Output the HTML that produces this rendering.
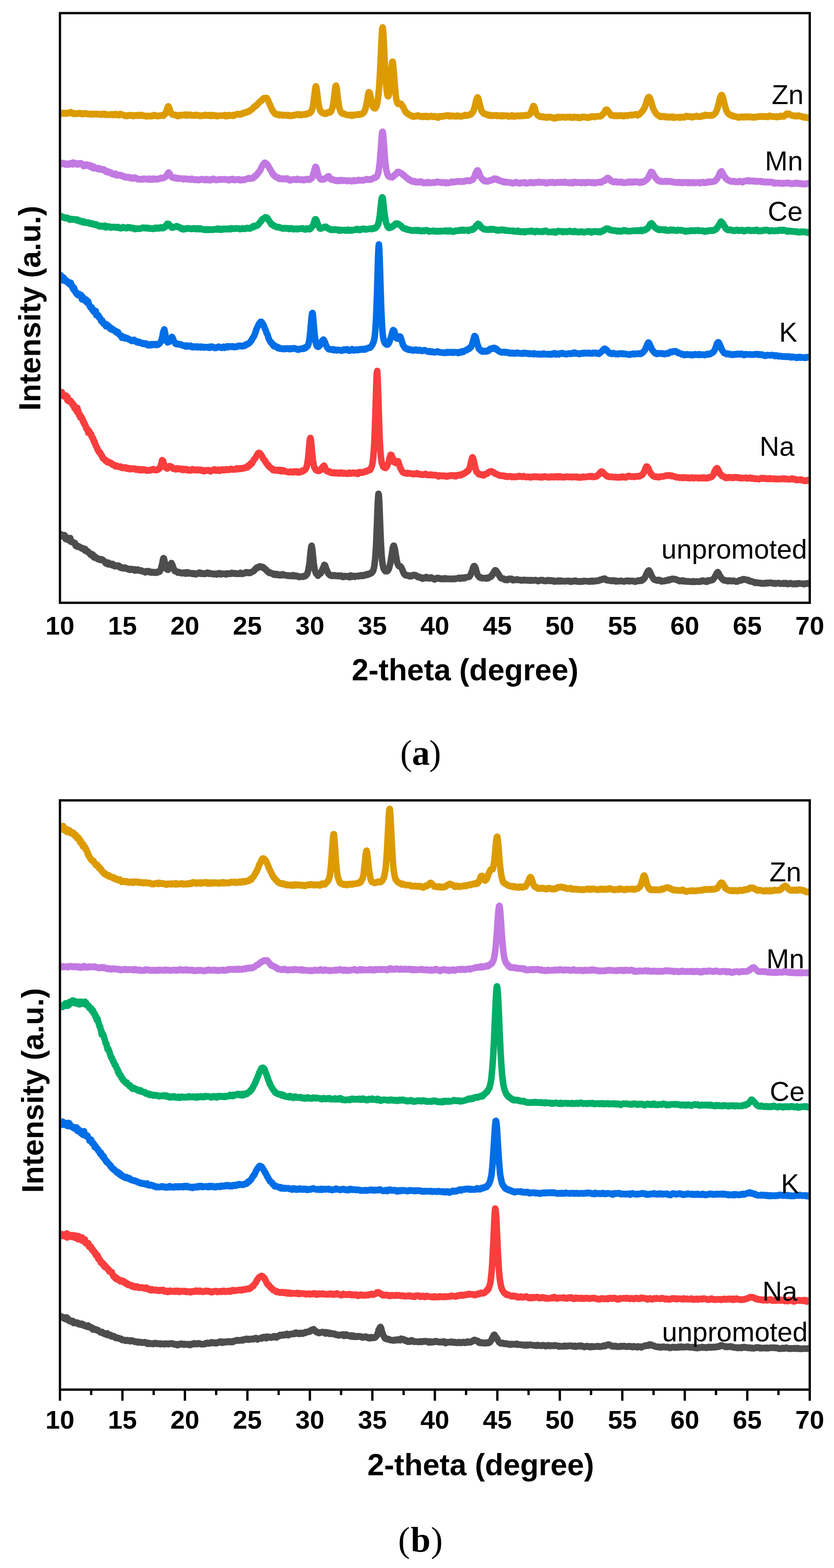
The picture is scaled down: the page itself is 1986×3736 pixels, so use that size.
<!DOCTYPE html>
<html><head><meta charset="utf-8"><title>XRD patterns</title>
<style>
html,body{margin:0;padding:0;background:#fff;}
body{width:1986px;height:3736px;overflow:hidden;}
svg{display:block;}
.tl{font-family:"Liberation Sans",Arial,sans-serif;font-weight:bold;font-size:62px;text-anchor:middle;fill:#000;}
.at{font-family:"Liberation Sans",Arial,sans-serif;font-weight:bold;font-size:72px;fill:#000;}
.lb{font-family:"Liberation Sans",Arial,sans-serif;font-size:65px;fill:#000;text-anchor:end;}
.cap{font-family:"Liberation Serif","Times New Roman",serif;font-size:85px;fill:#000;}
.cv polyline{fill:none;stroke-width:15.5;stroke-linejoin:round;stroke-linecap:round;}
</style></head>
<body>
<svg width="1986" height="3736" viewBox="0 0 1986 3736">
<rect x="0" y="0" width="1986" height="3736" fill="#fff"/>
<defs>
<clipPath id="ca"><rect x="145.5" y="34" width="1780" height="1399.5"/></clipPath>
<clipPath id="cb"><rect x="145.5" y="1910" width="1780" height="1398"/></clipPath>
</defs>
<g class="cv" clip-path="url(#ca)">
<polyline points="143.2,270.2 144.2,269.5 145.2,271.1 146.2,270.6 147.2,270.3 148.2,269.3 149.2,269.4 150.2,270.7 151.2,270.2 152.2,269.3 153.2,269.9 154.2,270.1 155.2,269.9 156.2,269.5 157.2,270.8 158.2,270.4 159.2,269.9 160.2,269.0 161.2,269.4 162.2,269.5 163.2,269.8 164.2,268.8 165.2,269.5 166.2,268.7 167.2,268.1 168.2,266.9 169.2,268.0 170.2,268.0 171.2,269.0 172.2,269.7 173.2,270.6 174.2,270.0 175.2,269.6 176.2,271.8 177.2,270.8 178.2,270.5 179.2,270.6 180.2,269.9 181.2,271.0 182.2,270.8 183.2,271.4 184.2,271.0 185.2,270.6 186.2,270.7 187.2,269.6 188.2,269.5 189.2,269.8 190.2,269.4 191.2,270.5 192.2,270.8 193.2,271.7 194.2,271.5 195.2,270.4 196.2,271.4 197.2,272.1 198.2,270.0 199.2,270.5 200.2,270.8 201.2,270.0 202.2,270.5 203.2,270.9 204.2,270.2 205.2,271.2 206.2,271.3 207.2,270.4 208.2,271.2 209.2,271.9 210.2,271.3 211.2,271.8 212.2,272.1 213.2,271.8 214.2,272.6 215.2,272.4 216.2,271.7 217.2,272.6 218.2,272.7 219.2,272.5 220.2,271.5 221.2,272.0 222.2,272.4 223.2,271.7 224.2,272.2 225.2,272.3 226.2,271.5 227.2,271.8 228.2,271.2 229.2,272.1 230.2,271.6 231.2,271.6 232.2,272.1 233.2,272.2 234.2,272.5 235.2,272.6 236.2,271.7 237.2,272.0 238.2,272.5 239.2,272.5 240.2,272.1 241.2,273.5 242.2,272.6 243.2,271.9 244.2,272.3 245.2,272.7 246.2,272.1 247.2,270.9 248.2,271.9 249.2,272.0 250.2,273.4 251.2,271.4 252.2,273.6 253.2,272.9 254.2,273.7 255.2,273.1 256.2,273.3 257.2,273.8 258.2,273.2 259.2,273.7 260.2,273.1 261.2,272.8 262.2,272.8 263.2,272.5 264.2,272.6 265.2,273.5 266.2,272.3 267.2,272.2 268.2,273.2 269.2,274.2 270.2,273.7 271.2,273.6 272.2,273.3 273.2,272.1 274.2,272.7 275.2,271.4 276.2,273.0 277.2,274.1 278.2,273.2 279.2,273.1 280.2,273.5 281.2,274.1 282.2,274.3 283.2,274.7 284.2,273.8 285.2,272.0 286.2,271.5 287.2,273.0 288.2,273.6 289.2,272.2 290.2,272.9 291.2,273.2 292.2,273.7 293.2,273.9 294.2,274.5 295.2,275.1 296.2,274.9 297.2,275.5 298.2,276.6 299.2,275.2 300.2,275.3 301.2,276.1 302.2,276.7 303.2,275.5 304.2,275.9 305.2,274.9 306.2,275.4 307.2,274.3 308.2,274.8 309.2,274.5 310.2,274.5 311.2,275.1 312.2,275.2 313.2,274.5 314.2,275.6 315.2,274.3 316.2,275.8 317.2,276.8 318.2,275.5 319.2,275.3 320.2,275.1 321.2,275.5 322.2,274.8 323.2,275.5 324.2,274.9 325.2,274.8 326.2,275.0 327.2,274.8 328.2,273.9 329.2,275.9 330.2,274.9 331.2,273.9 332.2,275.5 333.2,275.0 334.2,275.2 335.2,275.6 336.2,274.7 337.2,273.7 338.2,275.2 339.2,275.5 340.2,276.0 341.2,275.2 342.2,275.6 343.2,276.1 344.2,275.8 345.2,276.1 346.2,276.6 347.2,276.1 348.2,277.6 349.2,276.2 350.2,276.7 351.2,276.3 352.2,276.0 353.2,276.5 354.2,276.7 355.2,276.9 356.2,276.5 357.2,276.1 358.2,277.0 359.2,275.9 360.2,276.8 361.2,276.9 362.2,276.7 363.2,275.4 364.2,274.9 365.2,276.3 366.2,274.9 367.2,274.0 368.2,274.1 369.2,274.8 370.2,275.6 371.2,275.2 372.2,276.3 373.2,276.2 374.2,276.6 375.2,276.9 376.2,276.1 377.2,276.2 378.2,275.7 379.2,275.4 380.2,276.0 381.2,275.2 382.2,275.5 383.2,274.9 384.2,275.0 385.2,274.6 386.2,275.5 387.2,275.0 388.2,275.0 389.2,275.9 390.2,273.2 391.2,273.6 392.2,271.8 393.2,272.0 394.2,270.4 395.2,268.2 396.2,265.2 397.2,261.4 398.2,259.6 399.2,255.9 400.2,253.8 401.2,253.3 402.2,255.7 403.2,257.9 404.2,261.0 405.2,264.3 406.2,266.8 407.2,268.4 408.2,271.1 409.2,271.1 410.2,271.9 411.2,273.2 412.2,273.4 413.2,273.6 414.2,273.4 415.2,273.8 416.2,273.7 417.2,273.5 418.2,275.0 419.2,274.4 420.2,275.0 421.2,275.6 422.2,275.3 423.2,276.8 424.2,274.5 425.2,274.7 426.2,275.1 427.2,275.6 428.2,274.8 429.2,274.1 430.2,275.5 431.2,274.3 432.2,274.6 433.2,275.0 434.2,274.0 435.2,274.0 436.2,274.4 437.2,273.9 438.2,274.0 439.2,273.3 440.2,273.7 441.2,273.2 442.2,273.1 443.2,275.2 444.2,274.8 445.2,275.2 446.2,274.3 447.2,274.7 448.2,274.3 449.2,273.3 450.2,274.1 451.2,273.4 452.2,273.7 453.2,273.3 454.2,275.0 455.2,275.1 456.2,275.1 457.2,274.5 458.2,274.6 459.2,275.4 460.2,274.5 461.2,274.7 462.2,274.6 463.2,274.0 464.2,275.6 465.2,273.8 466.2,275.0 467.2,274.8 468.2,273.8 469.2,274.6 470.2,274.6 471.2,274.5 472.2,274.3 473.2,275.4 474.2,276.0 475.2,275.7 476.2,276.5 477.2,276.0 478.2,275.9 479.2,276.2 480.2,275.1 481.2,275.1 482.2,275.6 483.2,275.4 484.2,275.6 485.2,275.1 486.2,274.2 487.2,274.1 488.2,273.8 489.2,273.9 490.2,274.1 491.2,275.2 492.2,274.7 493.2,274.8 494.2,275.1 495.2,274.7 496.2,274.9 497.2,274.1 498.2,275.7 499.2,275.6 500.2,275.9 501.2,275.8 502.2,274.3 503.2,276.4 504.2,275.1 505.2,275.1 506.2,274.1 507.2,275.4 508.2,275.3 509.2,274.9 510.2,275.2 511.2,275.9 512.2,275.2 513.2,275.0 514.2,276.3 515.2,275.8 516.2,275.6 517.2,277.0 518.2,275.8 519.2,275.7 520.2,276.0 521.2,275.7 522.2,276.0 523.2,275.9 524.2,275.3 525.2,275.4 526.2,275.5 527.2,275.5 528.2,275.5 529.2,275.5 530.2,275.2 531.2,275.3 532.2,274.8 533.2,274.8 534.2,275.5 535.2,274.0 536.2,275.4 537.2,277.0 538.2,274.6 539.2,276.6 540.2,274.9 541.2,276.0 542.2,276.6 543.2,276.3 544.2,274.7 545.2,274.3 546.2,274.1 547.2,275.2 548.2,274.6 549.2,274.9 550.2,275.2 551.2,275.4 552.2,275.7 553.2,275.6 554.2,274.7 555.2,276.2 556.2,273.7 557.2,275.5 558.2,274.2 559.2,274.0 560.2,273.5 561.2,273.2 562.2,273.1 563.2,272.6 564.2,271.9 565.2,272.7 566.2,271.8 567.2,272.8 568.2,272.1 569.2,271.9 570.2,272.6 571.2,272.9 572.2,271.9 573.2,272.1 574.2,272.7 575.2,271.0 576.2,270.7 577.2,270.9 578.2,269.8 579.2,268.8 580.2,268.9 581.2,269.5 582.2,269.2 583.2,268.7 584.2,268.2 585.2,267.1 586.2,267.8 587.2,267.9 588.2,266.7 589.2,267.3 590.2,266.1 591.2,265.9 592.2,265.3 593.2,263.8 594.2,264.9 595.2,263.2 596.2,263.0 597.2,262.2 598.2,261.8 599.2,260.9 600.2,259.7 601.2,259.5 602.2,258.2 603.2,257.1 604.2,255.1 605.2,255.6 606.2,254.6 607.2,253.3 608.2,252.3 609.2,252.2 610.2,251.6 611.2,251.2 612.2,249.9 613.2,248.0 614.2,247.5 615.2,245.7 616.2,245.8 617.2,244.6 618.2,243.0 619.2,242.1 620.2,241.0 621.2,239.8 622.2,239.8 623.2,239.8 624.2,237.6 625.2,236.8 626.2,235.5 627.2,234.6 628.2,235.5 629.2,233.8 630.2,234.0 631.2,233.6 632.2,233.9 633.2,233.5 634.2,233.9 635.2,233.4 636.2,235.1 637.2,237.5 638.2,238.2 639.2,240.7 640.2,244.2 641.2,246.1 642.2,248.9 643.2,249.5 644.2,253.0 645.2,254.5 646.2,256.7 647.2,259.8 648.2,262.3 649.2,262.8 650.2,264.6 651.2,266.4 652.2,267.8 653.2,268.2 654.2,270.9 655.2,270.7 656.2,270.8 657.2,271.2 658.2,273.1 659.2,273.3 660.2,272.2 661.2,272.9 662.2,273.7 663.2,272.8 664.2,273.4 665.2,274.7 666.2,273.7 667.2,273.8 668.2,273.2 669.2,273.4 670.2,274.2 671.2,273.6 672.2,273.6 673.2,274.1 674.2,275.3 675.2,274.5 676.2,274.0 677.2,274.4 678.2,274.7 679.2,274.7 680.2,273.9 681.2,275.1 682.2,274.7 683.2,275.1 684.2,273.9 685.2,275.1 686.2,274.5 687.2,274.1 688.2,276.1 689.2,275.3 690.2,275.9 691.2,275.7 692.2,276.3 693.2,276.2 694.2,276.1 695.2,275.8 696.2,274.4 697.2,274.3 698.2,275.2 699.2,274.5 700.2,275.1 701.2,274.8 702.2,273.7 703.2,273.6 704.2,273.2 705.2,272.9 706.2,273.0 707.2,273.2 708.2,273.5 709.2,272.2 710.2,272.6 711.2,274.0 712.2,274.0 713.2,273.9 714.2,272.7 715.2,273.5 716.2,274.0 717.2,273.3 718.2,274.4 719.2,273.2 720.2,273.2 721.2,272.4 722.2,272.4 723.2,272.7 724.2,272.7 725.2,272.9 726.2,273.1 727.2,272.8 728.2,272.9 729.2,271.2 730.2,271.6 731.2,271.1 732.2,271.4 733.2,270.1 734.2,270.2 735.2,269.5 736.2,270.1 737.2,270.0 738.2,269.0 739.2,268.4 740.2,267.5 741.2,266.3 742.2,263.1 743.2,261.3 744.2,256.7 745.2,252.9 746.2,246.6 747.2,238.4 748.2,230.2 749.2,223.4 750.2,214.4 751.2,208.4 752.2,205.5 753.2,207.6 754.2,213.8 755.2,221.6 756.2,229.4 757.2,238.8 758.2,245.4 759.2,250.6 760.2,256.3 761.2,259.3 762.2,262.6 763.2,263.9 764.2,266.0 765.2,266.1 766.2,268.1 767.2,267.8 768.2,269.3 769.2,268.2 770.2,269.9 771.2,270.6 772.2,270.6 773.2,271.0 774.2,269.8 775.2,271.2 776.2,271.1 777.2,269.4 778.2,269.3 779.2,269.1 780.2,269.0 781.2,268.7 782.2,267.0 783.2,268.5 784.2,267.8 785.2,267.2 786.2,267.9 787.2,266.4 788.2,265.9 789.2,263.7 790.2,260.8 791.2,258.6 792.2,254.6 793.2,249.0 794.2,242.2 795.2,235.2 796.2,227.3 797.2,217.9 798.2,211.1 799.2,205.1 800.2,204.1 801.2,207.6 802.2,213.7 803.2,222.7 804.2,231.3 805.2,238.6 806.2,246.1 807.2,253.3 808.2,257.4 809.2,261.1 810.2,263.1 811.2,265.7 812.2,267.9 813.2,268.7 814.2,269.1 815.2,270.7 816.2,270.2 817.2,270.4 818.2,271.6 819.2,270.4 820.2,272.1 821.2,271.6 822.2,272.2 823.2,272.7 824.2,273.4 825.2,273.6 826.2,273.9 827.2,273.9 828.2,274.5 829.2,274.6 830.2,274.1 831.2,274.2 832.2,273.8 833.2,273.6 834.2,274.7 835.2,274.5 836.2,275.0 837.2,273.6 838.2,276.1 839.2,274.0 840.2,274.8 841.2,275.4 842.2,274.2 843.2,274.6 844.2,273.6 845.2,273.6 846.2,273.0 847.2,273.7 848.2,273.5 849.2,272.9 850.2,273.6 851.2,273.5 852.2,272.5 853.2,272.3 854.2,272.2 855.2,272.1 856.2,273.0 857.2,272.5 858.2,272.2 859.2,272.2 860.2,272.4 861.2,271.5 862.2,271.3 863.2,270.4 864.2,270.4 865.2,269.5 866.2,267.0 867.2,266.4 868.2,265.1 869.2,262.0 870.2,259.6 871.2,255.5 872.2,251.1 873.2,245.5 874.2,240.0 875.2,234.2 876.2,227.3 877.2,222.8 878.2,219.5 879.2,220.1 880.2,221.0 881.2,224.6 882.2,229.3 883.2,234.2 884.2,239.3 885.2,244.8 886.2,248.2 887.2,252.6 888.2,254.4 889.2,256.2 890.2,257.2 891.2,257.8 892.2,258.0 893.2,258.4 894.2,258.0 895.2,254.8 896.2,253.5 897.2,250.9 898.2,246.1 899.2,241.2 900.2,234.6 901.2,225.0 902.2,215.8 903.2,201.8 904.2,185.4 905.2,166.4 906.2,145.0 907.2,123.4 908.2,100.2 909.2,81.6 910.2,68.3 911.2,65.1 912.2,70.8 913.2,85.2 914.2,104.4 915.2,126.2 916.2,148.4 917.2,168.3 918.2,185.3 919.2,198.8 920.2,210.6 921.2,217.6 922.2,225.3 923.2,228.3 924.2,229.6 925.2,228.9 926.2,224.6 927.2,219.5 928.2,210.7 929.2,201.0 930.2,188.6 931.2,176.1 932.2,164.2 933.2,152.8 934.2,147.0 935.2,147.2 936.2,153.6 937.2,165.5 938.2,176.8 939.2,189.6 940.2,203.3 941.2,214.4 942.2,224.8 943.2,233.0 944.2,238.5 945.2,242.7 946.2,244.6 947.2,247.0 948.2,247.0 949.2,247.9 950.2,247.6 951.2,246.4 952.2,246.6 953.2,247.0 954.2,247.8 955.2,247.3 956.2,249.2 957.2,251.5 958.2,252.0 959.2,253.8 960.2,255.5 961.2,256.7 962.2,259.8 963.2,261.5 964.2,263.4 965.2,265.6 966.2,267.2 967.2,267.2 968.2,269.4 969.2,269.7 970.2,270.8 971.2,270.9 972.2,271.4 973.2,272.9 974.2,273.0 975.2,273.5 976.2,274.2 977.2,275.1 978.2,275.7 979.2,275.0 980.2,276.1 981.2,276.7 982.2,277.4 983.2,277.8 984.2,276.7 985.2,278.1 986.2,277.2 987.2,277.3 988.2,276.7 989.2,276.4 990.2,277.2 991.2,276.1 992.2,275.9 993.2,276.3 994.2,276.4 995.2,274.7 996.2,275.4 997.2,275.6 998.2,276.8 999.2,277.5 1000.2,276.6 1001.2,277.2 1002.2,277.8 1003.2,278.3 1004.2,277.8 1005.2,278.5 1006.2,277.7 1007.2,276.6 1008.2,277.2 1009.2,277.9 1010.2,278.1 1011.2,276.6 1012.2,276.9 1013.2,277.9 1014.2,276.3 1015.2,278.3 1016.2,278.6 1017.2,276.6 1018.2,278.5 1019.2,277.9 1020.2,278.7 1021.2,277.9 1022.2,277.4 1023.2,277.2 1024.2,277.4 1025.2,276.9 1026.2,276.8 1027.2,276.1 1028.2,277.4 1029.2,277.4 1030.2,278.6 1031.2,277.8 1032.2,277.7 1033.2,277.2 1034.2,277.6 1035.2,277.0 1036.2,276.9 1037.2,278.4 1038.2,279.0 1039.2,278.3 1040.2,278.3 1041.2,279.6 1042.2,278.7 1043.2,280.5 1044.2,278.7 1045.2,278.9 1046.2,277.4 1047.2,277.6 1048.2,277.8 1049.2,277.3 1050.2,276.7 1051.2,278.3 1052.2,277.4 1053.2,276.9 1054.2,276.7 1055.2,276.7 1056.2,277.4 1057.2,276.2 1058.2,276.4 1059.2,275.8 1060.2,276.6 1061.2,275.7 1062.2,276.0 1063.2,275.7 1064.2,275.1 1065.2,275.7 1066.2,275.8 1067.2,274.7 1068.2,275.6 1069.2,277.2 1070.2,275.4 1071.2,276.2 1072.2,275.5 1073.2,276.7 1074.2,276.3 1075.2,276.9 1076.2,276.4 1077.2,275.7 1078.2,276.7 1079.2,276.1 1080.2,275.8 1081.2,276.6 1082.2,276.3 1083.2,277.3 1084.2,277.1 1085.2,276.9 1086.2,277.3 1087.2,276.0 1088.2,276.9 1089.2,275.2 1090.2,277.0 1091.2,276.4 1092.2,276.4 1093.2,276.3 1094.2,277.2 1095.2,276.9 1096.2,276.9 1097.2,277.4 1098.2,276.5 1099.2,276.5 1100.2,276.7 1101.2,276.9 1102.2,276.1 1103.2,276.0 1104.2,275.7 1105.2,275.7 1106.2,275.7 1107.2,274.1 1108.2,274.2 1109.2,274.1 1110.2,274.5 1111.2,275.1 1112.2,274.5 1113.2,274.8 1114.2,275.3 1115.2,273.9 1116.2,273.8 1117.2,273.6 1118.2,273.4 1119.2,273.0 1120.2,272.1 1121.2,272.7 1122.2,270.6 1123.2,270.0 1124.2,269.6 1125.2,268.3 1126.2,266.3 1127.2,264.5 1128.2,262.2 1129.2,258.7 1130.2,255.6 1131.2,251.0 1132.2,247.5 1133.2,242.4 1134.2,238.7 1135.2,235.0 1136.2,233.7 1137.2,231.8 1138.2,233.1 1139.2,235.0 1140.2,239.0 1141.2,243.3 1142.2,247.3 1143.2,252.3 1144.2,254.8 1145.2,259.5 1146.2,263.5 1147.2,264.1 1148.2,266.4 1149.2,267.0 1150.2,268.9 1151.2,268.9 1152.2,271.0 1153.2,271.1 1154.2,270.9 1155.2,271.5 1156.2,271.6 1157.2,272.5 1158.2,273.3 1159.2,273.0 1160.2,273.0 1161.2,273.7 1162.2,274.7 1163.2,273.6 1164.2,275.4 1165.2,275.4 1166.2,273.8 1167.2,275.8 1168.2,274.4 1169.2,275.3 1170.2,276.1 1171.2,274.7 1172.2,274.7 1173.2,275.2 1174.2,275.4 1175.2,275.9 1176.2,275.5 1177.2,275.3 1178.2,275.0 1179.2,275.0 1180.2,274.6 1181.2,275.3 1182.2,275.2 1183.2,274.7 1184.2,276.4 1185.2,274.8 1186.2,276.0 1187.2,275.3 1188.2,275.9 1189.2,276.1 1190.2,276.2 1191.2,276.4 1192.2,275.1 1193.2,276.9 1194.2,275.5 1195.2,274.9 1196.2,274.7 1197.2,276.9 1198.2,276.6 1199.2,275.8 1200.2,276.2 1201.2,276.4 1202.2,275.6 1203.2,275.3 1204.2,275.5 1205.2,276.0 1206.2,275.7 1207.2,275.3 1208.2,276.7 1209.2,275.7 1210.2,276.5 1211.2,277.8 1212.2,277.4 1213.2,277.4 1214.2,277.1 1215.2,277.3 1216.2,276.5 1217.2,275.2 1218.2,276.3 1219.2,274.6 1220.2,275.2 1221.2,277.3 1222.2,277.1 1223.2,276.6 1224.2,276.9 1225.2,277.1 1226.2,277.5 1227.2,276.3 1228.2,275.9 1229.2,275.7 1230.2,275.9 1231.2,275.8 1232.2,275.5 1233.2,276.3 1234.2,275.5 1235.2,276.3 1236.2,276.1 1237.2,275.9 1238.2,276.9 1239.2,275.9 1240.2,275.3 1241.2,275.7 1242.2,275.2 1243.2,276.0 1244.2,276.2 1245.2,276.2 1246.2,275.0 1247.2,275.3 1248.2,276.1 1249.2,274.9 1250.2,275.6 1251.2,275.7 1252.2,274.2 1253.2,275.5 1254.2,275.2 1255.2,275.2 1256.2,275.5 1257.2,274.7 1258.2,274.2 1259.2,274.1 1260.2,273.0 1261.2,272.5 1262.2,270.0 1263.2,270.4 1264.2,267.3 1265.2,265.5 1266.2,262.8 1267.2,259.9 1268.2,257.2 1269.2,254.8 1270.2,252.5 1271.2,252.9 1272.2,255.2 1273.2,256.6 1274.2,259.8 1275.2,264.8 1276.2,267.5 1277.2,270.2 1278.2,271.5 1279.2,273.2 1280.2,274.6 1281.2,275.5 1282.2,275.9 1283.2,275.8 1284.2,276.7 1285.2,276.7 1286.2,278.5 1287.2,277.7 1288.2,278.0 1289.2,278.3 1290.2,278.1 1291.2,278.4 1292.2,277.8 1293.2,277.4 1294.2,279.3 1295.2,278.3 1296.2,278.8 1297.2,279.0 1298.2,279.4 1299.2,279.8 1300.2,280.2 1301.2,279.2 1302.2,279.7 1303.2,279.1 1304.2,280.0 1305.2,278.8 1306.2,279.5 1307.2,279.8 1308.2,278.7 1309.2,279.3 1310.2,279.2 1311.2,278.7 1312.2,279.0 1313.2,279.9 1314.2,279.8 1315.2,279.8 1316.2,280.3 1317.2,281.0 1318.2,281.7 1319.2,281.6 1320.2,281.7 1321.2,282.2 1322.2,280.6 1323.2,280.6 1324.2,279.9 1325.2,281.0 1326.2,278.9 1327.2,279.6 1328.2,279.7 1329.2,278.6 1330.2,279.1 1331.2,279.5 1332.2,280.0 1333.2,278.9 1334.2,279.7 1335.2,279.8 1336.2,279.4 1337.2,279.3 1338.2,279.7 1339.2,279.1 1340.2,278.9 1341.2,278.7 1342.2,279.2 1343.2,278.8 1344.2,279.4 1345.2,279.3 1346.2,280.0 1347.2,279.1 1348.2,279.4 1349.2,279.3 1350.2,279.0 1351.2,279.1 1352.2,278.6 1353.2,278.9 1354.2,279.5 1355.2,279.1 1356.2,278.4 1357.2,278.4 1358.2,279.7 1359.2,279.4 1360.2,279.9 1361.2,279.8 1362.2,280.6 1363.2,280.5 1364.2,279.3 1365.2,279.8 1366.2,279.4 1367.2,278.7 1368.2,279.4 1369.2,278.8 1370.2,279.0 1371.2,280.0 1372.2,279.4 1373.2,279.5 1374.2,279.0 1375.2,279.0 1376.2,280.5 1377.2,280.0 1378.2,280.4 1379.2,280.1 1380.2,280.2 1381.2,281.2 1382.2,279.6 1383.2,279.5 1384.2,279.5 1385.2,279.4 1386.2,278.6 1387.2,278.2 1388.2,278.9 1389.2,279.2 1390.2,279.0 1391.2,279.0 1392.2,279.1 1393.2,279.4 1394.2,279.5 1395.2,278.9 1396.2,279.6 1397.2,280.3 1398.2,280.2 1399.2,279.6 1400.2,280.1 1401.2,280.2 1402.2,280.4 1403.2,279.0 1404.2,279.8 1405.2,278.8 1406.2,278.8 1407.2,278.7 1408.2,277.6 1409.2,277.4 1410.2,277.6 1411.2,278.0 1412.2,277.4 1413.2,277.2 1414.2,277.8 1415.2,278.5 1416.2,279.0 1417.2,278.2 1418.2,278.1 1419.2,277.9 1420.2,277.6 1421.2,276.9 1422.2,276.9 1423.2,277.2 1424.2,277.2 1425.2,277.3 1426.2,276.9 1427.2,277.1 1428.2,276.8 1429.2,277.4 1430.2,277.1 1431.2,276.0 1432.2,276.0 1433.2,274.4 1434.2,273.6 1435.2,272.2 1436.2,272.0 1437.2,270.4 1438.2,269.3 1439.2,267.9 1440.2,265.8 1441.2,263.6 1442.2,262.6 1443.2,261.5 1444.2,261.1 1445.2,261.6 1446.2,261.9 1447.2,263.2 1448.2,265.7 1449.2,267.1 1450.2,268.1 1451.2,269.1 1452.2,270.6 1453.2,272.1 1454.2,273.4 1455.2,275.0 1456.2,274.5 1457.2,275.2 1458.2,275.2 1459.2,275.4 1460.2,275.1 1461.2,274.6 1462.2,275.7 1463.2,275.4 1464.2,276.2 1465.2,275.5 1466.2,276.1 1467.2,276.4 1468.2,275.1 1469.2,275.4 1470.2,276.4 1471.2,276.1 1472.2,275.2 1473.2,275.7 1474.2,275.4 1475.2,275.5 1476.2,276.3 1477.2,275.1 1478.2,276.3 1479.2,275.1 1480.2,274.9 1481.2,276.1 1482.2,276.0 1483.2,276.4 1484.2,276.9 1485.2,276.6 1486.2,276.7 1487.2,275.1 1488.2,275.3 1489.2,275.6 1490.2,275.3 1491.2,275.6 1492.2,275.0 1493.2,275.7 1494.2,276.0 1495.2,275.0 1496.2,274.8 1497.2,274.5 1498.2,274.7 1499.2,274.4 1500.2,274.1 1501.2,274.6 1502.2,274.6 1503.2,273.6 1504.2,274.5 1505.2,274.3 1506.2,274.3 1507.2,273.8 1508.2,274.2 1509.2,274.0 1510.2,273.0 1511.2,273.2 1512.2,273.2 1513.2,273.1 1514.2,272.2 1515.2,272.2 1516.2,273.0 1517.2,272.7 1518.2,274.9 1519.2,273.2 1520.2,273.1 1521.2,273.5 1522.2,272.3 1523.2,270.6 1524.2,271.0 1525.2,269.6 1526.2,268.8 1527.2,267.1 1528.2,266.4 1529.2,265.6 1530.2,264.4 1531.2,262.6 1532.2,261.3 1533.2,259.6 1534.2,258.2 1535.2,255.8 1536.2,252.7 1537.2,250.8 1538.2,246.9 1539.2,244.2 1540.2,240.2 1541.2,237.7 1542.2,234.7 1543.2,232.7 1544.2,231.5 1545.2,231.1 1546.2,231.7 1547.2,233.3 1548.2,235.0 1549.2,238.5 1550.2,240.6 1551.2,243.9 1552.2,248.1 1553.2,251.3 1554.2,255.2 1555.2,257.5 1556.2,260.2 1557.2,261.6 1558.2,263.9 1559.2,266.0 1560.2,267.3 1561.2,268.8 1562.2,270.3 1563.2,271.2 1564.2,272.4 1565.2,273.0 1566.2,274.6 1567.2,274.7 1568.2,274.9 1569.2,275.9 1570.2,276.0 1571.2,277.4 1572.2,278.4 1573.2,278.0 1574.2,277.6 1575.2,277.1 1576.2,278.7 1577.2,277.9 1578.2,277.0 1579.2,278.0 1580.2,276.7 1581.2,277.3 1582.2,277.5 1583.2,277.6 1584.2,277.4 1585.2,279.4 1586.2,278.2 1587.2,278.8 1588.2,278.8 1589.2,278.1 1590.2,278.8 1591.2,279.3 1592.2,279.8 1593.2,279.3 1594.2,279.7 1595.2,279.4 1596.2,279.7 1597.2,278.1 1598.2,279.4 1599.2,278.7 1600.2,278.7 1601.2,277.7 1602.2,278.8 1603.2,279.8 1604.2,280.7 1605.2,279.3 1606.2,279.4 1607.2,279.9 1608.2,279.8 1609.2,279.2 1610.2,279.2 1611.2,279.0 1612.2,279.3 1613.2,279.4 1614.2,279.9 1615.2,279.7 1616.2,279.7 1617.2,279.6 1618.2,280.0 1619.2,278.8 1620.2,280.2 1621.2,279.0 1622.2,279.5 1623.2,278.5 1624.2,279.6 1625.2,279.5 1626.2,279.3 1627.2,279.2 1628.2,279.0 1629.2,280.0 1630.2,279.3 1631.2,278.2 1632.2,277.8 1633.2,277.1 1634.2,276.5 1635.2,276.7 1636.2,277.4 1637.2,277.8 1638.2,277.3 1639.2,278.3 1640.2,278.2 1641.2,278.1 1642.2,277.2 1643.2,278.1 1644.2,278.4 1645.2,277.9 1646.2,277.5 1647.2,279.6 1648.2,278.9 1649.2,278.3 1650.2,279.1 1651.2,278.6 1652.2,278.0 1653.2,277.5 1654.2,277.6 1655.2,277.8 1656.2,277.1 1657.2,277.1 1658.2,277.7 1659.2,276.2 1660.2,277.8 1661.2,277.7 1662.2,277.9 1663.2,277.9 1664.2,278.3 1665.2,278.3 1666.2,278.3 1667.2,278.1 1668.2,278.2 1669.2,277.3 1670.2,277.7 1671.2,276.0 1672.2,276.7 1673.2,276.7 1674.2,275.7 1675.2,276.0 1676.2,276.6 1677.2,275.6 1678.2,274.8 1679.2,273.5 1680.2,274.9 1681.2,274.6 1682.2,274.8 1683.2,275.5 1684.2,274.5 1685.2,274.7 1686.2,274.4 1687.2,274.7 1688.2,274.8 1689.2,275.2 1690.2,275.1 1691.2,274.4 1692.2,274.6 1693.2,275.5 1694.2,274.3 1695.2,275.1 1696.2,275.3 1697.2,274.5 1698.2,273.8 1699.2,273.7 1700.2,272.4 1701.2,271.4 1702.2,270.3 1703.2,269.8 1704.2,268.2 1705.2,266.9 1706.2,263.8 1707.2,261.3 1708.2,258.3 1709.2,255.4 1710.2,251.3 1711.2,248.3 1712.2,244.0 1713.2,239.3 1714.2,234.4 1715.2,231.3 1716.2,229.9 1717.2,227.1 1718.2,226.4 1719.2,226.8 1720.2,229.2 1721.2,231.0 1722.2,234.6 1723.2,238.8 1724.2,243.8 1725.2,248.1 1726.2,251.9 1727.2,255.3 1728.2,258.0 1729.2,262.1 1730.2,264.1 1731.2,266.4 1732.2,268.2 1733.2,269.4 1734.2,270.5 1735.2,271.5 1736.2,271.8 1737.2,273.1 1738.2,273.3 1739.2,274.3 1740.2,273.4 1741.2,275.5 1742.2,275.5 1743.2,275.9 1744.2,275.9 1745.2,276.2 1746.2,276.0 1747.2,277.4 1748.2,277.0 1749.2,277.6 1750.2,277.8 1751.2,277.4 1752.2,277.8 1753.2,278.1 1754.2,279.1 1755.2,278.9 1756.2,279.1 1757.2,279.6 1758.2,279.3 1759.2,280.3 1760.2,278.8 1761.2,279.8 1762.2,279.7 1763.2,278.3 1764.2,279.1 1765.2,278.7 1766.2,279.0 1767.2,278.0 1768.2,278.9 1769.2,278.4 1770.2,278.8 1771.2,279.8 1772.2,279.0 1773.2,277.9 1774.2,278.3 1775.2,278.4 1776.2,279.3 1777.2,278.4 1778.2,277.8 1779.2,279.0 1780.2,278.4 1781.2,278.4 1782.2,277.9 1783.2,279.2 1784.2,278.6 1785.2,277.8 1786.2,278.4 1787.2,278.6 1788.2,278.9 1789.2,279.3 1790.2,278.4 1791.2,278.5 1792.2,280.0 1793.2,279.1 1794.2,279.0 1795.2,279.4 1796.2,278.7 1797.2,279.5 1798.2,279.6 1799.2,278.7 1800.2,279.4 1801.2,278.7 1802.2,278.9 1803.2,278.3 1804.2,278.1 1805.2,277.6 1806.2,278.3 1807.2,277.9 1808.2,277.9 1809.2,277.3 1810.2,277.2 1811.2,277.3 1812.2,277.7 1813.2,277.5 1814.2,277.0 1815.2,277.5 1816.2,278.2 1817.2,277.3 1818.2,278.3 1819.2,277.5 1820.2,278.0 1821.2,277.2 1822.2,278.2 1823.2,277.2 1824.2,278.1 1825.2,278.0 1826.2,277.3 1827.2,277.7 1828.2,278.9 1829.2,278.3 1830.2,278.4 1831.2,277.6 1832.2,275.7 1833.2,277.2 1834.2,276.8 1835.2,276.9 1836.2,277.0 1837.2,277.0 1838.2,277.0 1839.2,278.1 1840.2,277.7 1841.2,277.2 1842.2,277.4 1843.2,278.3 1844.2,278.1 1845.2,278.2 1846.2,277.6 1847.2,278.2 1848.2,277.9 1849.2,277.6 1850.2,279.1 1851.2,278.5 1852.2,278.3 1853.2,277.7 1854.2,278.2 1855.2,278.4 1856.2,277.4 1857.2,277.4 1858.2,276.2 1859.2,276.9 1860.2,276.9 1861.2,277.5 1862.2,276.8 1863.2,276.4 1864.2,276.9 1865.2,276.8 1866.2,277.6 1867.2,276.9 1868.2,276.1 1869.2,275.2 1870.2,274.7 1871.2,273.2 1872.2,272.1 1873.2,270.9 1874.2,271.8 1875.2,271.0 1876.2,270.9 1877.2,270.7 1878.2,271.9 1879.2,271.3 1880.2,273.1 1881.2,272.8 1882.2,273.7 1883.2,273.8 1884.2,274.9 1885.2,274.9 1886.2,275.5 1887.2,275.2 1888.2,275.0 1889.2,276.1 1890.2,276.6 1891.2,276.5 1892.2,276.3 1893.2,276.6 1894.2,275.7 1895.2,276.4 1896.2,277.1 1897.2,276.7 1898.2,275.9 1899.2,276.7 1900.2,276.1 1901.2,276.4 1902.2,275.4 1903.2,276.0 1904.2,276.7 1905.2,276.9 1906.2,277.3 1907.2,277.2 1908.2,277.3 1909.2,277.9 1910.2,278.5 1911.2,277.7 1912.2,278.7 1913.2,279.1 1914.2,279.5 1915.2,280.1 1916.2,279.0 1917.2,279.9 1918.2,278.9 1919.2,279.5 1920.2,279.9 1921.2,280.4 1922.2,280.5 1923.2,280.9 1924.2,281.3 1925.2,281.6 1926.2,281.1 1927.2,281.6 1927.8,282.3" stroke="#DC9B00"/>
<polyline points="143.2,389.8 144.2,391.6 145.2,389.9 146.2,390.6 147.2,390.1 148.2,388.3 149.2,389.4 150.2,390.4 151.2,389.9 152.2,389.9 153.2,389.1 154.2,391.6 155.2,389.6 156.2,392.3 157.2,391.0 158.2,391.9 159.2,389.9 160.2,391.6 161.2,390.5 162.2,391.3 163.2,392.2 164.2,391.0 165.2,390.6 166.2,391.1 167.2,388.7 168.2,390.0 169.2,389.2 170.2,391.0 171.2,389.1 172.2,391.4 173.2,391.8 174.2,387.3 175.2,389.3 176.2,387.8 177.2,390.8 178.2,388.8 179.2,390.6 180.2,390.5 181.2,389.5 182.2,389.0 183.2,391.8 184.2,390.0 185.2,390.8 186.2,391.9 187.2,390.3 188.2,389.8 189.2,388.9 190.2,390.5 191.2,389.3 192.2,388.8 193.2,390.3 194.2,390.8 195.2,390.3 196.2,392.2 197.2,393.8 198.2,394.0 199.2,395.9 200.2,395.2 201.2,394.4 202.2,392.0 203.2,394.0 204.2,394.7 205.2,392.9 206.2,394.4 207.2,391.9 208.2,393.2 209.2,393.9 210.2,395.0 211.2,393.6 212.2,396.0 213.2,394.2 214.2,393.5 215.2,395.9 216.2,398.0 217.2,396.8 218.2,399.0 219.2,397.5 220.2,399.7 221.2,396.2 222.2,400.9 223.2,397.4 224.2,399.7 225.2,399.0 226.2,400.6 227.2,400.2 228.2,400.2 229.2,401.3 230.2,401.8 231.2,400.9 232.2,402.7 233.2,400.3 234.2,401.2 235.2,401.2 236.2,403.2 237.2,403.8 238.2,402.7 239.2,402.6 240.2,402.2 241.2,403.8 242.2,404.3 243.2,403.0 244.2,403.6 245.2,403.8 246.2,404.7 247.2,405.6 248.2,403.9 249.2,405.9 250.2,407.6 251.2,406.7 252.2,409.0 253.2,409.6 254.2,407.9 255.2,408.4 256.2,410.5 257.2,408.5 258.2,409.4 259.2,409.4 260.2,411.1 261.2,411.7 262.2,412.0 263.2,412.1 264.2,411.0 265.2,413.4 266.2,412.8 267.2,413.1 268.2,415.2 269.2,414.3 270.2,414.7 271.2,415.1 272.2,416.1 273.2,414.8 274.2,415.6 275.2,413.8 276.2,415.1 277.2,417.8 278.2,418.1 279.2,416.9 280.2,416.7 281.2,416.7 282.2,417.0 283.2,417.6 284.2,416.8 285.2,417.9 286.2,417.9 287.2,417.2 288.2,417.3 289.2,417.7 290.2,418.7 291.2,419.4 292.2,420.5 293.2,419.4 294.2,420.8 295.2,421.3 296.2,421.6 297.2,422.0 298.2,421.1 299.2,422.2 300.2,423.0 301.2,421.8 302.2,422.5 303.2,422.2 304.2,422.0 305.2,421.7 306.2,422.3 307.2,423.7 308.2,422.7 309.2,422.5 310.2,423.1 311.2,424.4 312.2,423.9 313.2,425.2 314.2,425.3 315.2,424.9 316.2,425.6 317.2,423.4 318.2,423.6 319.2,423.6 320.2,423.9 321.2,422.9 322.2,423.6 323.2,425.1 324.2,424.5 325.2,425.8 326.2,425.5 327.2,425.6 328.2,426.7 329.2,427.5 330.2,427.0 331.2,426.5 332.2,427.0 333.2,427.3 334.2,427.4 335.2,426.9 336.2,427.8 337.2,426.6 338.2,427.6 339.2,426.2 340.2,426.0 341.2,427.1 342.2,426.6 343.2,425.9 344.2,425.8 345.2,426.1 346.2,426.5 347.2,426.8 348.2,427.4 349.2,426.3 350.2,426.8 351.2,426.8 352.2,425.9 353.2,427.5 354.2,427.9 355.2,427.0 356.2,426.1 357.2,426.8 358.2,427.9 359.2,426.2 360.2,426.2 361.2,427.0 362.2,427.6 363.2,427.8 364.2,427.8 365.2,425.5 366.2,426.4 367.2,426.0 368.2,426.0 369.2,427.1 370.2,427.0 371.2,426.4 372.2,427.0 373.2,427.0 374.2,427.6 375.2,426.4 376.2,427.0 377.2,425.9 378.2,426.3 379.2,425.7 380.2,425.5 381.2,425.0 382.2,425.6 383.2,424.0 384.2,423.7 385.2,423.8 386.2,424.5 387.2,424.7 388.2,424.2 389.2,423.7 390.2,423.6 391.2,422.9 392.2,422.9 393.2,421.8 394.2,421.2 395.2,420.1 396.2,418.9 397.2,418.0 398.2,415.2 399.2,413.9 400.2,412.3 401.2,410.8 402.2,412.5 403.2,412.8 404.2,413.7 405.2,416.9 406.2,418.5 407.2,420.1 408.2,420.9 409.2,421.8 410.2,422.8 411.2,422.4 412.2,423.5 413.2,423.4 414.2,423.9 415.2,423.4 416.2,424.0 417.2,423.0 418.2,423.7 419.2,424.8 420.2,425.5 421.2,425.4 422.2,424.2 423.2,424.7 424.2,425.1 425.2,426.1 426.2,424.9 427.2,425.3 428.2,425.4 429.2,425.4 430.2,425.2 431.2,425.6 432.2,426.0 433.2,425.6 434.2,425.4 435.2,426.0 436.2,426.6 437.2,427.4 438.2,425.6 439.2,426.7 440.2,426.8 441.2,426.0 442.2,426.4 443.2,426.1 444.2,425.9 445.2,426.2 446.2,427.2 447.2,426.5 448.2,427.0 449.2,427.5 450.2,427.2 451.2,427.2 452.2,427.0 453.2,427.3 454.2,428.2 455.2,426.0 456.2,427.0 457.2,425.9 458.2,425.9 459.2,427.2 460.2,427.6 461.2,428.0 462.2,428.0 463.2,428.7 464.2,427.9 465.2,428.4 466.2,428.6 467.2,428.0 468.2,427.5 469.2,428.9 470.2,428.0 471.2,427.7 472.2,428.8 473.2,429.3 474.2,428.9 475.2,427.8 476.2,428.3 477.2,428.1 478.2,428.0 479.2,426.6 480.2,426.5 481.2,427.3 482.2,427.3 483.2,427.7 484.2,428.4 485.2,427.3 486.2,427.6 487.2,428.1 488.2,429.2 489.2,428.1 490.2,428.6 491.2,426.6 492.2,428.0 493.2,428.4 494.2,428.8 495.2,427.6 496.2,429.3 497.2,427.8 498.2,429.3 499.2,429.5 500.2,428.5 501.2,427.6 502.2,429.4 503.2,428.0 504.2,426.8 505.2,427.4 506.2,426.3 507.2,426.9 508.2,426.4 509.2,426.1 510.2,428.1 511.2,427.7 512.2,428.3 513.2,428.7 514.2,428.6 515.2,428.4 516.2,428.9 517.2,428.9 518.2,428.4 519.2,427.8 520.2,427.6 521.2,428.2 522.2,427.8 523.2,426.9 524.2,427.4 525.2,427.6 526.2,427.8 527.2,427.6 528.2,427.9 529.2,427.3 530.2,427.7 531.2,427.4 532.2,427.4 533.2,427.4 534.2,427.5 535.2,426.9 536.2,427.0 537.2,427.9 538.2,427.8 539.2,428.5 540.2,427.8 541.2,428.1 542.2,427.7 543.2,428.6 544.2,428.6 545.2,429.5 546.2,428.8 547.2,429.2 548.2,427.6 549.2,426.7 550.2,427.9 551.2,427.3 552.2,427.9 553.2,426.7 554.2,426.3 555.2,428.3 556.2,427.8 557.2,427.5 558.2,429.3 559.2,428.2 560.2,427.9 561.2,428.6 562.2,428.0 563.2,427.8 564.2,428.3 565.2,427.9 566.2,427.7 567.2,427.6 568.2,426.9 569.2,428.2 570.2,429.1 571.2,428.4 572.2,429.1 573.2,429.6 574.2,428.4 575.2,428.1 576.2,428.0 577.2,428.2 578.2,428.8 579.2,428.1 580.2,428.7 581.2,427.6 582.2,428.8 583.2,427.6 584.2,427.5 585.2,427.3 586.2,426.7 587.2,426.3 588.2,426.2 589.2,425.4 590.2,425.4 591.2,424.6 592.2,424.6 593.2,424.4 594.2,425.8 595.2,425.1 596.2,425.8 597.2,425.5 598.2,425.3 599.2,424.8 600.2,424.9 601.2,424.6 602.2,424.8 603.2,423.1 604.2,422.3 605.2,421.0 606.2,422.1 607.2,419.6 608.2,419.7 609.2,418.8 610.2,416.8 611.2,416.2 612.2,415.8 613.2,414.1 614.2,412.1 615.2,411.5 616.2,410.9 617.2,408.9 618.2,407.5 619.2,406.4 620.2,405.1 621.2,402.0 622.2,399.7 623.2,398.1 624.2,396.1 625.2,393.9 626.2,393.1 627.2,391.2 628.2,391.3 629.2,389.5 630.2,387.5 631.2,388.2 632.2,389.2 633.2,389.0 634.2,389.5 635.2,390.4 636.2,391.4 637.2,393.6 638.2,394.5 639.2,396.0 640.2,398.7 641.2,399.3 642.2,401.9 643.2,403.1 644.2,405.2 645.2,406.9 646.2,408.2 647.2,410.1 648.2,412.8 649.2,412.7 650.2,415.8 651.2,416.3 652.2,417.8 653.2,417.5 654.2,419.2 655.2,419.6 656.2,421.4 657.2,420.8 658.2,422.4 659.2,421.8 660.2,423.4 661.2,422.9 662.2,423.0 663.2,423.5 664.2,424.5 665.2,426.2 666.2,424.8 667.2,425.2 668.2,425.6 669.2,425.7 670.2,425.9 671.2,426.8 672.2,425.8 673.2,425.2 674.2,426.5 675.2,425.8 676.2,425.8 677.2,426.0 678.2,426.8 679.2,426.6 680.2,425.9 681.2,425.7 682.2,426.2 683.2,425.6 684.2,425.2 685.2,426.3 686.2,427.9 687.2,427.6 688.2,428.3 689.2,429.8 690.2,429.9 691.2,429.8 692.2,428.2 693.2,428.6 694.2,428.8 695.2,428.5 696.2,427.6 697.2,427.7 698.2,427.4 699.2,427.5 700.2,428.0 701.2,428.0 702.2,427.3 703.2,428.3 704.2,428.0 705.2,428.5 706.2,427.3 707.2,427.6 708.2,426.1 709.2,427.9 710.2,427.9 711.2,428.1 712.2,427.8 713.2,427.9 714.2,427.9 715.2,428.8 716.2,427.6 717.2,428.3 718.2,428.7 719.2,428.3 720.2,428.0 721.2,428.4 722.2,428.8 723.2,429.5 724.2,428.3 725.2,427.3 726.2,429.0 727.2,428.2 728.2,428.4 729.2,427.9 730.2,427.8 731.2,426.6 732.2,428.0 733.2,427.1 734.2,428.2 735.2,426.8 736.2,428.5 737.2,427.7 738.2,426.2 739.2,427.1 740.2,426.3 741.2,425.3 742.2,423.5 743.2,423.9 744.2,420.5 745.2,418.9 746.2,414.0 747.2,412.0 748.2,407.9 749.2,403.5 750.2,400.6 751.2,397.4 752.2,397.8 753.2,399.4 754.2,403.0 755.2,406.4 756.2,411.5 757.2,415.3 758.2,418.5 759.2,421.3 760.2,423.0 761.2,424.4 762.2,425.7 763.2,426.8 764.2,426.3 765.2,427.1 766.2,428.0 767.2,427.6 768.2,426.7 769.2,427.8 770.2,426.1 771.2,426.7 772.2,427.1 773.2,426.5 774.2,425.9 775.2,424.7 776.2,423.8 777.2,424.3 778.2,423.3 779.2,423.1 780.2,421.0 781.2,420.0 782.2,420.2 783.2,420.1 784.2,422.0 785.2,423.5 786.2,424.8 787.2,426.9 788.2,427.7 789.2,427.1 790.2,427.3 791.2,428.6 792.2,428.7 793.2,427.8 794.2,428.5 795.2,428.9 796.2,429.1 797.2,429.8 798.2,429.6 799.2,430.8 800.2,430.7 801.2,429.5 802.2,430.2 803.2,430.3 804.2,431.4 805.2,430.2 806.2,430.8 807.2,431.0 808.2,429.3 809.2,429.8 810.2,429.5 811.2,430.0 812.2,429.0 813.2,429.9 814.2,429.5 815.2,431.0 816.2,429.6 817.2,430.5 818.2,429.5 819.2,429.8 820.2,429.7 821.2,430.2 822.2,430.4 823.2,430.8 824.2,431.1 825.2,430.5 826.2,430.1 827.2,431.4 828.2,430.0 829.2,430.6 830.2,430.2 831.2,430.3 832.2,430.8 833.2,430.3 834.2,431.1 835.2,431.2 836.2,431.9 837.2,431.9 838.2,431.5 839.2,430.9 840.2,431.5 841.2,430.7 842.2,429.3 843.2,430.2 844.2,430.4 845.2,430.0 846.2,430.9 847.2,430.7 848.2,430.5 849.2,431.0 850.2,430.3 851.2,429.7 852.2,430.0 853.2,428.6 854.2,430.0 855.2,429.0 856.2,429.3 857.2,429.8 858.2,429.9 859.2,429.2 860.2,429.5 861.2,429.9 862.2,430.2 863.2,429.0 864.2,429.7 865.2,429.0 866.2,429.1 867.2,429.4 868.2,429.0 869.2,428.1 870.2,427.8 871.2,427.9 872.2,426.8 873.2,427.6 874.2,426.7 875.2,428.3 876.2,427.6 877.2,428.1 878.2,427.5 879.2,428.3 880.2,427.9 881.2,428.1 882.2,427.6 883.2,427.8 884.2,427.1 885.2,427.0 886.2,425.9 887.2,425.3 888.2,425.1 889.2,424.6 890.2,424.1 891.2,423.2 892.2,423.2 893.2,423.7 894.2,422.9 895.2,422.5 896.2,421.2 897.2,421.0 898.2,418.4 899.2,416.5 900.2,413.2 901.2,409.9 902.2,403.0 903.2,395.8 904.2,387.9 905.2,375.8 906.2,364.1 907.2,350.0 908.2,335.9 909.2,323.8 910.2,314.3 911.2,313.7 912.2,319.5 913.2,330.6 914.2,342.8 915.2,357.6 916.2,372.3 917.2,382.3 918.2,393.2 919.2,400.6 920.2,406.8 921.2,410.1 922.2,413.6 923.2,416.3 924.2,418.8 925.2,420.1 926.2,420.1 927.2,421.4 928.2,421.9 929.2,421.8 930.2,422.0 931.2,421.7 932.2,422.1 933.2,422.0 934.2,422.6 935.2,421.8 936.2,420.5 937.2,420.0 938.2,418.6 939.2,416.9 940.2,417.5 941.2,416.6 942.2,414.7 943.2,414.6 944.2,413.4 945.2,412.3 946.2,410.0 947.2,410.5 948.2,410.5 949.2,409.6 950.2,409.9 951.2,411.0 952.2,412.0 953.2,411.9 954.2,412.2 955.2,412.5 956.2,413.0 957.2,413.9 958.2,415.2 959.2,415.5 960.2,417.3 961.2,416.6 962.2,417.7 963.2,419.2 964.2,420.3 965.2,421.2 966.2,421.3 967.2,422.2 968.2,423.9 969.2,423.9 970.2,424.6 971.2,426.1 972.2,426.7 973.2,427.2 974.2,428.7 975.2,427.5 976.2,429.1 977.2,429.2 978.2,430.7 979.2,430.2 980.2,431.5 981.2,431.1 982.2,432.8 983.2,431.5 984.2,432.7 985.2,431.4 986.2,431.8 987.2,432.7 988.2,432.0 989.2,432.7 990.2,434.3 991.2,434.3 992.2,433.7 993.2,434.5 994.2,434.2 995.2,434.1 996.2,433.2 997.2,434.0 998.2,432.9 999.2,433.9 1000.2,432.4 1001.2,434.3 1002.2,432.8 1003.2,432.8 1004.2,433.4 1005.2,434.7 1006.2,435.0 1007.2,434.7 1008.2,435.6 1009.2,436.3 1010.2,435.5 1011.2,436.0 1012.2,436.1 1013.2,436.1 1014.2,434.6 1015.2,436.1 1016.2,435.1 1017.2,435.2 1018.2,435.8 1019.2,433.8 1020.2,435.6 1021.2,435.2 1022.2,435.9 1023.2,435.2 1024.2,435.8 1025.2,435.8 1026.2,434.9 1027.2,435.7 1028.2,435.4 1029.2,435.7 1030.2,435.1 1031.2,434.5 1032.2,435.0 1033.2,434.8 1034.2,435.1 1035.2,435.7 1036.2,434.5 1037.2,434.3 1038.2,434.8 1039.2,434.4 1040.2,433.0 1041.2,433.8 1042.2,433.1 1043.2,433.6 1044.2,433.9 1045.2,434.2 1046.2,434.1 1047.2,434.3 1048.2,434.4 1049.2,435.1 1050.2,434.8 1051.2,434.2 1052.2,435.6 1053.2,435.3 1054.2,434.6 1055.2,434.7 1056.2,435.1 1057.2,435.1 1058.2,435.2 1059.2,434.4 1060.2,435.2 1061.2,436.5 1062.2,434.7 1063.2,434.9 1064.2,435.7 1065.2,436.0 1066.2,435.7 1067.2,436.2 1068.2,436.0 1069.2,435.5 1070.2,435.7 1071.2,435.2 1072.2,435.0 1073.2,434.6 1074.2,433.3 1075.2,433.4 1076.2,432.9 1077.2,433.4 1078.2,433.8 1079.2,434.2 1080.2,433.4 1081.2,434.0 1082.2,433.4 1083.2,433.1 1084.2,433.0 1085.2,432.7 1086.2,433.1 1087.2,432.1 1088.2,432.8 1089.2,432.0 1090.2,432.8 1091.2,431.6 1092.2,432.0 1093.2,432.2 1094.2,432.2 1095.2,432.7 1096.2,432.9 1097.2,432.1 1098.2,432.1 1099.2,433.1 1100.2,432.6 1101.2,432.4 1102.2,432.5 1103.2,433.0 1104.2,433.0 1105.2,431.4 1106.2,431.8 1107.2,431.5 1108.2,430.7 1109.2,431.3 1110.2,430.9 1111.2,429.9 1112.2,430.7 1113.2,429.9 1114.2,431.0 1115.2,431.0 1116.2,431.0 1117.2,431.3 1118.2,430.6 1119.2,431.1 1120.2,429.9 1121.2,430.0 1122.2,428.9 1123.2,428.7 1124.2,428.8 1125.2,428.2 1126.2,427.7 1127.2,425.5 1128.2,423.9 1129.2,421.8 1130.2,420.5 1131.2,417.2 1132.2,414.1 1133.2,411.5 1134.2,409.7 1135.2,408.0 1136.2,406.1 1137.2,405.8 1138.2,406.5 1139.2,408.6 1140.2,411.1 1141.2,413.0 1142.2,415.6 1143.2,419.1 1144.2,421.5 1145.2,422.8 1146.2,423.8 1147.2,425.1 1148.2,426.9 1149.2,426.7 1150.2,427.7 1151.2,429.9 1152.2,429.3 1153.2,430.2 1154.2,432.0 1155.2,430.9 1156.2,432.0 1157.2,431.3 1158.2,431.1 1159.2,432.1 1160.2,432.0 1161.2,432.4 1162.2,431.0 1163.2,431.6 1164.2,431.0 1165.2,430.8 1166.2,430.2 1167.2,429.3 1168.2,430.2 1169.2,429.9 1170.2,429.9 1171.2,429.6 1172.2,429.1 1173.2,428.2 1174.2,426.9 1175.2,426.4 1176.2,426.6 1177.2,425.3 1178.2,426.1 1179.2,426.9 1180.2,426.1 1181.2,427.7 1182.2,426.1 1183.2,427.6 1184.2,426.7 1185.2,428.4 1186.2,429.5 1187.2,429.0 1188.2,429.0 1189.2,429.5 1190.2,430.9 1191.2,431.4 1192.2,431.6 1193.2,431.5 1194.2,431.5 1195.2,431.9 1196.2,432.1 1197.2,432.1 1198.2,433.6 1199.2,433.8 1200.2,433.9 1201.2,434.3 1202.2,433.3 1203.2,433.0 1204.2,434.3 1205.2,434.1 1206.2,433.7 1207.2,434.5 1208.2,434.1 1209.2,434.7 1210.2,434.7 1211.2,434.2 1212.2,434.8 1213.2,434.7 1214.2,435.3 1215.2,435.2 1216.2,434.9 1217.2,435.8 1218.2,435.7 1219.2,435.9 1220.2,436.1 1221.2,437.3 1222.2,436.4 1223.2,436.0 1224.2,435.7 1225.2,434.9 1226.2,435.3 1227.2,434.8 1228.2,434.1 1229.2,434.5 1230.2,434.3 1231.2,434.7 1232.2,434.7 1233.2,436.2 1234.2,436.3 1235.2,436.1 1236.2,436.6 1237.2,437.0 1238.2,436.0 1239.2,436.8 1240.2,435.8 1241.2,435.0 1242.2,436.2 1243.2,435.6 1244.2,435.7 1245.2,435.3 1246.2,435.6 1247.2,434.9 1248.2,435.2 1249.2,434.4 1250.2,435.1 1251.2,435.1 1252.2,435.7 1253.2,437.1 1254.2,435.9 1255.2,436.6 1256.2,436.2 1257.2,436.5 1258.2,435.8 1259.2,435.8 1260.2,434.9 1261.2,436.1 1262.2,435.1 1263.2,434.9 1264.2,433.9 1265.2,435.3 1266.2,435.4 1267.2,435.0 1268.2,435.7 1269.2,435.7 1270.2,436.4 1271.2,434.7 1272.2,435.6 1273.2,435.3 1274.2,435.3 1275.2,434.2 1276.2,434.2 1277.2,434.0 1278.2,435.0 1279.2,434.6 1280.2,434.8 1281.2,434.5 1282.2,434.3 1283.2,433.5 1284.2,434.1 1285.2,435.1 1286.2,434.8 1287.2,434.3 1288.2,434.5 1289.2,434.6 1290.2,434.6 1291.2,434.7 1292.2,434.4 1293.2,434.5 1294.2,434.8 1295.2,434.7 1296.2,434.2 1297.2,436.0 1298.2,435.3 1299.2,435.4 1300.2,436.5 1301.2,436.8 1302.2,436.3 1303.2,436.5 1304.2,435.5 1305.2,435.2 1306.2,434.5 1307.2,435.2 1308.2,434.6 1309.2,435.1 1310.2,434.1 1311.2,434.8 1312.2,434.4 1313.2,435.2 1314.2,434.3 1315.2,435.0 1316.2,434.0 1317.2,434.6 1318.2,435.0 1319.2,436.1 1320.2,434.8 1321.2,435.3 1322.2,435.8 1323.2,435.3 1324.2,435.0 1325.2,435.0 1326.2,434.4 1327.2,434.8 1328.2,435.0 1329.2,434.1 1330.2,435.3 1331.2,434.5 1332.2,434.4 1333.2,435.0 1334.2,434.9 1335.2,434.8 1336.2,433.9 1337.2,434.3 1338.2,434.1 1339.2,435.0 1340.2,434.5 1341.2,434.2 1342.2,433.9 1343.2,434.2 1344.2,435.0 1345.2,433.2 1346.2,433.9 1347.2,435.0 1348.2,435.3 1349.2,435.1 1350.2,435.5 1351.2,435.6 1352.2,435.4 1353.2,435.7 1354.2,436.0 1355.2,435.9 1356.2,434.9 1357.2,435.4 1358.2,435.1 1359.2,435.9 1360.2,434.5 1361.2,434.5 1362.2,434.3 1363.2,436.7 1364.2,435.7 1365.2,434.6 1366.2,435.0 1367.2,433.4 1368.2,434.0 1369.2,435.2 1370.2,434.2 1371.2,433.9 1372.2,434.7 1373.2,435.0 1374.2,435.4 1375.2,435.4 1376.2,435.1 1377.2,434.5 1378.2,435.1 1379.2,435.1 1380.2,434.4 1381.2,435.5 1382.2,435.2 1383.2,436.0 1384.2,435.3 1385.2,434.5 1386.2,434.3 1387.2,435.5 1388.2,435.1 1389.2,434.9 1390.2,435.2 1391.2,434.3 1392.2,435.9 1393.2,435.5 1394.2,435.7 1395.2,436.1 1396.2,435.6 1397.2,434.2 1398.2,434.9 1399.2,434.2 1400.2,434.7 1401.2,434.2 1402.2,434.5 1403.2,434.0 1404.2,434.3 1405.2,434.3 1406.2,435.1 1407.2,434.5 1408.2,434.7 1409.2,435.8 1410.2,435.1 1411.2,435.9 1412.2,434.4 1413.2,434.5 1414.2,435.0 1415.2,435.8 1416.2,435.1 1417.2,436.5 1418.2,435.0 1419.2,436.0 1420.2,434.6 1421.2,434.5 1422.2,434.9 1423.2,434.6 1424.2,434.3 1425.2,434.1 1426.2,434.3 1427.2,433.8 1428.2,434.9 1429.2,434.2 1430.2,433.9 1431.2,433.0 1432.2,434.7 1433.2,433.2 1434.2,432.5 1435.2,432.1 1436.2,431.0 1437.2,431.5 1438.2,430.2 1439.2,429.8 1440.2,430.4 1441.2,428.7 1442.2,427.4 1443.2,427.6 1444.2,425.4 1445.2,425.8 1446.2,424.1 1447.2,424.2 1448.2,424.1 1449.2,424.6 1450.2,425.9 1451.2,427.5 1452.2,427.9 1453.2,428.4 1454.2,429.1 1455.2,431.5 1456.2,431.2 1457.2,431.7 1458.2,432.9 1459.2,433.4 1460.2,433.8 1461.2,433.5 1462.2,432.9 1463.2,434.0 1464.2,433.4 1465.2,433.1 1466.2,432.4 1467.2,433.0 1468.2,433.0 1469.2,433.5 1470.2,434.4 1471.2,434.0 1472.2,434.1 1473.2,434.1 1474.2,433.3 1475.2,433.8 1476.2,434.3 1477.2,434.1 1478.2,433.4 1479.2,433.2 1480.2,434.1 1481.2,434.1 1482.2,434.3 1483.2,435.2 1484.2,434.6 1485.2,435.5 1486.2,435.3 1487.2,435.7 1488.2,434.9 1489.2,435.1 1490.2,435.2 1491.2,434.8 1492.2,434.7 1493.2,434.4 1494.2,435.2 1495.2,433.0 1496.2,434.5 1497.2,434.0 1498.2,433.4 1499.2,433.6 1500.2,433.1 1501.2,434.1 1502.2,434.3 1503.2,434.2 1504.2,434.9 1505.2,433.1 1506.2,433.3 1507.2,433.6 1508.2,434.2 1509.2,434.0 1510.2,433.3 1511.2,433.8 1512.2,434.1 1513.2,432.7 1514.2,433.5 1515.2,433.6 1516.2,433.8 1517.2,434.0 1518.2,433.7 1519.2,433.2 1520.2,433.9 1521.2,434.4 1522.2,434.9 1523.2,435.4 1524.2,434.9 1525.2,434.8 1526.2,435.0 1527.2,433.1 1528.2,433.6 1529.2,433.6 1530.2,433.7 1531.2,434.1 1532.2,433.4 1533.2,432.1 1534.2,432.6 1535.2,431.3 1536.2,431.3 1537.2,430.1 1538.2,429.3 1539.2,428.7 1540.2,427.3 1541.2,426.7 1542.2,425.5 1543.2,424.6 1544.2,422.5 1545.2,420.3 1546.2,417.7 1547.2,416.4 1548.2,414.2 1549.2,411.3 1550.2,409.5 1551.2,410.1 1552.2,409.8 1553.2,410.9 1554.2,411.7 1555.2,414.0 1556.2,415.5 1557.2,417.3 1558.2,419.8 1559.2,420.5 1560.2,422.7 1561.2,424.2 1562.2,425.1 1563.2,426.5 1564.2,427.1 1565.2,427.3 1566.2,430.1 1567.2,429.9 1568.2,430.5 1569.2,430.5 1570.2,431.7 1571.2,431.8 1572.2,431.3 1573.2,432.7 1574.2,432.6 1575.2,431.3 1576.2,432.8 1577.2,432.1 1578.2,432.9 1579.2,432.7 1580.2,432.8 1581.2,432.4 1582.2,432.7 1583.2,431.6 1584.2,431.5 1585.2,431.5 1586.2,431.5 1587.2,432.9 1588.2,431.9 1589.2,432.5 1590.2,432.1 1591.2,432.0 1592.2,432.6 1593.2,431.8 1594.2,432.5 1595.2,432.8 1596.2,432.3 1597.2,432.4 1598.2,432.3 1599.2,433.1 1600.2,433.5 1601.2,433.9 1602.2,433.4 1603.2,433.8 1604.2,433.5 1605.2,434.2 1606.2,434.5 1607.2,434.4 1608.2,434.6 1609.2,435.1 1610.2,435.2 1611.2,435.3 1612.2,434.5 1613.2,434.2 1614.2,434.2 1615.2,434.0 1616.2,434.7 1617.2,435.6 1618.2,434.8 1619.2,434.1 1620.2,434.5 1621.2,434.5 1622.2,435.4 1623.2,435.3 1624.2,436.2 1625.2,435.3 1626.2,435.0 1627.2,435.5 1628.2,434.2 1629.2,434.5 1630.2,435.1 1631.2,434.8 1632.2,435.1 1633.2,434.6 1634.2,434.4 1635.2,435.1 1636.2,435.7 1637.2,434.8 1638.2,434.5 1639.2,434.2 1640.2,436.1 1641.2,434.5 1642.2,435.1 1643.2,434.9 1644.2,435.8 1645.2,434.5 1646.2,434.5 1647.2,435.3 1648.2,434.4 1649.2,435.6 1650.2,436.1 1651.2,435.6 1652.2,434.2 1653.2,435.1 1654.2,435.2 1655.2,435.9 1656.2,436.1 1657.2,435.9 1658.2,435.5 1659.2,435.4 1660.2,435.3 1661.2,434.8 1662.2,434.7 1663.2,434.4 1664.2,434.8 1665.2,435.7 1666.2,434.7 1667.2,436.5 1668.2,436.0 1669.2,435.9 1670.2,435.0 1671.2,434.5 1672.2,434.8 1673.2,433.9 1674.2,433.7 1675.2,434.3 1676.2,434.3 1677.2,435.6 1678.2,435.2 1679.2,435.5 1680.2,435.3 1681.2,435.1 1682.2,435.4 1683.2,434.7 1684.2,435.0 1685.2,433.0 1686.2,434.0 1687.2,434.1 1688.2,433.6 1689.2,432.8 1690.2,433.6 1691.2,433.3 1692.2,433.9 1693.2,433.6 1694.2,433.4 1695.2,432.9 1696.2,432.8 1697.2,432.6 1698.2,432.9 1699.2,432.3 1700.2,432.5 1701.2,432.4 1702.2,431.5 1703.2,431.0 1704.2,429.8 1705.2,428.7 1706.2,427.8 1707.2,426.5 1708.2,424.5 1709.2,423.6 1710.2,421.9 1711.2,419.7 1712.2,417.7 1713.2,414.5 1714.2,413.6 1715.2,410.5 1716.2,409.5 1717.2,409.5 1718.2,408.1 1719.2,410.1 1720.2,411.5 1721.2,414.4 1722.2,415.0 1723.2,417.5 1724.2,418.1 1725.2,421.0 1726.2,421.7 1727.2,423.1 1728.2,425.3 1729.2,425.6 1730.2,426.2 1731.2,428.0 1732.2,428.4 1733.2,428.8 1734.2,428.9 1735.2,429.9 1736.2,430.2 1737.2,431.2 1738.2,431.5 1739.2,431.8 1740.2,431.7 1741.2,432.0 1742.2,432.6 1743.2,431.7 1744.2,432.4 1745.2,432.3 1746.2,432.4 1747.2,431.3 1748.2,433.0 1749.2,433.0 1750.2,433.5 1751.2,433.3 1752.2,433.5 1753.2,433.1 1754.2,433.0 1755.2,433.6 1756.2,432.8 1757.2,432.7 1758.2,433.2 1759.2,433.1 1760.2,432.2 1761.2,431.2 1762.2,432.5 1763.2,432.9 1764.2,432.6 1765.2,432.4 1766.2,432.2 1767.2,433.0 1768.2,434.4 1769.2,433.2 1770.2,432.5 1771.2,431.9 1772.2,432.3 1773.2,431.1 1774.2,431.4 1775.2,431.4 1776.2,431.3 1777.2,431.5 1778.2,431.2 1779.2,430.4 1780.2,429.9 1781.2,431.1 1782.2,429.6 1783.2,430.3 1784.2,432.1 1785.2,430.5 1786.2,431.7 1787.2,430.6 1788.2,431.2 1789.2,431.5 1790.2,431.8 1791.2,431.2 1792.2,430.9 1793.2,431.7 1794.2,431.0 1795.2,431.0 1796.2,432.3 1797.2,431.2 1798.2,432.2 1799.2,432.2 1800.2,431.3 1801.2,431.7 1802.2,432.0 1803.2,432.7 1804.2,432.1 1805.2,432.5 1806.2,431.8 1807.2,432.3 1808.2,431.7 1809.2,432.5 1810.2,432.3 1811.2,432.7 1812.2,432.7 1813.2,431.6 1814.2,433.8 1815.2,433.3 1816.2,432.8 1817.2,433.4 1818.2,433.2 1819.2,434.0 1820.2,433.4 1821.2,433.6 1822.2,434.2 1823.2,433.1 1824.2,433.2 1825.2,434.1 1826.2,433.3 1827.2,434.5 1828.2,433.4 1829.2,433.5 1830.2,434.3 1831.2,434.6 1832.2,433.7 1833.2,433.5 1834.2,433.1 1835.2,433.7 1836.2,433.9 1837.2,433.7 1838.2,434.3 1839.2,435.3 1840.2,435.3 1841.2,434.3 1842.2,436.7 1843.2,436.8 1844.2,435.9 1845.2,437.3 1846.2,436.2 1847.2,437.0 1848.2,436.8 1849.2,436.1 1850.2,436.6 1851.2,436.4 1852.2,436.4 1853.2,435.5 1854.2,436.4 1855.2,435.8 1856.2,436.6 1857.2,436.5 1858.2,436.6 1859.2,435.9 1860.2,437.6 1861.2,437.0 1862.2,436.8 1863.2,436.6 1864.2,437.0 1865.2,437.6 1866.2,436.0 1867.2,437.2 1868.2,436.2 1869.2,436.1 1870.2,436.5 1871.2,436.3 1872.2,435.8 1873.2,436.0 1874.2,436.5 1875.2,435.8 1876.2,435.2 1877.2,435.7 1878.2,435.8 1879.2,437.0 1880.2,436.4 1881.2,436.1 1882.2,436.6 1883.2,438.1 1884.2,438.0 1885.2,437.2 1886.2,437.1 1887.2,438.1 1888.2,437.0 1889.2,437.4 1890.2,437.7 1891.2,437.5 1892.2,436.4 1893.2,436.9 1894.2,435.7 1895.2,436.6 1896.2,436.3 1897.2,435.9 1898.2,437.6 1899.2,436.9 1900.2,437.1 1901.2,436.5 1902.2,438.0 1903.2,437.4 1904.2,436.6 1905.2,437.9 1906.2,437.7 1907.2,438.4 1908.2,437.0 1909.2,438.5 1910.2,438.0 1911.2,438.6 1912.2,438.5 1913.2,438.9 1914.2,437.7 1915.2,438.6 1916.2,438.0 1917.2,439.1 1918.2,438.5 1919.2,438.4 1920.2,438.2 1921.2,437.8 1922.2,436.9 1923.2,437.2 1924.2,436.3 1925.2,437.1 1926.2,437.2 1927.2,437.4 1927.8,437.7" stroke="#C279E2"/>
<polyline points="143.2,515.4 144.2,515.9 145.2,514.8 146.2,515.3 147.2,515.8 148.2,517.4 149.2,518.1 150.2,518.1 151.2,517.5 152.2,517.8 153.2,518.6 154.2,519.3 155.2,518.4 156.2,519.7 157.2,518.6 158.2,519.2 159.2,520.3 160.2,519.0 161.2,518.9 162.2,520.0 163.2,521.4 164.2,521.2 165.2,522.3 166.2,523.7 167.2,522.3 168.2,523.6 169.2,523.1 170.2,521.4 171.2,523.1 172.2,523.1 173.2,523.3 174.2,522.8 175.2,523.0 176.2,522.5 177.2,522.4 178.2,523.3 179.2,524.0 180.2,523.0 181.2,524.8 182.2,523.2 183.2,524.0 184.2,522.9 185.2,525.7 186.2,525.5 187.2,526.4 188.2,524.9 189.2,527.3 190.2,526.9 191.2,526.5 192.2,527.0 193.2,526.5 194.2,527.9 195.2,529.1 196.2,528.1 197.2,529.4 198.2,528.4 199.2,527.5 200.2,529.4 201.2,530.6 202.2,530.5 203.2,529.2 204.2,530.8 205.2,530.9 206.2,530.6 207.2,530.3 208.2,531.3 209.2,530.5 210.2,530.2 211.2,531.3 212.2,530.4 213.2,531.8 214.2,533.0 215.2,532.0 216.2,533.1 217.2,533.7 218.2,532.3 219.2,533.4 220.2,533.5 221.2,533.6 222.2,533.4 223.2,535.0 224.2,533.7 225.2,534.5 226.2,535.3 227.2,536.2 228.2,534.3 229.2,534.7 230.2,535.2 231.2,536.0 232.2,537.3 233.2,537.2 234.2,537.8 235.2,539.0 236.2,537.9 237.2,538.3 238.2,539.5 239.2,538.8 240.2,538.1 241.2,538.2 242.2,539.5 243.2,538.2 244.2,538.4 245.2,539.4 246.2,539.8 247.2,540.1 248.2,538.6 249.2,539.8 250.2,537.6 251.2,539.4 252.2,541.9 253.2,541.2 254.2,540.8 255.2,539.9 256.2,539.6 257.2,541.0 258.2,540.1 259.2,539.7 260.2,540.7 261.2,540.8 262.2,540.2 263.2,540.6 264.2,542.6 265.2,540.9 266.2,542.2 267.2,541.1 268.2,540.9 269.2,540.6 270.2,541.0 271.2,541.0 272.2,541.5 273.2,540.9 274.2,541.9 275.2,541.5 276.2,541.4 277.2,542.2 278.2,542.1 279.2,540.9 280.2,541.9 281.2,540.9 282.2,541.5 283.2,543.3 284.2,543.4 285.2,542.7 286.2,543.3 287.2,543.7 288.2,544.0 289.2,543.9 290.2,542.3 291.2,542.5 292.2,542.5 293.2,541.0 294.2,542.0 295.2,542.8 296.2,542.7 297.2,542.8 298.2,542.8 299.2,543.4 300.2,543.8 301.2,543.4 302.2,543.7 303.2,542.9 304.2,541.2 305.2,542.2 306.2,541.7 307.2,542.3 308.2,541.8 309.2,543.0 310.2,542.3 311.2,543.6 312.2,543.2 313.2,543.2 314.2,542.7 315.2,542.7 316.2,544.2 317.2,543.4 318.2,543.8 319.2,545.1 320.2,545.3 321.2,545.9 322.2,544.9 323.2,544.2 324.2,544.5 325.2,545.1 326.2,544.3 327.2,544.5 328.2,544.6 329.2,544.7 330.2,545.0 331.2,544.9 332.2,545.2 333.2,545.2 334.2,544.4 335.2,544.8 336.2,544.0 337.2,543.5 338.2,543.0 339.2,543.3 340.2,542.6 341.2,543.5 342.2,542.5 343.2,543.6 344.2,542.6 345.2,543.6 346.2,543.3 347.2,543.4 348.2,543.1 349.2,543.7 350.2,544.1 351.2,542.7 352.2,543.7 353.2,543.9 354.2,544.2 355.2,544.3 356.2,543.6 357.2,544.9 358.2,544.0 359.2,544.8 360.2,544.6 361.2,544.2 362.2,544.0 363.2,544.6 364.2,545.6 365.2,545.1 366.2,544.3 367.2,544.7 368.2,544.8 369.2,544.8 370.2,542.5 371.2,543.9 372.2,544.1 373.2,543.3 374.2,542.7 375.2,544.5 376.2,543.3 377.2,542.5 378.2,542.6 379.2,543.3 380.2,544.0 381.2,543.1 382.2,542.0 383.2,543.2 384.2,541.5 385.2,543.2 386.2,543.3 387.2,543.8 388.2,543.2 389.2,543.2 390.2,542.3 391.2,541.5 392.2,541.1 393.2,541.3 394.2,538.7 395.2,537.6 396.2,535.7 397.2,534.7 398.2,533.2 399.2,533.2 400.2,533.2 401.2,533.2 402.2,534.3 403.2,535.2 404.2,536.0 405.2,538.5 406.2,539.8 407.2,540.2 408.2,541.7 409.2,542.4 410.2,541.5 411.2,542.4 412.2,542.0 413.2,541.2 414.2,541.3 415.2,541.2 416.2,540.3 417.2,539.8 418.2,540.1 419.2,539.4 420.2,539.3 421.2,538.8 422.2,539.9 423.2,540.9 424.2,540.2 425.2,540.4 426.2,541.4 427.2,542.3 428.2,542.2 429.2,542.2 430.2,544.5 431.2,543.8 432.2,544.1 433.2,543.4 434.2,545.9 435.2,544.9 436.2,546.7 437.2,546.4 438.2,546.1 439.2,545.6 440.2,545.9 441.2,544.7 442.2,545.0 443.2,544.3 444.2,544.4 445.2,545.4 446.2,545.1 447.2,543.8 448.2,543.8 449.2,544.3 450.2,544.2 451.2,544.8 452.2,544.5 453.2,544.4 454.2,545.6 455.2,545.1 456.2,545.5 457.2,544.4 458.2,545.6 459.2,544.7 460.2,544.6 461.2,544.8 462.2,543.8 463.2,545.3 464.2,544.8 465.2,544.5 466.2,545.4 467.2,546.1 468.2,544.7 469.2,546.0 470.2,543.9 471.2,545.2 472.2,544.6 473.2,544.9 474.2,545.8 475.2,545.1 476.2,544.1 477.2,546.1 478.2,545.0 479.2,545.5 480.2,545.4 481.2,546.0 482.2,545.8 483.2,546.9 484.2,546.3 485.2,546.8 486.2,546.7 487.2,547.7 488.2,546.7 489.2,546.5 490.2,547.7 491.2,547.4 492.2,546.8 493.2,547.9 494.2,546.3 495.2,547.7 496.2,547.9 497.2,546.6 498.2,547.6 499.2,547.8 500.2,547.2 501.2,547.2 502.2,547.2 503.2,546.8 504.2,546.6 505.2,547.7 506.2,547.4 507.2,547.2 508.2,547.3 509.2,546.4 510.2,546.3 511.2,546.8 512.2,546.3 513.2,546.5 514.2,546.7 515.2,546.9 516.2,545.2 517.2,545.2 518.2,544.6 519.2,545.0 520.2,545.8 521.2,545.4 522.2,547.2 523.2,545.9 524.2,545.4 525.2,546.0 526.2,547.6 527.2,545.9 528.2,546.3 529.2,545.9 530.2,545.7 531.2,546.9 532.2,545.4 533.2,544.8 534.2,545.1 535.2,544.9 536.2,545.5 537.2,545.3 538.2,546.1 539.2,545.5 540.2,545.9 541.2,546.0 542.2,546.4 543.2,545.2 544.2,545.8 545.2,544.5 546.2,545.6 547.2,545.1 548.2,545.0 549.2,546.0 550.2,545.4 551.2,543.7 552.2,545.5 553.2,545.2 554.2,544.7 555.2,544.6 556.2,544.7 557.2,544.7 558.2,545.0 559.2,544.3 560.2,544.9 561.2,544.0 562.2,543.8 563.2,544.1 564.2,544.5 565.2,544.8 566.2,544.8 567.2,544.2 568.2,544.5 569.2,544.5 570.2,545.5 571.2,546.2 572.2,545.9 573.2,545.7 574.2,545.3 575.2,545.0 576.2,544.6 577.2,545.3 578.2,543.9 579.2,544.2 580.2,545.1 581.2,544.7 582.2,545.3 583.2,544.6 584.2,545.0 585.2,544.6 586.2,543.5 587.2,544.2 588.2,544.3 589.2,543.1 590.2,543.3 591.2,543.6 592.2,544.2 593.2,543.6 594.2,544.8 595.2,543.3 596.2,544.5 597.2,542.7 598.2,542.6 599.2,541.6 600.2,542.2 601.2,541.5 602.2,539.7 603.2,538.8 604.2,541.1 605.2,539.3 606.2,538.1 607.2,538.1 608.2,538.0 609.2,538.9 610.2,538.1 611.2,537.7 612.2,536.9 613.2,537.3 614.2,535.1 615.2,535.6 616.2,534.2 617.2,532.1 618.2,530.2 619.2,529.4 620.2,528.3 621.2,528.1 622.2,526.6 623.2,524.1 624.2,523.1 625.2,521.9 626.2,522.3 627.2,521.1 628.2,521.1 629.2,520.1 630.2,519.0 631.2,518.1 632.2,517.4 633.2,518.6 634.2,517.9 635.2,519.7 636.2,519.3 637.2,519.9 638.2,522.6 639.2,523.6 640.2,525.9 641.2,526.8 642.2,528.2 643.2,530.1 644.2,530.5 645.2,532.5 646.2,534.6 647.2,534.4 648.2,534.6 649.2,535.8 650.2,535.9 651.2,536.8 652.2,538.6 653.2,537.8 654.2,538.2 655.2,539.7 656.2,539.5 657.2,539.9 658.2,539.9 659.2,540.7 660.2,541.7 661.2,541.4 662.2,541.0 663.2,541.2 664.2,541.0 665.2,541.3 666.2,542.7 667.2,542.8 668.2,543.0 669.2,543.4 670.2,543.0 671.2,543.6 672.2,544.0 673.2,544.7 674.2,543.9 675.2,543.8 676.2,543.3 677.2,544.4 678.2,543.7 679.2,544.1 680.2,544.2 681.2,543.5 682.2,544.2 683.2,544.7 684.2,543.7 685.2,544.0 686.2,544.0 687.2,544.7 688.2,545.9 689.2,544.9 690.2,545.3 691.2,544.4 692.2,543.7 693.2,543.8 694.2,543.9 695.2,543.9 696.2,544.4 697.2,545.0 698.2,545.0 699.2,546.4 700.2,545.9 701.2,545.5 702.2,545.2 703.2,545.7 704.2,545.0 705.2,544.8 706.2,545.3 707.2,546.2 708.2,545.4 709.2,545.6 710.2,545.0 711.2,545.8 712.2,545.2 713.2,545.1 714.2,544.8 715.2,544.9 716.2,544.2 717.2,544.5 718.2,544.7 719.2,544.4 720.2,544.0 721.2,545.4 722.2,544.7 723.2,544.7 724.2,546.1 725.2,546.4 726.2,547.1 727.2,547.1 728.2,544.8 729.2,545.3 730.2,545.4 731.2,544.3 732.2,545.6 733.2,545.2 734.2,544.8 735.2,545.0 736.2,545.5 737.2,546.4 738.2,546.0 739.2,543.6 740.2,544.0 741.2,542.0 742.2,541.7 743.2,540.0 744.2,538.8 745.2,536.8 746.2,534.8 747.2,531.3 748.2,529.0 749.2,525.5 750.2,522.7 751.2,522.8 752.2,522.4 753.2,523.7 754.2,526.3 755.2,529.6 756.2,532.2 757.2,534.8 758.2,537.6 759.2,539.7 760.2,541.5 761.2,544.0 762.2,544.3 763.2,545.0 764.2,543.9 765.2,542.9 766.2,543.4 767.2,543.6 768.2,542.6 769.2,542.6 770.2,541.6 771.2,541.9 772.2,540.9 773.2,540.7 774.2,540.8 775.2,540.1 776.2,540.2 777.2,540.9 778.2,542.4 779.2,542.6 780.2,544.0 781.2,544.2 782.2,545.0 783.2,545.1 784.2,546.2 785.2,546.5 786.2,545.4 787.2,547.6 788.2,547.6 789.2,547.1 790.2,546.9 791.2,546.8 792.2,547.9 793.2,547.3 794.2,547.0 795.2,546.9 796.2,546.4 797.2,547.7 798.2,546.6 799.2,547.0 800.2,547.0 801.2,547.1 802.2,547.0 803.2,547.7 804.2,547.3 805.2,549.0 806.2,547.4 807.2,548.7 808.2,549.5 809.2,547.8 810.2,548.8 811.2,549.1 812.2,547.9 813.2,549.1 814.2,548.3 815.2,549.0 816.2,548.9 817.2,548.4 818.2,548.3 819.2,548.4 820.2,547.9 821.2,548.8 822.2,549.0 823.2,549.6 824.2,549.2 825.2,548.8 826.2,548.4 827.2,549.5 828.2,547.2 829.2,547.3 830.2,549.2 831.2,548.8 832.2,548.6 833.2,549.0 834.2,549.3 835.2,548.1 836.2,548.7 837.2,549.2 838.2,549.1 839.2,549.1 840.2,548.5 841.2,547.9 842.2,547.6 843.2,547.9 844.2,547.3 845.2,547.3 846.2,547.5 847.2,547.2 848.2,545.8 849.2,546.9 850.2,545.8 851.2,545.5 852.2,547.7 853.2,546.9 854.2,546.6 855.2,546.8 856.2,547.6 857.2,548.1 858.2,547.6 859.2,546.5 860.2,545.7 861.2,546.1 862.2,546.5 863.2,546.1 864.2,545.0 865.2,545.8 866.2,546.0 867.2,545.3 868.2,546.4 869.2,546.9 870.2,546.8 871.2,546.0 872.2,546.3 873.2,546.4 874.2,546.0 875.2,546.4 876.2,545.7 877.2,545.4 878.2,545.4 879.2,545.0 880.2,544.6 881.2,545.5 882.2,545.3 883.2,545.8 884.2,545.4 885.2,544.9 886.2,545.5 887.2,544.6 888.2,543.7 889.2,545.1 890.2,544.8 891.2,544.1 892.2,543.1 893.2,543.1 894.2,543.6 895.2,542.2 896.2,541.0 897.2,540.2 898.2,538.2 899.2,536.4 900.2,534.9 901.2,531.3 902.2,527.0 903.2,521.2 904.2,514.4 905.2,505.9 906.2,495.7 907.2,486.5 908.2,478.8 909.2,471.6 910.2,470.0 911.2,471.1 912.2,476.9 913.2,486.5 914.2,495.8 915.2,504.9 916.2,513.1 917.2,519.1 918.2,525.9 919.2,529.8 920.2,532.8 921.2,535.1 922.2,538.5 923.2,539.9 924.2,541.6 925.2,542.4 926.2,543.2 927.2,543.0 928.2,542.2 929.2,542.7 930.2,542.5 931.2,540.7 932.2,540.6 933.2,541.1 934.2,539.2 935.2,540.1 936.2,538.4 937.2,537.3 938.2,537.0 939.2,535.9 940.2,535.8 941.2,533.4 942.2,533.3 943.2,532.8 944.2,532.4 945.2,532.8 946.2,532.5 947.2,533.0 948.2,533.3 949.2,534.6 950.2,534.3 951.2,535.4 952.2,536.4 953.2,536.9 954.2,537.2 955.2,538.4 956.2,539.2 957.2,540.4 958.2,541.4 959.2,543.0 960.2,543.9 961.2,543.6 962.2,544.6 963.2,544.9 964.2,545.3 965.2,544.8 966.2,544.8 967.2,545.7 968.2,546.7 969.2,546.0 970.2,547.4 971.2,547.3 972.2,547.6 973.2,547.7 974.2,547.4 975.2,547.5 976.2,548.1 977.2,548.8 978.2,548.5 979.2,549.0 980.2,548.7 981.2,549.2 982.2,549.8 983.2,549.8 984.2,549.0 985.2,549.0 986.2,548.8 987.2,548.5 988.2,549.2 989.2,548.7 990.2,549.8 991.2,548.1 992.2,548.4 993.2,548.9 994.2,549.7 995.2,549.6 996.2,549.4 997.2,548.2 998.2,549.9 999.2,549.0 1000.2,550.5 1001.2,550.0 1002.2,549.7 1003.2,550.0 1004.2,551.0 1005.2,550.2 1006.2,549.8 1007.2,549.1 1008.2,550.2 1009.2,549.8 1010.2,550.5 1011.2,549.7 1012.2,549.8 1013.2,548.8 1014.2,548.3 1015.2,549.2 1016.2,548.7 1017.2,548.7 1018.2,549.4 1019.2,550.3 1020.2,550.0 1021.2,551.7 1022.2,551.3 1023.2,550.7 1024.2,550.7 1025.2,551.1 1026.2,550.8 1027.2,550.6 1028.2,550.7 1029.2,550.9 1030.2,550.6 1031.2,550.3 1032.2,549.4 1033.2,551.1 1034.2,550.4 1035.2,550.8 1036.2,550.7 1037.2,551.3 1038.2,550.7 1039.2,551.3 1040.2,550.4 1041.2,550.6 1042.2,551.0 1043.2,551.2 1044.2,551.6 1045.2,550.7 1046.2,551.2 1047.2,550.7 1048.2,550.2 1049.2,551.3 1050.2,550.7 1051.2,550.3 1052.2,550.4 1053.2,551.1 1054.2,550.7 1055.2,550.6 1056.2,550.8 1057.2,550.4 1058.2,549.5 1059.2,550.8 1060.2,550.2 1061.2,550.3 1062.2,549.5 1063.2,549.3 1064.2,551.2 1065.2,551.2 1066.2,551.4 1067.2,551.4 1068.2,551.2 1069.2,550.9 1070.2,550.4 1071.2,549.0 1072.2,549.1 1073.2,549.7 1074.2,550.8 1075.2,551.2 1076.2,551.0 1077.2,551.2 1078.2,552.2 1079.2,551.9 1080.2,552.0 1081.2,551.6 1082.2,550.9 1083.2,549.9 1084.2,549.5 1085.2,549.8 1086.2,550.0 1087.2,549.7 1088.2,550.1 1089.2,549.5 1090.2,550.1 1091.2,549.6 1092.2,549.0 1093.2,548.6 1094.2,548.8 1095.2,548.8 1096.2,549.5 1097.2,548.7 1098.2,548.9 1099.2,547.5 1100.2,549.1 1101.2,548.6 1102.2,548.3 1103.2,547.6 1104.2,548.4 1105.2,549.5 1106.2,549.0 1107.2,548.9 1108.2,548.1 1109.2,548.6 1110.2,548.6 1111.2,548.6 1112.2,548.1 1113.2,548.4 1114.2,548.6 1115.2,550.2 1116.2,547.5 1117.2,549.0 1118.2,548.6 1119.2,547.7 1120.2,547.7 1121.2,547.3 1122.2,547.2 1123.2,546.4 1124.2,545.5 1125.2,547.6 1126.2,546.7 1127.2,544.7 1128.2,545.5 1129.2,543.9 1130.2,543.5 1131.2,541.6 1132.2,540.3 1133.2,540.3 1134.2,537.6 1135.2,536.3 1136.2,535.4 1137.2,534.8 1138.2,533.3 1139.2,533.9 1140.2,534.4 1141.2,534.6 1142.2,535.8 1143.2,537.8 1144.2,538.9 1145.2,541.2 1146.2,540.7 1147.2,543.0 1148.2,543.5 1149.2,543.6 1150.2,544.8 1151.2,544.5 1152.2,545.5 1153.2,546.6 1154.2,546.0 1155.2,547.0 1156.2,547.0 1157.2,546.7 1158.2,546.9 1159.2,547.2 1160.2,547.2 1161.2,546.8 1162.2,546.9 1163.2,547.4 1164.2,546.5 1165.2,546.3 1166.2,547.1 1167.2,547.1 1168.2,545.6 1169.2,546.7 1170.2,547.2 1171.2,546.8 1172.2,546.2 1173.2,546.6 1174.2,545.7 1175.2,547.0 1176.2,546.9 1177.2,547.3 1178.2,546.9 1179.2,547.6 1180.2,547.3 1181.2,548.5 1182.2,548.5 1183.2,547.6 1184.2,547.9 1185.2,549.2 1186.2,549.4 1187.2,549.4 1188.2,548.2 1189.2,548.2 1190.2,547.7 1191.2,547.4 1192.2,547.6 1193.2,548.4 1194.2,547.5 1195.2,548.6 1196.2,547.0 1197.2,547.6 1198.2,548.3 1199.2,548.5 1200.2,548.5 1201.2,547.8 1202.2,548.7 1203.2,549.7 1204.2,549.4 1205.2,549.4 1206.2,549.3 1207.2,549.0 1208.2,549.1 1209.2,548.8 1210.2,549.9 1211.2,549.7 1212.2,549.9 1213.2,550.1 1214.2,550.1 1215.2,549.7 1216.2,550.5 1217.2,550.1 1218.2,549.9 1219.2,550.1 1220.2,550.5 1221.2,549.4 1222.2,550.1 1223.2,551.3 1224.2,550.3 1225.2,551.4 1226.2,551.0 1227.2,551.5 1228.2,551.8 1229.2,550.9 1230.2,551.4 1231.2,551.2 1232.2,552.0 1233.2,549.5 1234.2,550.8 1235.2,551.3 1236.2,551.5 1237.2,552.4 1238.2,552.3 1239.2,551.7 1240.2,551.3 1241.2,552.7 1242.2,552.2 1243.2,551.8 1244.2,552.2 1245.2,552.6 1246.2,551.9 1247.2,552.5 1248.2,551.0 1249.2,552.4 1250.2,553.2 1251.2,552.5 1252.2,551.6 1253.2,551.2 1254.2,551.9 1255.2,551.3 1256.2,551.4 1257.2,550.7 1258.2,551.0 1259.2,551.6 1260.2,550.8 1261.2,550.7 1262.2,550.3 1263.2,550.9 1264.2,551.2 1265.2,551.1 1266.2,549.8 1267.2,551.2 1268.2,550.8 1269.2,551.3 1270.2,550.9 1271.2,552.2 1272.2,552.7 1273.2,552.4 1274.2,553.0 1275.2,552.2 1276.2,551.7 1277.2,550.5 1278.2,550.9 1279.2,550.8 1280.2,551.8 1281.2,550.7 1282.2,551.5 1283.2,552.0 1284.2,552.0 1285.2,552.0 1286.2,552.4 1287.2,551.3 1288.2,551.7 1289.2,551.8 1290.2,552.5 1291.2,552.5 1292.2,552.2 1293.2,552.3 1294.2,550.6 1295.2,551.5 1296.2,550.8 1297.2,550.1 1298.2,551.0 1299.2,550.6 1300.2,550.6 1301.2,550.2 1302.2,551.5 1303.2,552.3 1304.2,552.1 1305.2,552.7 1306.2,553.2 1307.2,552.9 1308.2,552.9 1309.2,552.8 1310.2,552.9 1311.2,552.7 1312.2,552.8 1313.2,552.4 1314.2,553.0 1315.2,551.9 1316.2,553.0 1317.2,551.8 1318.2,551.8 1319.2,552.5 1320.2,552.2 1321.2,552.1 1322.2,553.8 1323.2,554.2 1324.2,552.3 1325.2,553.1 1326.2,552.0 1327.2,551.6 1328.2,552.1 1329.2,550.4 1330.2,550.6 1331.2,551.4 1332.2,551.0 1333.2,551.2 1334.2,550.9 1335.2,551.0 1336.2,551.2 1337.2,551.8 1338.2,551.6 1339.2,552.1 1340.2,553.3 1341.2,551.1 1342.2,552.1 1343.2,551.9 1344.2,551.5 1345.2,552.1 1346.2,551.6 1347.2,551.4 1348.2,552.2 1349.2,553.0 1350.2,552.1 1351.2,552.4 1352.2,551.7 1353.2,551.4 1354.2,550.7 1355.2,551.2 1356.2,551.3 1357.2,550.3 1358.2,550.4 1359.2,551.9 1360.2,551.5 1361.2,551.2 1362.2,552.4 1363.2,551.8 1364.2,551.6 1365.2,551.6 1366.2,551.2 1367.2,552.9 1368.2,550.5 1369.2,551.5 1370.2,552.2 1371.2,552.3 1372.2,551.6 1373.2,552.0 1374.2,552.1 1375.2,552.9 1376.2,553.1 1377.2,553.2 1378.2,552.6 1379.2,553.1 1380.2,552.6 1381.2,551.9 1382.2,551.7 1383.2,552.2 1384.2,552.0 1385.2,551.8 1386.2,551.8 1387.2,552.1 1388.2,553.5 1389.2,552.8 1390.2,553.0 1391.2,553.6 1392.2,553.5 1393.2,553.1 1394.2,552.7 1395.2,552.1 1396.2,552.2 1397.2,552.1 1398.2,552.1 1399.2,551.2 1400.2,551.8 1401.2,552.0 1402.2,551.8 1403.2,551.2 1404.2,551.3 1405.2,552.8 1406.2,551.7 1407.2,552.8 1408.2,554.1 1409.2,552.6 1410.2,551.9 1411.2,553.0 1412.2,552.2 1413.2,552.2 1414.2,551.1 1415.2,551.3 1416.2,552.0 1417.2,551.1 1418.2,550.9 1419.2,551.5 1420.2,551.9 1421.2,552.5 1422.2,552.5 1423.2,552.7 1424.2,551.6 1425.2,552.1 1426.2,551.3 1427.2,553.2 1428.2,552.2 1429.2,552.3 1430.2,553.2 1431.2,552.4 1432.2,551.2 1433.2,550.7 1434.2,550.1 1435.2,550.2 1436.2,550.8 1437.2,548.1 1438.2,549.1 1439.2,548.4 1440.2,547.0 1441.2,546.8 1442.2,546.1 1443.2,545.0 1444.2,544.6 1445.2,545.4 1446.2,545.0 1447.2,544.8 1448.2,544.9 1449.2,545.8 1450.2,546.3 1451.2,547.2 1452.2,548.0 1453.2,547.7 1454.2,547.6 1455.2,548.6 1456.2,548.7 1457.2,548.5 1458.2,549.4 1459.2,549.1 1460.2,549.4 1461.2,549.2 1462.2,549.4 1463.2,549.5 1464.2,548.9 1465.2,550.1 1466.2,550.0 1467.2,549.4 1468.2,550.3 1469.2,551.1 1470.2,551.2 1471.2,550.1 1472.2,550.6 1473.2,549.9 1474.2,550.9 1475.2,549.8 1476.2,550.3 1477.2,551.5 1478.2,551.6 1479.2,550.9 1480.2,551.1 1481.2,551.2 1482.2,549.9 1483.2,549.8 1484.2,548.8 1485.2,548.5 1486.2,550.1 1487.2,549.5 1488.2,549.4 1489.2,549.1 1490.2,550.5 1491.2,550.7 1492.2,551.0 1493.2,550.3 1494.2,550.9 1495.2,550.6 1496.2,550.3 1497.2,551.1 1498.2,551.1 1499.2,551.0 1500.2,551.0 1501.2,551.4 1502.2,550.7 1503.2,549.9 1504.2,550.0 1505.2,550.0 1506.2,550.0 1507.2,550.1 1508.2,549.6 1509.2,550.6 1510.2,549.3 1511.2,549.6 1512.2,549.2 1513.2,549.8 1514.2,549.8 1515.2,550.2 1516.2,549.3 1517.2,550.1 1518.2,549.1 1519.2,550.6 1520.2,549.6 1521.2,550.3 1522.2,550.3 1523.2,548.7 1524.2,550.2 1525.2,549.2 1526.2,548.1 1527.2,549.5 1528.2,549.6 1529.2,550.5 1530.2,548.6 1531.2,547.8 1532.2,549.0 1533.2,548.4 1534.2,547.7 1535.2,547.7 1536.2,548.2 1537.2,546.8 1538.2,546.8 1539.2,545.4 1540.2,544.4 1541.2,544.0 1542.2,544.2 1543.2,542.8 1544.2,541.1 1545.2,539.1 1546.2,537.9 1547.2,536.5 1548.2,534.0 1549.2,533.5 1550.2,533.8 1551.2,531.8 1552.2,533.0 1553.2,533.4 1554.2,534.7 1555.2,536.8 1556.2,537.2 1557.2,539.4 1558.2,540.2 1559.2,542.0 1560.2,542.1 1561.2,544.1 1562.2,544.3 1563.2,544.7 1564.2,545.2 1565.2,544.9 1566.2,546.8 1567.2,546.1 1568.2,547.3 1569.2,548.0 1570.2,546.0 1571.2,547.2 1572.2,546.8 1573.2,547.3 1574.2,547.5 1575.2,546.5 1576.2,547.7 1577.2,547.0 1578.2,547.9 1579.2,547.1 1580.2,547.3 1581.2,547.2 1582.2,548.8 1583.2,547.2 1584.2,546.4 1585.2,548.4 1586.2,548.2 1587.2,548.9 1588.2,549.3 1589.2,549.7 1590.2,549.1 1591.2,549.3 1592.2,549.5 1593.2,549.4 1594.2,547.7 1595.2,549.1 1596.2,547.2 1597.2,547.8 1598.2,548.3 1599.2,547.5 1600.2,547.6 1601.2,548.8 1602.2,548.9 1603.2,547.5 1604.2,548.2 1605.2,548.4 1606.2,548.9 1607.2,548.4 1608.2,548.9 1609.2,548.8 1610.2,549.1 1611.2,550.0 1612.2,548.9 1613.2,548.7 1614.2,547.6 1615.2,548.0 1616.2,547.9 1617.2,548.7 1618.2,548.6 1619.2,548.5 1620.2,549.2 1621.2,548.1 1622.2,549.1 1623.2,549.0 1624.2,548.8 1625.2,548.8 1626.2,549.1 1627.2,550.0 1628.2,550.4 1629.2,549.5 1630.2,550.8 1631.2,550.7 1632.2,551.7 1633.2,551.7 1634.2,551.4 1635.2,551.1 1636.2,551.0 1637.2,549.8 1638.2,551.0 1639.2,551.0 1640.2,550.8 1641.2,550.5 1642.2,550.1 1643.2,550.1 1644.2,550.0 1645.2,548.8 1646.2,549.9 1647.2,549.9 1648.2,550.4 1649.2,550.2 1650.2,549.5 1651.2,549.2 1652.2,549.3 1653.2,549.9 1654.2,550.2 1655.2,549.0 1656.2,550.1 1657.2,549.3 1658.2,549.3 1659.2,548.9 1660.2,549.2 1661.2,548.5 1662.2,549.1 1663.2,548.5 1664.2,549.9 1665.2,549.9 1666.2,549.4 1667.2,549.7 1668.2,549.5 1669.2,550.2 1670.2,550.1 1671.2,549.6 1672.2,549.8 1673.2,550.2 1674.2,549.9 1675.2,550.6 1676.2,550.9 1677.2,552.0 1678.2,550.9 1679.2,550.4 1680.2,551.3 1681.2,550.8 1682.2,550.4 1683.2,550.9 1684.2,550.1 1685.2,550.9 1686.2,550.3 1687.2,549.4 1688.2,549.2 1689.2,550.0 1690.2,548.7 1691.2,548.8 1692.2,549.5 1693.2,549.5 1694.2,549.6 1695.2,550.1 1696.2,548.7 1697.2,549.5 1698.2,549.8 1699.2,549.4 1700.2,547.9 1701.2,547.9 1702.2,547.9 1703.2,546.9 1704.2,546.7 1705.2,545.8 1706.2,543.8 1707.2,543.9 1708.2,542.4 1709.2,541.0 1710.2,539.5 1711.2,536.9 1712.2,536.0 1713.2,534.4 1714.2,532.4 1715.2,530.0 1716.2,528.5 1717.2,528.0 1718.2,529.2 1719.2,530.7 1720.2,531.1 1721.2,531.5 1722.2,534.6 1723.2,537.0 1724.2,537.1 1725.2,538.9 1726.2,540.0 1727.2,542.3 1728.2,544.8 1729.2,545.4 1730.2,545.2 1731.2,546.2 1732.2,547.7 1733.2,547.5 1734.2,546.9 1735.2,548.0 1736.2,547.5 1737.2,548.2 1738.2,548.2 1739.2,548.0 1740.2,547.3 1741.2,547.5 1742.2,548.0 1743.2,548.2 1744.2,549.4 1745.2,549.8 1746.2,549.5 1747.2,549.9 1748.2,550.2 1749.2,548.7 1750.2,548.7 1751.2,549.5 1752.2,548.1 1753.2,547.8 1754.2,548.1 1755.2,548.5 1756.2,547.8 1757.2,548.9 1758.2,549.6 1759.2,549.0 1760.2,549.0 1761.2,549.6 1762.2,548.6 1763.2,548.3 1764.2,548.9 1765.2,549.4 1766.2,549.0 1767.2,548.0 1768.2,549.1 1769.2,549.8 1770.2,550.5 1771.2,549.7 1772.2,551.0 1773.2,549.2 1774.2,549.3 1775.2,549.4 1776.2,549.5 1777.2,548.6 1778.2,548.8 1779.2,548.1 1780.2,548.3 1781.2,548.3 1782.2,548.1 1783.2,548.2 1784.2,548.0 1785.2,548.0 1786.2,550.1 1787.2,548.5 1788.2,549.9 1789.2,549.9 1790.2,549.5 1791.2,549.4 1792.2,548.8 1793.2,549.2 1794.2,548.4 1795.2,549.0 1796.2,550.0 1797.2,549.5 1798.2,548.1 1799.2,548.6 1800.2,548.2 1801.2,547.6 1802.2,549.0 1803.2,547.8 1804.2,549.4 1805.2,550.5 1806.2,550.8 1807.2,549.7 1808.2,550.4 1809.2,550.5 1810.2,550.4 1811.2,550.6 1812.2,550.1 1813.2,550.4 1814.2,549.0 1815.2,549.5 1816.2,549.9 1817.2,549.4 1818.2,548.2 1819.2,549.1 1820.2,549.0 1821.2,548.8 1822.2,548.1 1823.2,548.8 1824.2,548.3 1825.2,547.7 1826.2,548.3 1827.2,548.2 1828.2,548.3 1829.2,548.7 1830.2,549.1 1831.2,550.2 1832.2,550.3 1833.2,551.1 1834.2,550.2 1835.2,550.1 1836.2,548.9 1837.2,548.8 1838.2,549.2 1839.2,549.7 1840.2,550.2 1841.2,550.0 1842.2,550.2 1843.2,550.4 1844.2,550.5 1845.2,550.5 1846.2,549.1 1847.2,550.3 1848.2,549.8 1849.2,549.9 1850.2,549.4 1851.2,550.1 1852.2,550.1 1853.2,549.9 1854.2,548.7 1855.2,547.9 1856.2,549.2 1857.2,548.4 1858.2,548.0 1859.2,549.5 1860.2,548.1 1861.2,549.7 1862.2,548.8 1863.2,549.7 1864.2,548.5 1865.2,547.9 1866.2,548.2 1867.2,547.9 1868.2,548.3 1869.2,549.2 1870.2,549.4 1871.2,549.2 1872.2,549.9 1873.2,551.3 1874.2,549.9 1875.2,551.0 1876.2,552.1 1877.2,550.5 1878.2,551.2 1879.2,550.7 1880.2,550.0 1881.2,550.9 1882.2,550.9 1883.2,550.8 1884.2,550.6 1885.2,551.7 1886.2,551.6 1887.2,551.2 1888.2,550.9 1889.2,551.2 1890.2,551.2 1891.2,551.2 1892.2,552.2 1893.2,551.5 1894.2,552.2 1895.2,552.0 1896.2,551.8 1897.2,551.7 1898.2,551.6 1899.2,552.0 1900.2,553.4 1901.2,553.3 1902.2,552.8 1903.2,553.5 1904.2,552.9 1905.2,553.0 1906.2,552.4 1907.2,552.2 1908.2,552.0 1909.2,552.6 1910.2,553.0 1911.2,552.5 1912.2,552.7 1913.2,552.3 1914.2,552.2 1915.2,552.6 1916.2,551.9 1917.2,553.1 1918.2,553.1 1919.2,553.0 1920.2,553.1 1921.2,553.1 1922.2,554.4 1923.2,553.7 1924.2,553.6 1925.2,553.3 1926.2,553.3 1927.2,553.5 1927.8,553.3" stroke="#00AE68"/>
<polyline points="143.2,660.4 144.2,655.6 145.2,660.3 146.2,658.1 147.2,662.7 148.2,662.1 149.2,665.8 150.2,668.3 151.2,661.2 152.2,666.1 153.2,666.2 154.2,665.9 155.2,665.9 156.2,668.1 157.2,670.0 158.2,670.5 159.2,671.9 160.2,669.9 161.2,673.0 162.2,673.1 163.2,675.0 164.2,675.9 165.2,676.3 166.2,678.0 167.2,675.4 168.2,673.4 169.2,676.3 170.2,681.3 171.2,681.5 172.2,681.6 173.2,687.1 174.2,687.1 175.2,690.5 176.2,685.7 177.2,688.6 178.2,692.1 179.2,694.7 180.2,697.4 181.2,696.3 182.2,700.2 183.2,700.7 184.2,699.3 185.2,702.9 186.2,701.6 187.2,702.7 188.2,700.2 189.2,701.8 190.2,702.9 191.2,706.0 192.2,703.6 193.2,702.9 194.2,707.1 195.2,713.6 196.2,709.1 197.2,707.4 198.2,709.4 199.2,711.9 200.2,713.6 201.2,713.0 202.2,716.7 203.2,715.7 204.2,713.2 205.2,718.7 206.2,716.4 207.2,721.1 208.2,720.4 209.2,717.2 210.2,718.7 211.2,723.5 212.2,725.6 213.2,728.8 214.2,729.1 215.2,732.1 216.2,732.1 217.2,732.3 218.2,731.8 219.2,737.8 220.2,738.7 221.2,740.1 222.2,738.4 223.2,742.9 224.2,738.9 225.2,744.1 226.2,744.1 227.2,745.1 228.2,741.5 229.2,751.0 230.2,747.3 231.2,749.1 232.2,751.0 233.2,751.8 234.2,750.9 235.2,756.1 236.2,756.0 237.2,758.1 238.2,756.9 239.2,761.2 240.2,762.2 241.2,765.6 242.2,763.8 243.2,763.1 244.2,767.3 245.2,768.9 246.2,771.1 247.2,771.6 248.2,770.2 249.2,772.1 250.2,771.1 251.2,773.9 252.2,777.4 253.2,773.0 254.2,773.2 255.2,774.0 256.2,776.3 257.2,778.1 258.2,778.1 259.2,776.9 260.2,780.4 261.2,781.7 262.2,783.5 263.2,783.1 264.2,781.2 265.2,785.0 266.2,783.9 267.2,783.1 268.2,785.2 269.2,786.1 270.2,786.9 271.2,786.1 272.2,787.2 273.2,788.5 274.2,789.5 275.2,790.3 276.2,788.9 277.2,792.3 278.2,790.3 279.2,793.0 280.2,793.4 281.2,791.2 282.2,794.3 283.2,796.1 284.2,797.4 285.2,797.7 286.2,799.1 287.2,799.1 288.2,799.4 289.2,801.2 290.2,804.9 291.2,801.2 292.2,801.9 293.2,803.2 294.2,802.4 295.2,804.5 296.2,804.1 297.2,806.4 298.2,804.0 299.2,805.5 300.2,804.8 301.2,806.4 302.2,805.8 303.2,805.8 304.2,806.7 305.2,807.4 306.2,808.5 307.2,807.8 308.2,809.6 309.2,809.1 310.2,809.4 311.2,809.7 312.2,810.5 313.2,812.5 314.2,810.4 315.2,811.4 316.2,811.6 317.2,811.8 318.2,811.0 319.2,809.5 320.2,812.3 321.2,812.6 322.2,813.2 323.2,813.4 324.2,812.6 325.2,815.2 326.2,814.1 327.2,814.9 328.2,816.3 329.2,815.6 330.2,814.1 331.2,815.2 332.2,816.9 333.2,817.0 334.2,816.7 335.2,816.1 336.2,816.8 337.2,817.5 338.2,818.1 339.2,819.2 340.2,819.5 341.2,817.5 342.2,818.8 343.2,818.7 344.2,818.8 345.2,819.7 346.2,819.1 347.2,818.3 348.2,820.6 349.2,819.2 350.2,819.5 351.2,820.5 352.2,822.8 353.2,822.3 354.2,821.4 355.2,822.3 356.2,821.4 357.2,822.8 358.2,822.3 359.2,820.0 360.2,821.8 361.2,822.3 362.2,820.1 363.2,821.1 364.2,820.7 365.2,821.4 366.2,819.9 367.2,821.7 368.2,820.6 369.2,821.8 370.2,821.2 371.2,820.3 372.2,819.7 373.2,820.2 374.2,821.9 375.2,821.6 376.2,821.0 377.2,820.7 378.2,819.8 379.2,818.7 380.2,818.1 381.2,816.9 382.2,815.2 383.2,814.2 384.2,813.2 385.2,806.9 386.2,804.7 387.2,799.3 388.2,792.9 389.2,789.2 390.2,787.6 391.2,784.8 392.2,789.1 393.2,793.0 394.2,800.1 395.2,804.7 396.2,808.5 397.2,811.4 398.2,814.5 399.2,815.9 400.2,814.9 401.2,814.3 402.2,814.6 403.2,814.3 404.2,811.8 405.2,811.3 406.2,807.9 407.2,805.5 408.2,804.5 409.2,802.6 410.2,803.5 411.2,805.5 412.2,807.4 413.2,811.5 414.2,813.1 415.2,814.5 416.2,815.6 417.2,818.1 418.2,819.3 419.2,818.8 420.2,818.5 421.2,820.2 422.2,819.8 423.2,819.6 424.2,819.9 425.2,820.6 426.2,819.7 427.2,820.0 428.2,820.0 429.2,820.1 430.2,820.2 431.2,821.9 432.2,821.8 433.2,821.9 434.2,822.4 435.2,823.3 436.2,823.7 437.2,823.5 438.2,823.8 439.2,824.3 440.2,823.5 441.2,823.1 442.2,825.8 443.2,824.6 444.2,825.1 445.2,823.3 446.2,824.1 447.2,825.2 448.2,825.6 449.2,824.9 450.2,825.5 451.2,824.9 452.2,824.0 453.2,823.8 454.2,823.6 455.2,824.4 456.2,826.0 457.2,825.5 458.2,827.5 459.2,827.2 460.2,827.1 461.2,825.8 462.2,826.3 463.2,826.8 464.2,825.6 465.2,826.8 466.2,827.1 467.2,826.7 468.2,825.4 469.2,826.6 470.2,825.6 471.2,827.6 472.2,826.2 473.2,826.3 474.2,826.8 475.2,826.4 476.2,827.4 477.2,827.0 478.2,828.1 479.2,825.7 480.2,826.8 481.2,827.1 482.2,827.0 483.2,826.5 484.2,826.8 485.2,828.2 486.2,827.6 487.2,826.8 488.2,827.0 489.2,827.7 490.2,827.6 491.2,827.0 492.2,827.5 493.2,827.3 494.2,827.7 495.2,826.9 496.2,827.5 497.2,828.6 498.2,828.3 499.2,828.4 500.2,828.5 501.2,825.8 502.2,827.7 503.2,827.5 504.2,826.9 505.2,827.0 506.2,826.0 507.2,827.4 508.2,827.6 509.2,827.7 510.2,828.3 511.2,829.1 512.2,828.3 513.2,827.9 514.2,828.2 515.2,828.9 516.2,828.3 517.2,827.4 518.2,827.1 519.2,827.1 520.2,825.9 521.2,826.1 522.2,827.2 523.2,827.4 524.2,827.1 525.2,827.5 526.2,827.6 527.2,828.9 528.2,827.9 529.2,828.2 530.2,827.8 531.2,827.0 532.2,826.0 533.2,826.8 534.2,828.9 535.2,826.4 536.2,827.0 537.2,826.6 538.2,827.4 539.2,825.9 540.2,825.4 541.2,824.9 542.2,827.5 543.2,827.1 544.2,825.0 545.2,826.8 546.2,825.9 547.2,826.3 548.2,825.5 549.2,825.9 550.2,826.5 551.2,825.3 552.2,825.2 553.2,825.2 554.2,825.0 555.2,825.2 556.2,826.4 557.2,827.1 558.2,826.7 559.2,826.4 560.2,826.9 561.2,826.9 562.2,826.2 563.2,825.3 564.2,826.2 565.2,824.6 566.2,825.8 567.2,824.5 568.2,824.1 569.2,824.3 570.2,823.5 571.2,823.9 572.2,824.0 573.2,823.8 574.2,824.4 575.2,825.1 576.2,824.4 577.2,824.3 578.2,824.8 579.2,824.8 580.2,823.3 581.2,823.8 582.2,822.6 583.2,823.9 584.2,821.7 585.2,821.7 586.2,821.9 587.2,819.9 588.2,819.9 589.2,820.4 590.2,820.0 591.2,818.4 592.2,818.4 593.2,817.7 594.2,816.6 595.2,816.2 596.2,814.4 597.2,812.5 598.2,812.2 599.2,810.6 600.2,808.0 601.2,806.1 602.2,805.3 603.2,803.5 604.2,802.4 605.2,799.5 606.2,797.7 607.2,795.3 608.2,792.0 609.2,789.6 610.2,785.4 611.2,783.1 612.2,781.4 613.2,778.9 614.2,776.8 615.2,775.1 616.2,772.2 617.2,772.2 618.2,770.3 619.2,769.5 620.2,766.9 621.2,767.2 622.2,766.7 623.2,767.6 624.2,769.3 625.2,770.7 626.2,772.8 627.2,773.4 628.2,776.7 629.2,777.9 630.2,781.3 631.2,784.2 632.2,785.4 633.2,788.4 634.2,791.7 635.2,794.4 636.2,795.8 637.2,798.2 638.2,801.1 639.2,805.0 640.2,807.5 641.2,809.3 642.2,811.6 643.2,813.3 644.2,814.5 645.2,816.7 646.2,815.7 647.2,817.5 648.2,818.8 649.2,821.0 650.2,820.4 651.2,824.0 652.2,824.6 653.2,825.3 654.2,823.4 655.2,825.3 656.2,825.3 657.2,826.5 658.2,825.8 659.2,826.7 660.2,826.2 661.2,828.6 662.2,829.7 663.2,829.3 664.2,828.3 665.2,829.8 666.2,829.6 667.2,830.9 668.2,830.5 669.2,831.1 670.2,831.0 671.2,831.0 672.2,831.6 673.2,830.2 674.2,831.8 675.2,830.8 676.2,830.4 677.2,831.6 678.2,831.3 679.2,831.5 680.2,831.6 681.2,830.5 682.2,831.2 683.2,829.9 684.2,830.9 685.2,830.8 686.2,830.7 687.2,830.4 688.2,831.8 689.2,830.3 690.2,830.8 691.2,831.9 692.2,831.6 693.2,830.6 694.2,830.0 695.2,831.2 696.2,830.0 697.2,830.3 698.2,830.7 699.2,829.8 700.2,829.6 701.2,829.7 702.2,830.2 703.2,830.5 704.2,831.1 705.2,831.9 706.2,831.4 707.2,831.4 708.2,832.7 709.2,831.8 710.2,833.3 711.2,832.6 712.2,832.9 713.2,831.8 714.2,831.3 715.2,831.3 716.2,831.2 717.2,831.3 718.2,831.0 719.2,831.4 720.2,830.1 721.2,831.2 722.2,829.8 723.2,831.2 724.2,828.8 725.2,828.9 726.2,829.9 727.2,828.8 728.2,827.1 729.2,827.9 730.2,826.4 731.2,824.8 732.2,825.3 733.2,822.5 734.2,821.3 735.2,816.4 736.2,811.8 737.2,806.1 738.2,796.6 739.2,787.0 740.2,774.1 741.2,763.9 742.2,753.5 743.2,746.6 744.2,745.6 745.2,750.7 746.2,762.9 747.2,773.4 748.2,785.4 749.2,797.0 750.2,805.2 751.2,812.2 752.2,818.5 753.2,820.8 754.2,824.2 755.2,824.5 756.2,826.0 757.2,826.4 758.2,826.3 759.2,825.7 760.2,823.6 761.2,822.9 762.2,822.5 763.2,819.6 764.2,819.4 765.2,817.7 766.2,813.7 767.2,811.7 768.2,812.0 769.2,810.3 770.2,809.0 771.2,809.9 772.2,811.8 773.2,814.6 774.2,816.3 775.2,820.7 776.2,821.7 777.2,824.1 778.2,826.4 779.2,828.4 780.2,829.0 781.2,830.1 782.2,831.7 783.2,831.4 784.2,831.7 785.2,832.7 786.2,832.6 787.2,832.4 788.2,832.3 789.2,833.2 790.2,833.3 791.2,833.4 792.2,832.6 793.2,832.0 794.2,832.3 795.2,834.7 796.2,833.2 797.2,833.3 798.2,833.7 799.2,833.2 800.2,833.6 801.2,834.7 802.2,834.9 803.2,833.7 804.2,834.0 805.2,833.8 806.2,834.2 807.2,833.8 808.2,834.1 809.2,834.3 810.2,834.5 811.2,834.5 812.2,835.5 813.2,835.7 814.2,834.2 815.2,835.3 816.2,834.1 817.2,834.9 818.2,834.5 819.2,832.5 820.2,832.8 821.2,833.9 822.2,833.9 823.2,833.6 824.2,832.9 825.2,833.5 826.2,831.9 827.2,834.2 828.2,834.2 829.2,834.1 830.2,835.4 831.2,834.4 832.2,835.6 833.2,835.6 834.2,834.7 835.2,834.7 836.2,833.5 837.2,834.6 838.2,831.7 839.2,833.1 840.2,833.6 841.2,834.2 842.2,834.9 843.2,834.1 844.2,833.9 845.2,834.4 846.2,833.8 847.2,834.0 848.2,833.4 849.2,832.5 850.2,834.4 851.2,832.9 852.2,834.0 853.2,834.1 854.2,833.1 855.2,833.9 856.2,832.2 857.2,832.4 858.2,832.8 859.2,833.2 860.2,831.9 861.2,831.7 862.2,832.6 863.2,832.6 864.2,831.4 865.2,832.7 866.2,833.2 867.2,832.5 868.2,832.5 869.2,832.7 870.2,831.0 871.2,831.5 872.2,830.4 873.2,830.8 874.2,830.5 875.2,830.0 876.2,829.1 877.2,829.0 878.2,828.2 879.2,828.3 880.2,828.1 881.2,828.6 882.2,827.6 883.2,826.6 884.2,824.4 885.2,823.1 886.2,821.9 887.2,820.9 888.2,817.4 889.2,815.4 890.2,813.1 891.2,808.1 892.2,802.4 893.2,792.9 894.2,779.7 895.2,763.0 896.2,741.3 897.2,714.5 898.2,683.5 899.2,648.2 900.2,615.2 901.2,591.6 902.2,582.3 903.2,593.4 904.2,617.9 905.2,650.3 906.2,685.5 907.2,716.1 908.2,743.3 909.2,764.7 910.2,781.9 911.2,794.1 912.2,802.1 913.2,808.3 914.2,811.8 915.2,814.6 916.2,817.2 917.2,818.5 918.2,818.6 919.2,820.2 920.2,820.2 921.2,821.3 922.2,819.9 923.2,821.0 924.2,819.9 925.2,818.3 926.2,817.3 927.2,814.9 928.2,811.7 929.2,808.6 930.2,806.7 931.2,802.5 932.2,799.3 933.2,796.1 934.2,791.5 935.2,788.7 936.2,786.3 937.2,787.1 938.2,787.5 939.2,789.4 940.2,793.2 941.2,797.0 942.2,799.7 943.2,801.2 944.2,805.7 945.2,806.5 946.2,806.6 947.2,806.9 948.2,805.1 949.2,804.2 950.2,803.2 951.2,801.6 952.2,802.3 953.2,802.0 954.2,804.7 955.2,807.7 956.2,810.2 957.2,813.9 958.2,817.0 959.2,821.4 960.2,822.9 961.2,823.6 962.2,825.6 963.2,826.5 964.2,829.1 965.2,828.3 966.2,830.8 967.2,830.2 968.2,831.3 969.2,831.1 970.2,830.5 971.2,832.8 972.2,832.9 973.2,833.1 974.2,833.3 975.2,833.8 976.2,832.6 977.2,832.9 978.2,833.7 979.2,833.0 980.2,833.5 981.2,833.4 982.2,835.0 983.2,834.0 984.2,835.1 985.2,834.9 986.2,834.6 987.2,834.0 988.2,834.5 989.2,833.1 990.2,834.4 991.2,833.0 992.2,834.7 993.2,834.5 994.2,834.6 995.2,835.3 996.2,835.2 997.2,834.9 998.2,835.0 999.2,833.6 1000.2,835.2 1001.2,834.5 1002.2,835.7 1003.2,835.4 1004.2,836.3 1005.2,835.4 1006.2,835.3 1007.2,835.8 1008.2,835.2 1009.2,834.5 1010.2,835.1 1011.2,834.3 1012.2,834.5 1013.2,835.4 1014.2,835.6 1015.2,836.1 1016.2,836.9 1017.2,836.7 1018.2,837.7 1019.2,837.8 1020.2,837.9 1021.2,837.7 1022.2,836.8 1023.2,838.4 1024.2,836.8 1025.2,837.6 1026.2,838.1 1027.2,839.1 1028.2,837.5 1029.2,838.7 1030.2,838.7 1031.2,839.0 1032.2,838.6 1033.2,839.7 1034.2,838.9 1035.2,839.1 1036.2,839.1 1037.2,839.3 1038.2,838.3 1039.2,838.5 1040.2,838.2 1041.2,838.0 1042.2,837.5 1043.2,838.5 1044.2,839.0 1045.2,839.0 1046.2,839.6 1047.2,839.0 1048.2,839.7 1049.2,839.4 1050.2,839.5 1051.2,840.2 1052.2,839.7 1053.2,839.5 1054.2,840.6 1055.2,840.5 1056.2,840.0 1057.2,840.2 1058.2,840.8 1059.2,840.9 1060.2,840.0 1061.2,840.4 1062.2,839.6 1063.2,840.5 1064.2,838.8 1065.2,840.5 1066.2,840.6 1067.2,840.3 1068.2,839.5 1069.2,839.9 1070.2,839.1 1071.2,840.3 1072.2,838.9 1073.2,840.0 1074.2,839.6 1075.2,838.9 1076.2,840.0 1077.2,840.7 1078.2,840.2 1079.2,838.9 1080.2,839.1 1081.2,839.2 1082.2,839.7 1083.2,839.1 1084.2,840.0 1085.2,839.2 1086.2,839.5 1087.2,839.5 1088.2,839.6 1089.2,839.9 1090.2,839.9 1091.2,841.3 1092.2,839.0 1093.2,840.9 1094.2,840.2 1095.2,839.6 1096.2,839.8 1097.2,839.4 1098.2,838.0 1099.2,837.3 1100.2,839.2 1101.2,838.0 1102.2,837.6 1103.2,838.6 1104.2,836.7 1105.2,836.2 1106.2,836.8 1107.2,835.8 1108.2,835.1 1109.2,834.4 1110.2,834.4 1111.2,833.1 1112.2,834.0 1113.2,832.0 1114.2,831.7 1115.2,831.3 1116.2,830.2 1117.2,831.2 1118.2,829.0 1119.2,828.9 1120.2,826.7 1121.2,827.7 1122.2,824.9 1123.2,823.1 1124.2,820.1 1125.2,817.5 1126.2,813.2 1127.2,809.9 1128.2,806.6 1129.2,802.2 1130.2,800.4 1131.2,801.1 1132.2,802.2 1133.2,804.8 1134.2,809.4 1135.2,813.4 1136.2,818.4 1137.2,821.3 1138.2,824.2 1139.2,827.4 1140.2,830.8 1141.2,830.6 1142.2,832.5 1143.2,833.7 1144.2,834.0 1145.2,835.8 1146.2,836.2 1147.2,837.4 1148.2,837.2 1149.2,837.9 1150.2,836.8 1151.2,835.7 1152.2,837.8 1153.2,837.2 1154.2,836.3 1155.2,836.4 1156.2,836.2 1157.2,837.8 1158.2,836.3 1159.2,837.3 1160.2,836.9 1161.2,835.8 1162.2,836.6 1163.2,834.3 1164.2,834.5 1165.2,833.3 1166.2,832.9 1167.2,831.1 1168.2,831.7 1169.2,831.9 1170.2,830.4 1171.2,831.1 1172.2,831.1 1173.2,830.6 1174.2,829.0 1175.2,830.1 1176.2,828.9 1177.2,830.2 1178.2,829.0 1179.2,830.1 1180.2,830.0 1181.2,832.3 1182.2,832.3 1183.2,831.8 1184.2,832.7 1185.2,834.7 1186.2,835.4 1187.2,835.9 1188.2,836.9 1189.2,837.8 1190.2,837.9 1191.2,837.7 1192.2,838.5 1193.2,839.5 1194.2,839.7 1195.2,839.9 1196.2,839.7 1197.2,839.1 1198.2,838.9 1199.2,839.8 1200.2,838.4 1201.2,838.7 1202.2,840.0 1203.2,839.8 1204.2,839.1 1205.2,838.7 1206.2,839.1 1207.2,840.4 1208.2,839.9 1209.2,840.7 1210.2,839.5 1211.2,841.0 1212.2,840.3 1213.2,841.0 1214.2,842.1 1215.2,841.5 1216.2,841.9 1217.2,840.9 1218.2,841.1 1219.2,840.7 1220.2,842.1 1221.2,841.0 1222.2,841.7 1223.2,842.5 1224.2,841.0 1225.2,841.7 1226.2,840.9 1227.2,842.0 1228.2,841.5 1229.2,841.9 1230.2,841.4 1231.2,841.7 1232.2,840.3 1233.2,840.7 1234.2,842.1 1235.2,842.1 1236.2,842.0 1237.2,841.8 1238.2,842.1 1239.2,841.8 1240.2,842.6 1241.2,841.7 1242.2,842.2 1243.2,841.4 1244.2,842.8 1245.2,842.1 1246.2,841.7 1247.2,841.4 1248.2,840.7 1249.2,841.6 1250.2,841.8 1251.2,842.3 1252.2,841.7 1253.2,841.3 1254.2,841.8 1255.2,842.5 1256.2,842.1 1257.2,841.7 1258.2,843.3 1259.2,842.2 1260.2,842.2 1261.2,843.5 1262.2,842.0 1263.2,843.0 1264.2,843.3 1265.2,843.1 1266.2,843.0 1267.2,843.1 1268.2,843.4 1269.2,842.8 1270.2,843.8 1271.2,844.0 1272.2,841.8 1273.2,843.3 1274.2,843.0 1275.2,843.2 1276.2,843.6 1277.2,843.5 1278.2,843.9 1279.2,843.2 1280.2,844.0 1281.2,843.9 1282.2,843.5 1283.2,843.9 1284.2,843.1 1285.2,844.1 1286.2,844.5 1287.2,843.7 1288.2,844.2 1289.2,843.7 1290.2,843.5 1291.2,844.3 1292.2,843.0 1293.2,842.4 1294.2,842.4 1295.2,842.5 1296.2,844.1 1297.2,843.7 1298.2,843.2 1299.2,844.0 1300.2,844.2 1301.2,844.0 1302.2,844.1 1303.2,844.0 1304.2,844.3 1305.2,844.6 1306.2,843.4 1307.2,843.6 1308.2,843.9 1309.2,844.7 1310.2,843.8 1311.2,844.0 1312.2,844.7 1313.2,843.7 1314.2,843.0 1315.2,844.3 1316.2,843.3 1317.2,843.4 1318.2,842.3 1319.2,841.7 1320.2,841.6 1321.2,843.7 1322.2,844.0 1323.2,844.0 1324.2,844.5 1325.2,843.6 1326.2,843.9 1327.2,842.7 1328.2,843.6 1329.2,844.0 1330.2,843.4 1331.2,844.5 1332.2,842.5 1333.2,842.9 1334.2,842.2 1335.2,842.1 1336.2,841.8 1337.2,842.0 1338.2,841.1 1339.2,842.6 1340.2,842.3 1341.2,842.2 1342.2,842.2 1343.2,843.2 1344.2,843.0 1345.2,843.3 1346.2,843.1 1347.2,843.9 1348.2,844.0 1349.2,842.9 1350.2,843.9 1351.2,843.2 1352.2,842.6 1353.2,842.8 1354.2,842.0 1355.2,842.5 1356.2,842.3 1357.2,843.0 1358.2,842.2 1359.2,842.6 1360.2,842.9 1361.2,842.9 1362.2,841.5 1363.2,842.8 1364.2,841.3 1365.2,840.9 1366.2,841.1 1367.2,840.0 1368.2,840.3 1369.2,841.0 1370.2,840.8 1371.2,842.5 1372.2,841.8 1373.2,842.0 1374.2,842.2 1375.2,842.7 1376.2,842.8 1377.2,842.2 1378.2,843.3 1379.2,843.2 1380.2,843.7 1381.2,842.6 1382.2,842.4 1383.2,842.0 1384.2,841.6 1385.2,842.1 1386.2,841.4 1387.2,841.9 1388.2,842.5 1389.2,842.1 1390.2,842.2 1391.2,840.5 1392.2,841.6 1393.2,841.3 1394.2,841.3 1395.2,841.7 1396.2,841.4 1397.2,841.3 1398.2,840.7 1399.2,842.0 1400.2,840.7 1401.2,841.3 1402.2,840.6 1403.2,840.7 1404.2,841.7 1405.2,841.5 1406.2,842.2 1407.2,841.9 1408.2,842.2 1409.2,842.5 1410.2,841.2 1411.2,842.1 1412.2,840.5 1413.2,841.2 1414.2,841.2 1415.2,840.8 1416.2,841.4 1417.2,841.1 1418.2,840.7 1419.2,842.2 1420.2,841.1 1421.2,841.3 1422.2,841.3 1423.2,842.2 1424.2,842.2 1425.2,841.8 1426.2,843.3 1427.2,842.4 1428.2,841.5 1429.2,839.7 1430.2,840.1 1431.2,838.9 1432.2,837.8 1433.2,836.5 1434.2,836.6 1435.2,835.7 1436.2,833.9 1437.2,832.4 1438.2,831.6 1439.2,831.6 1440.2,830.9 1441.2,831.3 1442.2,832.4 1443.2,833.1 1444.2,833.7 1445.2,834.1 1446.2,836.4 1447.2,837.4 1448.2,837.7 1449.2,839.3 1450.2,840.4 1451.2,841.7 1452.2,841.4 1453.2,842.2 1454.2,842.1 1455.2,842.9 1456.2,842.9 1457.2,843.4 1458.2,842.2 1459.2,842.6 1460.2,841.2 1461.2,841.5 1462.2,841.8 1463.2,841.9 1464.2,842.7 1465.2,843.2 1466.2,843.7 1467.2,843.3 1468.2,843.2 1469.2,843.0 1470.2,843.4 1471.2,842.7 1472.2,844.2 1473.2,843.6 1474.2,843.1 1475.2,842.0 1476.2,842.7 1477.2,842.6 1478.2,842.7 1479.2,842.7 1480.2,843.5 1481.2,842.1 1482.2,842.8 1483.2,843.2 1484.2,843.6 1485.2,842.4 1486.2,843.8 1487.2,842.8 1488.2,842.8 1489.2,843.4 1490.2,843.9 1491.2,843.8 1492.2,844.1 1493.2,844.0 1494.2,844.5 1495.2,844.0 1496.2,844.5 1497.2,844.9 1498.2,844.9 1499.2,845.3 1500.2,844.3 1501.2,844.0 1502.2,844.5 1503.2,843.7 1504.2,843.6 1505.2,843.5 1506.2,843.7 1507.2,842.7 1508.2,844.0 1509.2,842.8 1510.2,843.9 1511.2,842.8 1512.2,843.4 1513.2,843.5 1514.2,843.7 1515.2,843.6 1516.2,842.7 1517.2,842.9 1518.2,842.7 1519.2,842.9 1520.2,842.5 1521.2,842.3 1522.2,843.0 1523.2,843.4 1524.2,842.0 1525.2,843.3 1526.2,842.6 1527.2,842.6 1528.2,841.4 1529.2,840.6 1530.2,840.6 1531.2,839.2 1532.2,837.9 1533.2,837.0 1534.2,836.3 1535.2,834.8 1536.2,833.3 1537.2,830.7 1538.2,827.7 1539.2,826.9 1540.2,823.7 1541.2,820.5 1542.2,818.6 1543.2,817.0 1544.2,815.9 1545.2,816.9 1546.2,818.4 1547.2,820.6 1548.2,823.3 1549.2,825.7 1550.2,827.1 1551.2,829.7 1552.2,832.2 1553.2,833.5 1554.2,835.0 1555.2,836.0 1556.2,837.8 1557.2,838.4 1558.2,839.6 1559.2,840.6 1560.2,841.9 1561.2,842.0 1562.2,841.9 1563.2,841.6 1564.2,843.3 1565.2,843.0 1566.2,841.5 1567.2,842.4 1568.2,842.8 1569.2,842.1 1570.2,842.3 1571.2,841.8 1572.2,842.7 1573.2,842.6 1574.2,841.8 1575.2,842.4 1576.2,841.9 1577.2,842.9 1578.2,842.1 1579.2,843.2 1580.2,842.7 1581.2,842.7 1582.2,843.8 1583.2,843.3 1584.2,843.1 1585.2,842.9 1586.2,842.0 1587.2,842.7 1588.2,842.0 1589.2,842.6 1590.2,842.7 1591.2,842.2 1592.2,841.1 1593.2,840.2 1594.2,841.0 1595.2,839.6 1596.2,839.5 1597.2,838.1 1598.2,838.3 1599.2,838.6 1600.2,838.0 1601.2,838.6 1602.2,837.9 1603.2,838.1 1604.2,837.1 1605.2,838.0 1606.2,837.9 1607.2,837.5 1608.2,836.9 1609.2,836.8 1610.2,837.5 1611.2,838.4 1612.2,838.8 1613.2,839.7 1614.2,841.1 1615.2,840.6 1616.2,840.3 1617.2,841.8 1618.2,841.7 1619.2,842.5 1620.2,842.3 1621.2,842.7 1622.2,843.4 1623.2,843.7 1624.2,844.8 1625.2,843.4 1626.2,844.0 1627.2,844.3 1628.2,844.2 1629.2,846.3 1630.2,845.3 1631.2,845.5 1632.2,845.6 1633.2,844.5 1634.2,845.0 1635.2,845.0 1636.2,844.0 1637.2,845.1 1638.2,844.6 1639.2,845.0 1640.2,844.9 1641.2,844.6 1642.2,844.5 1643.2,845.7 1644.2,845.7 1645.2,845.8 1646.2,844.7 1647.2,846.5 1648.2,844.9 1649.2,844.8 1650.2,845.8 1651.2,844.9 1652.2,845.9 1653.2,845.5 1654.2,844.7 1655.2,844.0 1656.2,844.9 1657.2,845.1 1658.2,844.3 1659.2,845.2 1660.2,845.0 1661.2,845.1 1662.2,845.7 1663.2,845.6 1664.2,845.9 1665.2,843.7 1666.2,844.4 1667.2,845.2 1668.2,845.1 1669.2,845.5 1670.2,845.2 1671.2,845.4 1672.2,845.2 1673.2,844.6 1674.2,844.8 1675.2,845.4 1676.2,845.0 1677.2,844.9 1678.2,846.2 1679.2,845.1 1680.2,845.5 1681.2,844.5 1682.2,845.0 1683.2,844.2 1684.2,843.3 1685.2,844.7 1686.2,843.5 1687.2,843.6 1688.2,843.9 1689.2,844.3 1690.2,843.3 1691.2,843.7 1692.2,843.1 1693.2,841.4 1694.2,842.0 1695.2,840.4 1696.2,840.9 1697.2,839.7 1698.2,839.2 1699.2,838.2 1700.2,836.4 1701.2,835.2 1702.2,833.0 1703.2,831.4 1704.2,827.8 1705.2,825.4 1706.2,822.4 1707.2,819.1 1708.2,817.4 1709.2,816.1 1710.2,815.3 1711.2,815.8 1712.2,816.9 1713.2,818.7 1714.2,820.7 1715.2,823.6 1716.2,825.9 1717.2,828.7 1718.2,831.0 1719.2,832.9 1720.2,835.4 1721.2,836.7 1722.2,837.7 1723.2,839.1 1724.2,840.9 1725.2,840.7 1726.2,841.7 1727.2,841.8 1728.2,842.9 1729.2,841.9 1730.2,843.8 1731.2,842.8 1732.2,842.6 1733.2,843.5 1734.2,842.9 1735.2,843.3 1736.2,843.0 1737.2,844.4 1738.2,844.6 1739.2,844.2 1740.2,844.2 1741.2,844.3 1742.2,845.7 1743.2,845.1 1744.2,844.3 1745.2,844.3 1746.2,844.0 1747.2,845.4 1748.2,844.9 1749.2,844.3 1750.2,844.8 1751.2,843.7 1752.2,844.6 1753.2,844.7 1754.2,843.3 1755.2,843.3 1756.2,844.0 1757.2,844.0 1758.2,842.9 1759.2,842.9 1760.2,844.2 1761.2,843.7 1762.2,844.1 1763.2,844.1 1764.2,844.4 1765.2,842.7 1766.2,843.7 1767.2,844.2 1768.2,844.4 1769.2,844.0 1770.2,844.2 1771.2,846.1 1772.2,844.1 1773.2,845.8 1774.2,844.6 1775.2,844.4 1776.2,843.9 1777.2,844.7 1778.2,844.6 1779.2,844.6 1780.2,844.5 1781.2,844.3 1782.2,844.4 1783.2,844.4 1784.2,844.4 1785.2,844.7 1786.2,844.2 1787.2,845.3 1788.2,844.4 1789.2,844.7 1790.2,845.0 1791.2,845.0 1792.2,844.7 1793.2,845.0 1794.2,845.2 1795.2,844.1 1796.2,844.7 1797.2,844.5 1798.2,844.0 1799.2,844.0 1800.2,844.0 1801.2,843.9 1802.2,843.5 1803.2,844.2 1804.2,844.0 1805.2,845.3 1806.2,844.6 1807.2,845.3 1808.2,844.3 1809.2,844.9 1810.2,844.4 1811.2,844.7 1812.2,845.8 1813.2,845.5 1814.2,844.6 1815.2,845.8 1816.2,845.2 1817.2,846.0 1818.2,846.7 1819.2,846.7 1820.2,846.7 1821.2,847.8 1822.2,847.3 1823.2,847.8 1824.2,847.5 1825.2,847.0 1826.2,845.9 1827.2,846.2 1828.2,845.7 1829.2,846.3 1830.2,846.3 1831.2,846.5 1832.2,846.6 1833.2,846.9 1834.2,846.5 1835.2,846.6 1836.2,846.4 1837.2,845.8 1838.2,845.7 1839.2,846.1 1840.2,846.1 1841.2,847.0 1842.2,847.0 1843.2,846.7 1844.2,847.0 1845.2,848.5 1846.2,847.1 1847.2,847.6 1848.2,847.8 1849.2,848.1 1850.2,847.0 1851.2,847.6 1852.2,847.7 1853.2,848.9 1854.2,848.3 1855.2,849.2 1856.2,848.2 1857.2,848.1 1858.2,848.7 1859.2,848.6 1860.2,848.5 1861.2,848.8 1862.2,849.2 1863.2,850.0 1864.2,849.7 1865.2,849.7 1866.2,849.3 1867.2,849.9 1868.2,849.6 1869.2,849.2 1870.2,849.3 1871.2,849.8 1872.2,850.5 1873.2,849.3 1874.2,849.6 1875.2,849.9 1876.2,849.0 1877.2,849.8 1878.2,849.4 1879.2,850.2 1880.2,850.1 1881.2,849.9 1882.2,851.6 1883.2,850.5 1884.2,850.4 1885.2,851.4 1886.2,850.3 1887.2,851.1 1888.2,850.1 1889.2,850.5 1890.2,851.2 1891.2,851.2 1892.2,851.1 1893.2,851.0 1894.2,851.6 1895.2,851.1 1896.2,851.4 1897.2,852.9 1898.2,851.3 1899.2,852.3 1900.2,851.6 1901.2,850.6 1902.2,851.6 1903.2,850.8 1904.2,851.5 1905.2,852.3 1906.2,850.6 1907.2,852.3 1908.2,851.4 1909.2,851.9 1910.2,851.8 1911.2,852.1 1912.2,851.7 1913.2,852.1 1914.2,851.6 1915.2,851.3 1916.2,852.8 1917.2,852.3 1918.2,851.5 1919.2,852.5 1920.2,852.2 1921.2,851.9 1922.2,850.8 1923.2,851.0 1924.2,851.8 1925.2,851.4 1926.2,851.6 1927.2,850.7 1927.8,851.1" stroke="#006EE6"/>
<polyline points="143.2,933.9 144.2,934.5 145.2,936.5 146.2,935.3 147.2,934.2 148.2,937.9 149.2,939.1 150.2,943.4 151.2,941.2 152.2,944.2 153.2,943.1 154.2,944.0 155.2,944.1 156.2,942.2 157.2,943.5 158.2,943.4 159.2,948.2 160.2,953.2 161.2,946.9 162.2,952.9 163.2,955.8 164.2,952.6 165.2,955.5 166.2,954.4 167.2,954.3 168.2,955.3 169.2,956.7 170.2,960.5 171.2,960.8 172.2,959.9 173.2,965.4 174.2,964.9 175.2,963.7 176.2,968.1 177.2,972.5 178.2,973.6 179.2,969.5 180.2,974.3 181.2,974.5 182.2,978.2 183.2,981.2 184.2,971.9 185.2,981.6 186.2,978.5 187.2,983.9 188.2,988.9 189.2,990.6 190.2,987.7 191.2,994.7 192.2,991.6 193.2,994.4 194.2,993.4 195.2,997.0 196.2,997.6 197.2,1003.5 198.2,1002.4 199.2,1007.8 200.2,1005.9 201.2,1011.2 202.2,1012.5 203.2,1012.7 204.2,1016.2 205.2,1020.0 206.2,1022.3 207.2,1020.5 208.2,1022.6 209.2,1026.5 210.2,1031.3 211.2,1028.8 212.2,1026.9 213.2,1029.2 214.2,1032.0 215.2,1034.7 216.2,1034.1 217.2,1035.0 218.2,1040.8 219.2,1041.7 220.2,1044.2 221.2,1043.4 222.2,1046.8 223.2,1051.3 224.2,1051.3 225.2,1052.1 226.2,1057.2 227.2,1058.0 228.2,1062.2 229.2,1063.8 230.2,1065.2 231.2,1067.2 232.2,1071.0 233.2,1071.0 234.2,1073.9 235.2,1076.5 236.2,1075.7 237.2,1077.2 238.2,1079.5 239.2,1079.6 240.2,1083.4 241.2,1083.7 242.2,1085.7 243.2,1086.4 244.2,1090.7 245.2,1092.2 246.2,1091.9 247.2,1093.1 248.2,1093.5 249.2,1094.8 250.2,1096.4 251.2,1097.7 252.2,1096.9 253.2,1098.6 254.2,1098.2 255.2,1100.6 256.2,1101.7 257.2,1100.1 258.2,1101.2 259.2,1100.6 260.2,1102.2 261.2,1102.4 262.2,1102.1 263.2,1102.3 264.2,1104.1 265.2,1103.5 266.2,1106.2 267.2,1105.5 268.2,1106.0 269.2,1107.5 270.2,1108.1 271.2,1107.4 272.2,1109.2 273.2,1109.3 274.2,1109.8 275.2,1111.3 276.2,1109.9 277.2,1110.5 278.2,1109.6 279.2,1111.5 280.2,1110.9 281.2,1111.2 282.2,1112.0 283.2,1112.3 284.2,1112.1 285.2,1112.3 286.2,1112.2 287.2,1111.4 288.2,1114.3 289.2,1113.0 290.2,1113.9 291.2,1113.1 292.2,1114.2 293.2,1115.3 294.2,1114.9 295.2,1114.4 296.2,1114.6 297.2,1114.7 298.2,1114.0 299.2,1113.5 300.2,1115.5 301.2,1114.9 302.2,1116.9 303.2,1116.2 304.2,1115.1 305.2,1115.7 306.2,1115.9 307.2,1117.1 308.2,1115.7 309.2,1118.0 310.2,1116.6 311.2,1117.4 312.2,1117.6 313.2,1116.1 314.2,1116.2 315.2,1116.8 316.2,1117.4 317.2,1117.2 318.2,1116.6 319.2,1117.6 320.2,1117.1 321.2,1117.7 322.2,1116.7 323.2,1118.9 324.2,1117.9 325.2,1118.0 326.2,1118.6 327.2,1119.1 328.2,1119.5 329.2,1118.5 330.2,1117.5 331.2,1120.2 332.2,1118.2 333.2,1119.8 334.2,1118.8 335.2,1118.9 336.2,1120.6 337.2,1119.0 338.2,1117.9 339.2,1120.2 340.2,1119.8 341.2,1119.9 342.2,1119.2 343.2,1118.5 344.2,1118.6 345.2,1119.6 346.2,1120.2 347.2,1120.1 348.2,1120.7 349.2,1121.4 350.2,1120.8 351.2,1121.2 352.2,1120.2 353.2,1120.2 354.2,1120.1 355.2,1121.1 356.2,1120.3 357.2,1120.9 358.2,1119.8 359.2,1120.5 360.2,1120.6 361.2,1119.5 362.2,1118.8 363.2,1118.0 364.2,1117.9 365.2,1117.6 366.2,1118.8 367.2,1119.2 368.2,1119.5 369.2,1119.5 370.2,1120.4 371.2,1120.4 372.2,1119.3 373.2,1119.8 374.2,1119.2 375.2,1119.5 376.2,1118.6 377.2,1118.6 378.2,1116.6 379.2,1116.9 380.2,1115.9 381.2,1113.4 382.2,1110.6 383.2,1107.5 384.2,1104.6 385.2,1100.8 386.2,1096.2 387.2,1097.6 388.2,1097.9 389.2,1100.8 390.2,1103.4 391.2,1107.8 392.2,1111.1 393.2,1111.5 394.2,1113.7 395.2,1114.7 396.2,1115.3 397.2,1115.3 398.2,1116.6 399.2,1114.0 400.2,1114.7 401.2,1113.8 402.2,1112.0 403.2,1112.3 404.2,1110.4 405.2,1111.4 406.2,1111.3 407.2,1111.7 408.2,1113.2 409.2,1112.4 410.2,1113.7 411.2,1114.9 412.2,1116.7 413.2,1116.4 414.2,1116.6 415.2,1117.2 416.2,1117.6 417.2,1116.7 418.2,1118.3 419.2,1118.2 420.2,1117.2 421.2,1116.7 422.2,1115.8 423.2,1117.4 424.2,1116.8 425.2,1116.6 426.2,1116.5 427.2,1116.8 428.2,1118.2 429.2,1116.8 430.2,1118.3 431.2,1117.8 432.2,1117.8 433.2,1117.5 434.2,1116.9 435.2,1120.0 436.2,1119.5 437.2,1119.0 438.2,1119.4 439.2,1119.5 440.2,1117.6 441.2,1119.8 442.2,1118.9 443.2,1119.0 444.2,1117.7 445.2,1118.5 446.2,1118.4 447.2,1120.8 448.2,1119.4 449.2,1119.9 450.2,1121.0 451.2,1120.6 452.2,1121.1 453.2,1121.2 454.2,1120.4 455.2,1120.0 456.2,1118.7 457.2,1118.7 458.2,1117.7 459.2,1119.7 460.2,1119.0 461.2,1120.1 462.2,1119.6 463.2,1120.5 464.2,1119.1 465.2,1119.0 466.2,1120.1 467.2,1120.0 468.2,1120.5 469.2,1119.1 470.2,1118.9 471.2,1119.5 472.2,1120.1 473.2,1119.6 474.2,1119.4 475.2,1119.1 476.2,1119.8 477.2,1120.8 478.2,1120.5 479.2,1119.6 480.2,1120.6 481.2,1121.8 482.2,1120.8 483.2,1121.9 484.2,1120.6 485.2,1121.0 486.2,1122.9 487.2,1120.8 488.2,1121.2 489.2,1121.0 490.2,1121.1 491.2,1120.2 492.2,1121.1 493.2,1120.5 494.2,1120.5 495.2,1120.4 496.2,1121.1 497.2,1119.9 498.2,1121.8 499.2,1121.0 500.2,1121.9 501.2,1123.1 502.2,1122.6 503.2,1121.1 504.2,1121.6 505.2,1121.1 506.2,1121.2 507.2,1120.1 508.2,1119.1 509.2,1120.3 510.2,1118.3 511.2,1119.8 512.2,1119.6 513.2,1119.8 514.2,1121.4 515.2,1119.8 516.2,1120.2 517.2,1121.0 518.2,1119.1 519.2,1119.8 520.2,1121.3 521.2,1120.6 522.2,1120.5 523.2,1121.8 524.2,1119.3 525.2,1120.4 526.2,1119.9 527.2,1120.2 528.2,1119.2 529.2,1118.5 530.2,1120.0 531.2,1119.2 532.2,1120.0 533.2,1119.3 534.2,1120.5 535.2,1119.5 536.2,1120.2 537.2,1120.1 538.2,1118.3 539.2,1118.0 540.2,1118.7 541.2,1119.4 542.2,1119.7 543.2,1119.0 544.2,1119.3 545.2,1119.6 546.2,1119.0 547.2,1117.7 548.2,1118.4 549.2,1118.5 550.2,1117.0 551.2,1117.9 552.2,1118.4 553.2,1118.0 554.2,1118.4 555.2,1118.8 556.2,1118.8 557.2,1118.6 558.2,1117.9 559.2,1117.9 560.2,1118.8 561.2,1117.1 562.2,1117.7 563.2,1116.1 564.2,1117.7 565.2,1115.9 566.2,1117.4 567.2,1117.7 568.2,1116.8 569.2,1116.2 570.2,1116.8 571.2,1117.4 572.2,1117.2 573.2,1115.7 574.2,1116.8 575.2,1116.0 576.2,1116.8 577.2,1116.5 578.2,1116.4 579.2,1116.0 580.2,1115.5 581.2,1116.0 582.2,1114.0 583.2,1113.9 584.2,1114.2 585.2,1113.9 586.2,1114.1 587.2,1114.1 588.2,1112.7 589.2,1111.7 590.2,1113.3 591.2,1109.1 592.2,1109.9 593.2,1109.0 594.2,1107.7 595.2,1108.7 596.2,1106.8 597.2,1103.9 598.2,1105.3 599.2,1104.6 600.2,1104.1 601.2,1101.8 602.2,1099.2 603.2,1098.2 604.2,1096.4 605.2,1094.1 606.2,1093.8 607.2,1092.6 608.2,1091.1 609.2,1089.5 610.2,1087.5 611.2,1085.2 612.2,1085.4 613.2,1082.5 614.2,1080.4 615.2,1080.4 616.2,1079.0 617.2,1079.6 618.2,1080.4 619.2,1080.1 620.2,1081.5 621.2,1083.3 622.2,1084.6 623.2,1086.4 624.2,1087.5 625.2,1089.4 626.2,1091.8 627.2,1093.1 628.2,1094.8 629.2,1096.0 630.2,1096.3 631.2,1099.1 632.2,1099.4 633.2,1102.2 634.2,1103.5 635.2,1104.7 636.2,1105.9 637.2,1107.9 638.2,1108.9 639.2,1108.3 640.2,1110.6 641.2,1112.7 642.2,1112.3 643.2,1112.9 644.2,1115.1 645.2,1114.6 646.2,1116.7 647.2,1117.3 648.2,1117.0 649.2,1117.5 650.2,1120.2 651.2,1119.7 652.2,1119.7 653.2,1120.0 654.2,1121.1 655.2,1120.4 656.2,1119.8 657.2,1120.1 658.2,1121.0 659.2,1120.9 660.2,1120.7 661.2,1121.0 662.2,1119.4 663.2,1121.9 664.2,1120.8 665.2,1120.6 666.2,1119.6 667.2,1121.6 668.2,1120.0 669.2,1122.9 670.2,1120.0 671.2,1122.3 672.2,1121.6 673.2,1123.0 674.2,1120.4 675.2,1121.8 676.2,1121.1 677.2,1122.1 678.2,1122.4 679.2,1122.8 680.2,1123.7 681.2,1123.5 682.2,1123.5 683.2,1124.3 684.2,1124.2 685.2,1124.2 686.2,1124.5 687.2,1125.3 688.2,1124.5 689.2,1124.9 690.2,1124.6 691.2,1123.4 692.2,1124.9 693.2,1124.4 694.2,1124.0 695.2,1124.8 696.2,1125.4 697.2,1125.0 698.2,1125.3 699.2,1124.2 700.2,1123.4 701.2,1124.0 702.2,1124.4 703.2,1124.1 704.2,1124.6 705.2,1122.9 706.2,1124.4 707.2,1125.3 708.2,1124.8 709.2,1124.6 710.2,1125.5 711.2,1123.6 712.2,1124.9 713.2,1125.7 714.2,1124.1 715.2,1124.4 716.2,1123.9 717.2,1123.5 718.2,1123.7 719.2,1123.7 720.2,1121.6 721.2,1120.7 722.2,1122.4 723.2,1121.2 724.2,1120.7 725.2,1120.3 726.2,1119.4 727.2,1118.1 728.2,1117.2 729.2,1114.2 730.2,1112.1 731.2,1107.4 732.2,1102.2 733.2,1095.0 734.2,1087.2 735.2,1076.4 736.2,1064.7 737.2,1053.3 738.2,1045.3 739.2,1043.4 740.2,1047.3 741.2,1055.9 742.2,1066.3 743.2,1077.8 744.2,1087.5 745.2,1096.9 746.2,1103.5 747.2,1109.0 748.2,1112.4 749.2,1115.2 750.2,1116.4 751.2,1117.4 752.2,1119.9 753.2,1119.9 754.2,1121.0 755.2,1119.7 756.2,1121.4 757.2,1121.4 758.2,1122.3 759.2,1120.4 760.2,1121.9 761.2,1121.4 762.2,1120.6 763.2,1119.4 764.2,1119.8 765.2,1117.4 766.2,1115.5 767.2,1113.8 768.2,1112.6 769.2,1111.4 770.2,1111.2 771.2,1109.3 772.2,1110.1 773.2,1112.8 774.2,1114.0 775.2,1117.4 776.2,1118.4 777.2,1121.7 778.2,1121.3 779.2,1121.4 780.2,1122.4 781.2,1123.7 782.2,1123.6 783.2,1123.6 784.2,1123.4 785.2,1123.3 786.2,1124.3 787.2,1126.4 788.2,1125.7 789.2,1125.4 790.2,1125.5 791.2,1126.8 792.2,1127.4 793.2,1127.1 794.2,1126.1 795.2,1125.7 796.2,1127.2 797.2,1126.4 798.2,1127.7 799.2,1126.0 800.2,1126.8 801.2,1126.2 802.2,1126.4 803.2,1127.8 804.2,1126.2 805.2,1126.4 806.2,1127.8 807.2,1128.1 808.2,1127.4 809.2,1128.2 810.2,1127.3 811.2,1125.8 812.2,1126.9 813.2,1127.7 814.2,1126.6 815.2,1126.5 816.2,1127.6 817.2,1128.4 818.2,1127.3 819.2,1126.9 820.2,1128.0 821.2,1127.4 822.2,1127.6 823.2,1127.2 824.2,1128.0 825.2,1127.5 826.2,1128.9 827.2,1128.1 828.2,1127.7 829.2,1128.7 830.2,1127.5 831.2,1126.1 832.2,1127.1 833.2,1127.5 834.2,1128.2 835.2,1128.4 836.2,1127.0 837.2,1127.7 838.2,1127.1 839.2,1126.6 840.2,1127.2 841.2,1125.9 842.2,1126.7 843.2,1127.9 844.2,1126.7 845.2,1127.8 846.2,1127.3 847.2,1127.8 848.2,1126.8 849.2,1128.3 850.2,1127.5 851.2,1126.8 852.2,1129.3 853.2,1125.2 854.2,1126.2 855.2,1126.1 856.2,1126.7 857.2,1124.9 858.2,1126.2 859.2,1126.3 860.2,1126.1 861.2,1126.4 862.2,1125.8 863.2,1125.4 864.2,1126.1 865.2,1124.4 866.2,1125.1 867.2,1123.9 868.2,1123.5 869.2,1124.6 870.2,1123.3 871.2,1122.5 872.2,1123.0 873.2,1123.1 874.2,1122.0 875.2,1122.2 876.2,1121.0 877.2,1120.0 878.2,1121.1 879.2,1120.2 880.2,1120.0 881.2,1119.8 882.2,1118.4 883.2,1116.0 884.2,1113.8 885.2,1110.8 886.2,1108.5 887.2,1102.8 888.2,1095.6 889.2,1085.5 890.2,1072.7 891.2,1055.5 892.2,1033.1 893.2,1005.8 894.2,974.4 895.2,941.6 896.2,910.0 897.2,888.5 898.2,883.8 899.2,897.5 900.2,924.6 901.2,955.6 902.2,988.8 903.2,1019.1 904.2,1044.8 905.2,1063.8 906.2,1078.9 907.2,1088.9 908.2,1097.5 909.2,1103.3 910.2,1105.8 911.2,1109.0 912.2,1111.8 913.2,1112.4 914.2,1112.9 915.2,1114.3 916.2,1114.3 917.2,1114.8 918.2,1115.1 919.2,1113.7 920.2,1113.4 921.2,1111.7 922.2,1108.9 923.2,1106.8 924.2,1104.9 925.2,1102.1 926.2,1098.6 927.2,1092.7 928.2,1090.5 929.2,1086.3 930.2,1083.4 931.2,1083.9 932.2,1084.2 933.2,1087.0 934.2,1089.1 935.2,1091.1 936.2,1094.4 937.2,1098.1 938.2,1100.0 939.2,1101.9 940.2,1102.1 941.2,1102.3 942.2,1103.3 943.2,1102.3 944.2,1100.1 945.2,1098.7 946.2,1099.0 947.2,1099.3 948.2,1099.2 949.2,1102.9 950.2,1105.9 951.2,1108.1 952.2,1112.4 953.2,1114.3 954.2,1116.7 955.2,1117.9 956.2,1120.1 957.2,1122.2 958.2,1123.9 959.2,1125.2 960.2,1125.7 961.2,1126.9 962.2,1126.2 963.2,1127.2 964.2,1127.0 965.2,1127.1 966.2,1127.8 967.2,1127.8 968.2,1128.2 969.2,1128.5 970.2,1126.7 971.2,1128.2 972.2,1127.4 973.2,1127.8 974.2,1127.9 975.2,1128.4 976.2,1127.7 977.2,1127.9 978.2,1128.2 979.2,1128.5 980.2,1129.0 981.2,1129.1 982.2,1128.9 983.2,1129.7 984.2,1129.1 985.2,1128.8 986.2,1129.7 987.2,1128.4 988.2,1129.4 989.2,1129.3 990.2,1128.5 991.2,1129.4 992.2,1127.9 993.2,1127.3 994.2,1129.3 995.2,1128.8 996.2,1129.5 997.2,1129.6 998.2,1129.5 999.2,1130.5 1000.2,1129.5 1001.2,1130.9 1002.2,1130.2 1003.2,1130.8 1004.2,1131.0 1005.2,1130.9 1006.2,1130.7 1007.2,1131.3 1008.2,1130.4 1009.2,1130.1 1010.2,1130.4 1011.2,1129.5 1012.2,1129.3 1013.2,1129.0 1014.2,1130.6 1015.2,1130.4 1016.2,1131.7 1017.2,1131.0 1018.2,1131.9 1019.2,1131.5 1020.2,1131.5 1021.2,1131.9 1022.2,1131.5 1023.2,1131.6 1024.2,1130.9 1025.2,1130.5 1026.2,1132.3 1027.2,1131.4 1028.2,1131.1 1029.2,1131.8 1030.2,1131.8 1031.2,1132.3 1032.2,1131.8 1033.2,1132.4 1034.2,1132.3 1035.2,1132.3 1036.2,1131.7 1037.2,1131.6 1038.2,1132.3 1039.2,1133.2 1040.2,1132.9 1041.2,1133.7 1042.2,1134.1 1043.2,1133.8 1044.2,1135.3 1045.2,1133.3 1046.2,1132.6 1047.2,1133.7 1048.2,1133.4 1049.2,1133.4 1050.2,1133.2 1051.2,1134.2 1052.2,1133.8 1053.2,1133.9 1054.2,1133.4 1055.2,1134.5 1056.2,1133.2 1057.2,1133.4 1058.2,1133.4 1059.2,1133.5 1060.2,1134.0 1061.2,1133.9 1062.2,1135.4 1063.2,1134.9 1064.2,1134.4 1065.2,1135.2 1066.2,1135.3 1067.2,1133.8 1068.2,1133.3 1069.2,1133.7 1070.2,1133.6 1071.2,1133.8 1072.2,1132.9 1073.2,1133.9 1074.2,1133.5 1075.2,1132.3 1076.2,1133.3 1077.2,1132.9 1078.2,1133.0 1079.2,1132.8 1080.2,1134.3 1081.2,1133.8 1082.2,1133.4 1083.2,1133.4 1084.2,1132.6 1085.2,1135.1 1086.2,1132.7 1087.2,1133.8 1088.2,1132.8 1089.2,1132.1 1090.2,1132.6 1091.2,1131.8 1092.2,1131.9 1093.2,1132.4 1094.2,1131.3 1095.2,1132.8 1096.2,1130.7 1097.2,1132.5 1098.2,1131.6 1099.2,1131.0 1100.2,1130.2 1101.2,1130.1 1102.2,1130.0 1103.2,1128.6 1104.2,1128.6 1105.2,1128.6 1106.2,1127.2 1107.2,1127.2 1108.2,1125.9 1109.2,1125.7 1110.2,1125.4 1111.2,1123.1 1112.2,1122.6 1113.2,1122.8 1114.2,1122.5 1115.2,1121.1 1116.2,1119.8 1117.2,1117.3 1118.2,1114.4 1119.2,1111.9 1120.2,1107.1 1121.2,1103.4 1122.2,1098.4 1123.2,1095.1 1124.2,1091.7 1125.2,1089.5 1126.2,1091.4 1127.2,1093.9 1128.2,1097.4 1129.2,1102.1 1130.2,1106.8 1131.2,1110.5 1132.2,1116.0 1133.2,1119.2 1134.2,1122.8 1135.2,1124.9 1136.2,1125.7 1137.2,1125.5 1138.2,1127.4 1139.2,1128.9 1140.2,1128.6 1141.2,1130.3 1142.2,1130.4 1143.2,1130.5 1144.2,1130.4 1145.2,1131.5 1146.2,1131.4 1147.2,1130.4 1148.2,1131.7 1149.2,1130.6 1150.2,1131.5 1151.2,1132.9 1152.2,1131.1 1153.2,1132.2 1154.2,1130.2 1155.2,1130.0 1156.2,1129.6 1157.2,1129.3 1158.2,1128.5 1159.2,1128.8 1160.2,1128.5 1161.2,1126.8 1162.2,1125.9 1163.2,1125.7 1164.2,1125.1 1165.2,1123.9 1166.2,1123.9 1167.2,1123.4 1168.2,1123.4 1169.2,1123.9 1170.2,1122.9 1171.2,1123.2 1172.2,1124.0 1173.2,1125.1 1174.2,1124.6 1175.2,1125.0 1176.2,1126.3 1177.2,1127.4 1178.2,1127.7 1179.2,1128.7 1180.2,1128.6 1181.2,1129.2 1182.2,1129.5 1183.2,1130.4 1184.2,1130.5 1185.2,1131.0 1186.2,1130.8 1187.2,1132.0 1188.2,1132.3 1189.2,1132.7 1190.2,1133.2 1191.2,1133.2 1192.2,1133.7 1193.2,1133.7 1194.2,1133.0 1195.2,1133.7 1196.2,1133.1 1197.2,1133.5 1198.2,1133.9 1199.2,1133.2 1200.2,1133.4 1201.2,1134.8 1202.2,1134.7 1203.2,1135.7 1204.2,1134.7 1205.2,1134.4 1206.2,1134.8 1207.2,1134.7 1208.2,1134.8 1209.2,1136.2 1210.2,1135.7 1211.2,1135.3 1212.2,1134.9 1213.2,1135.3 1214.2,1134.9 1215.2,1134.6 1216.2,1134.8 1217.2,1135.3 1218.2,1136.1 1219.2,1136.9 1220.2,1135.2 1221.2,1135.7 1222.2,1135.8 1223.2,1136.2 1224.2,1136.2 1225.2,1136.8 1226.2,1135.6 1227.2,1135.9 1228.2,1136.3 1229.2,1136.5 1230.2,1135.9 1231.2,1136.3 1232.2,1135.9 1233.2,1134.9 1234.2,1134.6 1235.2,1135.5 1236.2,1133.9 1237.2,1135.1 1238.2,1135.6 1239.2,1135.6 1240.2,1135.6 1241.2,1135.7 1242.2,1135.3 1243.2,1135.7 1244.2,1136.0 1245.2,1136.3 1246.2,1135.1 1247.2,1134.5 1248.2,1135.4 1249.2,1135.4 1250.2,1136.1 1251.2,1136.1 1252.2,1136.4 1253.2,1137.1 1254.2,1135.9 1255.2,1136.5 1256.2,1136.3 1257.2,1136.0 1258.2,1136.1 1259.2,1136.1 1260.2,1136.8 1261.2,1136.7 1262.2,1137.0 1263.2,1137.7 1264.2,1136.7 1265.2,1136.2 1266.2,1136.4 1267.2,1136.0 1268.2,1136.0 1269.2,1136.4 1270.2,1136.8 1271.2,1136.1 1272.2,1136.3 1273.2,1135.1 1274.2,1135.3 1275.2,1136.4 1276.2,1135.9 1277.2,1136.8 1278.2,1135.8 1279.2,1136.4 1280.2,1136.6 1281.2,1136.0 1282.2,1136.4 1283.2,1136.9 1284.2,1135.9 1285.2,1136.5 1286.2,1137.6 1287.2,1136.6 1288.2,1136.7 1289.2,1137.1 1290.2,1136.9 1291.2,1137.7 1292.2,1135.6 1293.2,1135.6 1294.2,1136.3 1295.2,1135.4 1296.2,1135.4 1297.2,1136.5 1298.2,1135.0 1299.2,1136.2 1300.2,1136.5 1301.2,1136.3 1302.2,1136.4 1303.2,1136.8 1304.2,1137.3 1305.2,1136.5 1306.2,1136.0 1307.2,1136.8 1308.2,1136.5 1309.2,1137.4 1310.2,1137.1 1311.2,1137.0 1312.2,1135.7 1313.2,1135.4 1314.2,1136.6 1315.2,1136.1 1316.2,1136.4 1317.2,1137.0 1318.2,1136.5 1319.2,1137.3 1320.2,1135.9 1321.2,1135.2 1322.2,1135.5 1323.2,1136.5 1324.2,1136.3 1325.2,1134.8 1326.2,1136.8 1327.2,1136.0 1328.2,1136.1 1329.2,1137.3 1330.2,1136.6 1331.2,1136.9 1332.2,1135.0 1333.2,1135.9 1334.2,1135.1 1335.2,1136.2 1336.2,1136.0 1337.2,1136.4 1338.2,1137.3 1339.2,1136.7 1340.2,1136.5 1341.2,1137.0 1342.2,1136.9 1343.2,1137.0 1344.2,1137.1 1345.2,1137.2 1346.2,1135.7 1347.2,1136.3 1348.2,1135.7 1349.2,1135.6 1350.2,1135.5 1351.2,1135.8 1352.2,1135.8 1353.2,1136.9 1354.2,1136.2 1355.2,1136.3 1356.2,1136.1 1357.2,1135.9 1358.2,1136.2 1359.2,1136.0 1360.2,1136.9 1361.2,1136.0 1362.2,1136.9 1363.2,1137.0 1364.2,1136.2 1365.2,1137.1 1366.2,1136.0 1367.2,1135.9 1368.2,1136.7 1369.2,1136.2 1370.2,1136.5 1371.2,1135.9 1372.2,1136.0 1373.2,1137.3 1374.2,1136.4 1375.2,1136.0 1376.2,1136.7 1377.2,1137.7 1378.2,1137.2 1379.2,1137.2 1380.2,1137.5 1381.2,1138.0 1382.2,1137.9 1383.2,1136.6 1384.2,1137.7 1385.2,1137.5 1386.2,1136.2 1387.2,1136.9 1388.2,1135.7 1389.2,1137.1 1390.2,1135.8 1391.2,1136.8 1392.2,1136.2 1393.2,1136.5 1394.2,1136.8 1395.2,1136.7 1396.2,1136.2 1397.2,1136.4 1398.2,1136.0 1399.2,1135.2 1400.2,1135.5 1401.2,1135.8 1402.2,1135.1 1403.2,1135.6 1404.2,1135.7 1405.2,1134.4 1406.2,1134.9 1407.2,1136.3 1408.2,1134.4 1409.2,1135.3 1410.2,1134.7 1411.2,1135.6 1412.2,1135.3 1413.2,1136.8 1414.2,1135.6 1415.2,1135.9 1416.2,1136.2 1417.2,1136.1 1418.2,1135.0 1419.2,1135.5 1420.2,1135.0 1421.2,1134.8 1422.2,1134.0 1423.2,1132.2 1424.2,1131.6 1425.2,1131.6 1426.2,1130.8 1427.2,1129.5 1428.2,1126.7 1429.2,1126.1 1430.2,1124.8 1431.2,1124.0 1432.2,1124.7 1433.2,1123.6 1434.2,1124.5 1435.2,1124.6 1436.2,1126.5 1437.2,1126.7 1438.2,1128.1 1439.2,1129.5 1440.2,1130.3 1441.2,1130.5 1442.2,1132.1 1443.2,1132.5 1444.2,1133.4 1445.2,1134.7 1446.2,1134.8 1447.2,1134.3 1448.2,1135.4 1449.2,1136.3 1450.2,1136.1 1451.2,1135.8 1452.2,1136.2 1453.2,1136.3 1454.2,1135.8 1455.2,1135.8 1456.2,1136.9 1457.2,1136.3 1458.2,1136.4 1459.2,1136.2 1460.2,1136.8 1461.2,1136.8 1462.2,1136.8 1463.2,1137.0 1464.2,1137.2 1465.2,1136.8 1466.2,1136.3 1467.2,1137.2 1468.2,1137.2 1469.2,1137.4 1470.2,1137.4 1471.2,1137.8 1472.2,1137.8 1473.2,1136.8 1474.2,1137.0 1475.2,1137.4 1476.2,1137.5 1477.2,1137.6 1478.2,1136.3 1479.2,1136.4 1480.2,1135.9 1481.2,1136.7 1482.2,1136.4 1483.2,1135.8 1484.2,1136.8 1485.2,1137.3 1486.2,1137.1 1487.2,1136.3 1488.2,1136.8 1489.2,1136.2 1490.2,1137.6 1491.2,1136.3 1492.2,1136.1 1493.2,1135.3 1494.2,1136.0 1495.2,1135.0 1496.2,1134.8 1497.2,1133.8 1498.2,1134.5 1499.2,1135.0 1500.2,1135.4 1501.2,1135.8 1502.2,1135.3 1503.2,1136.0 1504.2,1135.2 1505.2,1135.1 1506.2,1135.0 1507.2,1135.5 1508.2,1135.2 1509.2,1135.7 1510.2,1136.4 1511.2,1135.5 1512.2,1135.6 1513.2,1135.2 1514.2,1134.8 1515.2,1135.2 1516.2,1135.2 1517.2,1134.6 1518.2,1134.6 1519.2,1135.5 1520.2,1134.7 1521.2,1134.7 1522.2,1135.0 1523.2,1134.5 1524.2,1133.6 1525.2,1133.1 1526.2,1133.5 1527.2,1132.7 1528.2,1132.1 1529.2,1131.1 1530.2,1130.5 1531.2,1128.6 1532.2,1127.8 1533.2,1124.8 1534.2,1123.5 1535.2,1121.1 1536.2,1118.2 1537.2,1116.5 1538.2,1113.4 1539.2,1111.5 1540.2,1112.2 1541.2,1111.7 1542.2,1114.0 1543.2,1114.3 1544.2,1115.9 1545.2,1119.9 1546.2,1120.9 1547.2,1123.6 1548.2,1125.0 1549.2,1127.7 1550.2,1127.9 1551.2,1129.8 1552.2,1130.5 1553.2,1132.6 1554.2,1133.5 1555.2,1133.9 1556.2,1134.8 1557.2,1134.8 1558.2,1134.8 1559.2,1136.0 1560.2,1135.6 1561.2,1136.5 1562.2,1135.6 1563.2,1135.4 1564.2,1136.1 1565.2,1136.1 1566.2,1136.9 1567.2,1136.7 1568.2,1136.6 1569.2,1137.2 1570.2,1136.8 1571.2,1136.5 1572.2,1135.6 1573.2,1135.4 1574.2,1135.3 1575.2,1135.3 1576.2,1135.6 1577.2,1135.1 1578.2,1135.5 1579.2,1134.9 1580.2,1134.9 1581.2,1134.9 1582.2,1134.6 1583.2,1134.2 1584.2,1133.7 1585.2,1133.5 1586.2,1132.9 1587.2,1132.9 1588.2,1133.6 1589.2,1133.1 1590.2,1133.7 1591.2,1133.4 1592.2,1132.3 1593.2,1133.2 1594.2,1133.3 1595.2,1133.5 1596.2,1133.5 1597.2,1132.7 1598.2,1134.4 1599.2,1133.5 1600.2,1134.2 1601.2,1133.5 1602.2,1134.1 1603.2,1134.9 1604.2,1135.2 1605.2,1135.3 1606.2,1135.2 1607.2,1136.1 1608.2,1135.9 1609.2,1136.1 1610.2,1137.2 1611.2,1136.7 1612.2,1137.2 1613.2,1137.3 1614.2,1137.4 1615.2,1137.6 1616.2,1137.8 1617.2,1137.5 1618.2,1138.4 1619.2,1137.8 1620.2,1137.7 1621.2,1138.2 1622.2,1137.4 1623.2,1137.5 1624.2,1138.2 1625.2,1138.8 1626.2,1138.0 1627.2,1138.0 1628.2,1138.6 1629.2,1137.3 1630.2,1138.7 1631.2,1137.8 1632.2,1137.7 1633.2,1138.2 1634.2,1138.3 1635.2,1138.3 1636.2,1139.1 1637.2,1138.0 1638.2,1139.1 1639.2,1139.1 1640.2,1138.4 1641.2,1138.8 1642.2,1139.6 1643.2,1138.6 1644.2,1138.6 1645.2,1138.2 1646.2,1138.4 1647.2,1137.7 1648.2,1139.2 1649.2,1138.0 1650.2,1138.2 1651.2,1139.2 1652.2,1138.5 1653.2,1139.4 1654.2,1138.9 1655.2,1138.3 1656.2,1138.0 1657.2,1138.2 1658.2,1138.1 1659.2,1138.3 1660.2,1138.9 1661.2,1138.9 1662.2,1138.3 1663.2,1139.5 1664.2,1139.3 1665.2,1139.0 1666.2,1139.4 1667.2,1139.2 1668.2,1139.1 1669.2,1138.2 1670.2,1138.6 1671.2,1139.5 1672.2,1138.0 1673.2,1138.1 1674.2,1139.4 1675.2,1138.2 1676.2,1138.7 1677.2,1137.8 1678.2,1138.1 1679.2,1139.2 1680.2,1139.5 1681.2,1139.1 1682.2,1139.2 1683.2,1139.8 1684.2,1139.4 1685.2,1139.0 1686.2,1137.7 1687.2,1137.7 1688.2,1137.2 1689.2,1138.1 1690.2,1137.4 1691.2,1137.4 1692.2,1137.4 1693.2,1136.9 1694.2,1136.4 1695.2,1135.4 1696.2,1134.7 1697.2,1133.1 1698.2,1131.3 1699.2,1130.7 1700.2,1127.3 1701.2,1123.8 1702.2,1122.0 1703.2,1120.6 1704.2,1118.1 1705.2,1116.9 1706.2,1116.3 1707.2,1115.4 1708.2,1115.8 1709.2,1117.4 1710.2,1119.6 1711.2,1120.9 1712.2,1123.2 1713.2,1126.3 1714.2,1128.8 1715.2,1129.6 1716.2,1129.8 1717.2,1131.3 1718.2,1131.5 1719.2,1134.3 1720.2,1134.5 1721.2,1134.8 1722.2,1135.1 1723.2,1135.9 1724.2,1135.6 1725.2,1136.7 1726.2,1136.4 1727.2,1136.4 1728.2,1139.0 1729.2,1138.3 1730.2,1138.7 1731.2,1138.6 1732.2,1138.2 1733.2,1138.5 1734.2,1137.3 1735.2,1137.4 1736.2,1137.1 1737.2,1137.1 1738.2,1137.0 1739.2,1138.4 1740.2,1137.6 1741.2,1138.5 1742.2,1137.4 1743.2,1137.9 1744.2,1138.5 1745.2,1137.7 1746.2,1138.9 1747.2,1137.2 1748.2,1138.0 1749.2,1137.5 1750.2,1136.9 1751.2,1137.5 1752.2,1137.2 1753.2,1137.9 1754.2,1137.8 1755.2,1137.6 1756.2,1138.2 1757.2,1138.5 1758.2,1137.4 1759.2,1138.2 1760.2,1139.0 1761.2,1138.5 1762.2,1138.7 1763.2,1138.4 1764.2,1139.6 1765.2,1139.6 1766.2,1139.1 1767.2,1139.5 1768.2,1138.9 1769.2,1138.8 1770.2,1139.0 1771.2,1139.1 1772.2,1138.9 1773.2,1138.8 1774.2,1138.8 1775.2,1138.1 1776.2,1138.7 1777.2,1138.9 1778.2,1139.3 1779.2,1140.2 1780.2,1138.9 1781.2,1138.9 1782.2,1139.6 1783.2,1139.0 1784.2,1139.0 1785.2,1138.9 1786.2,1138.1 1787.2,1139.4 1788.2,1139.3 1789.2,1139.8 1790.2,1138.6 1791.2,1140.4 1792.2,1139.1 1793.2,1139.8 1794.2,1139.9 1795.2,1140.1 1796.2,1140.1 1797.2,1140.2 1798.2,1141.2 1799.2,1140.1 1800.2,1141.4 1801.2,1140.8 1802.2,1140.6 1803.2,1140.4 1804.2,1141.0 1805.2,1141.3 1806.2,1141.3 1807.2,1141.9 1808.2,1141.1 1809.2,1140.3 1810.2,1140.7 1811.2,1140.4 1812.2,1139.5 1813.2,1139.0 1814.2,1140.3 1815.2,1140.3 1816.2,1139.6 1817.2,1139.3 1818.2,1138.9 1819.2,1140.6 1820.2,1139.6 1821.2,1140.2 1822.2,1139.7 1823.2,1141.1 1824.2,1139.8 1825.2,1140.2 1826.2,1140.8 1827.2,1140.7 1828.2,1141.4 1829.2,1141.3 1830.2,1141.0 1831.2,1141.3 1832.2,1141.4 1833.2,1139.4 1834.2,1140.9 1835.2,1140.1 1836.2,1140.4 1837.2,1140.6 1838.2,1140.4 1839.2,1141.1 1840.2,1141.5 1841.2,1140.4 1842.2,1140.4 1843.2,1140.9 1844.2,1140.2 1845.2,1141.6 1846.2,1141.1 1847.2,1141.0 1848.2,1140.8 1849.2,1141.7 1850.2,1141.6 1851.2,1141.7 1852.2,1141.7 1853.2,1141.1 1854.2,1140.9 1855.2,1141.5 1856.2,1141.8 1857.2,1141.7 1858.2,1141.6 1859.2,1141.1 1860.2,1140.8 1861.2,1141.1 1862.2,1140.4 1863.2,1140.3 1864.2,1140.4 1865.2,1140.1 1866.2,1140.3 1867.2,1141.6 1868.2,1140.6 1869.2,1140.5 1870.2,1141.7 1871.2,1140.5 1872.2,1141.0 1873.2,1141.3 1874.2,1141.2 1875.2,1142.0 1876.2,1142.1 1877.2,1141.9 1878.2,1141.6 1879.2,1142.2 1880.2,1142.0 1881.2,1142.2 1882.2,1141.5 1883.2,1140.9 1884.2,1140.5 1885.2,1140.8 1886.2,1140.0 1887.2,1141.9 1888.2,1141.0 1889.2,1141.3 1890.2,1141.9 1891.2,1141.9 1892.2,1142.2 1893.2,1141.4 1894.2,1143.5 1895.2,1143.3 1896.2,1143.9 1897.2,1143.7 1898.2,1143.9 1899.2,1142.9 1900.2,1143.1 1901.2,1143.2 1902.2,1143.1 1903.2,1143.0 1904.2,1143.2 1905.2,1142.6 1906.2,1143.4 1907.2,1143.4 1908.2,1142.7 1909.2,1143.5 1910.2,1144.4 1911.2,1144.1 1912.2,1144.3 1913.2,1144.7 1914.2,1145.6 1915.2,1145.1 1916.2,1146.1 1917.2,1144.9 1918.2,1145.3 1919.2,1145.1 1920.2,1145.8 1921.2,1145.5 1922.2,1144.9 1923.2,1144.5 1924.2,1143.4 1925.2,1143.4 1926.2,1143.9 1927.2,1143.5 1927.8,1144.1" stroke="#F93E3E"/>
<polyline points="143.2,1273.8 144.2,1274.5 145.2,1272.8 146.2,1277.0 147.2,1274.7 148.2,1276.5 149.2,1277.7 150.2,1277.0 151.2,1279.0 152.2,1279.0 153.2,1274.9 154.2,1275.8 155.2,1281.2 156.2,1284.5 157.2,1283.7 158.2,1282.8 159.2,1280.6 160.2,1282.6 161.2,1282.6 162.2,1286.7 163.2,1283.8 164.2,1284.2 165.2,1285.7 166.2,1285.4 167.2,1281.9 168.2,1290.6 169.2,1289.1 170.2,1289.1 171.2,1290.9 172.2,1292.0 173.2,1291.1 174.2,1292.3 175.2,1293.3 176.2,1294.0 177.2,1294.8 178.2,1293.5 179.2,1295.7 180.2,1300.4 181.2,1300.4 182.2,1300.3 183.2,1302.2 184.2,1302.0 185.2,1300.6 186.2,1303.3 187.2,1302.5 188.2,1302.1 189.2,1303.4 190.2,1304.2 191.2,1304.0 192.2,1304.4 193.2,1304.8 194.2,1306.8 195.2,1307.0 196.2,1307.5 197.2,1306.2 198.2,1308.1 199.2,1308.6 200.2,1307.0 201.2,1309.8 202.2,1311.7 203.2,1308.1 204.2,1310.6 205.2,1313.4 206.2,1313.9 207.2,1313.7 208.2,1314.8 209.2,1313.8 210.2,1314.5 211.2,1316.2 212.2,1317.8 213.2,1318.6 214.2,1318.6 215.2,1321.2 216.2,1321.1 217.2,1319.6 218.2,1321.8 219.2,1324.1 220.2,1321.0 221.2,1324.1 222.2,1324.6 223.2,1323.4 224.2,1328.4 225.2,1328.8 226.2,1326.2 227.2,1328.8 228.2,1328.3 229.2,1328.5 230.2,1330.4 231.2,1329.9 232.2,1331.9 233.2,1331.5 234.2,1332.1 235.2,1331.6 236.2,1332.0 237.2,1333.5 238.2,1333.1 239.2,1334.3 240.2,1333.7 241.2,1332.3 242.2,1332.6 243.2,1334.4 244.2,1334.6 245.2,1334.4 246.2,1336.4 247.2,1336.7 248.2,1337.1 249.2,1337.7 250.2,1339.5 251.2,1341.1 252.2,1342.6 253.2,1341.3 254.2,1341.5 255.2,1340.3 256.2,1340.4 257.2,1344.8 258.2,1340.5 259.2,1343.3 260.2,1343.5 261.2,1343.9 262.2,1345.2 263.2,1343.1 264.2,1343.4 265.2,1344.2 266.2,1344.8 267.2,1346.9 268.2,1343.5 269.2,1345.8 270.2,1346.6 271.2,1346.0 272.2,1347.7 273.2,1349.2 274.2,1348.5 275.2,1347.6 276.2,1349.1 277.2,1348.0 278.2,1347.4 279.2,1348.3 280.2,1348.6 281.2,1348.8 282.2,1347.5 283.2,1349.6 284.2,1348.9 285.2,1352.0 286.2,1350.2 287.2,1351.3 288.2,1350.9 289.2,1353.5 290.2,1352.5 291.2,1353.8 292.2,1353.6 293.2,1353.7 294.2,1354.5 295.2,1354.4 296.2,1354.0 297.2,1352.0 298.2,1354.0 299.2,1353.5 300.2,1353.6 301.2,1355.2 302.2,1354.2 303.2,1354.7 304.2,1356.0 305.2,1356.6 306.2,1355.8 307.2,1356.6 308.2,1357.1 309.2,1358.0 310.2,1356.7 311.2,1356.3 312.2,1355.4 313.2,1357.3 314.2,1356.0 315.2,1356.6 316.2,1357.4 317.2,1356.9 318.2,1356.4 319.2,1357.6 320.2,1357.6 321.2,1359.6 322.2,1356.7 323.2,1358.8 324.2,1357.9 325.2,1357.3 326.2,1358.9 327.2,1358.2 328.2,1357.1 329.2,1358.1 330.2,1357.6 331.2,1359.3 332.2,1359.4 333.2,1359.4 334.2,1360.2 335.2,1359.2 336.2,1359.0 337.2,1360.6 338.2,1361.0 339.2,1360.7 340.2,1361.4 341.2,1361.9 342.2,1361.7 343.2,1362.2 344.2,1362.5 345.2,1363.6 346.2,1363.9 347.2,1361.8 348.2,1360.9 349.2,1361.6 350.2,1361.1 351.2,1361.7 352.2,1362.3 353.2,1362.6 354.2,1360.8 355.2,1362.0 356.2,1363.4 357.2,1363.2 358.2,1362.7 359.2,1364.2 360.2,1362.4 361.2,1363.4 362.2,1364.1 363.2,1364.2 364.2,1362.9 365.2,1362.9 366.2,1363.1 367.2,1364.5 368.2,1363.2 369.2,1363.9 370.2,1364.7 371.2,1363.3 372.2,1363.9 373.2,1364.4 374.2,1364.3 375.2,1363.8 376.2,1361.9 377.2,1363.3 378.2,1361.8 379.2,1361.7 380.2,1362.0 381.2,1359.0 382.2,1358.4 383.2,1356.7 384.2,1351.0 385.2,1348.2 386.2,1343.6 387.2,1338.1 388.2,1333.0 389.2,1329.8 390.2,1330.4 391.2,1334.3 392.2,1338.9 393.2,1344.3 394.2,1347.9 395.2,1350.6 396.2,1355.1 397.2,1354.6 398.2,1357.0 399.2,1356.1 400.2,1357.8 401.2,1356.7 402.2,1355.0 403.2,1353.3 404.2,1348.4 405.2,1347.2 406.2,1344.2 407.2,1343.0 408.2,1341.4 409.2,1344.1 410.2,1345.0 411.2,1348.8 412.2,1351.0 413.2,1354.1 414.2,1356.5 415.2,1357.1 416.2,1360.6 417.2,1360.7 418.2,1361.6 419.2,1361.3 420.2,1361.6 421.2,1362.3 422.2,1362.2 423.2,1364.4 424.2,1362.4 425.2,1363.6 426.2,1363.2 427.2,1363.9 428.2,1363.6 429.2,1364.9 430.2,1364.3 431.2,1365.8 432.2,1365.0 433.2,1365.4 434.2,1365.5 435.2,1364.9 436.2,1365.9 437.2,1364.8 438.2,1364.3 439.2,1364.1 440.2,1364.8 441.2,1364.7 442.2,1366.9 443.2,1365.3 444.2,1364.8 445.2,1363.5 446.2,1365.4 447.2,1366.3 448.2,1363.8 449.2,1364.1 450.2,1366.4 451.2,1365.2 452.2,1365.4 453.2,1365.8 454.2,1366.2 455.2,1365.8 456.2,1366.2 457.2,1366.3 458.2,1367.6 459.2,1365.5 460.2,1366.2 461.2,1367.5 462.2,1367.4 463.2,1366.3 464.2,1367.0 465.2,1367.9 466.2,1368.6 467.2,1367.3 468.2,1367.5 469.2,1366.4 470.2,1366.7 471.2,1366.2 472.2,1364.9 473.2,1366.6 474.2,1365.6 475.2,1364.2 476.2,1365.6 477.2,1366.0 478.2,1367.3 479.2,1365.0 480.2,1366.4 481.2,1367.0 482.2,1366.7 483.2,1367.1 484.2,1367.4 485.2,1366.6 486.2,1367.5 487.2,1367.4 488.2,1366.0 489.2,1367.3 490.2,1367.0 491.2,1366.3 492.2,1365.0 493.2,1365.9 494.2,1364.2 495.2,1365.3 496.2,1366.3 497.2,1366.8 498.2,1367.3 499.2,1365.5 500.2,1366.6 501.2,1366.3 502.2,1366.1 503.2,1367.2 504.2,1366.5 505.2,1366.8 506.2,1367.4 507.2,1367.2 508.2,1368.3 509.2,1368.0 510.2,1367.0 511.2,1366.9 512.2,1367.8 513.2,1367.9 514.2,1367.1 515.2,1367.7 516.2,1369.0 517.2,1366.7 518.2,1368.2 519.2,1366.8 520.2,1366.6 521.2,1365.6 522.2,1365.5 523.2,1367.3 524.2,1366.1 525.2,1366.6 526.2,1368.6 527.2,1368.0 528.2,1366.8 529.2,1366.8 530.2,1367.5 531.2,1367.5 532.2,1367.6 533.2,1367.0 534.2,1367.1 535.2,1367.2 536.2,1367.7 537.2,1367.4 538.2,1368.9 539.2,1366.2 540.2,1366.9 541.2,1367.0 542.2,1367.5 543.2,1366.2 544.2,1366.2 545.2,1367.0 546.2,1367.4 547.2,1366.6 548.2,1366.8 549.2,1367.2 550.2,1366.1 551.2,1365.1 552.2,1365.1 553.2,1366.7 554.2,1366.4 555.2,1365.4 556.2,1366.6 557.2,1366.2 558.2,1366.6 559.2,1365.8 560.2,1367.2 561.2,1366.3 562.2,1366.1 563.2,1367.3 564.2,1366.9 565.2,1366.8 566.2,1367.3 567.2,1367.0 568.2,1366.8 569.2,1366.7 570.2,1367.2 571.2,1365.5 572.2,1364.8 573.2,1365.7 574.2,1366.5 575.2,1367.3 576.2,1367.5 577.2,1367.3 578.2,1365.9 579.2,1366.2 580.2,1365.7 581.2,1366.6 582.2,1365.7 583.2,1365.5 584.2,1364.9 585.2,1365.2 586.2,1363.2 587.2,1363.8 588.2,1363.8 589.2,1364.0 590.2,1363.8 591.2,1365.2 592.2,1364.7 593.2,1364.6 594.2,1365.3 595.2,1365.0 596.2,1365.1 597.2,1363.3 598.2,1363.8 599.2,1362.9 600.2,1362.7 601.2,1362.1 602.2,1361.8 603.2,1360.6 604.2,1360.7 605.2,1359.8 606.2,1357.5 607.2,1357.2 608.2,1355.7 609.2,1354.3 610.2,1353.8 611.2,1353.4 612.2,1351.8 613.2,1353.2 614.2,1351.7 615.2,1352.7 616.2,1351.3 617.2,1350.4 618.2,1349.3 619.2,1350.9 620.2,1350.3 621.2,1350.2 622.2,1350.9 623.2,1350.2 624.2,1350.5 625.2,1351.6 626.2,1351.1 627.2,1352.1 628.2,1354.4 629.2,1353.5 630.2,1354.4 631.2,1355.8 632.2,1357.0 633.2,1356.5 634.2,1358.6 635.2,1359.9 636.2,1360.2 637.2,1360.7 638.2,1363.0 639.2,1362.5 640.2,1363.2 641.2,1365.2 642.2,1363.7 643.2,1364.3 644.2,1364.7 645.2,1365.5 646.2,1366.0 647.2,1366.8 648.2,1366.4 649.2,1367.4 650.2,1366.2 651.2,1369.0 652.2,1368.7 653.2,1368.7 654.2,1369.1 655.2,1369.7 656.2,1367.8 657.2,1368.9 658.2,1369.0 659.2,1367.6 660.2,1370.0 661.2,1369.1 662.2,1368.6 663.2,1368.7 664.2,1369.0 665.2,1370.1 666.2,1371.0 667.2,1369.8 668.2,1369.9 669.2,1369.6 670.2,1370.5 671.2,1369.9 672.2,1368.1 673.2,1369.2 674.2,1369.2 675.2,1368.7 676.2,1369.1 677.2,1370.4 678.2,1370.2 679.2,1370.7 680.2,1371.1 681.2,1370.7 682.2,1371.4 683.2,1370.8 684.2,1371.2 685.2,1371.9 686.2,1371.4 687.2,1371.9 688.2,1371.1 689.2,1371.7 690.2,1372.5 691.2,1371.6 692.2,1371.9 693.2,1372.0 694.2,1372.3 695.2,1372.5 696.2,1372.8 697.2,1370.3 698.2,1372.8 699.2,1372.5 700.2,1371.0 701.2,1372.5 702.2,1371.8 703.2,1371.4 704.2,1373.1 705.2,1372.3 706.2,1371.8 707.2,1372.4 708.2,1372.6 709.2,1373.5 710.2,1372.8 711.2,1373.8 712.2,1375.1 713.2,1373.8 714.2,1374.0 715.2,1374.2 716.2,1374.0 717.2,1373.8 718.2,1373.9 719.2,1373.7 720.2,1374.5 721.2,1373.4 722.2,1374.3 723.2,1372.6 724.2,1373.3 725.2,1373.3 726.2,1372.9 727.2,1371.8 728.2,1371.7 729.2,1370.6 730.2,1369.6 731.2,1368.3 732.2,1365.4 733.2,1361.6 734.2,1358.2 735.2,1352.2 736.2,1346.5 737.2,1338.9 738.2,1328.1 739.2,1318.4 740.2,1309.5 741.2,1302.3 742.2,1300.2 743.2,1305.9 744.2,1312.9 745.2,1323.6 746.2,1333.7 747.2,1342.7 748.2,1349.2 749.2,1356.2 750.2,1360.1 751.2,1362.0 752.2,1365.9 753.2,1366.2 754.2,1368.4 755.2,1368.7 756.2,1369.5 757.2,1371.9 758.2,1369.7 759.2,1368.8 760.2,1368.2 761.2,1367.6 762.2,1367.1 763.2,1366.7 764.2,1365.1 765.2,1362.3 766.2,1362.4 767.2,1358.0 768.2,1355.1 769.2,1353.9 770.2,1351.9 771.2,1348.5 772.2,1345.7 773.2,1347.3 774.2,1346.9 775.2,1350.2 776.2,1353.2 777.2,1355.8 778.2,1358.7 779.2,1360.3 780.2,1363.1 781.2,1365.0 782.2,1367.4 783.2,1367.8 784.2,1368.4 785.2,1370.2 786.2,1370.0 787.2,1370.2 788.2,1371.8 789.2,1371.4 790.2,1372.2 791.2,1370.5 792.2,1372.2 793.2,1371.8 794.2,1371.1 795.2,1370.7 796.2,1371.7 797.2,1371.4 798.2,1371.0 799.2,1372.1 800.2,1372.6 801.2,1371.9 802.2,1371.6 803.2,1371.6 804.2,1372.3 805.2,1371.4 806.2,1371.9 807.2,1372.9 808.2,1372.0 809.2,1371.4 810.2,1371.9 811.2,1372.6 812.2,1373.1 813.2,1371.6 814.2,1374.3 815.2,1374.0 816.2,1375.0 817.2,1373.6 818.2,1374.3 819.2,1373.9 820.2,1374.4 821.2,1372.6 822.2,1372.6 823.2,1373.2 824.2,1373.4 825.2,1373.6 826.2,1373.0 827.2,1374.0 828.2,1374.1 829.2,1374.8 830.2,1372.4 831.2,1373.3 832.2,1373.2 833.2,1375.4 834.2,1372.1 835.2,1371.1 836.2,1373.2 837.2,1372.5 838.2,1372.4 839.2,1374.2 840.2,1373.3 841.2,1373.4 842.2,1372.1 843.2,1373.5 844.2,1373.8 845.2,1374.5 846.2,1372.4 847.2,1372.4 848.2,1372.4 849.2,1372.7 850.2,1372.3 851.2,1372.5 852.2,1372.9 853.2,1373.1 854.2,1371.6 855.2,1372.4 856.2,1372.4 857.2,1371.4 858.2,1372.6 859.2,1370.6 860.2,1371.9 861.2,1372.4 862.2,1371.8 863.2,1372.0 864.2,1370.4 865.2,1372.1 866.2,1372.0 867.2,1370.4 868.2,1370.9 869.2,1370.0 870.2,1368.9 871.2,1369.7 872.2,1369.7 873.2,1370.0 874.2,1369.8 875.2,1367.5 876.2,1368.4 877.2,1368.8 878.2,1368.2 879.2,1367.0 880.2,1366.3 881.2,1367.3 882.2,1366.7 883.2,1365.3 884.2,1364.9 885.2,1365.1 886.2,1363.1 887.2,1361.2 888.2,1361.5 889.2,1358.3 890.2,1353.9 891.2,1349.8 892.2,1341.4 893.2,1333.5 894.2,1320.8 895.2,1304.6 896.2,1284.1 897.2,1260.1 898.2,1233.8 899.2,1207.2 900.2,1187.4 901.2,1176.4 902.2,1179.5 903.2,1196.3 904.2,1221.0 905.2,1248.6 906.2,1274.3 907.2,1295.7 908.2,1313.6 909.2,1327.3 910.2,1337.6 911.2,1344.3 912.2,1349.6 913.2,1354.0 914.2,1356.3 915.2,1357.8 916.2,1359.6 917.2,1360.8 918.2,1360.3 919.2,1360.8 920.2,1361.3 921.2,1360.0 922.2,1360.6 923.2,1360.1 924.2,1358.6 925.2,1356.9 926.2,1355.0 927.2,1350.5 928.2,1347.6 929.2,1343.0 930.2,1339.3 931.2,1331.5 932.2,1325.3 933.2,1319.8 934.2,1312.8 935.2,1306.5 936.2,1302.1 937.2,1300.3 938.2,1300.4 939.2,1304.5 940.2,1307.5 941.2,1313.3 942.2,1320.2 943.2,1325.4 944.2,1332.6 945.2,1336.7 946.2,1342.0 947.2,1344.2 948.2,1346.9 949.2,1347.7 950.2,1349.4 951.2,1349.0 952.2,1349.4 953.2,1349.1 954.2,1350.5 955.2,1351.0 956.2,1354.0 957.2,1355.4 958.2,1357.4 959.2,1361.0 960.2,1362.2 961.2,1365.5 962.2,1367.5 963.2,1368.5 964.2,1369.4 965.2,1370.4 966.2,1369.5 967.2,1370.0 968.2,1371.5 969.2,1370.5 970.2,1370.7 971.2,1370.9 972.2,1372.1 973.2,1371.2 974.2,1371.9 975.2,1373.3 976.2,1372.3 977.2,1373.1 978.2,1372.6 979.2,1372.5 980.2,1372.9 981.2,1371.2 982.2,1370.4 983.2,1371.2 984.2,1370.4 985.2,1371.3 986.2,1369.9 987.2,1370.1 988.2,1370.4 989.2,1371.4 990.2,1370.5 991.2,1371.8 992.2,1372.0 993.2,1374.0 994.2,1372.9 995.2,1375.3 996.2,1374.9 997.2,1374.7 998.2,1375.3 999.2,1374.4 1000.2,1376.2 1001.2,1375.3 1002.2,1377.1 1003.2,1376.8 1004.2,1377.6 1005.2,1376.8 1006.2,1378.9 1007.2,1378.9 1008.2,1376.7 1009.2,1376.9 1010.2,1377.5 1011.2,1375.9 1012.2,1377.6 1013.2,1376.4 1014.2,1375.2 1015.2,1374.4 1016.2,1376.9 1017.2,1377.5 1018.2,1376.6 1019.2,1377.0 1020.2,1377.6 1021.2,1376.9 1022.2,1377.8 1023.2,1378.2 1024.2,1377.1 1025.2,1376.1 1026.2,1376.4 1027.2,1375.9 1028.2,1376.4 1029.2,1377.2 1030.2,1378.2 1031.2,1378.2 1032.2,1379.1 1033.2,1378.5 1034.2,1380.7 1035.2,1379.9 1036.2,1380.4 1037.2,1378.4 1038.2,1378.5 1039.2,1377.6 1040.2,1378.4 1041.2,1376.9 1042.2,1378.4 1043.2,1377.4 1044.2,1377.1 1045.2,1377.5 1046.2,1377.6 1047.2,1377.8 1048.2,1379.3 1049.2,1379.0 1050.2,1378.7 1051.2,1379.7 1052.2,1379.2 1053.2,1378.8 1054.2,1379.5 1055.2,1379.3 1056.2,1379.7 1057.2,1378.4 1058.2,1379.8 1059.2,1377.8 1060.2,1378.0 1061.2,1378.0 1062.2,1378.3 1063.2,1379.5 1064.2,1379.3 1065.2,1378.8 1066.2,1379.6 1067.2,1378.7 1068.2,1379.8 1069.2,1379.2 1070.2,1378.7 1071.2,1379.1 1072.2,1379.1 1073.2,1379.0 1074.2,1380.0 1075.2,1379.1 1076.2,1379.1 1077.2,1379.8 1078.2,1379.3 1079.2,1379.4 1080.2,1378.5 1081.2,1379.3 1082.2,1379.2 1083.2,1379.7 1084.2,1379.0 1085.2,1378.5 1086.2,1378.7 1087.2,1378.9 1088.2,1378.3 1089.2,1378.3 1090.2,1377.8 1091.2,1377.1 1092.2,1377.2 1093.2,1378.0 1094.2,1376.5 1095.2,1379.0 1096.2,1377.3 1097.2,1377.3 1098.2,1378.0 1099.2,1376.7 1100.2,1376.7 1101.2,1376.3 1102.2,1377.9 1103.2,1377.9 1104.2,1376.4 1105.2,1377.5 1106.2,1377.7 1107.2,1376.3 1108.2,1376.5 1109.2,1375.2 1110.2,1375.3 1111.2,1375.3 1112.2,1375.2 1113.2,1375.1 1114.2,1375.0 1115.2,1374.9 1116.2,1374.5 1117.2,1374.5 1118.2,1373.4 1119.2,1372.2 1120.2,1370.3 1121.2,1367.4 1122.2,1365.5 1123.2,1362.4 1124.2,1360.9 1125.2,1357.7 1126.2,1353.4 1127.2,1351.3 1128.2,1349.1 1129.2,1348.6 1130.2,1349.5 1131.2,1350.7 1132.2,1353.4 1133.2,1355.7 1134.2,1360.8 1135.2,1362.9 1136.2,1366.6 1137.2,1370.1 1138.2,1371.4 1139.2,1372.6 1140.2,1373.5 1141.2,1375.1 1142.2,1375.3 1143.2,1374.9 1144.2,1376.7 1145.2,1376.5 1146.2,1376.4 1147.2,1377.2 1148.2,1377.8 1149.2,1376.8 1150.2,1377.7 1151.2,1377.3 1152.2,1377.3 1153.2,1377.6 1154.2,1377.4 1155.2,1376.9 1156.2,1378.2 1157.2,1377.5 1158.2,1378.5 1159.2,1377.7 1160.2,1377.4 1161.2,1376.3 1162.2,1377.9 1163.2,1377.5 1164.2,1376.5 1165.2,1375.9 1166.2,1374.9 1167.2,1374.9 1168.2,1373.3 1169.2,1374.1 1170.2,1372.5 1171.2,1371.8 1172.2,1370.8 1173.2,1367.4 1174.2,1365.6 1175.2,1365.6 1176.2,1363.8 1177.2,1361.1 1178.2,1359.6 1179.2,1358.5 1180.2,1359.6 1181.2,1359.2 1182.2,1361.0 1183.2,1362.4 1184.2,1363.1 1185.2,1365.3 1186.2,1367.5 1187.2,1368.9 1188.2,1369.3 1189.2,1372.2 1190.2,1373.5 1191.2,1374.6 1192.2,1377.1 1193.2,1377.5 1194.2,1377.3 1195.2,1377.8 1196.2,1378.4 1197.2,1379.2 1198.2,1378.2 1199.2,1378.9 1200.2,1379.7 1201.2,1380.2 1202.2,1381.3 1203.2,1381.8 1204.2,1380.2 1205.2,1380.9 1206.2,1381.0 1207.2,1382.2 1208.2,1382.1 1209.2,1379.8 1210.2,1381.1 1211.2,1380.9 1212.2,1380.1 1213.2,1378.9 1214.2,1379.4 1215.2,1380.1 1216.2,1380.3 1217.2,1380.1 1218.2,1378.9 1219.2,1381.2 1220.2,1381.6 1221.2,1382.5 1222.2,1381.9 1223.2,1382.3 1224.2,1382.2 1225.2,1381.7 1226.2,1381.3 1227.2,1382.0 1228.2,1381.8 1229.2,1380.8 1230.2,1380.4 1231.2,1380.7 1232.2,1380.6 1233.2,1381.8 1234.2,1381.6 1235.2,1381.4 1236.2,1382.2 1237.2,1381.8 1238.2,1382.3 1239.2,1382.0 1240.2,1382.3 1241.2,1383.1 1242.2,1382.6 1243.2,1382.8 1244.2,1382.5 1245.2,1381.8 1246.2,1382.9 1247.2,1382.0 1248.2,1382.7 1249.2,1381.6 1250.2,1381.8 1251.2,1382.1 1252.2,1382.4 1253.2,1382.8 1254.2,1382.4 1255.2,1383.1 1256.2,1382.1 1257.2,1383.0 1258.2,1383.0 1259.2,1382.4 1260.2,1382.9 1261.2,1382.5 1262.2,1383.8 1263.2,1382.5 1264.2,1383.4 1265.2,1382.1 1266.2,1383.2 1267.2,1383.0 1268.2,1382.9 1269.2,1382.3 1270.2,1383.1 1271.2,1382.8 1272.2,1382.6 1273.2,1383.1 1274.2,1382.8 1275.2,1381.9 1276.2,1382.6 1277.2,1383.0 1278.2,1383.2 1279.2,1383.0 1280.2,1383.5 1281.2,1384.7 1282.2,1384.3 1283.2,1383.6 1284.2,1382.9 1285.2,1382.9 1286.2,1383.2 1287.2,1382.1 1288.2,1382.7 1289.2,1382.9 1290.2,1382.3 1291.2,1382.6 1292.2,1382.1 1293.2,1382.7 1294.2,1383.8 1295.2,1383.3 1296.2,1383.7 1297.2,1384.2 1298.2,1384.0 1299.2,1384.8 1300.2,1383.8 1301.2,1382.9 1302.2,1384.1 1303.2,1384.1 1304.2,1382.9 1305.2,1382.1 1306.2,1383.8 1307.2,1382.8 1308.2,1383.9 1309.2,1384.0 1310.2,1382.8 1311.2,1384.2 1312.2,1383.6 1313.2,1382.7 1314.2,1384.1 1315.2,1384.3 1316.2,1383.5 1317.2,1383.4 1318.2,1383.3 1319.2,1383.5 1320.2,1385.7 1321.2,1385.8 1322.2,1384.5 1323.2,1384.9 1324.2,1384.6 1325.2,1384.7 1326.2,1384.3 1327.2,1385.2 1328.2,1384.2 1329.2,1383.1 1330.2,1385.3 1331.2,1384.6 1332.2,1385.0 1333.2,1385.2 1334.2,1385.3 1335.2,1383.3 1336.2,1384.1 1337.2,1383.9 1338.2,1383.8 1339.2,1385.0 1340.2,1384.5 1341.2,1384.7 1342.2,1384.8 1343.2,1385.1 1344.2,1384.6 1345.2,1384.5 1346.2,1385.1 1347.2,1384.6 1348.2,1385.0 1349.2,1384.7 1350.2,1383.9 1351.2,1384.0 1352.2,1383.8 1353.2,1384.0 1354.2,1384.3 1355.2,1385.4 1356.2,1384.0 1357.2,1385.4 1358.2,1385.7 1359.2,1386.2 1360.2,1386.0 1361.2,1386.0 1362.2,1385.8 1363.2,1384.3 1364.2,1385.0 1365.2,1384.6 1366.2,1385.0 1367.2,1383.9 1368.2,1383.6 1369.2,1383.5 1370.2,1384.1 1371.2,1383.6 1372.2,1384.1 1373.2,1385.5 1374.2,1385.3 1375.2,1385.3 1376.2,1385.1 1377.2,1386.1 1378.2,1384.9 1379.2,1386.0 1380.2,1385.6 1381.2,1385.8 1382.2,1385.9 1383.2,1385.0 1384.2,1385.7 1385.2,1385.3 1386.2,1385.8 1387.2,1384.5 1388.2,1385.7 1389.2,1385.0 1390.2,1384.2 1391.2,1384.7 1392.2,1384.7 1393.2,1384.3 1394.2,1384.7 1395.2,1384.5 1396.2,1384.9 1397.2,1385.0 1398.2,1384.8 1399.2,1385.3 1400.2,1385.6 1401.2,1384.6 1402.2,1385.6 1403.2,1385.6 1404.2,1384.8 1405.2,1385.9 1406.2,1385.5 1407.2,1384.8 1408.2,1383.8 1409.2,1383.8 1410.2,1385.2 1411.2,1384.0 1412.2,1384.4 1413.2,1385.3 1414.2,1384.6 1415.2,1384.9 1416.2,1384.5 1417.2,1384.8 1418.2,1384.9 1419.2,1383.7 1420.2,1384.3 1421.2,1383.4 1422.2,1383.9 1423.2,1383.7 1424.2,1384.1 1425.2,1383.0 1426.2,1382.6 1427.2,1382.9 1428.2,1381.4 1429.2,1381.5 1430.2,1382.1 1431.2,1381.6 1432.2,1381.4 1433.2,1380.5 1434.2,1380.4 1435.2,1379.2 1436.2,1379.4 1437.2,1378.9 1438.2,1378.9 1439.2,1379.6 1440.2,1378.6 1441.2,1380.5 1442.2,1381.2 1443.2,1382.0 1444.2,1382.4 1445.2,1381.7 1446.2,1382.3 1447.2,1382.4 1448.2,1383.0 1449.2,1382.6 1450.2,1382.8 1451.2,1383.2 1452.2,1383.6 1453.2,1383.6 1454.2,1383.7 1455.2,1383.9 1456.2,1384.5 1457.2,1382.9 1458.2,1383.3 1459.2,1382.9 1460.2,1383.1 1461.2,1383.7 1462.2,1383.2 1463.2,1383.4 1464.2,1384.7 1465.2,1385.1 1466.2,1383.6 1467.2,1384.6 1468.2,1384.7 1469.2,1385.4 1470.2,1384.2 1471.2,1384.9 1472.2,1384.7 1473.2,1384.7 1474.2,1384.4 1475.2,1385.0 1476.2,1384.9 1477.2,1384.8 1478.2,1383.5 1479.2,1384.1 1480.2,1384.2 1481.2,1384.3 1482.2,1384.9 1483.2,1384.8 1484.2,1385.2 1485.2,1385.5 1486.2,1385.7 1487.2,1385.5 1488.2,1384.9 1489.2,1384.3 1490.2,1384.7 1491.2,1384.4 1492.2,1383.6 1493.2,1384.5 1494.2,1384.5 1495.2,1383.5 1496.2,1384.7 1497.2,1383.8 1498.2,1385.0 1499.2,1383.8 1500.2,1385.0 1501.2,1384.6 1502.2,1384.3 1503.2,1383.9 1504.2,1384.0 1505.2,1384.4 1506.2,1384.0 1507.2,1384.5 1508.2,1384.1 1509.2,1385.2 1510.2,1385.1 1511.2,1385.3 1512.2,1386.3 1513.2,1384.9 1514.2,1384.7 1515.2,1384.9 1516.2,1384.1 1517.2,1384.1 1518.2,1384.6 1519.2,1383.5 1520.2,1382.8 1521.2,1383.9 1522.2,1384.3 1523.2,1383.9 1524.2,1382.6 1525.2,1384.0 1526.2,1383.5 1527.2,1383.3 1528.2,1383.6 1529.2,1380.8 1530.2,1381.3 1531.2,1380.5 1532.2,1380.5 1533.2,1379.1 1534.2,1378.0 1535.2,1377.2 1536.2,1374.4 1537.2,1372.8 1538.2,1369.8 1539.2,1368.9 1540.2,1366.0 1541.2,1363.8 1542.2,1361.9 1543.2,1360.2 1544.2,1360.1 1545.2,1359.0 1546.2,1360.6 1547.2,1361.4 1548.2,1364.2 1549.2,1365.8 1550.2,1367.8 1551.2,1370.7 1552.2,1372.9 1553.2,1374.7 1554.2,1376.1 1555.2,1377.9 1556.2,1378.4 1557.2,1380.3 1558.2,1380.4 1559.2,1381.7 1560.2,1381.2 1561.2,1382.3 1562.2,1382.4 1563.2,1382.6 1564.2,1383.1 1565.2,1382.3 1566.2,1383.2 1567.2,1383.5 1568.2,1382.7 1569.2,1381.5 1570.2,1382.6 1571.2,1382.3 1572.2,1383.2 1573.2,1383.7 1574.2,1383.2 1575.2,1385.6 1576.2,1384.0 1577.2,1384.9 1578.2,1384.4 1579.2,1384.8 1580.2,1384.3 1581.2,1384.4 1582.2,1384.4 1583.2,1384.5 1584.2,1384.2 1585.2,1383.2 1586.2,1383.6 1587.2,1383.2 1588.2,1382.6 1589.2,1382.3 1590.2,1382.8 1591.2,1383.0 1592.2,1380.8 1593.2,1382.0 1594.2,1381.9 1595.2,1381.1 1596.2,1381.4 1597.2,1381.0 1598.2,1381.1 1599.2,1380.0 1600.2,1379.1 1601.2,1379.0 1602.2,1379.7 1603.2,1379.5 1604.2,1379.7 1605.2,1379.5 1606.2,1379.7 1607.2,1380.4 1608.2,1379.7 1609.2,1380.9 1610.2,1381.8 1611.2,1381.8 1612.2,1381.5 1613.2,1381.7 1614.2,1382.7 1615.2,1382.5 1616.2,1383.9 1617.2,1384.2 1618.2,1384.7 1619.2,1384.2 1620.2,1383.8 1621.2,1384.4 1622.2,1384.0 1623.2,1384.3 1624.2,1382.7 1625.2,1383.4 1626.2,1382.9 1627.2,1385.0 1628.2,1385.0 1629.2,1384.3 1630.2,1385.2 1631.2,1384.4 1632.2,1385.4 1633.2,1384.7 1634.2,1385.6 1635.2,1385.0 1636.2,1384.8 1637.2,1385.4 1638.2,1385.0 1639.2,1385.0 1640.2,1385.8 1641.2,1384.9 1642.2,1385.9 1643.2,1385.7 1644.2,1386.2 1645.2,1385.9 1646.2,1385.4 1647.2,1385.5 1648.2,1386.2 1649.2,1386.4 1650.2,1384.9 1651.2,1384.8 1652.2,1385.4 1653.2,1385.8 1654.2,1386.4 1655.2,1385.5 1656.2,1385.6 1657.2,1385.9 1658.2,1385.2 1659.2,1385.4 1660.2,1385.7 1661.2,1385.9 1662.2,1386.2 1663.2,1386.1 1664.2,1385.3 1665.2,1385.9 1666.2,1385.7 1667.2,1386.0 1668.2,1385.0 1669.2,1385.6 1670.2,1385.1 1671.2,1383.5 1672.2,1384.7 1673.2,1383.1 1674.2,1384.1 1675.2,1384.8 1676.2,1383.7 1677.2,1384.4 1678.2,1384.5 1679.2,1384.4 1680.2,1385.3 1681.2,1386.1 1682.2,1386.3 1683.2,1385.2 1684.2,1384.9 1685.2,1383.0 1686.2,1385.2 1687.2,1382.7 1688.2,1383.0 1689.2,1382.9 1690.2,1382.7 1691.2,1383.2 1692.2,1383.1 1693.2,1382.9 1694.2,1381.7 1695.2,1382.0 1696.2,1382.3 1697.2,1381.5 1698.2,1380.2 1699.2,1379.0 1700.2,1377.5 1701.2,1376.7 1702.2,1374.8 1703.2,1372.7 1704.2,1370.6 1705.2,1368.8 1706.2,1366.6 1707.2,1365.2 1708.2,1364.6 1709.2,1363.0 1710.2,1364.8 1711.2,1365.4 1712.2,1367.7 1713.2,1370.0 1714.2,1371.7 1715.2,1373.1 1716.2,1374.7 1717.2,1376.5 1718.2,1377.9 1719.2,1378.4 1720.2,1380.2 1721.2,1380.3 1722.2,1381.5 1723.2,1382.6 1724.2,1382.8 1725.2,1382.4 1726.2,1383.3 1727.2,1382.4 1728.2,1383.1 1729.2,1383.3 1730.2,1383.7 1731.2,1383.3 1732.2,1384.1 1733.2,1384.8 1734.2,1383.9 1735.2,1383.6 1736.2,1383.0 1737.2,1384.4 1738.2,1384.1 1739.2,1383.7 1740.2,1384.3 1741.2,1384.1 1742.2,1384.8 1743.2,1383.9 1744.2,1383.6 1745.2,1383.7 1746.2,1383.4 1747.2,1383.5 1748.2,1384.6 1749.2,1384.3 1750.2,1384.9 1751.2,1385.4 1752.2,1385.9 1753.2,1385.7 1754.2,1385.7 1755.2,1385.8 1756.2,1385.7 1757.2,1384.7 1758.2,1384.4 1759.2,1383.8 1760.2,1382.9 1761.2,1383.5 1762.2,1382.4 1763.2,1382.9 1764.2,1382.5 1765.2,1381.6 1766.2,1382.5 1767.2,1381.9 1768.2,1380.4 1769.2,1380.2 1770.2,1379.9 1771.2,1380.7 1772.2,1380.4 1773.2,1380.0 1774.2,1380.8 1775.2,1381.1 1776.2,1381.8 1777.2,1381.6 1778.2,1381.6 1779.2,1381.4 1780.2,1381.6 1781.2,1381.7 1782.2,1383.5 1783.2,1384.2 1784.2,1384.3 1785.2,1384.3 1786.2,1384.9 1787.2,1384.3 1788.2,1385.4 1789.2,1384.9 1790.2,1385.8 1791.2,1386.1 1792.2,1386.3 1793.2,1386.5 1794.2,1387.1 1795.2,1386.5 1796.2,1388.1 1797.2,1388.4 1798.2,1388.9 1799.2,1388.6 1800.2,1387.5 1801.2,1388.6 1802.2,1387.9 1803.2,1388.1 1804.2,1388.7 1805.2,1388.7 1806.2,1389.3 1807.2,1388.4 1808.2,1389.2 1809.2,1389.1 1810.2,1389.3 1811.2,1389.8 1812.2,1388.9 1813.2,1390.2 1814.2,1389.9 1815.2,1390.5 1816.2,1389.7 1817.2,1390.3 1818.2,1390.6 1819.2,1389.6 1820.2,1390.2 1821.2,1389.1 1822.2,1389.2 1823.2,1390.4 1824.2,1389.4 1825.2,1389.2 1826.2,1388.6 1827.2,1389.1 1828.2,1389.8 1829.2,1389.4 1830.2,1388.9 1831.2,1388.4 1832.2,1388.5 1833.2,1388.2 1834.2,1389.1 1835.2,1389.3 1836.2,1388.4 1837.2,1389.0 1838.2,1389.0 1839.2,1389.0 1840.2,1389.7 1841.2,1390.5 1842.2,1390.4 1843.2,1389.9 1844.2,1390.1 1845.2,1389.4 1846.2,1389.2 1847.2,1390.9 1848.2,1389.7 1849.2,1390.0 1850.2,1389.4 1851.2,1389.6 1852.2,1389.4 1853.2,1389.2 1854.2,1389.1 1855.2,1389.3 1856.2,1389.8 1857.2,1389.7 1858.2,1390.9 1859.2,1390.7 1860.2,1390.8 1861.2,1390.2 1862.2,1390.5 1863.2,1390.6 1864.2,1389.5 1865.2,1389.3 1866.2,1390.3 1867.2,1391.1 1868.2,1389.5 1869.2,1390.6 1870.2,1389.9 1871.2,1389.3 1872.2,1389.2 1873.2,1391.1 1874.2,1390.8 1875.2,1391.8 1876.2,1390.6 1877.2,1391.6 1878.2,1390.8 1879.2,1390.4 1880.2,1390.8 1881.2,1390.3 1882.2,1389.2 1883.2,1390.2 1884.2,1390.5 1885.2,1390.7 1886.2,1390.9 1887.2,1391.7 1888.2,1391.2 1889.2,1391.4 1890.2,1390.8 1891.2,1391.7 1892.2,1391.3 1893.2,1391.0 1894.2,1390.2 1895.2,1391.6 1896.2,1390.1 1897.2,1391.7 1898.2,1391.6 1899.2,1389.8 1900.2,1390.5 1901.2,1389.8 1902.2,1390.0 1903.2,1389.7 1904.2,1390.5 1905.2,1390.3 1906.2,1390.5 1907.2,1390.5 1908.2,1390.7 1909.2,1390.5 1910.2,1390.6 1911.2,1391.0 1912.2,1391.0 1913.2,1390.8 1914.2,1390.7 1915.2,1392.1 1916.2,1391.2 1917.2,1390.8 1918.2,1390.3 1919.2,1390.3 1920.2,1390.4 1921.2,1390.5 1922.2,1389.8 1923.2,1390.3 1924.2,1391.0 1925.2,1390.5 1926.2,1389.8 1927.2,1389.2 1927.8,1389.8" stroke="#4D4D4D"/>
</g>
<g class="cv" clip-path="url(#cb)">
<polyline points="143.2,1970.4 144.2,1969.7 145.2,1976.3 146.2,1973.5 147.2,1972.9 148.2,1974.6 149.2,1971.0 150.2,1968.0 151.2,1974.2 152.2,1977.0 153.2,1972.5 154.2,1978.8 155.2,1975.2 156.2,1977.0 157.2,1976.1 158.2,1981.1 159.2,1975.8 160.2,1982.4 161.2,1978.2 162.2,1981.9 163.2,1978.6 164.2,1982.6 165.2,1978.4 166.2,1983.5 167.2,1983.4 168.2,1985.3 169.2,1984.9 170.2,1982.1 171.2,1984.1 172.2,1985.8 173.2,1984.5 174.2,1984.8 175.2,1984.5 176.2,1989.5 177.2,1988.0 178.2,1988.5 179.2,1992.2 180.2,1989.1 181.2,1992.6 182.2,1995.7 183.2,1993.8 184.2,1997.9 185.2,1996.1 186.2,1995.1 187.2,1998.4 188.2,2000.5 189.2,1999.0 190.2,2005.2 191.2,2007.7 192.2,2003.3 193.2,2006.3 194.2,2007.9 195.2,2008.8 196.2,2012.3 197.2,2016.7 198.2,2011.7 199.2,2016.6 200.2,2018.3 201.2,2018.9 202.2,2017.6 203.2,2022.7 204.2,2022.6 205.2,2023.2 206.2,2027.5 207.2,2028.2 208.2,2030.3 209.2,2035.4 210.2,2038.2 211.2,2037.2 212.2,2040.2 213.2,2041.6 214.2,2044.1 215.2,2044.7 216.2,2046.9 217.2,2048.6 218.2,2050.2 219.2,2048.9 220.2,2050.3 221.2,2051.4 222.2,2051.0 223.2,2052.7 224.2,2054.8 225.2,2056.1 226.2,2058.3 227.2,2059.3 228.2,2059.1 229.2,2062.0 230.2,2062.0 231.2,2059.9 232.2,2063.3 233.2,2062.9 234.2,2064.8 235.2,2065.0 236.2,2069.1 237.2,2067.0 238.2,2069.3 239.2,2070.9 240.2,2071.6 241.2,2071.3 242.2,2074.8 243.2,2076.7 244.2,2076.2 245.2,2077.8 246.2,2078.4 247.2,2079.5 248.2,2082.0 249.2,2080.1 250.2,2083.2 251.2,2081.7 252.2,2083.1 253.2,2083.3 254.2,2086.0 255.2,2085.3 256.2,2086.1 257.2,2086.1 258.2,2086.6 259.2,2085.6 260.2,2088.9 261.2,2088.6 262.2,2088.6 263.2,2088.6 264.2,2089.1 265.2,2088.9 266.2,2089.1 267.2,2091.1 268.2,2091.6 269.2,2092.0 270.2,2092.1 271.2,2090.5 272.2,2094.0 273.2,2092.6 274.2,2093.7 275.2,2092.7 276.2,2095.1 277.2,2094.1 278.2,2095.3 279.2,2096.7 280.2,2095.1 281.2,2096.0 282.2,2095.4 283.2,2097.3 284.2,2095.4 285.2,2095.4 286.2,2098.1 287.2,2098.9 288.2,2099.0 289.2,2100.5 290.2,2101.4 291.2,2099.5 292.2,2100.3 293.2,2099.6 294.2,2099.5 295.2,2099.4 296.2,2099.9 297.2,2100.3 298.2,2100.4 299.2,2101.7 300.2,2100.3 301.2,2099.6 302.2,2100.0 303.2,2101.2 304.2,2102.2 305.2,2101.4 306.2,2103.0 307.2,2102.9 308.2,2102.6 309.2,2102.6 310.2,2101.3 311.2,2101.3 312.2,2102.1 313.2,2101.0 314.2,2102.1 315.2,2101.2 316.2,2103.5 317.2,2100.8 318.2,2102.9 319.2,2102.2 320.2,2101.7 321.2,2101.3 322.2,2100.6 323.2,2101.9 324.2,2101.1 325.2,2100.8 326.2,2102.4 327.2,2101.6 328.2,2101.4 329.2,2101.9 330.2,2103.3 331.2,2101.3 332.2,2102.9 333.2,2103.3 334.2,2102.8 335.2,2102.8 336.2,2102.3 337.2,2102.8 338.2,2102.4 339.2,2103.5 340.2,2102.7 341.2,2104.3 342.2,2104.1 343.2,2103.2 344.2,2104.1 345.2,2102.8 346.2,2103.0 347.2,2102.6 348.2,2104.1 349.2,2103.4 350.2,2103.2 351.2,2103.4 352.2,2103.5 353.2,2103.6 354.2,2104.5 355.2,2104.2 356.2,2103.5 357.2,2104.4 358.2,2104.5 359.2,2104.5 360.2,2105.3 361.2,2106.2 362.2,2106.7 363.2,2105.8 364.2,2106.3 365.2,2105.8 366.2,2105.5 367.2,2106.4 368.2,2105.7 369.2,2105.1 370.2,2104.8 371.2,2104.2 372.2,2104.3 373.2,2104.5 374.2,2104.3 375.2,2105.4 376.2,2105.8 377.2,2106.4 378.2,2103.3 379.2,2103.7 380.2,2103.6 381.2,2104.4 382.2,2105.1 383.2,2105.5 384.2,2105.2 385.2,2105.1 386.2,2105.1 387.2,2104.4 388.2,2106.2 389.2,2105.7 390.2,2105.4 391.2,2106.0 392.2,2106.4 393.2,2106.6 394.2,2106.0 395.2,2107.3 396.2,2108.3 397.2,2107.3 398.2,2106.1 399.2,2106.1 400.2,2105.4 401.2,2106.5 402.2,2106.7 403.2,2106.4 404.2,2105.6 405.2,2105.9 406.2,2107.1 407.2,2106.3 408.2,2107.0 409.2,2104.9 410.2,2105.6 411.2,2106.4 412.2,2105.9 413.2,2105.8 414.2,2105.4 415.2,2105.4 416.2,2105.5 417.2,2107.2 418.2,2104.4 419.2,2107.0 420.2,2105.4 421.2,2105.4 422.2,2106.9 423.2,2106.4 424.2,2106.0 425.2,2105.8 426.2,2106.5 427.2,2106.7 428.2,2105.8 429.2,2105.7 430.2,2105.4 431.2,2106.3 432.2,2104.9 433.2,2105.1 434.2,2106.4 435.2,2106.2 436.2,2105.3 437.2,2107.3 438.2,2106.6 439.2,2106.5 440.2,2105.7 441.2,2105.8 442.2,2106.5 443.2,2106.4 444.2,2105.7 445.2,2107.0 446.2,2104.9 447.2,2105.5 448.2,2105.6 449.2,2104.7 450.2,2106.3 451.2,2106.3 452.2,2104.8 453.2,2104.0 454.2,2106.0 455.2,2105.3 456.2,2105.6 457.2,2103.8 458.2,2103.9 459.2,2102.1 460.2,2102.6 461.2,2102.4 462.2,2102.5 463.2,2102.7 464.2,2102.7 465.2,2103.8 466.2,2104.9 467.2,2105.1 468.2,2103.5 469.2,2103.2 470.2,2105.0 471.2,2104.3 472.2,2103.9 473.2,2102.7 474.2,2103.8 475.2,2103.5 476.2,2103.9 477.2,2102.8 478.2,2105.3 479.2,2104.5 480.2,2102.5 481.2,2104.7 482.2,2102.8 483.2,2103.6 484.2,2103.8 485.2,2104.1 486.2,2104.0 487.2,2103.6 488.2,2103.3 489.2,2101.9 490.2,2103.3 491.2,2104.2 492.2,2102.5 493.2,2104.2 494.2,2102.5 495.2,2102.6 496.2,2105.5 497.2,2103.2 498.2,2104.5 499.2,2103.5 500.2,2103.9 501.2,2105.0 502.2,2104.2 503.2,2102.6 504.2,2104.2 505.2,2104.7 506.2,2103.4 507.2,2104.8 508.2,2104.7 509.2,2103.1 510.2,2103.9 511.2,2102.6 512.2,2102.7 513.2,2104.0 514.2,2102.7 515.2,2104.4 516.2,2104.1 517.2,2104.1 518.2,2103.3 519.2,2104.8 520.2,2104.3 521.2,2103.5 522.2,2105.3 523.2,2103.6 524.2,2104.4 525.2,2103.0 526.2,2103.4 527.2,2102.8 528.2,2102.8 529.2,2103.9 530.2,2104.4 531.2,2102.0 532.2,2102.5 533.2,2103.9 534.2,2103.0 535.2,2103.2 536.2,2104.5 537.2,2103.5 538.2,2102.9 539.2,2103.4 540.2,2103.5 541.2,2103.7 542.2,2103.9 543.2,2104.2 544.2,2102.9 545.2,2104.1 546.2,2103.9 547.2,2103.3 548.2,2102.1 549.2,2102.6 550.2,2102.7 551.2,2101.3 552.2,2101.4 553.2,2101.6 554.2,2101.9 555.2,2101.9 556.2,2101.5 557.2,2101.9 558.2,2102.9 559.2,2103.0 560.2,2101.1 561.2,2102.6 562.2,2103.6 563.2,2103.0 564.2,2102.7 565.2,2102.3 566.2,2102.4 567.2,2102.5 568.2,2101.8 569.2,2101.1 570.2,2102.0 571.2,2102.7 572.2,2102.0 573.2,2102.4 574.2,2101.2 575.2,2102.6 576.2,2100.3 577.2,2100.4 578.2,2100.1 579.2,2099.7 580.2,2101.4 581.2,2100.8 582.2,2101.3 583.2,2099.6 584.2,2101.3 585.2,2100.9 586.2,2100.2 587.2,2100.0 588.2,2099.4 589.2,2099.2 590.2,2099.1 591.2,2097.9 592.2,2099.2 593.2,2097.5 594.2,2096.2 595.2,2094.8 596.2,2095.9 597.2,2095.5 598.2,2096.2 599.2,2093.4 600.2,2092.6 601.2,2090.4 602.2,2090.3 603.2,2089.4 604.2,2088.0 605.2,2086.3 606.2,2084.7 607.2,2082.7 608.2,2079.9 609.2,2079.0 610.2,2077.3 611.2,2075.9 612.2,2073.3 613.2,2071.0 614.2,2069.3 615.2,2066.9 616.2,2063.4 617.2,2060.3 618.2,2059.0 619.2,2057.2 620.2,2055.7 621.2,2053.1 622.2,2050.2 623.2,2048.4 624.2,2048.2 625.2,2045.7 626.2,2046.1 627.2,2045.2 628.2,2046.2 629.2,2046.5 630.2,2047.6 631.2,2049.3 632.2,2049.4 633.2,2051.7 634.2,2054.1 635.2,2054.4 636.2,2058.0 637.2,2060.1 638.2,2062.0 639.2,2064.1 640.2,2067.7 641.2,2069.4 642.2,2071.8 643.2,2074.5 644.2,2076.1 645.2,2078.2 646.2,2080.1 647.2,2082.7 648.2,2083.1 649.2,2086.6 650.2,2087.7 651.2,2089.3 652.2,2091.3 653.2,2091.6 654.2,2093.2 655.2,2094.4 656.2,2095.9 657.2,2097.3 658.2,2097.3 659.2,2098.1 660.2,2100.1 661.2,2100.6 662.2,2102.1 663.2,2103.3 664.2,2102.8 665.2,2103.6 666.2,2104.4 667.2,2104.9 668.2,2104.8 669.2,2105.7 670.2,2104.9 671.2,2106.0 672.2,2106.4 673.2,2104.7 674.2,2105.8 675.2,2105.3 676.2,2106.3 677.2,2107.3 678.2,2106.8 679.2,2107.9 680.2,2108.4 681.2,2108.9 682.2,2109.0 683.2,2108.4 684.2,2107.4 685.2,2108.9 686.2,2108.3 687.2,2108.5 688.2,2108.4 689.2,2108.7 690.2,2109.5 691.2,2109.1 692.2,2109.5 693.2,2108.7 694.2,2107.9 695.2,2109.9 696.2,2110.2 697.2,2109.7 698.2,2109.5 699.2,2108.7 700.2,2110.1 701.2,2108.7 702.2,2107.5 703.2,2107.9 704.2,2108.7 705.2,2107.7 706.2,2107.4 707.2,2109.4 708.2,2108.6 709.2,2108.0 710.2,2108.0 711.2,2108.0 712.2,2108.7 713.2,2108.9 714.2,2109.7 715.2,2109.2 716.2,2108.4 717.2,2109.2 718.2,2110.1 719.2,2108.9 720.2,2108.6 721.2,2108.6 722.2,2110.2 723.2,2109.0 724.2,2110.8 725.2,2111.0 726.2,2110.7 727.2,2110.7 728.2,2109.5 729.2,2109.4 730.2,2109.3 731.2,2108.2 732.2,2108.0 733.2,2108.1 734.2,2108.3 735.2,2107.9 736.2,2108.4 737.2,2109.0 738.2,2108.8 739.2,2106.9 740.2,2107.3 741.2,2106.9 742.2,2108.1 743.2,2107.6 744.2,2108.2 745.2,2108.9 746.2,2109.2 747.2,2108.2 748.2,2107.9 749.2,2108.8 750.2,2109.0 751.2,2108.8 752.2,2108.3 753.2,2108.2 754.2,2108.9 755.2,2107.8 756.2,2107.7 757.2,2107.9 758.2,2107.6 759.2,2108.0 760.2,2109.2 761.2,2110.1 762.2,2108.7 763.2,2107.9 764.2,2108.9 765.2,2107.5 766.2,2107.3 767.2,2105.0 768.2,2106.7 769.2,2106.9 770.2,2107.2 771.2,2106.2 772.2,2106.9 773.2,2107.3 774.2,2105.6 775.2,2105.2 776.2,2104.3 777.2,2103.6 778.2,2101.6 779.2,2100.9 780.2,2100.3 781.2,2098.4 782.2,2097.2 783.2,2094.7 784.2,2091.4 785.2,2087.1 786.2,2080.8 787.2,2071.2 788.2,2062.2 789.2,2050.4 790.2,2036.8 791.2,2021.5 792.2,2006.3 793.2,1995.0 794.2,1987.4 795.2,1987.8 796.2,1997.2 797.2,2010.1 798.2,2024.3 799.2,2038.9 800.2,2053.9 801.2,2065.5 802.2,2075.1 803.2,2082.5 804.2,2088.2 805.2,2092.6 806.2,2095.4 807.2,2098.0 808.2,2100.4 809.2,2102.9 810.2,2104.2 811.2,2104.3 812.2,2105.4 813.2,2104.9 814.2,2105.5 815.2,2106.5 816.2,2107.2 817.2,2106.4 818.2,2108.0 819.2,2107.2 820.2,2107.0 821.2,2106.5 822.2,2107.1 823.2,2107.3 824.2,2106.5 825.2,2108.8 826.2,2108.2 827.2,2108.0 828.2,2108.7 829.2,2106.4 830.2,2107.3 831.2,2106.4 832.2,2106.9 833.2,2107.0 834.2,2106.4 835.2,2106.7 836.2,2107.5 837.2,2106.2 838.2,2105.9 839.2,2107.4 840.2,2105.6 841.2,2105.5 842.2,2106.6 843.2,2105.9 844.2,2105.9 845.2,2105.9 846.2,2105.6 847.2,2105.5 848.2,2105.1 849.2,2104.9 850.2,2104.3 851.2,2105.4 852.2,2103.7 853.2,2103.5 854.2,2103.7 855.2,2102.3 856.2,2103.8 857.2,2101.5 858.2,2102.2 859.2,2101.8 860.2,2099.5 861.2,2096.8 862.2,2095.4 863.2,2093.8 864.2,2090.0 865.2,2085.2 866.2,2079.4 867.2,2070.6 868.2,2060.8 869.2,2051.9 870.2,2041.4 871.2,2033.8 872.2,2027.8 873.2,2026.7 874.2,2031.9 875.2,2039.9 876.2,2048.9 877.2,2058.6 878.2,2068.7 879.2,2074.6 880.2,2082.4 881.2,2087.3 882.2,2092.8 883.2,2096.5 884.2,2099.3 885.2,2100.6 886.2,2101.7 887.2,2101.1 888.2,2102.2 889.2,2102.4 890.2,2102.8 891.2,2103.6 892.2,2103.8 893.2,2104.0 894.2,2103.3 895.2,2102.2 896.2,2102.3 897.2,2102.1 898.2,2102.5 899.2,2101.7 900.2,2100.5 901.2,2100.8 902.2,2101.4 903.2,2102.0 904.2,2102.0 905.2,2100.5 906.2,2101.1 907.2,2101.4 908.2,2099.6 909.2,2098.4 910.2,2098.8 911.2,2096.6 912.2,2094.9 913.2,2092.6 914.2,2091.3 915.2,2087.3 916.2,2081.8 917.2,2075.9 918.2,2070.6 919.2,2059.2 920.2,2046.4 921.2,2032.6 922.2,2014.9 923.2,1994.5 924.2,1975.2 925.2,1953.3 926.2,1938.0 927.2,1928.4 928.2,1927.1 929.2,1937.3 930.2,1953.0 931.2,1972.7 932.2,1993.0 933.2,2011.6 934.2,2030.0 935.2,2046.4 936.2,2059.1 937.2,2070.4 938.2,2078.1 939.2,2084.0 940.2,2088.6 941.2,2092.1 942.2,2095.4 943.2,2096.6 944.2,2098.3 945.2,2099.8 946.2,2099.9 947.2,2101.0 948.2,2102.7 949.2,2102.9 950.2,2103.2 951.2,2103.5 952.2,2104.7 953.2,2105.2 954.2,2104.6 955.2,2105.4 956.2,2106.1 957.2,2107.6 958.2,2105.7 959.2,2107.3 960.2,2106.3 961.2,2107.2 962.2,2107.7 963.2,2108.0 964.2,2107.7 965.2,2108.6 966.2,2108.4 967.2,2109.1 968.2,2108.5 969.2,2108.7 970.2,2108.6 971.2,2108.4 972.2,2108.8 973.2,2108.7 974.2,2109.0 975.2,2109.1 976.2,2109.1 977.2,2109.3 978.2,2111.2 979.2,2110.4 980.2,2110.8 981.2,2111.5 982.2,2111.6 983.2,2111.3 984.2,2111.3 985.2,2112.0 986.2,2111.4 987.2,2110.9 988.2,2111.2 989.2,2110.6 990.2,2111.0 991.2,2111.0 992.2,2112.2 993.2,2111.4 994.2,2111.9 995.2,2111.7 996.2,2111.7 997.2,2112.4 998.2,2111.0 999.2,2111.6 1000.2,2111.5 1001.2,2111.3 1002.2,2112.9 1003.2,2113.2 1004.2,2113.8 1005.2,2113.7 1006.2,2114.3 1007.2,2114.9 1008.2,2114.6 1009.2,2113.3 1010.2,2112.4 1011.2,2112.3 1012.2,2111.5 1013.2,2112.5 1014.2,2112.0 1015.2,2109.9 1016.2,2111.4 1017.2,2110.5 1018.2,2110.0 1019.2,2109.7 1020.2,2109.3 1021.2,2107.4 1022.2,2106.9 1023.2,2104.4 1024.2,2104.5 1025.2,2103.5 1026.2,2103.5 1027.2,2105.0 1028.2,2105.6 1029.2,2106.9 1030.2,2107.4 1031.2,2108.3 1032.2,2109.3 1033.2,2110.4 1034.2,2112.5 1035.2,2112.1 1036.2,2112.3 1037.2,2112.7 1038.2,2112.5 1039.2,2112.9 1040.2,2112.4 1041.2,2113.3 1042.2,2113.1 1043.2,2114.1 1044.2,2112.9 1045.2,2113.7 1046.2,2112.1 1047.2,2113.4 1048.2,2113.8 1049.2,2114.2 1050.2,2113.7 1051.2,2113.5 1052.2,2113.1 1053.2,2113.2 1054.2,2112.6 1055.2,2113.0 1056.2,2114.1 1057.2,2113.7 1058.2,2112.7 1059.2,2113.1 1060.2,2112.3 1061.2,2112.5 1062.2,2111.5 1063.2,2110.8 1064.2,2110.2 1065.2,2108.5 1066.2,2108.3 1067.2,2107.8 1068.2,2107.3 1069.2,2108.2 1070.2,2106.2 1071.2,2105.9 1072.2,2107.2 1073.2,2107.5 1074.2,2107.1 1075.2,2107.7 1076.2,2107.6 1077.2,2108.4 1078.2,2109.1 1079.2,2109.3 1080.2,2110.6 1081.2,2111.4 1082.2,2111.2 1083.2,2113.0 1084.2,2112.2 1085.2,2112.9 1086.2,2111.6 1087.2,2112.0 1088.2,2110.4 1089.2,2110.8 1090.2,2111.2 1091.2,2112.1 1092.2,2112.2 1093.2,2113.1 1094.2,2111.6 1095.2,2113.0 1096.2,2112.0 1097.2,2111.9 1098.2,2112.3 1099.2,2111.6 1100.2,2111.6 1101.2,2111.6 1102.2,2111.1 1103.2,2111.3 1104.2,2111.3 1105.2,2109.7 1106.2,2110.8 1107.2,2110.5 1108.2,2109.8 1109.2,2110.5 1110.2,2109.8 1111.2,2110.9 1112.2,2110.5 1113.2,2108.9 1114.2,2109.6 1115.2,2108.4 1116.2,2108.2 1117.2,2108.8 1118.2,2108.3 1119.2,2108.3 1120.2,2107.7 1121.2,2108.7 1122.2,2107.6 1123.2,2106.8 1124.2,2106.9 1125.2,2107.2 1126.2,2106.3 1127.2,2105.7 1128.2,2105.7 1129.2,2106.1 1130.2,2105.8 1131.2,2106.2 1132.2,2104.0 1133.2,2106.4 1134.2,2105.8 1135.2,2104.8 1136.2,2105.8 1137.2,2104.2 1138.2,2103.9 1139.2,2102.3 1140.2,2099.9 1141.2,2098.2 1142.2,2097.1 1143.2,2094.1 1144.2,2090.0 1145.2,2088.1 1146.2,2087.0 1147.2,2087.1 1148.2,2086.8 1149.2,2088.5 1150.2,2090.7 1151.2,2092.9 1152.2,2094.2 1153.2,2095.3 1154.2,2097.6 1155.2,2098.2 1156.2,2096.1 1157.2,2095.6 1158.2,2095.6 1159.2,2093.3 1160.2,2091.7 1161.2,2088.3 1162.2,2086.7 1163.2,2082.6 1164.2,2080.7 1165.2,2078.2 1166.2,2076.6 1167.2,2073.6 1168.2,2072.3 1169.2,2071.9 1170.2,2071.8 1171.2,2071.0 1172.2,2071.1 1173.2,2071.2 1174.2,2067.2 1175.2,2062.6 1176.2,2056.4 1177.2,2050.4 1178.2,2040.3 1179.2,2028.8 1180.2,2017.8 1181.2,2006.6 1182.2,1998.4 1183.2,1993.9 1184.2,1993.5 1185.2,1999.2 1186.2,2009.2 1187.2,2020.0 1188.2,2032.3 1189.2,2045.0 1190.2,2056.3 1191.2,2066.1 1192.2,2074.2 1193.2,2080.9 1194.2,2088.5 1195.2,2091.8 1196.2,2095.3 1197.2,2099.6 1198.2,2100.8 1199.2,2103.5 1200.2,2102.9 1201.2,2104.1 1202.2,2105.1 1203.2,2106.1 1204.2,2106.0 1205.2,2107.0 1206.2,2107.2 1207.2,2107.4 1208.2,2108.3 1209.2,2109.5 1210.2,2109.4 1211.2,2110.0 1212.2,2109.9 1213.2,2110.8 1214.2,2111.6 1215.2,2110.9 1216.2,2111.7 1217.2,2111.6 1218.2,2111.7 1219.2,2111.3 1220.2,2112.9 1221.2,2111.5 1222.2,2111.9 1223.2,2112.3 1224.2,2111.7 1225.2,2112.6 1226.2,2113.9 1227.2,2113.8 1228.2,2114.1 1229.2,2113.1 1230.2,2113.7 1231.2,2114.0 1232.2,2113.8 1233.2,2113.0 1234.2,2114.3 1235.2,2114.9 1236.2,2114.1 1237.2,2113.7 1238.2,2112.6 1239.2,2113.6 1240.2,2112.7 1241.2,2114.0 1242.2,2114.3 1243.2,2113.4 1244.2,2114.6 1245.2,2114.0 1246.2,2113.1 1247.2,2112.4 1248.2,2112.5 1249.2,2111.6 1250.2,2112.0 1251.2,2112.9 1252.2,2109.9 1253.2,2109.2 1254.2,2108.0 1255.2,2106.7 1256.2,2103.9 1257.2,2101.1 1258.2,2100.5 1259.2,2096.3 1260.2,2094.8 1261.2,2091.9 1262.2,2090.9 1263.2,2089.7 1264.2,2090.3 1265.2,2091.9 1266.2,2094.6 1267.2,2098.2 1268.2,2100.8 1269.2,2104.0 1270.2,2106.7 1271.2,2109.8 1272.2,2111.0 1273.2,2112.4 1274.2,2112.5 1275.2,2114.1 1276.2,2113.4 1277.2,2115.1 1278.2,2114.1 1279.2,2115.3 1280.2,2116.6 1281.2,2116.0 1282.2,2117.5 1283.2,2116.6 1284.2,2117.1 1285.2,2116.6 1286.2,2116.4 1287.2,2116.8 1288.2,2117.2 1289.2,2115.9 1290.2,2116.9 1291.2,2116.9 1292.2,2115.6 1293.2,2116.5 1294.2,2116.8 1295.2,2116.5 1296.2,2116.9 1297.2,2117.6 1298.2,2118.2 1299.2,2117.5 1300.2,2118.2 1301.2,2118.7 1302.2,2118.2 1303.2,2117.1 1304.2,2117.3 1305.2,2116.4 1306.2,2116.2 1307.2,2116.9 1308.2,2115.9 1309.2,2116.9 1310.2,2116.9 1311.2,2117.1 1312.2,2118.1 1313.2,2117.4 1314.2,2118.3 1315.2,2117.8 1316.2,2117.9 1317.2,2117.3 1318.2,2117.3 1319.2,2118.8 1320.2,2117.9 1321.2,2118.5 1322.2,2118.4 1323.2,2116.8 1324.2,2117.0 1325.2,2116.2 1326.2,2115.4 1327.2,2115.2 1328.2,2115.6 1329.2,2113.8 1330.2,2114.6 1331.2,2114.3 1332.2,2113.7 1333.2,2113.9 1334.2,2113.9 1335.2,2113.2 1336.2,2113.9 1337.2,2114.2 1338.2,2113.2 1339.2,2113.9 1340.2,2114.2 1341.2,2114.8 1342.2,2115.5 1343.2,2115.7 1344.2,2114.6 1345.2,2114.5 1346.2,2115.0 1347.2,2116.2 1348.2,2116.4 1349.2,2117.6 1350.2,2117.8 1351.2,2117.3 1352.2,2117.2 1353.2,2116.9 1354.2,2117.6 1355.2,2117.2 1356.2,2116.7 1357.2,2116.6 1358.2,2116.3 1359.2,2116.0 1360.2,2117.4 1361.2,2117.4 1362.2,2119.0 1363.2,2118.3 1364.2,2118.5 1365.2,2118.9 1366.2,2119.1 1367.2,2118.2 1368.2,2118.8 1369.2,2118.4 1370.2,2118.8 1371.2,2118.1 1372.2,2118.1 1373.2,2118.4 1374.2,2118.9 1375.2,2119.5 1376.2,2119.1 1377.2,2118.7 1378.2,2118.7 1379.2,2119.1 1380.2,2119.6 1381.2,2119.2 1382.2,2120.1 1383.2,2119.8 1384.2,2120.3 1385.2,2119.6 1386.2,2119.4 1387.2,2118.9 1388.2,2119.2 1389.2,2119.2 1390.2,2120.4 1391.2,2119.8 1392.2,2119.7 1393.2,2119.5 1394.2,2119.2 1395.2,2119.1 1396.2,2118.4 1397.2,2118.8 1398.2,2118.1 1399.2,2118.3 1400.2,2118.6 1401.2,2117.5 1402.2,2117.7 1403.2,2118.6 1404.2,2119.2 1405.2,2119.8 1406.2,2119.9 1407.2,2119.8 1408.2,2118.5 1409.2,2118.1 1410.2,2117.4 1411.2,2118.5 1412.2,2118.0 1413.2,2118.3 1414.2,2118.3 1415.2,2117.8 1416.2,2118.4 1417.2,2118.8 1418.2,2119.3 1419.2,2119.1 1420.2,2119.5 1421.2,2120.1 1422.2,2119.3 1423.2,2119.7 1424.2,2119.8 1425.2,2119.4 1426.2,2119.6 1427.2,2119.9 1428.2,2119.3 1429.2,2119.5 1430.2,2117.4 1431.2,2118.1 1432.2,2118.1 1433.2,2118.0 1434.2,2118.6 1435.2,2119.5 1436.2,2119.6 1437.2,2118.6 1438.2,2119.6 1439.2,2118.3 1440.2,2118.4 1441.2,2119.4 1442.2,2118.0 1443.2,2118.5 1444.2,2118.4 1445.2,2118.4 1446.2,2119.0 1447.2,2119.0 1448.2,2118.7 1449.2,2117.5 1450.2,2118.6 1451.2,2116.9 1452.2,2116.9 1453.2,2116.7 1454.2,2117.6 1455.2,2117.8 1456.2,2118.8 1457.2,2118.2 1458.2,2118.7 1459.2,2119.5 1460.2,2120.2 1461.2,2119.7 1462.2,2120.0 1463.2,2119.6 1464.2,2120.3 1465.2,2119.4 1466.2,2119.7 1467.2,2118.9 1468.2,2119.5 1469.2,2119.7 1470.2,2119.0 1471.2,2119.1 1472.2,2119.1 1473.2,2119.6 1474.2,2118.4 1475.2,2117.3 1476.2,2118.8 1477.2,2118.2 1478.2,2117.4 1479.2,2118.2 1480.2,2118.4 1481.2,2118.9 1482.2,2119.2 1483.2,2119.2 1484.2,2120.0 1485.2,2120.4 1486.2,2120.3 1487.2,2119.8 1488.2,2120.5 1489.2,2118.6 1490.2,2119.8 1491.2,2118.4 1492.2,2119.5 1493.2,2118.1 1494.2,2118.5 1495.2,2118.2 1496.2,2118.8 1497.2,2118.9 1498.2,2119.0 1499.2,2118.5 1500.2,2118.5 1501.2,2118.4 1502.2,2118.5 1503.2,2118.1 1504.2,2119.1 1505.2,2117.9 1506.2,2118.6 1507.2,2119.1 1508.2,2119.7 1509.2,2118.5 1510.2,2119.5 1511.2,2119.1 1512.2,2118.8 1513.2,2118.1 1514.2,2118.5 1515.2,2118.0 1516.2,2117.7 1517.2,2117.8 1518.2,2117.4 1519.2,2116.5 1520.2,2115.9 1521.2,2115.0 1522.2,2114.3 1523.2,2113.9 1524.2,2111.6 1525.2,2110.5 1526.2,2108.0 1527.2,2105.1 1528.2,2101.8 1529.2,2098.0 1530.2,2095.8 1531.2,2091.1 1532.2,2088.2 1533.2,2086.2 1534.2,2086.0 1535.2,2088.2 1536.2,2090.1 1537.2,2093.7 1538.2,2097.7 1539.2,2101.7 1540.2,2105.7 1541.2,2109.0 1542.2,2110.8 1543.2,2112.9 1544.2,2115.4 1545.2,2115.8 1546.2,2118.5 1547.2,2117.8 1548.2,2119.7 1549.2,2118.9 1550.2,2120.4 1551.2,2119.6 1552.2,2120.5 1553.2,2119.7 1554.2,2119.2 1555.2,2119.5 1556.2,2119.7 1557.2,2120.3 1558.2,2119.6 1559.2,2119.6 1560.2,2120.3 1561.2,2120.7 1562.2,2120.2 1563.2,2119.5 1564.2,2120.1 1565.2,2120.4 1566.2,2120.2 1567.2,2120.1 1568.2,2120.6 1569.2,2120.1 1570.2,2120.4 1571.2,2120.7 1572.2,2120.4 1573.2,2119.8 1574.2,2118.9 1575.2,2118.2 1576.2,2118.7 1577.2,2117.7 1578.2,2118.1 1579.2,2118.8 1580.2,2117.1 1581.2,2117.9 1582.2,2116.9 1583.2,2116.6 1584.2,2116.0 1585.2,2115.5 1586.2,2115.4 1587.2,2115.0 1588.2,2114.6 1589.2,2115.4 1590.2,2114.5 1591.2,2114.9 1592.2,2114.9 1593.2,2116.1 1594.2,2116.2 1595.2,2116.0 1596.2,2117.4 1597.2,2117.7 1598.2,2118.7 1599.2,2119.0 1600.2,2119.3 1601.2,2118.9 1602.2,2119.0 1603.2,2120.9 1604.2,2120.4 1605.2,2121.1 1606.2,2120.2 1607.2,2120.6 1608.2,2120.9 1609.2,2121.4 1610.2,2121.4 1611.2,2121.3 1612.2,2121.5 1613.2,2121.1 1614.2,2121.1 1615.2,2120.9 1616.2,2121.5 1617.2,2121.7 1618.2,2122.0 1619.2,2122.1 1620.2,2121.9 1621.2,2121.4 1622.2,2121.9 1623.2,2120.6 1624.2,2120.5 1625.2,2120.0 1626.2,2120.2 1627.2,2120.7 1628.2,2121.2 1629.2,2122.3 1630.2,2122.4 1631.2,2123.7 1632.2,2123.6 1633.2,2123.6 1634.2,2124.5 1635.2,2124.2 1636.2,2123.6 1637.2,2123.2 1638.2,2123.2 1639.2,2123.3 1640.2,2122.8 1641.2,2122.6 1642.2,2122.8 1643.2,2123.1 1644.2,2123.1 1645.2,2122.6 1646.2,2122.0 1647.2,2122.8 1648.2,2122.5 1649.2,2121.9 1650.2,2122.1 1651.2,2122.0 1652.2,2122.9 1653.2,2122.9 1654.2,2122.3 1655.2,2122.5 1656.2,2122.5 1657.2,2122.9 1658.2,2122.2 1659.2,2121.9 1660.2,2122.1 1661.2,2121.7 1662.2,2121.4 1663.2,2121.7 1664.2,2121.4 1665.2,2121.9 1666.2,2121.4 1667.2,2121.6 1668.2,2121.3 1669.2,2121.8 1670.2,2121.2 1671.2,2120.5 1672.2,2120.9 1673.2,2120.8 1674.2,2120.2 1675.2,2120.9 1676.2,2120.6 1677.2,2119.1 1678.2,2119.3 1679.2,2119.0 1680.2,2118.6 1681.2,2119.6 1682.2,2119.6 1683.2,2119.6 1684.2,2119.9 1685.2,2119.4 1686.2,2119.3 1687.2,2119.5 1688.2,2119.4 1689.2,2119.3 1690.2,2118.4 1691.2,2119.4 1692.2,2118.9 1693.2,2118.8 1694.2,2119.3 1695.2,2118.3 1696.2,2119.1 1697.2,2119.4 1698.2,2119.1 1699.2,2118.9 1700.2,2118.7 1701.2,2117.9 1702.2,2118.1 1703.2,2118.7 1704.2,2118.1 1705.2,2116.7 1706.2,2116.4 1707.2,2116.1 1708.2,2116.3 1709.2,2114.2 1710.2,2113.5 1711.2,2111.8 1712.2,2110.1 1713.2,2108.5 1714.2,2107.1 1715.2,2105.2 1716.2,2104.2 1717.2,2103.2 1718.2,2103.0 1719.2,2103.1 1720.2,2104.4 1721.2,2105.2 1722.2,2107.0 1723.2,2108.7 1724.2,2110.2 1725.2,2111.8 1726.2,2113.7 1727.2,2116.6 1728.2,2117.0 1729.2,2117.7 1730.2,2118.3 1731.2,2119.2 1732.2,2119.6 1733.2,2120.1 1734.2,2120.6 1735.2,2121.2 1736.2,2120.7 1737.2,2122.0 1738.2,2122.4 1739.2,2122.0 1740.2,2122.3 1741.2,2122.6 1742.2,2122.2 1743.2,2121.2 1744.2,2121.9 1745.2,2121.7 1746.2,2123.2 1747.2,2121.7 1748.2,2122.6 1749.2,2121.7 1750.2,2122.5 1751.2,2121.3 1752.2,2122.4 1753.2,2122.9 1754.2,2122.7 1755.2,2123.2 1756.2,2123.3 1757.2,2123.1 1758.2,2121.6 1759.2,2122.3 1760.2,2121.4 1761.2,2121.3 1762.2,2120.6 1763.2,2121.7 1764.2,2121.6 1765.2,2122.1 1766.2,2122.2 1767.2,2121.8 1768.2,2121.3 1769.2,2121.9 1770.2,2120.6 1771.2,2120.5 1772.2,2119.8 1773.2,2119.2 1774.2,2120.2 1775.2,2119.3 1776.2,2119.7 1777.2,2119.4 1778.2,2120.1 1779.2,2119.0 1780.2,2118.5 1781.2,2118.4 1782.2,2118.9 1783.2,2117.8 1784.2,2117.5 1785.2,2115.8 1786.2,2115.3 1787.2,2115.8 1788.2,2115.1 1789.2,2116.2 1790.2,2115.7 1791.2,2115.9 1792.2,2115.3 1793.2,2116.3 1794.2,2116.7 1795.2,2117.1 1796.2,2116.9 1797.2,2118.5 1798.2,2119.2 1799.2,2118.5 1800.2,2119.8 1801.2,2120.9 1802.2,2120.7 1803.2,2120.9 1804.2,2122.1 1805.2,2121.3 1806.2,2120.9 1807.2,2121.3 1808.2,2120.4 1809.2,2121.1 1810.2,2120.9 1811.2,2120.9 1812.2,2121.6 1813.2,2121.4 1814.2,2121.7 1815.2,2122.7 1816.2,2122.3 1817.2,2122.6 1818.2,2123.1 1819.2,2123.6 1820.2,2122.4 1821.2,2122.7 1822.2,2122.3 1823.2,2122.6 1824.2,2121.2 1825.2,2123.0 1826.2,2122.4 1827.2,2122.8 1828.2,2123.0 1829.2,2122.7 1830.2,2122.8 1831.2,2122.3 1832.2,2123.5 1833.2,2121.0 1834.2,2122.4 1835.2,2122.4 1836.2,2123.3 1837.2,2122.4 1838.2,2122.8 1839.2,2122.9 1840.2,2122.9 1841.2,2121.2 1842.2,2120.8 1843.2,2122.1 1844.2,2120.5 1845.2,2121.8 1846.2,2121.6 1847.2,2120.9 1848.2,2121.3 1849.2,2121.5 1850.2,2121.3 1851.2,2121.7 1852.2,2121.6 1853.2,2121.6 1854.2,2121.1 1855.2,2120.4 1856.2,2121.0 1857.2,2121.1 1858.2,2120.1 1859.2,2119.1 1860.2,2118.9 1861.2,2117.8 1862.2,2116.9 1863.2,2115.4 1864.2,2113.7 1865.2,2113.0 1866.2,2112.6 1867.2,2113.4 1868.2,2111.5 1869.2,2110.6 1870.2,2111.2 1871.2,2111.1 1872.2,2111.7 1873.2,2113.1 1874.2,2114.3 1875.2,2114.9 1876.2,2116.4 1877.2,2117.7 1878.2,2118.8 1879.2,2120.0 1880.2,2120.1 1881.2,2120.8 1882.2,2121.1 1883.2,2120.8 1884.2,2121.9 1885.2,2121.6 1886.2,2121.0 1887.2,2121.8 1888.2,2120.4 1889.2,2121.4 1890.2,2120.1 1891.2,2121.7 1892.2,2121.2 1893.2,2120.9 1894.2,2121.2 1895.2,2121.4 1896.2,2120.3 1897.2,2121.6 1898.2,2120.3 1899.2,2122.1 1900.2,2120.6 1901.2,2120.1 1902.2,2119.6 1903.2,2119.6 1904.2,2120.1 1905.2,2119.6 1906.2,2119.8 1907.2,2120.5 1908.2,2121.6 1909.2,2120.7 1910.2,2121.1 1911.2,2121.1 1912.2,2121.3 1913.2,2121.9 1914.2,2121.5 1915.2,2123.3 1916.2,2123.0 1917.2,2123.4 1918.2,2124.5 1919.2,2124.1 1920.2,2125.4 1921.2,2124.7 1922.2,2125.5 1923.2,2125.8 1924.2,2126.0 1925.2,2125.0 1926.2,2126.3 1927.2,2126.3 1927.8,2125.4" stroke="#DC9B00"/>
<polyline points="143.2,2302.2 144.2,2304.2 145.2,2302.4 146.2,2304.4 147.2,2302.3 148.2,2302.3 149.2,2302.8 150.2,2302.6 151.2,2303.3 152.2,2303.6 153.2,2304.0 154.2,2303.9 155.2,2303.6 156.2,2303.3 157.2,2302.9 158.2,2302.9 159.2,2303.6 160.2,2302.7 161.2,2304.7 162.2,2302.9 163.2,2303.8 164.2,2303.2 165.2,2302.8 166.2,2303.1 167.2,2302.2 168.2,2302.8 169.2,2303.8 170.2,2302.3 171.2,2303.2 172.2,2303.2 173.2,2303.2 174.2,2303.1 175.2,2304.3 176.2,2303.7 177.2,2302.7 178.2,2302.8 179.2,2302.9 180.2,2303.2 181.2,2303.8 182.2,2302.9 183.2,2304.6 184.2,2302.6 185.2,2303.5 186.2,2303.4 187.2,2303.2 188.2,2305.3 189.2,2304.5 190.2,2305.2 191.2,2304.4 192.2,2303.7 193.2,2305.8 194.2,2304.4 195.2,2304.1 196.2,2303.6 197.2,2304.4 198.2,2302.3 199.2,2304.3 200.2,2303.3 201.2,2302.0 202.2,2303.6 203.2,2304.2 204.2,2304.7 205.2,2304.0 206.2,2305.1 207.2,2303.8 208.2,2304.5 209.2,2303.9 210.2,2304.6 211.2,2304.3 212.2,2302.9 213.2,2304.0 214.2,2304.2 215.2,2303.8 216.2,2303.4 217.2,2304.1 218.2,2303.9 219.2,2303.7 220.2,2304.0 221.2,2303.7 222.2,2303.1 223.2,2303.1 224.2,2304.4 225.2,2302.8 226.2,2303.7 227.2,2303.8 228.2,2304.6 229.2,2304.0 230.2,2304.5 231.2,2304.8 232.2,2305.8 233.2,2305.8 234.2,2306.0 235.2,2305.9 236.2,2306.2 237.2,2306.6 238.2,2306.1 239.2,2305.1 240.2,2306.0 241.2,2305.1 242.2,2305.8 243.2,2306.0 244.2,2304.8 245.2,2306.1 246.2,2306.3 247.2,2304.8 248.2,2306.9 249.2,2305.9 250.2,2305.9 251.2,2306.1 252.2,2306.2 253.2,2307.6 254.2,2307.8 255.2,2308.8 256.2,2308.6 257.2,2308.6 258.2,2308.5 259.2,2307.4 260.2,2307.2 261.2,2308.2 262.2,2309.2 263.2,2309.2 264.2,2309.8 265.2,2308.7 266.2,2309.8 267.2,2308.8 268.2,2307.5 269.2,2308.1 270.2,2308.7 271.2,2308.8 272.2,2308.6 273.2,2308.6 274.2,2308.5 275.2,2309.1 276.2,2308.3 277.2,2309.1 278.2,2308.8 279.2,2309.2 280.2,2309.3 281.2,2309.8 282.2,2309.1 283.2,2309.8 284.2,2309.2 285.2,2311.0 286.2,2310.6 287.2,2310.7 288.2,2311.4 289.2,2311.2 290.2,2310.7 291.2,2310.9 292.2,2310.6 293.2,2309.6 294.2,2309.6 295.2,2309.6 296.2,2309.3 297.2,2309.7 298.2,2309.0 299.2,2310.7 300.2,2310.6 301.2,2310.3 302.2,2311.1 303.2,2309.9 304.2,2310.5 305.2,2310.3 306.2,2309.8 307.2,2310.3 308.2,2310.9 309.2,2310.7 310.2,2310.0 311.2,2310.2 312.2,2310.3 313.2,2310.3 314.2,2310.3 315.2,2310.0 316.2,2310.9 317.2,2311.8 318.2,2310.7 319.2,2310.8 320.2,2309.1 321.2,2310.2 322.2,2311.3 323.2,2310.9 324.2,2310.0 325.2,2311.2 326.2,2311.2 327.2,2310.4 328.2,2311.8 329.2,2312.0 330.2,2311.0 331.2,2311.9 332.2,2312.2 333.2,2310.7 334.2,2312.0 335.2,2311.3 336.2,2311.4 337.2,2312.7 338.2,2311.9 339.2,2312.2 340.2,2312.3 341.2,2312.5 342.2,2312.6 343.2,2311.8 344.2,2311.3 345.2,2312.0 346.2,2309.9 347.2,2311.4 348.2,2311.5 349.2,2310.6 350.2,2310.9 351.2,2310.0 352.2,2310.8 353.2,2310.8 354.2,2311.4 355.2,2311.0 356.2,2312.5 357.2,2311.7 358.2,2311.6 359.2,2312.6 360.2,2312.7 361.2,2311.8 362.2,2311.3 363.2,2312.2 364.2,2311.7 365.2,2311.7 366.2,2312.8 367.2,2311.5 368.2,2311.9 369.2,2312.2 370.2,2311.7 371.2,2311.3 372.2,2312.5 373.2,2312.5 374.2,2311.9 375.2,2311.7 376.2,2312.9 377.2,2310.8 378.2,2311.8 379.2,2311.5 380.2,2311.6 381.2,2311.1 382.2,2311.4 383.2,2311.7 384.2,2311.3 385.2,2311.3 386.2,2311.8 387.2,2311.5 388.2,2311.9 389.2,2312.3 390.2,2311.4 391.2,2311.8 392.2,2312.3 393.2,2310.5 394.2,2311.0 395.2,2310.8 396.2,2310.7 397.2,2311.6 398.2,2311.9 399.2,2311.6 400.2,2311.6 401.2,2311.2 402.2,2312.0 403.2,2311.5 404.2,2312.0 405.2,2312.7 406.2,2311.7 407.2,2311.8 408.2,2311.9 409.2,2312.1 410.2,2311.9 411.2,2312.2 412.2,2311.0 413.2,2311.3 414.2,2311.6 415.2,2311.4 416.2,2311.7 417.2,2311.0 418.2,2311.1 419.2,2312.3 420.2,2311.4 421.2,2312.3 422.2,2310.9 423.2,2311.7 424.2,2312.0 425.2,2310.9 426.2,2310.8 427.2,2310.1 428.2,2310.3 429.2,2310.1 430.2,2310.6 431.2,2310.4 432.2,2311.8 433.2,2311.8 434.2,2311.5 435.2,2311.2 436.2,2310.9 437.2,2311.9 438.2,2311.5 439.2,2310.8 440.2,2310.2 441.2,2310.3 442.2,2311.8 443.2,2310.7 444.2,2311.3 445.2,2310.1 446.2,2311.3 447.2,2311.9 448.2,2311.1 449.2,2311.1 450.2,2312.2 451.2,2312.2 452.2,2311.4 453.2,2312.1 454.2,2311.0 455.2,2310.8 456.2,2311.2 457.2,2311.1 458.2,2311.0 459.2,2312.3 460.2,2311.9 461.2,2313.3 462.2,2313.4 463.2,2313.1 464.2,2312.0 465.2,2313.2 466.2,2312.8 467.2,2312.0 468.2,2312.8 469.2,2312.5 470.2,2312.4 471.2,2312.5 472.2,2311.3 473.2,2312.0 474.2,2312.5 475.2,2311.9 476.2,2311.4 477.2,2311.6 478.2,2311.7 479.2,2312.2 480.2,2312.7 481.2,2312.6 482.2,2312.7 483.2,2312.1 484.2,2312.7 485.2,2312.8 486.2,2313.8 487.2,2312.9 488.2,2312.7 489.2,2313.1 490.2,2311.7 491.2,2312.6 492.2,2312.3 493.2,2311.6 494.2,2311.7 495.2,2311.1 496.2,2310.2 497.2,2311.7 498.2,2311.4 499.2,2311.6 500.2,2312.0 501.2,2311.6 502.2,2311.2 503.2,2312.0 504.2,2311.7 505.2,2311.5 506.2,2311.6 507.2,2311.8 508.2,2311.0 509.2,2310.8 510.2,2311.5 511.2,2311.9 512.2,2312.5 513.2,2311.3 514.2,2312.4 515.2,2311.7 516.2,2312.7 517.2,2312.0 518.2,2312.7 519.2,2311.8 520.2,2311.7 521.2,2312.7 522.2,2311.6 523.2,2311.8 524.2,2311.8 525.2,2312.1 526.2,2311.8 527.2,2311.3 528.2,2311.3 529.2,2311.7 530.2,2310.9 531.2,2311.5 532.2,2312.3 533.2,2312.6 534.2,2312.1 535.2,2311.8 536.2,2311.4 537.2,2311.8 538.2,2310.9 539.2,2312.1 540.2,2310.2 541.2,2310.9 542.2,2311.1 543.2,2310.0 544.2,2310.5 545.2,2311.0 546.2,2309.0 547.2,2310.1 548.2,2309.5 549.2,2309.9 550.2,2309.9 551.2,2309.3 552.2,2309.6 553.2,2309.8 554.2,2309.3 555.2,2310.6 556.2,2309.2 557.2,2309.1 558.2,2309.5 559.2,2310.1 560.2,2309.5 561.2,2310.5 562.2,2310.3 563.2,2308.9 564.2,2309.7 565.2,2309.0 566.2,2309.3 567.2,2308.8 568.2,2309.9 569.2,2310.3 570.2,2308.6 571.2,2308.7 572.2,2309.0 573.2,2309.5 574.2,2309.7 575.2,2309.1 576.2,2310.0 577.2,2309.4 578.2,2309.2 579.2,2308.4 580.2,2308.3 581.2,2308.5 582.2,2309.0 583.2,2308.4 584.2,2307.3 585.2,2308.5 586.2,2308.0 587.2,2307.3 588.2,2307.0 589.2,2307.5 590.2,2306.6 591.2,2307.3 592.2,2307.1 593.2,2306.0 594.2,2306.9 595.2,2305.5 596.2,2306.2 597.2,2306.7 598.2,2305.9 599.2,2306.9 600.2,2305.5 601.2,2306.0 602.2,2304.8 603.2,2305.2 604.2,2304.6 605.2,2304.3 606.2,2303.6 607.2,2302.8 608.2,2301.9 609.2,2300.6 610.2,2300.2 611.2,2300.1 612.2,2299.1 613.2,2299.1 614.2,2298.9 615.2,2297.8 616.2,2297.0 617.2,2296.0 618.2,2294.8 619.2,2294.6 620.2,2293.7 621.2,2292.7 622.2,2291.8 623.2,2291.4 624.2,2291.5 625.2,2290.7 626.2,2290.8 627.2,2289.5 628.2,2288.6 629.2,2289.1 630.2,2288.3 631.2,2288.3 632.2,2288.3 633.2,2288.6 634.2,2288.7 635.2,2287.9 636.2,2289.0 637.2,2289.2 638.2,2290.4 639.2,2292.5 640.2,2293.0 641.2,2294.2 642.2,2296.0 643.2,2297.0 644.2,2297.6 645.2,2298.5 646.2,2300.6 647.2,2300.1 648.2,2300.9 649.2,2301.0 650.2,2301.2 651.2,2302.5 652.2,2302.5 653.2,2303.0 654.2,2303.9 655.2,2304.6 656.2,2305.2 657.2,2304.5 658.2,2305.7 659.2,2307.1 660.2,2307.9 661.2,2307.2 662.2,2308.5 663.2,2309.5 664.2,2309.4 665.2,2308.7 666.2,2309.2 667.2,2309.7 668.2,2309.5 669.2,2310.4 670.2,2310.1 671.2,2310.6 672.2,2310.0 673.2,2309.7 674.2,2309.5 675.2,2310.6 676.2,2308.8 677.2,2308.6 678.2,2309.8 679.2,2309.9 680.2,2309.8 681.2,2310.2 682.2,2311.4 683.2,2311.1 684.2,2311.7 685.2,2310.9 686.2,2310.7 687.2,2311.5 688.2,2310.4 689.2,2311.4 690.2,2311.1 691.2,2310.4 692.2,2310.8 693.2,2310.6 694.2,2310.8 695.2,2310.9 696.2,2310.7 697.2,2311.2 698.2,2310.8 699.2,2309.5 700.2,2310.2 701.2,2309.3 702.2,2310.1 703.2,2309.4 704.2,2310.4 705.2,2310.5 706.2,2310.6 707.2,2310.0 708.2,2310.7 709.2,2310.5 710.2,2310.9 711.2,2311.1 712.2,2310.1 713.2,2310.2 714.2,2310.6 715.2,2311.4 716.2,2311.2 717.2,2311.1 718.2,2309.7 719.2,2311.7 720.2,2312.3 721.2,2310.6 722.2,2311.4 723.2,2310.9 724.2,2311.5 725.2,2312.1 726.2,2311.5 727.2,2311.8 728.2,2311.6 729.2,2311.5 730.2,2311.6 731.2,2311.7 732.2,2312.6 733.2,2312.3 734.2,2312.8 735.2,2312.4 736.2,2312.6 737.2,2312.4 738.2,2312.5 739.2,2312.1 740.2,2313.5 741.2,2313.4 742.2,2312.0 743.2,2313.3 744.2,2312.4 745.2,2312.5 746.2,2312.2 747.2,2312.0 748.2,2311.5 749.2,2312.0 750.2,2311.1 751.2,2311.8 752.2,2312.0 753.2,2311.5 754.2,2311.9 755.2,2312.3 756.2,2312.3 757.2,2311.9 758.2,2311.9 759.2,2311.3 760.2,2312.2 761.2,2310.7 762.2,2310.6 763.2,2309.8 764.2,2309.9 765.2,2311.1 766.2,2311.0 767.2,2311.3 768.2,2312.7 769.2,2311.6 770.2,2312.8 771.2,2312.5 772.2,2311.7 773.2,2310.6 774.2,2310.4 775.2,2312.0 776.2,2311.2 777.2,2312.1 778.2,2311.2 779.2,2312.0 780.2,2312.3 781.2,2311.7 782.2,2313.1 783.2,2312.2 784.2,2312.0 785.2,2312.7 786.2,2312.3 787.2,2313.2 788.2,2312.1 789.2,2312.9 790.2,2311.9 791.2,2311.9 792.2,2312.5 793.2,2312.1 794.2,2311.7 795.2,2311.8 796.2,2311.8 797.2,2311.9 798.2,2310.9 799.2,2312.4 800.2,2310.4 801.2,2311.1 802.2,2311.2 803.2,2312.1 804.2,2311.2 805.2,2311.2 806.2,2311.1 807.2,2310.5 808.2,2310.7 809.2,2309.6 810.2,2310.7 811.2,2310.2 812.2,2310.7 813.2,2311.7 814.2,2311.6 815.2,2311.4 816.2,2311.1 817.2,2312.0 818.2,2312.5 819.2,2311.4 820.2,2310.6 821.2,2311.1 822.2,2311.2 823.2,2312.3 824.2,2310.9 825.2,2312.2 826.2,2312.8 827.2,2311.7 828.2,2312.5 829.2,2312.7 830.2,2312.7 831.2,2312.6 832.2,2311.4 833.2,2311.7 834.2,2311.6 835.2,2311.9 836.2,2311.5 837.2,2311.1 838.2,2311.3 839.2,2310.8 840.2,2310.3 841.2,2310.6 842.2,2310.4 843.2,2309.8 844.2,2309.5 845.2,2310.2 846.2,2310.3 847.2,2311.7 848.2,2312.1 849.2,2312.4 850.2,2311.2 851.2,2312.2 852.2,2311.3 853.2,2311.8 854.2,2311.1 855.2,2310.9 856.2,2309.6 857.2,2310.8 858.2,2311.4 859.2,2310.2 860.2,2309.6 861.2,2311.9 862.2,2311.3 863.2,2311.2 864.2,2310.0 865.2,2310.8 866.2,2311.3 867.2,2310.9 868.2,2310.6 869.2,2310.7 870.2,2310.6 871.2,2311.1 872.2,2311.3 873.2,2311.0 874.2,2311.3 875.2,2311.5 876.2,2311.2 877.2,2311.3 878.2,2311.3 879.2,2310.4 880.2,2309.4 881.2,2310.5 882.2,2310.5 883.2,2309.4 884.2,2311.4 885.2,2311.1 886.2,2311.2 887.2,2311.0 888.2,2312.0 889.2,2310.6 890.2,2310.7 891.2,2311.3 892.2,2311.5 893.2,2309.8 894.2,2309.4 895.2,2309.9 896.2,2309.4 897.2,2309.7 898.2,2310.8 899.2,2310.0 900.2,2310.1 901.2,2310.3 902.2,2309.7 903.2,2310.0 904.2,2309.6 905.2,2309.1 906.2,2309.3 907.2,2310.4 908.2,2309.9 909.2,2310.5 910.2,2309.3 911.2,2309.3 912.2,2310.0 913.2,2309.9 914.2,2310.0 915.2,2309.8 916.2,2310.0 917.2,2310.0 918.2,2310.4 919.2,2310.8 920.2,2310.3 921.2,2309.8 922.2,2311.7 923.2,2309.9 924.2,2309.6 925.2,2309.0 926.2,2309.0 927.2,2308.0 928.2,2307.4 929.2,2308.2 930.2,2309.5 931.2,2307.7 932.2,2310.0 933.2,2309.6 934.2,2308.5 935.2,2309.1 936.2,2309.5 937.2,2309.8 938.2,2310.1 939.2,2309.5 940.2,2308.9 941.2,2308.9 942.2,2309.1 943.2,2309.1 944.2,2307.7 945.2,2308.5 946.2,2308.4 947.2,2309.2 948.2,2309.2 949.2,2309.8 950.2,2309.1 951.2,2309.3 952.2,2310.1 953.2,2309.5 954.2,2308.4 955.2,2308.9 956.2,2309.0 957.2,2309.4 958.2,2309.7 959.2,2309.7 960.2,2310.0 961.2,2309.9 962.2,2309.1 963.2,2308.5 964.2,2308.9 965.2,2308.7 966.2,2308.9 967.2,2309.5 968.2,2310.2 969.2,2309.9 970.2,2309.3 971.2,2309.8 972.2,2309.0 973.2,2309.7 974.2,2309.5 975.2,2309.2 976.2,2308.8 977.2,2309.2 978.2,2308.9 979.2,2310.5 980.2,2310.9 981.2,2309.5 982.2,2311.5 983.2,2309.8 984.2,2310.8 985.2,2310.6 986.2,2309.6 987.2,2311.2 988.2,2311.2 989.2,2310.3 990.2,2309.9 991.2,2311.1 992.2,2311.1 993.2,2310.8 994.2,2310.8 995.2,2310.6 996.2,2310.3 997.2,2310.5 998.2,2310.1 999.2,2310.1 1000.2,2310.1 1001.2,2310.2 1002.2,2310.3 1003.2,2309.5 1004.2,2308.9 1005.2,2310.7 1006.2,2309.9 1007.2,2309.7 1008.2,2310.0 1009.2,2311.2 1010.2,2310.4 1011.2,2310.5 1012.2,2311.0 1013.2,2311.4 1014.2,2310.1 1015.2,2310.9 1016.2,2311.0 1017.2,2310.6 1018.2,2310.7 1019.2,2311.7 1020.2,2311.2 1021.2,2310.6 1022.2,2312.0 1023.2,2311.3 1024.2,2312.2 1025.2,2312.3 1026.2,2312.2 1027.2,2310.3 1028.2,2311.4 1029.2,2312.1 1030.2,2312.0 1031.2,2311.5 1032.2,2311.9 1033.2,2312.1 1034.2,2311.4 1035.2,2310.8 1036.2,2309.3 1037.2,2309.4 1038.2,2308.8 1039.2,2309.9 1040.2,2309.6 1041.2,2310.5 1042.2,2311.1 1043.2,2311.0 1044.2,2312.6 1045.2,2311.5 1046.2,2312.0 1047.2,2313.2 1048.2,2313.6 1049.2,2312.4 1050.2,2311.8 1051.2,2311.3 1052.2,2310.6 1053.2,2310.9 1054.2,2309.9 1055.2,2310.7 1056.2,2310.0 1057.2,2310.7 1058.2,2311.3 1059.2,2309.9 1060.2,2310.3 1061.2,2310.2 1062.2,2311.8 1063.2,2310.6 1064.2,2311.1 1065.2,2311.5 1066.2,2312.3 1067.2,2312.2 1068.2,2313.2 1069.2,2311.8 1070.2,2311.0 1071.2,2311.6 1072.2,2311.7 1073.2,2311.2 1074.2,2311.9 1075.2,2312.2 1076.2,2311.1 1077.2,2311.2 1078.2,2311.4 1079.2,2310.2 1080.2,2310.6 1081.2,2310.5 1082.2,2311.1 1083.2,2312.7 1084.2,2311.1 1085.2,2310.9 1086.2,2310.9 1087.2,2310.7 1088.2,2310.8 1089.2,2309.9 1090.2,2310.4 1091.2,2309.8 1092.2,2309.6 1093.2,2309.1 1094.2,2310.1 1095.2,2309.5 1096.2,2310.7 1097.2,2309.3 1098.2,2309.8 1099.2,2309.6 1100.2,2309.9 1101.2,2308.6 1102.2,2309.5 1103.2,2309.5 1104.2,2310.1 1105.2,2310.6 1106.2,2310.4 1107.2,2310.9 1108.2,2310.2 1109.2,2309.2 1110.2,2308.9 1111.2,2309.4 1112.2,2309.1 1113.2,2308.6 1114.2,2308.8 1115.2,2308.6 1116.2,2309.2 1117.2,2308.0 1118.2,2308.7 1119.2,2309.2 1120.2,2309.7 1121.2,2309.0 1122.2,2307.9 1123.2,2308.1 1124.2,2307.6 1125.2,2307.7 1126.2,2307.1 1127.2,2306.9 1128.2,2306.8 1129.2,2306.8 1130.2,2306.3 1131.2,2305.4 1132.2,2305.1 1133.2,2304.4 1134.2,2304.5 1135.2,2305.4 1136.2,2304.8 1137.2,2304.7 1138.2,2304.9 1139.2,2304.8 1140.2,2304.8 1141.2,2305.0 1142.2,2303.4 1143.2,2304.5 1144.2,2304.2 1145.2,2304.9 1146.2,2302.4 1147.2,2305.0 1148.2,2304.5 1149.2,2303.2 1150.2,2303.9 1151.2,2304.2 1152.2,2304.3 1153.2,2302.8 1154.2,2302.9 1155.2,2303.1 1156.2,2302.1 1157.2,2302.3 1158.2,2302.4 1159.2,2300.5 1160.2,2302.0 1161.2,2300.7 1162.2,2302.1 1163.2,2300.3 1164.2,2299.9 1165.2,2300.1 1166.2,2299.4 1167.2,2297.8 1168.2,2297.5 1169.2,2295.6 1170.2,2295.2 1171.2,2295.6 1172.2,2294.3 1173.2,2291.7 1174.2,2289.2 1175.2,2287.4 1176.2,2284.0 1177.2,2279.2 1178.2,2273.3 1179.2,2266.2 1180.2,2257.8 1181.2,2246.7 1182.2,2234.5 1183.2,2221.9 1184.2,2207.4 1185.2,2192.3 1186.2,2178.4 1187.2,2167.2 1188.2,2159.7 1189.2,2158.2 1190.2,2161.7 1191.2,2171.6 1192.2,2185.2 1193.2,2198.0 1194.2,2214.6 1195.2,2229.2 1196.2,2241.3 1197.2,2252.4 1198.2,2263.5 1199.2,2272.0 1200.2,2278.0 1201.2,2283.2 1202.2,2287.0 1203.2,2290.1 1204.2,2292.8 1205.2,2294.7 1206.2,2295.0 1207.2,2296.8 1208.2,2298.6 1209.2,2298.6 1210.2,2300.5 1211.2,2302.6 1212.2,2302.7 1213.2,2303.5 1214.2,2304.4 1215.2,2303.8 1216.2,2305.8 1217.2,2305.2 1218.2,2304.1 1219.2,2305.1 1220.2,2305.6 1221.2,2305.7 1222.2,2305.5 1223.2,2305.6 1224.2,2305.7 1225.2,2305.2 1226.2,2305.0 1227.2,2305.1 1228.2,2306.1 1229.2,2307.2 1230.2,2307.3 1231.2,2307.0 1232.2,2306.5 1233.2,2307.5 1234.2,2308.1 1235.2,2308.1 1236.2,2307.6 1237.2,2307.2 1238.2,2307.3 1239.2,2307.4 1240.2,2308.2 1241.2,2307.1 1242.2,2307.4 1243.2,2307.9 1244.2,2308.1 1245.2,2307.4 1246.2,2307.9 1247.2,2309.6 1248.2,2309.8 1249.2,2308.1 1250.2,2308.7 1251.2,2311.0 1252.2,2310.4 1253.2,2311.6 1254.2,2310.7 1255.2,2311.6 1256.2,2311.4 1257.2,2311.1 1258.2,2311.4 1259.2,2311.1 1260.2,2310.3 1261.2,2310.6 1262.2,2309.6 1263.2,2309.6 1264.2,2310.3 1265.2,2309.9 1266.2,2309.9 1267.2,2309.5 1268.2,2311.2 1269.2,2309.2 1270.2,2310.6 1271.2,2310.2 1272.2,2310.4 1273.2,2309.8 1274.2,2310.7 1275.2,2310.5 1276.2,2310.3 1277.2,2309.9 1278.2,2309.7 1279.2,2309.7 1280.2,2309.0 1281.2,2310.0 1282.2,2310.5 1283.2,2310.6 1284.2,2310.8 1285.2,2309.9 1286.2,2311.5 1287.2,2311.3 1288.2,2312.0 1289.2,2310.2 1290.2,2311.9 1291.2,2311.9 1292.2,2312.2 1293.2,2312.1 1294.2,2312.0 1295.2,2312.3 1296.2,2311.9 1297.2,2312.9 1298.2,2311.9 1299.2,2313.4 1300.2,2312.3 1301.2,2312.5 1302.2,2312.4 1303.2,2312.6 1304.2,2311.1 1305.2,2311.1 1306.2,2312.5 1307.2,2311.8 1308.2,2312.4 1309.2,2312.4 1310.2,2312.5 1311.2,2312.2 1312.2,2311.9 1313.2,2312.1 1314.2,2311.3 1315.2,2311.7 1316.2,2311.9 1317.2,2312.0 1318.2,2311.6 1319.2,2311.9 1320.2,2310.9 1321.2,2310.5 1322.2,2310.5 1323.2,2310.7 1324.2,2311.5 1325.2,2310.9 1326.2,2312.0 1327.2,2311.2 1328.2,2311.4 1329.2,2310.9 1330.2,2311.6 1331.2,2310.1 1332.2,2311.5 1333.2,2310.9 1334.2,2309.6 1335.2,2310.5 1336.2,2310.7 1337.2,2311.0 1338.2,2311.5 1339.2,2311.4 1340.2,2312.1 1341.2,2310.9 1342.2,2311.2 1343.2,2311.8 1344.2,2310.9 1345.2,2310.5 1346.2,2311.1 1347.2,2311.1 1348.2,2310.9 1349.2,2311.3 1350.2,2310.8 1351.2,2310.8 1352.2,2310.5 1353.2,2310.9 1354.2,2311.6 1355.2,2311.9 1356.2,2310.9 1357.2,2312.0 1358.2,2311.7 1359.2,2312.5 1360.2,2312.6 1361.2,2312.1 1362.2,2311.6 1363.2,2311.5 1364.2,2310.4 1365.2,2311.1 1366.2,2309.8 1367.2,2310.9 1368.2,2311.2 1369.2,2311.5 1370.2,2312.4 1371.2,2312.6 1372.2,2312.3 1373.2,2312.2 1374.2,2312.4 1375.2,2311.8 1376.2,2311.9 1377.2,2311.7 1378.2,2312.3 1379.2,2312.2 1380.2,2312.4 1381.2,2311.2 1382.2,2311.4 1383.2,2311.4 1384.2,2312.2 1385.2,2312.7 1386.2,2312.2 1387.2,2312.6 1388.2,2313.4 1389.2,2311.6 1390.2,2313.0 1391.2,2312.5 1392.2,2311.1 1393.2,2312.4 1394.2,2311.9 1395.2,2312.8 1396.2,2311.5 1397.2,2312.2 1398.2,2312.5 1399.2,2311.7 1400.2,2312.4 1401.2,2312.1 1402.2,2312.5 1403.2,2311.0 1404.2,2311.5 1405.2,2312.4 1406.2,2311.4 1407.2,2310.7 1408.2,2311.9 1409.2,2311.4 1410.2,2310.0 1411.2,2310.3 1412.2,2311.1 1413.2,2311.8 1414.2,2311.1 1415.2,2312.0 1416.2,2312.0 1417.2,2312.0 1418.2,2311.6 1419.2,2312.5 1420.2,2311.8 1421.2,2311.7 1422.2,2313.3 1423.2,2313.3 1424.2,2313.0 1425.2,2313.0 1426.2,2313.6 1427.2,2313.4 1428.2,2312.7 1429.2,2313.9 1430.2,2312.8 1431.2,2313.4 1432.2,2312.8 1433.2,2313.1 1434.2,2313.5 1435.2,2312.6 1436.2,2312.8 1437.2,2312.9 1438.2,2312.7 1439.2,2313.9 1440.2,2313.0 1441.2,2312.6 1442.2,2312.1 1443.2,2312.3 1444.2,2312.2 1445.2,2312.2 1446.2,2312.5 1447.2,2311.5 1448.2,2311.4 1449.2,2311.5 1450.2,2311.7 1451.2,2312.0 1452.2,2311.4 1453.2,2311.8 1454.2,2312.4 1455.2,2312.6 1456.2,2312.1 1457.2,2312.5 1458.2,2311.9 1459.2,2312.1 1460.2,2312.2 1461.2,2312.6 1462.2,2312.7 1463.2,2312.9 1464.2,2312.4 1465.2,2312.7 1466.2,2313.2 1467.2,2312.5 1468.2,2313.1 1469.2,2312.4 1470.2,2312.0 1471.2,2312.3 1472.2,2312.2 1473.2,2311.4 1474.2,2312.4 1475.2,2311.7 1476.2,2311.5 1477.2,2311.6 1478.2,2312.1 1479.2,2311.5 1480.2,2312.7 1481.2,2313.0 1482.2,2311.9 1483.2,2311.5 1484.2,2311.7 1485.2,2311.7 1486.2,2313.3 1487.2,2312.1 1488.2,2311.6 1489.2,2312.2 1490.2,2311.3 1491.2,2311.0 1492.2,2311.5 1493.2,2312.3 1494.2,2311.6 1495.2,2311.8 1496.2,2312.2 1497.2,2312.4 1498.2,2312.3 1499.2,2312.7 1500.2,2312.0 1501.2,2311.6 1502.2,2312.1 1503.2,2310.8 1504.2,2311.7 1505.2,2311.8 1506.2,2311.8 1507.2,2312.8 1508.2,2312.3 1509.2,2313.3 1510.2,2314.8 1511.2,2314.0 1512.2,2313.1 1513.2,2314.9 1514.2,2314.4 1515.2,2314.6 1516.2,2314.5 1517.2,2314.0 1518.2,2314.5 1519.2,2314.6 1520.2,2312.9 1521.2,2314.2 1522.2,2313.7 1523.2,2313.0 1524.2,2314.0 1525.2,2313.0 1526.2,2313.3 1527.2,2313.5 1528.2,2313.7 1529.2,2313.3 1530.2,2313.7 1531.2,2313.9 1532.2,2313.2 1533.2,2313.1 1534.2,2313.5 1535.2,2312.7 1536.2,2312.8 1537.2,2312.6 1538.2,2313.3 1539.2,2312.8 1540.2,2314.0 1541.2,2314.3 1542.2,2313.8 1543.2,2312.7 1544.2,2313.8 1545.2,2312.7 1546.2,2314.0 1547.2,2313.7 1548.2,2314.0 1549.2,2314.7 1550.2,2314.1 1551.2,2313.8 1552.2,2314.5 1553.2,2314.5 1554.2,2313.6 1555.2,2313.5 1556.2,2314.3 1557.2,2313.5 1558.2,2313.2 1559.2,2314.3 1560.2,2314.0 1561.2,2314.4 1562.2,2314.1 1563.2,2314.9 1564.2,2314.9 1565.2,2314.9 1566.2,2314.8 1567.2,2314.6 1568.2,2313.6 1569.2,2313.7 1570.2,2315.0 1571.2,2313.4 1572.2,2313.8 1573.2,2313.9 1574.2,2314.5 1575.2,2314.3 1576.2,2314.4 1577.2,2314.3 1578.2,2314.9 1579.2,2313.8 1580.2,2314.6 1581.2,2313.5 1582.2,2313.4 1583.2,2313.2 1584.2,2312.5 1585.2,2312.8 1586.2,2312.8 1587.2,2312.6 1588.2,2312.9 1589.2,2314.0 1590.2,2312.4 1591.2,2313.3 1592.2,2313.1 1593.2,2313.3 1594.2,2312.8 1595.2,2313.2 1596.2,2313.6 1597.2,2314.4 1598.2,2314.4 1599.2,2313.4 1600.2,2314.0 1601.2,2314.4 1602.2,2314.1 1603.2,2314.5 1604.2,2313.5 1605.2,2315.6 1606.2,2314.0 1607.2,2314.7 1608.2,2314.7 1609.2,2313.8 1610.2,2314.0 1611.2,2314.2 1612.2,2314.1 1613.2,2314.8 1614.2,2315.4 1615.2,2314.6 1616.2,2314.9 1617.2,2315.7 1618.2,2314.6 1619.2,2314.8 1620.2,2314.7 1621.2,2314.0 1622.2,2314.8 1623.2,2314.2 1624.2,2313.3 1625.2,2313.4 1626.2,2314.3 1627.2,2314.9 1628.2,2314.2 1629.2,2314.3 1630.2,2315.1 1631.2,2314.9 1632.2,2314.6 1633.2,2314.7 1634.2,2315.1 1635.2,2314.9 1636.2,2314.1 1637.2,2315.2 1638.2,2314.5 1639.2,2314.7 1640.2,2314.4 1641.2,2314.8 1642.2,2315.2 1643.2,2314.3 1644.2,2314.1 1645.2,2314.2 1646.2,2314.6 1647.2,2313.8 1648.2,2314.5 1649.2,2315.5 1650.2,2315.6 1651.2,2314.7 1652.2,2315.4 1653.2,2315.3 1654.2,2315.5 1655.2,2313.9 1656.2,2314.8 1657.2,2315.1 1658.2,2315.0 1659.2,2313.7 1660.2,2314.4 1661.2,2314.0 1662.2,2314.3 1663.2,2314.0 1664.2,2315.7 1665.2,2315.0 1666.2,2315.8 1667.2,2316.6 1668.2,2316.3 1669.2,2316.4 1670.2,2314.6 1671.2,2315.1 1672.2,2316.2 1673.2,2314.6 1674.2,2314.8 1675.2,2313.4 1676.2,2314.2 1677.2,2313.9 1678.2,2313.7 1679.2,2313.6 1680.2,2314.0 1681.2,2314.8 1682.2,2315.2 1683.2,2315.0 1684.2,2314.8 1685.2,2314.0 1686.2,2312.9 1687.2,2314.1 1688.2,2313.1 1689.2,2313.5 1690.2,2313.3 1691.2,2313.1 1692.2,2313.6 1693.2,2314.4 1694.2,2314.3 1695.2,2313.9 1696.2,2314.5 1697.2,2314.8 1698.2,2315.1 1699.2,2314.3 1700.2,2314.5 1701.2,2314.2 1702.2,2314.3 1703.2,2314.0 1704.2,2313.0 1705.2,2313.9 1706.2,2313.2 1707.2,2313.9 1708.2,2313.8 1709.2,2314.5 1710.2,2314.7 1711.2,2315.3 1712.2,2315.1 1713.2,2315.1 1714.2,2315.2 1715.2,2315.7 1716.2,2314.8 1717.2,2315.2 1718.2,2315.1 1719.2,2315.1 1720.2,2313.9 1721.2,2314.1 1722.2,2314.3 1723.2,2314.6 1724.2,2314.1 1725.2,2314.8 1726.2,2314.9 1727.2,2314.5 1728.2,2314.3 1729.2,2315.7 1730.2,2316.2 1731.2,2315.6 1732.2,2314.8 1733.2,2314.9 1734.2,2315.6 1735.2,2314.9 1736.2,2314.6 1737.2,2314.8 1738.2,2315.1 1739.2,2316.2 1740.2,2316.1 1741.2,2317.1 1742.2,2317.5 1743.2,2317.2 1744.2,2317.2 1745.2,2316.9 1746.2,2316.7 1747.2,2315.6 1748.2,2316.6 1749.2,2315.0 1750.2,2315.7 1751.2,2315.4 1752.2,2314.9 1753.2,2314.9 1754.2,2314.6 1755.2,2314.8 1756.2,2314.8 1757.2,2315.0 1758.2,2315.6 1759.2,2315.5 1760.2,2316.5 1761.2,2315.5 1762.2,2315.2 1763.2,2314.9 1764.2,2315.4 1765.2,2314.6 1766.2,2314.9 1767.2,2314.7 1768.2,2314.2 1769.2,2314.8 1770.2,2314.1 1771.2,2314.9 1772.2,2315.2 1773.2,2314.9 1774.2,2314.7 1775.2,2315.0 1776.2,2315.0 1777.2,2315.1 1778.2,2314.4 1779.2,2314.5 1780.2,2313.5 1781.2,2313.5 1782.2,2312.0 1783.2,2312.8 1784.2,2311.3 1785.2,2311.5 1786.2,2310.1 1787.2,2309.9 1788.2,2308.9 1789.2,2308.2 1790.2,2306.6 1791.2,2306.4 1792.2,2305.3 1793.2,2305.5 1794.2,2306.1 1795.2,2305.0 1796.2,2306.1 1797.2,2306.9 1798.2,2308.4 1799.2,2309.2 1800.2,2310.3 1801.2,2311.0 1802.2,2312.1 1803.2,2312.2 1804.2,2313.7 1805.2,2314.6 1806.2,2314.9 1807.2,2314.5 1808.2,2314.7 1809.2,2314.7 1810.2,2315.4 1811.2,2314.9 1812.2,2315.0 1813.2,2314.6 1814.2,2314.9 1815.2,2315.1 1816.2,2314.5 1817.2,2314.5 1818.2,2314.7 1819.2,2315.6 1820.2,2314.9 1821.2,2314.6 1822.2,2315.1 1823.2,2314.9 1824.2,2315.1 1825.2,2316.1 1826.2,2315.8 1827.2,2316.5 1828.2,2316.7 1829.2,2316.7 1830.2,2316.7 1831.2,2315.5 1832.2,2316.8 1833.2,2316.0 1834.2,2315.9 1835.2,2316.0 1836.2,2317.4 1837.2,2316.5 1838.2,2316.3 1839.2,2316.7 1840.2,2316.7 1841.2,2317.0 1842.2,2316.7 1843.2,2317.4 1844.2,2316.5 1845.2,2317.6 1846.2,2317.2 1847.2,2316.4 1848.2,2315.6 1849.2,2317.3 1850.2,2316.2 1851.2,2316.2 1852.2,2316.8 1853.2,2317.2 1854.2,2316.3 1855.2,2316.2 1856.2,2316.4 1857.2,2316.5 1858.2,2316.0 1859.2,2316.3 1860.2,2316.9 1861.2,2316.5 1862.2,2317.1 1863.2,2316.9 1864.2,2316.5 1865.2,2316.3 1866.2,2315.1 1867.2,2315.8 1868.2,2313.4 1869.2,2315.8 1870.2,2315.7 1871.2,2315.8 1872.2,2315.3 1873.2,2316.8 1874.2,2316.8 1875.2,2316.3 1876.2,2316.7 1877.2,2316.7 1878.2,2317.3 1879.2,2316.0 1880.2,2316.6 1881.2,2316.9 1882.2,2316.5 1883.2,2315.9 1884.2,2318.0 1885.2,2316.8 1886.2,2318.0 1887.2,2317.9 1888.2,2317.4 1889.2,2316.7 1890.2,2317.5 1891.2,2317.9 1892.2,2318.3 1893.2,2318.3 1894.2,2317.4 1895.2,2317.6 1896.2,2317.5 1897.2,2318.3 1898.2,2317.9 1899.2,2318.6 1900.2,2317.9 1901.2,2317.6 1902.2,2318.3 1903.2,2317.0 1904.2,2316.7 1905.2,2316.9 1906.2,2317.4 1907.2,2317.9 1908.2,2317.5 1909.2,2318.8 1910.2,2318.2 1911.2,2317.4 1912.2,2317.2 1913.2,2318.0 1914.2,2317.6 1915.2,2317.4 1916.2,2317.5 1917.2,2317.6 1918.2,2317.8 1919.2,2317.8 1920.2,2318.0 1921.2,2318.5 1922.2,2317.7 1923.2,2318.3 1924.2,2317.1 1925.2,2317.7 1926.2,2318.3 1927.2,2318.3 1927.8,2317.6" stroke="#C279E2"/>
<polyline points="143.2,2394.6 144.2,2395.4 145.2,2396.2 146.2,2398.6 147.2,2399.2 148.2,2398.9 149.2,2399.2 150.2,2395.8 151.2,2396.7 152.2,2394.5 153.2,2396.4 154.2,2393.2 155.2,2394.9 156.2,2390.6 157.2,2393.6 158.2,2393.6 159.2,2396.7 160.2,2392.3 161.2,2394.2 162.2,2396.0 163.2,2395.6 164.2,2393.0 165.2,2387.5 166.2,2389.6 167.2,2391.9 168.2,2389.4 169.2,2390.4 170.2,2385.9 171.2,2386.9 172.2,2388.2 173.2,2383.5 174.2,2387.3 175.2,2387.0 176.2,2384.4 177.2,2388.6 178.2,2390.1 179.2,2389.6 180.2,2387.7 181.2,2387.7 182.2,2388.9 183.2,2391.3 184.2,2386.7 185.2,2392.0 186.2,2388.2 187.2,2388.0 188.2,2387.6 189.2,2393.2 190.2,2386.7 191.2,2390.8 192.2,2389.1 193.2,2386.8 194.2,2387.3 195.2,2391.3 196.2,2389.7 197.2,2388.1 198.2,2388.1 199.2,2387.8 200.2,2391.9 201.2,2392.5 202.2,2386.7 203.2,2391.4 204.2,2392.4 205.2,2389.6 206.2,2391.7 207.2,2393.6 208.2,2396.2 209.2,2396.0 210.2,2397.0 211.2,2396.3 212.2,2401.4 213.2,2400.7 214.2,2401.6 215.2,2402.3 216.2,2401.7 217.2,2402.4 218.2,2408.1 219.2,2405.7 220.2,2407.5 221.2,2407.1 222.2,2413.1 223.2,2414.5 224.2,2416.2 225.2,2414.4 226.2,2418.1 227.2,2422.5 228.2,2420.0 229.2,2422.6 230.2,2430.1 231.2,2428.1 232.2,2427.4 233.2,2431.9 234.2,2434.8 235.2,2438.7 236.2,2442.2 237.2,2446.1 238.2,2445.7 239.2,2450.4 240.2,2454.8 241.2,2455.5 242.2,2465.2 243.2,2462.5 244.2,2461.9 245.2,2465.1 246.2,2466.0 247.2,2470.4 248.2,2473.5 249.2,2475.8 250.2,2480.3 251.2,2484.9 252.2,2485.4 253.2,2486.1 254.2,2492.3 255.2,2494.6 256.2,2500.5 257.2,2498.0 258.2,2499.4 259.2,2504.1 260.2,2504.9 261.2,2508.8 262.2,2512.6 263.2,2514.7 264.2,2518.1 265.2,2520.4 266.2,2519.9 267.2,2523.9 268.2,2525.4 269.2,2528.5 270.2,2528.7 271.2,2532.3 272.2,2533.9 273.2,2537.4 274.2,2536.6 275.2,2538.4 276.2,2541.0 277.2,2544.5 278.2,2545.5 279.2,2547.2 280.2,2549.0 281.2,2554.8 282.2,2552.9 283.2,2556.1 284.2,2560.6 285.2,2560.2 286.2,2560.9 287.2,2562.4 288.2,2563.5 289.2,2568.0 290.2,2569.4 291.2,2569.5 292.2,2572.7 293.2,2571.6 294.2,2573.9 295.2,2575.7 296.2,2576.7 297.2,2577.6 298.2,2577.6 299.2,2579.9 300.2,2580.0 301.2,2581.5 302.2,2579.3 303.2,2582.9 304.2,2583.0 305.2,2584.5 306.2,2584.0 307.2,2586.8 308.2,2588.0 309.2,2586.8 310.2,2586.6 311.2,2588.3 312.2,2590.2 313.2,2591.5 314.2,2593.1 315.2,2593.9 316.2,2593.1 317.2,2592.2 318.2,2593.8 319.2,2593.0 320.2,2592.6 321.2,2595.1 322.2,2594.7 323.2,2594.6 324.2,2596.1 325.2,2595.3 326.2,2596.7 327.2,2596.5 328.2,2596.7 329.2,2598.8 330.2,2597.7 331.2,2597.5 332.2,2599.7 333.2,2599.5 334.2,2600.2 335.2,2598.1 336.2,2600.5 337.2,2599.7 338.2,2600.9 339.2,2601.5 340.2,2601.4 341.2,2601.8 342.2,2601.8 343.2,2603.0 344.2,2602.1 345.2,2602.2 346.2,2604.8 347.2,2605.6 348.2,2605.4 349.2,2605.5 350.2,2605.7 351.2,2606.4 352.2,2605.7 353.2,2607.3 354.2,2607.9 355.2,2608.5 356.2,2607.5 357.2,2606.6 358.2,2609.0 359.2,2609.0 360.2,2608.9 361.2,2608.2 362.2,2609.4 363.2,2608.6 364.2,2609.7 365.2,2610.2 366.2,2609.0 367.2,2609.7 368.2,2609.6 369.2,2609.5 370.2,2609.1 371.2,2609.7 372.2,2610.3 373.2,2609.5 374.2,2611.1 375.2,2610.6 376.2,2611.2 377.2,2611.4 378.2,2611.4 379.2,2612.2 380.2,2611.0 381.2,2610.7 382.2,2611.6 383.2,2611.3 384.2,2611.3 385.2,2611.0 386.2,2611.1 387.2,2610.5 388.2,2610.4 389.2,2611.6 390.2,2610.2 391.2,2611.5 392.2,2611.0 393.2,2610.0 394.2,2610.5 395.2,2610.2 396.2,2612.8 397.2,2610.4 398.2,2611.8 399.2,2612.2 400.2,2611.9 401.2,2612.4 402.2,2613.3 403.2,2614.6 404.2,2614.2 405.2,2613.2 406.2,2612.8 407.2,2614.4 408.2,2614.6 409.2,2613.3 410.2,2612.8 411.2,2614.1 412.2,2612.7 413.2,2613.9 414.2,2611.9 415.2,2613.5 416.2,2612.8 417.2,2614.6 418.2,2615.0 419.2,2614.0 420.2,2614.7 421.2,2614.0 422.2,2614.3 423.2,2615.2 424.2,2613.7 425.2,2612.9 426.2,2614.2 427.2,2615.8 428.2,2615.1 429.2,2615.6 430.2,2614.2 431.2,2613.8 432.2,2613.0 433.2,2613.3 434.2,2613.2 435.2,2613.2 436.2,2614.0 437.2,2613.9 438.2,2614.8 439.2,2613.8 440.2,2613.9 441.2,2613.8 442.2,2614.9 443.2,2613.8 444.2,2614.0 445.2,2613.6 446.2,2613.1 447.2,2613.8 448.2,2614.3 449.2,2613.0 450.2,2612.1 451.2,2614.0 452.2,2613.9 453.2,2613.2 454.2,2613.7 455.2,2613.9 456.2,2613.8 457.2,2614.0 458.2,2612.8 459.2,2613.8 460.2,2612.7 461.2,2613.5 462.2,2614.4 463.2,2614.0 464.2,2613.8 465.2,2614.8 466.2,2614.9 467.2,2615.0 468.2,2612.4 469.2,2613.4 470.2,2614.4 471.2,2614.9 472.2,2614.5 473.2,2613.2 474.2,2613.6 475.2,2613.4 476.2,2612.2 477.2,2612.3 478.2,2612.5 479.2,2612.3 480.2,2614.2 481.2,2612.6 482.2,2613.2 483.2,2612.6 484.2,2613.4 485.2,2612.4 486.2,2612.2 487.2,2614.0 488.2,2612.5 489.2,2611.7 490.2,2611.4 491.2,2611.8 492.2,2612.9 493.2,2612.8 494.2,2612.8 495.2,2612.1 496.2,2612.7 497.2,2612.9 498.2,2612.6 499.2,2612.8 500.2,2613.6 501.2,2614.2 502.2,2614.7 503.2,2613.1 504.2,2613.6 505.2,2613.7 506.2,2614.5 507.2,2612.4 508.2,2612.9 509.2,2612.0 510.2,2612.6 511.2,2612.7 512.2,2612.5 513.2,2613.1 514.2,2614.2 515.2,2613.8 516.2,2615.1 517.2,2613.4 518.2,2614.0 519.2,2611.5 520.2,2611.5 521.2,2613.4 522.2,2613.0 523.2,2611.9 524.2,2611.4 525.2,2612.9 526.2,2611.9 527.2,2612.2 528.2,2612.0 529.2,2612.7 530.2,2613.1 531.2,2613.3 532.2,2611.9 533.2,2612.4 534.2,2612.0 535.2,2613.8 536.2,2611.5 537.2,2611.4 538.2,2613.2 539.2,2612.9 540.2,2612.8 541.2,2611.4 542.2,2611.4 543.2,2611.7 544.2,2610.6 545.2,2610.2 546.2,2610.1 547.2,2611.7 548.2,2608.6 549.2,2610.4 550.2,2609.6 551.2,2609.5 552.2,2610.3 553.2,2610.6 554.2,2609.6 555.2,2611.8 556.2,2608.3 557.2,2609.8 558.2,2609.9 559.2,2609.0 560.2,2609.1 561.2,2608.8 562.2,2608.8 563.2,2608.7 564.2,2608.6 565.2,2606.5 566.2,2608.3 567.2,2608.2 568.2,2606.5 569.2,2609.0 570.2,2608.3 571.2,2608.8 572.2,2607.3 573.2,2608.8 574.2,2608.4 575.2,2610.1 576.2,2606.4 577.2,2608.0 578.2,2606.6 579.2,2609.6 580.2,2608.3 581.2,2609.1 582.2,2607.7 583.2,2606.1 584.2,2607.3 585.2,2605.5 586.2,2605.7 587.2,2607.1 588.2,2604.5 589.2,2605.3 590.2,2603.8 591.2,2603.8 592.2,2602.6 593.2,2601.6 594.2,2601.8 595.2,2601.2 596.2,2597.9 597.2,2597.1 598.2,2596.8 599.2,2596.8 600.2,2594.8 601.2,2592.2 602.2,2591.7 603.2,2589.1 604.2,2586.7 605.2,2584.4 606.2,2583.0 607.2,2580.8 608.2,2579.7 609.2,2575.6 610.2,2574.1 611.2,2571.9 612.2,2568.8 613.2,2567.0 614.2,2565.0 615.2,2561.7 616.2,2559.0 617.2,2555.8 618.2,2553.9 619.2,2552.0 620.2,2550.7 621.2,2548.0 622.2,2545.8 623.2,2545.0 624.2,2544.5 625.2,2543.9 626.2,2543.9 627.2,2545.3 628.2,2546.4 629.2,2546.3 630.2,2548.8 631.2,2550.4 632.2,2555.2 633.2,2556.6 634.2,2559.1 635.2,2561.9 636.2,2565.0 637.2,2568.1 638.2,2570.1 639.2,2574.1 640.2,2575.7 641.2,2577.8 642.2,2582.9 643.2,2582.4 644.2,2585.6 645.2,2587.4 646.2,2589.4 647.2,2590.7 648.2,2592.7 649.2,2595.1 650.2,2595.5 651.2,2597.1 652.2,2598.8 653.2,2599.9 654.2,2600.3 655.2,2603.2 656.2,2603.8 657.2,2604.2 658.2,2604.5 659.2,2605.1 660.2,2606.1 661.2,2605.6 662.2,2606.4 663.2,2607.2 664.2,2607.6 665.2,2607.6 666.2,2607.3 667.2,2608.1 668.2,2607.4 669.2,2607.6 670.2,2609.7 671.2,2607.5 672.2,2608.8 673.2,2610.9 674.2,2609.2 675.2,2609.0 676.2,2609.5 677.2,2611.2 678.2,2611.1 679.2,2612.5 680.2,2612.4 681.2,2613.0 682.2,2612.6 683.2,2613.0 684.2,2613.5 685.2,2613.6 686.2,2612.7 687.2,2612.7 688.2,2614.4 689.2,2613.0 690.2,2611.3 691.2,2612.3 692.2,2613.3 693.2,2612.8 694.2,2614.5 695.2,2612.9 696.2,2614.7 697.2,2614.4 698.2,2615.9 699.2,2615.6 700.2,2615.0 701.2,2614.6 702.2,2615.1 703.2,2612.5 704.2,2614.0 705.2,2614.4 706.2,2615.4 707.2,2614.5 708.2,2615.0 709.2,2614.7 710.2,2614.7 711.2,2614.3 712.2,2615.5 713.2,2614.1 714.2,2615.4 715.2,2615.3 716.2,2614.1 717.2,2615.7 718.2,2616.5 719.2,2616.4 720.2,2616.4 721.2,2616.3 722.2,2616.0 723.2,2616.3 724.2,2615.4 725.2,2617.7 726.2,2617.2 727.2,2616.3 728.2,2616.6 729.2,2615.5 730.2,2617.1 731.2,2615.7 732.2,2615.8 733.2,2614.5 734.2,2615.0 735.2,2616.5 736.2,2616.4 737.2,2617.3 738.2,2617.4 739.2,2616.8 740.2,2616.8 741.2,2617.2 742.2,2617.4 743.2,2616.1 744.2,2616.3 745.2,2615.9 746.2,2615.0 747.2,2616.5 748.2,2615.6 749.2,2615.5 750.2,2615.8 751.2,2616.5 752.2,2616.9 753.2,2616.3 754.2,2615.7 755.2,2615.9 756.2,2616.7 757.2,2616.6 758.2,2616.7 759.2,2616.9 760.2,2616.7 761.2,2617.0 762.2,2617.2 763.2,2618.2 764.2,2617.9 765.2,2619.0 766.2,2619.2 767.2,2617.6 768.2,2617.5 769.2,2617.4 770.2,2616.5 771.2,2616.4 772.2,2617.8 773.2,2617.9 774.2,2618.5 775.2,2618.0 776.2,2618.6 777.2,2618.0 778.2,2617.5 779.2,2618.3 780.2,2616.8 781.2,2617.2 782.2,2617.8 783.2,2616.8 784.2,2618.4 785.2,2616.7 786.2,2617.9 787.2,2619.1 788.2,2619.4 789.2,2619.3 790.2,2619.3 791.2,2619.3 792.2,2619.3 793.2,2618.1 794.2,2618.9 795.2,2617.7 796.2,2618.7 797.2,2618.1 798.2,2617.0 799.2,2619.5 800.2,2618.1 801.2,2617.8 802.2,2618.6 803.2,2618.8 804.2,2618.8 805.2,2619.3 806.2,2618.6 807.2,2617.8 808.2,2618.9 809.2,2616.6 810.2,2617.7 811.2,2617.5 812.2,2617.1 813.2,2617.9 814.2,2618.8 815.2,2620.7 816.2,2620.5 817.2,2620.2 818.2,2619.9 819.2,2619.9 820.2,2621.0 821.2,2621.3 822.2,2620.2 823.2,2620.5 824.2,2621.0 825.2,2621.0 826.2,2620.8 827.2,2620.3 828.2,2619.9 829.2,2620.1 830.2,2620.0 831.2,2619.5 832.2,2620.6 833.2,2621.1 834.2,2619.9 835.2,2619.5 836.2,2619.3 837.2,2618.4 838.2,2617.9 839.2,2618.8 840.2,2618.9 841.2,2618.0 842.2,2619.7 843.2,2618.7 844.2,2619.8 845.2,2619.4 846.2,2619.1 847.2,2618.9 848.2,2619.0 849.2,2618.5 850.2,2619.1 851.2,2619.8 852.2,2618.9 853.2,2619.3 854.2,2619.7 855.2,2618.0 856.2,2618.8 857.2,2620.2 858.2,2619.3 859.2,2619.6 860.2,2620.3 861.2,2618.9 862.2,2617.8 863.2,2619.6 864.2,2619.3 865.2,2618.4 866.2,2617.6 867.2,2620.1 868.2,2619.3 869.2,2619.6 870.2,2620.2 871.2,2620.8 872.2,2620.1 873.2,2620.4 874.2,2621.4 875.2,2620.2 876.2,2620.1 877.2,2620.5 878.2,2618.3 879.2,2619.9 880.2,2619.1 881.2,2619.6 882.2,2619.2 883.2,2618.9 884.2,2619.4 885.2,2618.6 886.2,2617.6 887.2,2620.1 888.2,2618.8 889.2,2619.2 890.2,2620.1 891.2,2620.0 892.2,2619.4 893.2,2619.6 894.2,2620.3 895.2,2619.5 896.2,2620.2 897.2,2621.3 898.2,2619.4 899.2,2618.0 900.2,2618.5 901.2,2619.8 902.2,2619.1 903.2,2620.7 904.2,2621.4 905.2,2622.5 906.2,2621.2 907.2,2622.8 908.2,2620.7 909.2,2621.6 910.2,2621.6 911.2,2621.0 912.2,2620.5 913.2,2620.3 914.2,2620.0 915.2,2620.1 916.2,2620.6 917.2,2620.8 918.2,2620.7 919.2,2620.6 920.2,2620.7 921.2,2621.2 922.2,2621.6 923.2,2622.0 924.2,2621.0 925.2,2621.5 926.2,2620.8 927.2,2622.0 928.2,2621.5 929.2,2620.6 930.2,2619.9 931.2,2621.5 932.2,2620.4 933.2,2620.5 934.2,2621.9 935.2,2620.7 936.2,2620.9 937.2,2621.9 938.2,2621.6 939.2,2622.1 940.2,2621.1 941.2,2621.1 942.2,2621.1 943.2,2622.7 944.2,2621.2 945.2,2621.5 946.2,2621.7 947.2,2623.1 948.2,2621.8 949.2,2621.7 950.2,2620.5 951.2,2621.6 952.2,2621.0 953.2,2620.7 954.2,2620.8 955.2,2622.0 956.2,2620.2 957.2,2621.0 958.2,2621.8 959.2,2620.8 960.2,2620.2 961.2,2621.8 962.2,2621.3 963.2,2621.2 964.2,2622.6 965.2,2622.1 966.2,2623.0 967.2,2622.3 968.2,2622.2 969.2,2623.8 970.2,2623.7 971.2,2622.3 972.2,2622.5 973.2,2623.3 974.2,2622.7 975.2,2623.7 976.2,2622.3 977.2,2622.0 978.2,2621.4 979.2,2622.0 980.2,2622.0 981.2,2622.6 982.2,2623.4 983.2,2623.2 984.2,2624.9 985.2,2623.3 986.2,2623.6 987.2,2624.0 988.2,2623.9 989.2,2624.5 990.2,2624.0 991.2,2623.9 992.2,2622.7 993.2,2623.1 994.2,2623.0 995.2,2622.7 996.2,2622.1 997.2,2622.8 998.2,2623.3 999.2,2622.2 1000.2,2622.5 1001.2,2622.9 1002.2,2622.7 1003.2,2623.6 1004.2,2624.1 1005.2,2622.9 1006.2,2622.9 1007.2,2621.7 1008.2,2622.4 1009.2,2622.8 1010.2,2622.4 1011.2,2623.5 1012.2,2622.9 1013.2,2623.2 1014.2,2623.7 1015.2,2624.7 1016.2,2624.6 1017.2,2624.0 1018.2,2624.0 1019.2,2624.7 1020.2,2624.9 1021.2,2624.5 1022.2,2624.6 1023.2,2623.8 1024.2,2624.4 1025.2,2623.7 1026.2,2625.0 1027.2,2623.7 1028.2,2623.7 1029.2,2623.7 1030.2,2624.1 1031.2,2622.7 1032.2,2624.1 1033.2,2622.5 1034.2,2623.6 1035.2,2623.8 1036.2,2622.6 1037.2,2623.4 1038.2,2623.1 1039.2,2623.8 1040.2,2624.7 1041.2,2625.3 1042.2,2624.8 1043.2,2625.1 1044.2,2624.5 1045.2,2625.5 1046.2,2625.1 1047.2,2625.6 1048.2,2626.0 1049.2,2624.9 1050.2,2625.4 1051.2,2624.9 1052.2,2626.2 1053.2,2625.8 1054.2,2623.9 1055.2,2625.3 1056.2,2625.4 1057.2,2624.5 1058.2,2623.1 1059.2,2625.0 1060.2,2624.7 1061.2,2623.7 1062.2,2623.5 1063.2,2624.5 1064.2,2623.9 1065.2,2623.7 1066.2,2624.0 1067.2,2622.9 1068.2,2624.7 1069.2,2624.6 1070.2,2624.7 1071.2,2624.0 1072.2,2624.0 1073.2,2624.1 1074.2,2623.6 1075.2,2624.0 1076.2,2623.5 1077.2,2622.7 1078.2,2622.6 1079.2,2622.8 1080.2,2622.0 1081.2,2621.0 1082.2,2622.5 1083.2,2622.8 1084.2,2621.7 1085.2,2623.2 1086.2,2622.5 1087.2,2622.3 1088.2,2623.3 1089.2,2622.4 1090.2,2622.9 1091.2,2622.2 1092.2,2622.8 1093.2,2623.2 1094.2,2623.7 1095.2,2622.7 1096.2,2624.4 1097.2,2623.1 1098.2,2623.2 1099.2,2623.6 1100.2,2623.8 1101.2,2623.0 1102.2,2623.4 1103.2,2623.1 1104.2,2622.9 1105.2,2622.5 1106.2,2622.0 1107.2,2621.2 1108.2,2621.3 1109.2,2621.1 1110.2,2621.2 1111.2,2620.3 1112.2,2620.6 1113.2,2619.9 1114.2,2618.4 1115.2,2618.3 1116.2,2619.0 1117.2,2617.7 1118.2,2618.1 1119.2,2617.7 1120.2,2619.0 1121.2,2617.8 1122.2,2617.3 1123.2,2617.6 1124.2,2618.5 1125.2,2616.3 1126.2,2617.9 1127.2,2617.2 1128.2,2616.4 1129.2,2615.4 1130.2,2616.1 1131.2,2614.2 1132.2,2614.6 1133.2,2615.3 1134.2,2614.0 1135.2,2614.0 1136.2,2614.8 1137.2,2615.1 1138.2,2613.4 1139.2,2614.0 1140.2,2613.3 1141.2,2613.6 1142.2,2612.2 1143.2,2613.2 1144.2,2612.2 1145.2,2611.5 1146.2,2612.8 1147.2,2610.6 1148.2,2610.7 1149.2,2612.1 1150.2,2608.9 1151.2,2609.5 1152.2,2608.5 1153.2,2607.7 1154.2,2605.7 1155.2,2605.8 1156.2,2604.5 1157.2,2603.5 1158.2,2602.0 1159.2,2602.2 1160.2,2601.5 1161.2,2599.7 1162.2,2597.2 1163.2,2595.3 1164.2,2594.0 1165.2,2593.2 1166.2,2588.8 1167.2,2584.9 1168.2,2580.7 1169.2,2575.0 1170.2,2567.7 1171.2,2557.6 1172.2,2546.6 1173.2,2534.2 1174.2,2519.5 1175.2,2501.1 1176.2,2481.0 1177.2,2460.0 1178.2,2434.7 1179.2,2412.5 1180.2,2389.8 1181.2,2371.5 1182.2,2356.7 1183.2,2350.0 1184.2,2352.2 1185.2,2360.9 1186.2,2376.6 1187.2,2396.7 1188.2,2419.7 1189.2,2445.1 1190.2,2468.0 1191.2,2488.4 1192.2,2509.6 1193.2,2526.1 1194.2,2541.1 1195.2,2555.3 1196.2,2565.6 1197.2,2573.2 1198.2,2581.2 1199.2,2586.9 1200.2,2590.7 1201.2,2596.4 1202.2,2597.9 1203.2,2601.2 1204.2,2602.6 1205.2,2605.5 1206.2,2607.9 1207.2,2608.4 1208.2,2610.2 1209.2,2611.6 1210.2,2611.3 1211.2,2613.7 1212.2,2613.9 1213.2,2614.2 1214.2,2615.5 1215.2,2617.0 1216.2,2616.2 1217.2,2617.2 1218.2,2618.5 1219.2,2618.8 1220.2,2620.4 1221.2,2618.9 1222.2,2621.2 1223.2,2619.9 1224.2,2621.1 1225.2,2621.5 1226.2,2621.5 1227.2,2620.6 1228.2,2620.7 1229.2,2621.6 1230.2,2621.2 1231.2,2621.1 1232.2,2622.0 1233.2,2620.8 1234.2,2621.1 1235.2,2622.3 1236.2,2622.1 1237.2,2623.2 1238.2,2623.6 1239.2,2622.6 1240.2,2623.1 1241.2,2623.8 1242.2,2623.7 1243.2,2624.3 1244.2,2624.2 1245.2,2624.0 1246.2,2624.1 1247.2,2623.1 1248.2,2625.0 1249.2,2625.3 1250.2,2625.7 1251.2,2625.9 1252.2,2626.0 1253.2,2626.1 1254.2,2626.0 1255.2,2627.1 1256.2,2626.7 1257.2,2626.6 1258.2,2627.1 1259.2,2626.7 1260.2,2627.2 1261.2,2626.6 1262.2,2626.8 1263.2,2627.0 1264.2,2627.4 1265.2,2626.8 1266.2,2626.3 1267.2,2626.6 1268.2,2626.3 1269.2,2627.3 1270.2,2626.5 1271.2,2626.2 1272.2,2626.3 1273.2,2626.1 1274.2,2627.2 1275.2,2625.6 1276.2,2626.7 1277.2,2626.2 1278.2,2626.7 1279.2,2627.3 1280.2,2626.9 1281.2,2626.9 1282.2,2627.6 1283.2,2626.4 1284.2,2627.5 1285.2,2626.6 1286.2,2626.6 1287.2,2627.2 1288.2,2627.2 1289.2,2626.5 1290.2,2627.9 1291.2,2627.2 1292.2,2627.8 1293.2,2627.8 1294.2,2627.6 1295.2,2628.1 1296.2,2628.7 1297.2,2628.3 1298.2,2628.3 1299.2,2626.4 1300.2,2627.4 1301.2,2627.0 1302.2,2627.7 1303.2,2627.2 1304.2,2627.5 1305.2,2628.0 1306.2,2628.3 1307.2,2627.9 1308.2,2627.5 1309.2,2627.6 1310.2,2628.3 1311.2,2627.7 1312.2,2629.8 1313.2,2628.7 1314.2,2628.3 1315.2,2629.3 1316.2,2628.8 1317.2,2629.4 1318.2,2628.0 1319.2,2628.7 1320.2,2628.2 1321.2,2628.0 1322.2,2627.8 1323.2,2628.4 1324.2,2627.5 1325.2,2628.2 1326.2,2628.1 1327.2,2629.1 1328.2,2629.2 1329.2,2628.6 1330.2,2629.1 1331.2,2629.9 1332.2,2628.3 1333.2,2630.2 1334.2,2628.6 1335.2,2627.6 1336.2,2629.3 1337.2,2629.1 1338.2,2629.2 1339.2,2630.0 1340.2,2628.6 1341.2,2629.3 1342.2,2628.8 1343.2,2628.9 1344.2,2628.2 1345.2,2628.5 1346.2,2628.4 1347.2,2628.9 1348.2,2628.3 1349.2,2628.8 1350.2,2628.6 1351.2,2628.3 1352.2,2629.7 1353.2,2628.5 1354.2,2628.5 1355.2,2629.3 1356.2,2629.3 1357.2,2629.0 1358.2,2629.5 1359.2,2628.6 1360.2,2629.5 1361.2,2628.4 1362.2,2629.6 1363.2,2628.0 1364.2,2630.1 1365.2,2629.6 1366.2,2628.9 1367.2,2629.6 1368.2,2629.8 1369.2,2629.8 1370.2,2628.8 1371.2,2629.0 1372.2,2628.4 1373.2,2629.1 1374.2,2628.2 1375.2,2628.7 1376.2,2630.1 1377.2,2628.5 1378.2,2628.6 1379.2,2628.2 1380.2,2628.0 1381.2,2628.5 1382.2,2627.5 1383.2,2627.9 1384.2,2627.3 1385.2,2628.6 1386.2,2628.2 1387.2,2628.4 1388.2,2628.9 1389.2,2629.9 1390.2,2629.7 1391.2,2629.1 1392.2,2629.0 1393.2,2628.8 1394.2,2629.5 1395.2,2629.5 1396.2,2629.2 1397.2,2630.2 1398.2,2630.0 1399.2,2630.0 1400.2,2628.6 1401.2,2628.6 1402.2,2629.1 1403.2,2628.8 1404.2,2628.5 1405.2,2629.1 1406.2,2629.0 1407.2,2628.9 1408.2,2629.0 1409.2,2629.7 1410.2,2628.2 1411.2,2628.2 1412.2,2629.9 1413.2,2629.2 1414.2,2629.0 1415.2,2630.0 1416.2,2629.4 1417.2,2630.7 1418.2,2629.9 1419.2,2629.8 1420.2,2629.5 1421.2,2629.3 1422.2,2629.1 1423.2,2629.6 1424.2,2629.2 1425.2,2628.9 1426.2,2630.1 1427.2,2629.9 1428.2,2630.5 1429.2,2629.3 1430.2,2629.7 1431.2,2629.7 1432.2,2629.0 1433.2,2628.5 1434.2,2628.8 1435.2,2630.2 1436.2,2631.0 1437.2,2630.0 1438.2,2629.4 1439.2,2630.3 1440.2,2629.7 1441.2,2630.5 1442.2,2630.3 1443.2,2630.0 1444.2,2630.0 1445.2,2629.6 1446.2,2630.2 1447.2,2628.7 1448.2,2629.6 1449.2,2630.7 1450.2,2630.3 1451.2,2630.3 1452.2,2630.2 1453.2,2630.6 1454.2,2629.5 1455.2,2630.2 1456.2,2630.3 1457.2,2630.4 1458.2,2629.4 1459.2,2630.5 1460.2,2629.4 1461.2,2630.7 1462.2,2630.0 1463.2,2629.3 1464.2,2630.2 1465.2,2630.1 1466.2,2631.0 1467.2,2631.4 1468.2,2631.2 1469.2,2629.9 1470.2,2630.6 1471.2,2629.9 1472.2,2630.5 1473.2,2631.1 1474.2,2630.1 1475.2,2631.7 1476.2,2631.0 1477.2,2632.4 1478.2,2632.6 1479.2,2632.2 1480.2,2630.6 1481.2,2630.5 1482.2,2630.4 1483.2,2629.9 1484.2,2629.4 1485.2,2630.0 1486.2,2629.9 1487.2,2630.2 1488.2,2630.1 1489.2,2629.7 1490.2,2629.5 1491.2,2630.1 1492.2,2629.6 1493.2,2630.8 1494.2,2629.9 1495.2,2631.0 1496.2,2630.7 1497.2,2630.5 1498.2,2630.8 1499.2,2631.0 1500.2,2631.4 1501.2,2631.7 1502.2,2630.4 1503.2,2630.6 1504.2,2631.7 1505.2,2631.3 1506.2,2630.9 1507.2,2630.6 1508.2,2629.8 1509.2,2631.0 1510.2,2630.9 1511.2,2629.8 1512.2,2629.6 1513.2,2630.5 1514.2,2630.1 1515.2,2630.9 1516.2,2631.4 1517.2,2631.6 1518.2,2632.5 1519.2,2630.9 1520.2,2631.9 1521.2,2631.6 1522.2,2630.2 1523.2,2630.0 1524.2,2630.5 1525.2,2630.4 1526.2,2630.5 1527.2,2630.4 1528.2,2630.1 1529.2,2631.4 1530.2,2632.3 1531.2,2631.1 1532.2,2631.9 1533.2,2631.9 1534.2,2632.7 1535.2,2633.6 1536.2,2632.4 1537.2,2632.1 1538.2,2631.9 1539.2,2631.0 1540.2,2631.7 1541.2,2630.0 1542.2,2631.6 1543.2,2630.9 1544.2,2630.8 1545.2,2630.2 1546.2,2630.6 1547.2,2631.7 1548.2,2631.2 1549.2,2632.2 1550.2,2631.6 1551.2,2631.5 1552.2,2630.5 1553.2,2632.2 1554.2,2630.7 1555.2,2631.2 1556.2,2630.1 1557.2,2629.6 1558.2,2631.0 1559.2,2630.4 1560.2,2632.4 1561.2,2631.4 1562.2,2631.3 1563.2,2631.8 1564.2,2632.5 1565.2,2631.9 1566.2,2632.7 1567.2,2631.6 1568.2,2631.6 1569.2,2631.8 1570.2,2631.0 1571.2,2631.9 1572.2,2631.8 1573.2,2631.7 1574.2,2631.9 1575.2,2632.2 1576.2,2631.1 1577.2,2630.6 1578.2,2630.8 1579.2,2629.7 1580.2,2630.3 1581.2,2630.1 1582.2,2630.7 1583.2,2631.1 1584.2,2631.4 1585.2,2631.3 1586.2,2632.8 1587.2,2633.2 1588.2,2631.5 1589.2,2631.7 1590.2,2632.3 1591.2,2633.3 1592.2,2632.4 1593.2,2632.2 1594.2,2631.9 1595.2,2632.8 1596.2,2631.7 1597.2,2631.9 1598.2,2631.7 1599.2,2631.1 1600.2,2631.1 1601.2,2631.2 1602.2,2631.2 1603.2,2631.0 1604.2,2631.3 1605.2,2630.7 1606.2,2630.7 1607.2,2631.7 1608.2,2631.0 1609.2,2631.9 1610.2,2631.6 1611.2,2630.9 1612.2,2631.7 1613.2,2631.7 1614.2,2631.6 1615.2,2632.2 1616.2,2632.2 1617.2,2631.6 1618.2,2632.2 1619.2,2632.8 1620.2,2632.5 1621.2,2633.7 1622.2,2632.7 1623.2,2633.0 1624.2,2632.2 1625.2,2632.7 1626.2,2632.1 1627.2,2633.1 1628.2,2632.9 1629.2,2632.6 1630.2,2632.3 1631.2,2633.0 1632.2,2633.9 1633.2,2632.8 1634.2,2632.9 1635.2,2632.0 1636.2,2633.6 1637.2,2633.6 1638.2,2633.3 1639.2,2631.9 1640.2,2632.4 1641.2,2633.5 1642.2,2632.7 1643.2,2632.8 1644.2,2633.3 1645.2,2633.3 1646.2,2634.7 1647.2,2633.5 1648.2,2633.7 1649.2,2632.8 1650.2,2632.7 1651.2,2632.5 1652.2,2631.8 1653.2,2631.5 1654.2,2632.1 1655.2,2631.2 1656.2,2631.7 1657.2,2632.1 1658.2,2631.8 1659.2,2632.5 1660.2,2631.9 1661.2,2631.5 1662.2,2632.5 1663.2,2633.0 1664.2,2633.8 1665.2,2632.7 1666.2,2634.5 1667.2,2633.8 1668.2,2633.8 1669.2,2633.2 1670.2,2633.5 1671.2,2632.2 1672.2,2632.7 1673.2,2633.9 1674.2,2633.2 1675.2,2633.1 1676.2,2633.5 1677.2,2632.6 1678.2,2633.4 1679.2,2633.6 1680.2,2632.9 1681.2,2632.4 1682.2,2632.9 1683.2,2633.5 1684.2,2632.7 1685.2,2633.9 1686.2,2633.7 1687.2,2632.7 1688.2,2633.3 1689.2,2633.9 1690.2,2634.0 1691.2,2632.2 1692.2,2633.2 1693.2,2633.4 1694.2,2633.1 1695.2,2633.8 1696.2,2634.6 1697.2,2634.1 1698.2,2634.5 1699.2,2634.3 1700.2,2634.9 1701.2,2634.8 1702.2,2635.6 1703.2,2634.1 1704.2,2634.6 1705.2,2633.2 1706.2,2634.8 1707.2,2634.7 1708.2,2633.8 1709.2,2634.5 1710.2,2634.3 1711.2,2633.3 1712.2,2634.7 1713.2,2634.3 1714.2,2635.0 1715.2,2634.7 1716.2,2635.2 1717.2,2634.4 1718.2,2634.7 1719.2,2635.0 1720.2,2633.9 1721.2,2635.4 1722.2,2634.9 1723.2,2633.9 1724.2,2634.7 1725.2,2633.9 1726.2,2634.3 1727.2,2633.8 1728.2,2634.1 1729.2,2634.8 1730.2,2634.9 1731.2,2635.0 1732.2,2634.6 1733.2,2635.9 1734.2,2634.9 1735.2,2636.0 1736.2,2634.2 1737.2,2634.6 1738.2,2634.7 1739.2,2634.3 1740.2,2635.1 1741.2,2634.0 1742.2,2634.8 1743.2,2634.4 1744.2,2634.6 1745.2,2634.1 1746.2,2635.2 1747.2,2634.5 1748.2,2634.6 1749.2,2634.7 1750.2,2635.6 1751.2,2634.9 1752.2,2634.3 1753.2,2635.2 1754.2,2634.4 1755.2,2634.4 1756.2,2634.8 1757.2,2634.7 1758.2,2635.1 1759.2,2635.6 1760.2,2634.9 1761.2,2635.1 1762.2,2634.9 1763.2,2635.0 1764.2,2634.8 1765.2,2635.0 1766.2,2635.1 1767.2,2635.5 1768.2,2634.7 1769.2,2633.4 1770.2,2633.8 1771.2,2633.6 1772.2,2633.1 1773.2,2633.1 1774.2,2633.2 1775.2,2633.9 1776.2,2631.3 1777.2,2631.4 1778.2,2631.0 1779.2,2631.3 1780.2,2630.6 1781.2,2630.9 1782.2,2628.6 1783.2,2628.5 1784.2,2627.1 1785.2,2625.4 1786.2,2624.2 1787.2,2622.6 1788.2,2621.5 1789.2,2620.2 1790.2,2620.0 1791.2,2620.6 1792.2,2621.5 1793.2,2623.0 1794.2,2623.7 1795.2,2625.3 1796.2,2626.0 1797.2,2626.5 1798.2,2628.4 1799.2,2629.1 1800.2,2630.7 1801.2,2631.5 1802.2,2632.9 1803.2,2633.8 1804.2,2634.3 1805.2,2634.7 1806.2,2635.9 1807.2,2635.8 1808.2,2635.1 1809.2,2635.9 1810.2,2635.3 1811.2,2635.4 1812.2,2634.3 1813.2,2636.0 1814.2,2635.5 1815.2,2635.3 1816.2,2635.4 1817.2,2636.4 1818.2,2636.0 1819.2,2637.1 1820.2,2636.8 1821.2,2636.8 1822.2,2636.4 1823.2,2635.7 1824.2,2637.0 1825.2,2636.5 1826.2,2636.6 1827.2,2636.7 1828.2,2636.0 1829.2,2637.6 1830.2,2636.6 1831.2,2637.5 1832.2,2637.1 1833.2,2636.0 1834.2,2636.1 1835.2,2637.4 1836.2,2636.8 1837.2,2637.1 1838.2,2635.7 1839.2,2636.5 1840.2,2635.6 1841.2,2636.5 1842.2,2635.8 1843.2,2634.8 1844.2,2635.2 1845.2,2636.2 1846.2,2636.2 1847.2,2637.0 1848.2,2637.2 1849.2,2637.3 1850.2,2637.6 1851.2,2637.7 1852.2,2638.1 1853.2,2637.9 1854.2,2636.2 1855.2,2637.2 1856.2,2636.6 1857.2,2636.8 1858.2,2636.3 1859.2,2637.1 1860.2,2636.8 1861.2,2637.3 1862.2,2636.8 1863.2,2636.4 1864.2,2636.8 1865.2,2638.5 1866.2,2636.9 1867.2,2637.5 1868.2,2637.1 1869.2,2636.4 1870.2,2637.0 1871.2,2637.0 1872.2,2637.3 1873.2,2636.5 1874.2,2637.1 1875.2,2636.6 1876.2,2636.8 1877.2,2637.1 1878.2,2637.9 1879.2,2637.5 1880.2,2637.0 1881.2,2636.3 1882.2,2636.3 1883.2,2636.6 1884.2,2635.9 1885.2,2636.7 1886.2,2636.1 1887.2,2637.2 1888.2,2636.1 1889.2,2636.3 1890.2,2636.6 1891.2,2637.0 1892.2,2637.1 1893.2,2638.3 1894.2,2637.0 1895.2,2637.6 1896.2,2636.7 1897.2,2636.9 1898.2,2636.3 1899.2,2636.8 1900.2,2639.0 1901.2,2637.6 1902.2,2637.6 1903.2,2638.2 1904.2,2638.6 1905.2,2638.2 1906.2,2637.8 1907.2,2637.1 1908.2,2637.5 1909.2,2636.9 1910.2,2637.0 1911.2,2637.1 1912.2,2636.4 1913.2,2636.6 1914.2,2636.1 1915.2,2636.1 1916.2,2637.4 1917.2,2636.4 1918.2,2637.0 1919.2,2637.1 1920.2,2636.1 1921.2,2637.4 1922.2,2637.0 1923.2,2637.6 1924.2,2637.4 1925.2,2637.3 1926.2,2638.5 1927.2,2638.2 1927.8,2638.0" stroke="#00AE68"/>
<polyline points="143.2,2679.7 144.2,2680.7 145.2,2680.0 146.2,2676.0 147.2,2677.2 148.2,2674.3 149.2,2672.4 150.2,2679.8 151.2,2677.8 152.2,2678.3 153.2,2679.6 154.2,2677.0 155.2,2676.5 156.2,2677.0 157.2,2676.6 158.2,2681.0 159.2,2682.2 160.2,2675.6 161.2,2680.0 162.2,2678.8 163.2,2683.2 164.2,2675.6 165.2,2681.0 166.2,2678.0 167.2,2682.3 168.2,2683.8 169.2,2683.1 170.2,2684.6 171.2,2683.6 172.2,2684.1 173.2,2686.5 174.2,2685.4 175.2,2685.4 176.2,2688.5 177.2,2687.3 178.2,2688.0 179.2,2686.5 180.2,2686.8 181.2,2689.3 182.2,2686.1 183.2,2691.6 184.2,2694.6 185.2,2693.6 186.2,2690.2 187.2,2693.8 188.2,2693.9 189.2,2694.6 190.2,2693.4 191.2,2698.8 192.2,2696.1 193.2,2700.5 194.2,2698.9 195.2,2699.4 196.2,2698.3 197.2,2703.9 198.2,2697.4 199.2,2700.6 200.2,2695.3 201.2,2702.2 202.2,2705.5 203.2,2704.8 204.2,2706.3 205.2,2707.0 206.2,2707.7 207.2,2705.1 208.2,2705.6 209.2,2709.2 210.2,2709.6 211.2,2711.8 212.2,2714.0 213.2,2718.1 214.2,2716.6 215.2,2717.6 216.2,2718.6 217.2,2715.6 218.2,2720.4 219.2,2723.6 220.2,2723.2 221.2,2723.7 222.2,2723.6 223.2,2725.3 224.2,2727.2 225.2,2733.3 226.2,2731.6 227.2,2730.5 228.2,2732.2 229.2,2734.8 230.2,2736.8 231.2,2736.3 232.2,2737.3 233.2,2738.5 234.2,2742.1 235.2,2742.7 236.2,2742.9 237.2,2744.0 238.2,2748.7 239.2,2746.1 240.2,2746.5 241.2,2751.3 242.2,2750.1 243.2,2754.5 244.2,2752.7 245.2,2757.2 246.2,2756.3 247.2,2755.6 248.2,2759.7 249.2,2762.0 250.2,2762.2 251.2,2763.3 252.2,2765.7 253.2,2768.5 254.2,2768.0 255.2,2767.5 256.2,2770.2 257.2,2771.0 258.2,2772.0 259.2,2773.3 260.2,2774.5 261.2,2774.7 262.2,2776.7 263.2,2779.1 264.2,2777.9 265.2,2781.1 266.2,2781.8 267.2,2783.6 268.2,2784.4 269.2,2784.5 270.2,2786.6 271.2,2785.6 272.2,2786.5 273.2,2788.9 274.2,2789.0 275.2,2789.5 276.2,2790.2 277.2,2792.0 278.2,2793.9 279.2,2793.3 280.2,2793.3 281.2,2793.3 282.2,2796.3 283.2,2795.3 284.2,2794.7 285.2,2799.0 286.2,2799.7 287.2,2797.6 288.2,2799.1 289.2,2799.2 290.2,2802.0 291.2,2802.8 292.2,2802.2 293.2,2802.8 294.2,2803.1 295.2,2804.2 296.2,2804.0 297.2,2803.7 298.2,2806.4 299.2,2804.9 300.2,2806.0 301.2,2804.6 302.2,2805.6 303.2,2807.5 304.2,2807.1 305.2,2806.8 306.2,2807.5 307.2,2808.8 308.2,2807.3 309.2,2808.2 310.2,2809.6 311.2,2811.2 312.2,2810.4 313.2,2811.8 314.2,2811.7 315.2,2811.6 316.2,2812.2 317.2,2812.4 318.2,2813.4 319.2,2812.7 320.2,2813.9 321.2,2812.7 322.2,2813.7 323.2,2814.6 324.2,2814.6 325.2,2815.4 326.2,2815.9 327.2,2816.3 328.2,2815.5 329.2,2817.0 330.2,2817.3 331.2,2817.9 332.2,2818.6 333.2,2818.7 334.2,2819.4 335.2,2819.5 336.2,2818.3 337.2,2819.2 338.2,2820.4 339.2,2818.9 340.2,2819.4 341.2,2819.5 342.2,2820.3 343.2,2819.4 344.2,2820.6 345.2,2821.8 346.2,2820.6 347.2,2821.3 348.2,2820.5 349.2,2820.1 350.2,2819.9 351.2,2822.1 352.2,2823.5 353.2,2823.1 354.2,2822.6 355.2,2823.8 356.2,2824.3 357.2,2823.7 358.2,2824.5 359.2,2823.5 360.2,2823.3 361.2,2823.8 362.2,2824.2 363.2,2825.2 364.2,2824.6 365.2,2824.8 366.2,2826.5 367.2,2826.8 368.2,2826.0 369.2,2827.6 370.2,2827.2 371.2,2827.2 372.2,2828.8 373.2,2828.3 374.2,2828.5 375.2,2827.7 376.2,2828.3 377.2,2828.0 378.2,2828.2 379.2,2828.7 380.2,2828.6 381.2,2827.9 382.2,2828.2 383.2,2827.4 384.2,2826.9 385.2,2827.6 386.2,2827.7 387.2,2826.6 388.2,2826.7 389.2,2827.7 390.2,2828.7 391.2,2828.9 392.2,2828.6 393.2,2827.9 394.2,2828.7 395.2,2829.2 396.2,2828.6 397.2,2829.0 398.2,2827.8 399.2,2827.9 400.2,2829.1 401.2,2827.4 402.2,2827.9 403.2,2828.7 404.2,2826.0 405.2,2828.0 406.2,2827.9 407.2,2828.8 408.2,2828.4 409.2,2828.3 410.2,2827.9 411.2,2828.0 412.2,2828.6 413.2,2829.3 414.2,2829.2 415.2,2829.0 416.2,2828.1 417.2,2826.8 418.2,2827.7 419.2,2827.8 420.2,2828.1 421.2,2828.6 422.2,2826.7 423.2,2827.5 424.2,2828.4 425.2,2828.7 426.2,2827.5 427.2,2826.9 428.2,2827.7 429.2,2827.8 430.2,2826.7 431.2,2828.3 432.2,2827.8 433.2,2826.7 434.2,2827.6 435.2,2827.4 436.2,2828.7 437.2,2827.9 438.2,2826.9 439.2,2825.8 440.2,2826.6 441.2,2827.6 442.2,2828.2 443.2,2827.8 444.2,2826.9 445.2,2825.8 446.2,2828.1 447.2,2828.1 448.2,2827.9 449.2,2827.8 450.2,2828.8 451.2,2827.3 452.2,2828.7 453.2,2828.5 454.2,2829.7 455.2,2829.5 456.2,2829.2 457.2,2828.7 458.2,2830.5 459.2,2828.2 460.2,2827.8 461.2,2828.3 462.2,2828.6 463.2,2829.1 464.2,2827.8 465.2,2828.5 466.2,2828.2 467.2,2827.1 468.2,2828.4 469.2,2829.1 470.2,2826.9 471.2,2827.6 472.2,2826.7 473.2,2826.1 474.2,2827.1 475.2,2828.3 476.2,2827.1 477.2,2825.7 478.2,2825.8 479.2,2827.8 480.2,2828.1 481.2,2826.0 482.2,2828.4 483.2,2828.1 484.2,2827.7 485.2,2827.6 486.2,2828.0 487.2,2827.4 488.2,2827.7 489.2,2827.4 490.2,2826.7 491.2,2827.3 492.2,2826.5 493.2,2827.8 494.2,2828.4 495.2,2828.1 496.2,2828.6 497.2,2826.5 498.2,2826.0 499.2,2827.1 500.2,2826.1 501.2,2827.9 502.2,2827.3 503.2,2827.9 504.2,2826.2 505.2,2825.8 506.2,2826.8 507.2,2827.2 508.2,2827.6 509.2,2828.4 510.2,2826.8 511.2,2828.7 512.2,2828.6 513.2,2827.7 514.2,2827.9 515.2,2828.4 516.2,2826.3 517.2,2826.6 518.2,2826.8 519.2,2826.7 520.2,2826.6 521.2,2827.3 522.2,2825.9 523.2,2828.0 524.2,2828.0 525.2,2827.5 526.2,2826.4 527.2,2826.0 528.2,2825.0 529.2,2826.7 530.2,2826.3 531.2,2826.4 532.2,2825.7 533.2,2826.8 534.2,2825.9 535.2,2825.1 536.2,2824.4 537.2,2825.5 538.2,2825.9 539.2,2824.5 540.2,2823.8 541.2,2824.5 542.2,2823.8 543.2,2824.2 544.2,2825.0 545.2,2826.2 546.2,2824.8 547.2,2826.4 548.2,2825.3 549.2,2826.2 550.2,2825.0 551.2,2826.2 552.2,2826.6 553.2,2824.4 554.2,2824.6 555.2,2823.8 556.2,2823.9 557.2,2824.3 558.2,2824.8 559.2,2825.3 560.2,2823.4 561.2,2825.4 562.2,2823.0 563.2,2824.8 564.2,2822.9 565.2,2823.4 566.2,2822.0 567.2,2823.1 568.2,2823.1 569.2,2823.5 570.2,2821.3 571.2,2821.8 572.2,2822.0 573.2,2822.0 574.2,2822.3 575.2,2822.3 576.2,2823.1 577.2,2821.8 578.2,2822.1 579.2,2823.1 580.2,2822.7 581.2,2821.3 582.2,2821.4 583.2,2820.7 584.2,2821.0 585.2,2820.1 586.2,2820.5 587.2,2820.3 588.2,2817.8 589.2,2818.2 590.2,2818.0 591.2,2815.2 592.2,2814.5 593.2,2813.7 594.2,2814.9 595.2,2812.7 596.2,2812.3 597.2,2810.8 598.2,2810.2 599.2,2808.5 600.2,2806.2 601.2,2805.5 602.2,2802.7 603.2,2801.3 604.2,2801.0 605.2,2800.2 606.2,2797.0 607.2,2796.1 608.2,2793.6 609.2,2790.4 610.2,2789.9 611.2,2786.8 612.2,2786.3 613.2,2784.3 614.2,2782.9 615.2,2781.1 616.2,2781.3 617.2,2779.7 618.2,2777.8 619.2,2779.0 620.2,2778.4 621.2,2780.0 622.2,2779.9 623.2,2779.9 624.2,2781.8 625.2,2782.8 626.2,2784.6 627.2,2786.4 628.2,2788.4 629.2,2789.5 630.2,2792.0 631.2,2793.3 632.2,2794.5 633.2,2797.1 634.2,2798.4 635.2,2800.8 636.2,2802.7 637.2,2805.1 638.2,2805.5 639.2,2808.1 640.2,2809.8 641.2,2812.0 642.2,2812.3 643.2,2815.0 644.2,2815.8 645.2,2816.1 646.2,2817.0 647.2,2818.1 648.2,2818.2 649.2,2821.1 650.2,2821.5 651.2,2823.2 652.2,2824.1 653.2,2825.5 654.2,2826.7 655.2,2826.5 656.2,2825.1 657.2,2827.0 658.2,2826.3 659.2,2826.9 660.2,2827.6 661.2,2827.6 662.2,2828.0 663.2,2828.8 664.2,2828.2 665.2,2828.4 666.2,2830.2 667.2,2829.3 668.2,2828.4 669.2,2831.6 670.2,2831.1 671.2,2829.9 672.2,2831.5 673.2,2830.7 674.2,2831.6 675.2,2831.0 676.2,2830.2 677.2,2832.0 678.2,2832.1 679.2,2830.7 680.2,2831.2 681.2,2831.7 682.2,2831.2 683.2,2831.7 684.2,2831.0 685.2,2831.2 686.2,2831.4 687.2,2831.1 688.2,2831.7 689.2,2832.5 690.2,2833.2 691.2,2832.5 692.2,2833.5 693.2,2833.2 694.2,2833.6 695.2,2833.8 696.2,2834.6 697.2,2831.4 698.2,2832.7 699.2,2831.6 700.2,2832.4 701.2,2832.1 702.2,2833.4 703.2,2832.1 704.2,2833.3 705.2,2834.7 706.2,2832.7 707.2,2833.4 708.2,2833.1 709.2,2834.0 710.2,2833.3 711.2,2833.2 712.2,2834.1 713.2,2831.6 714.2,2832.8 715.2,2833.8 716.2,2834.0 717.2,2832.8 718.2,2833.5 719.2,2834.3 720.2,2834.0 721.2,2832.9 722.2,2834.2 723.2,2832.5 724.2,2832.8 725.2,2833.3 726.2,2833.2 727.2,2834.2 728.2,2832.5 729.2,2833.3 730.2,2834.9 731.2,2834.8 732.2,2835.3 733.2,2835.1 734.2,2834.0 735.2,2834.5 736.2,2834.1 737.2,2833.3 738.2,2833.2 739.2,2833.2 740.2,2834.1 741.2,2833.8 742.2,2832.3 743.2,2832.7 744.2,2832.6 745.2,2832.0 746.2,2831.5 747.2,2832.5 748.2,2832.9 749.2,2832.9 750.2,2833.6 751.2,2833.4 752.2,2834.0 753.2,2833.9 754.2,2833.8 755.2,2834.2 756.2,2833.3 757.2,2834.6 758.2,2833.4 759.2,2834.5 760.2,2834.6 761.2,2834.8 762.2,2834.6 763.2,2834.6 764.2,2832.5 765.2,2833.2 766.2,2835.0 767.2,2832.8 768.2,2833.0 769.2,2833.7 770.2,2833.7 771.2,2833.3 772.2,2833.7 773.2,2833.1 774.2,2834.4 775.2,2832.9 776.2,2833.7 777.2,2833.4 778.2,2833.3 779.2,2833.6 780.2,2833.2 781.2,2833.5 782.2,2833.4 783.2,2832.7 784.2,2834.8 785.2,2833.6 786.2,2834.1 787.2,2834.1 788.2,2834.4 789.2,2834.8 790.2,2835.3 791.2,2835.7 792.2,2834.9 793.2,2834.5 794.2,2834.2 795.2,2834.5 796.2,2834.1 797.2,2834.3 798.2,2833.9 799.2,2833.9 800.2,2831.9 801.2,2833.7 802.2,2833.3 803.2,2833.4 804.2,2833.2 805.2,2834.1 806.2,2834.0 807.2,2834.4 808.2,2834.4 809.2,2835.4 810.2,2834.6 811.2,2834.0 812.2,2834.6 813.2,2834.7 814.2,2834.0 815.2,2833.8 816.2,2833.0 817.2,2834.3 818.2,2833.0 819.2,2833.5 820.2,2833.6 821.2,2834.8 822.2,2834.9 823.2,2835.5 824.2,2835.2 825.2,2835.6 826.2,2834.8 827.2,2835.9 828.2,2835.9 829.2,2834.9 830.2,2834.2 831.2,2834.3 832.2,2833.1 833.2,2833.4 834.2,2834.8 835.2,2834.4 836.2,2833.0 837.2,2833.8 838.2,2833.8 839.2,2834.6 840.2,2834.3 841.2,2834.4 842.2,2835.1 843.2,2834.1 844.2,2834.2 845.2,2834.5 846.2,2834.8 847.2,2834.5 848.2,2835.3 849.2,2834.5 850.2,2834.7 851.2,2834.7 852.2,2835.3 853.2,2834.8 854.2,2834.9 855.2,2835.6 856.2,2835.4 857.2,2836.0 858.2,2837.0 859.2,2835.9 860.2,2836.5 861.2,2835.9 862.2,2837.0 863.2,2836.2 864.2,2836.0 865.2,2836.4 866.2,2836.5 867.2,2836.4 868.2,2836.0 869.2,2836.8 870.2,2836.7 871.2,2835.6 872.2,2836.4 873.2,2835.8 874.2,2836.9 875.2,2836.2 876.2,2835.9 877.2,2836.1 878.2,2835.9 879.2,2835.7 880.2,2835.2 881.2,2835.2 882.2,2835.7 883.2,2834.4 884.2,2835.4 885.2,2835.0 886.2,2835.6 887.2,2835.2 888.2,2835.1 889.2,2836.5 890.2,2835.7 891.2,2836.0 892.2,2835.1 893.2,2835.2 894.2,2836.4 895.2,2835.4 896.2,2835.5 897.2,2835.2 898.2,2835.8 899.2,2835.4 900.2,2836.0 901.2,2834.7 902.2,2834.5 903.2,2834.8 904.2,2835.0 905.2,2833.9 906.2,2835.2 907.2,2835.8 908.2,2835.9 909.2,2836.1 910.2,2837.0 911.2,2837.3 912.2,2837.2 913.2,2837.7 914.2,2837.4 915.2,2837.3 916.2,2836.3 917.2,2836.9 918.2,2837.6 919.2,2835.2 920.2,2835.8 921.2,2836.4 922.2,2837.8 923.2,2837.5 924.2,2836.4 925.2,2836.0 926.2,2834.9 927.2,2834.4 928.2,2835.5 929.2,2836.1 930.2,2834.8 931.2,2835.8 932.2,2835.9 933.2,2836.6 934.2,2836.4 935.2,2836.6 936.2,2835.5 937.2,2835.7 938.2,2835.6 939.2,2835.9 940.2,2835.6 941.2,2837.0 942.2,2835.9 943.2,2836.4 944.2,2837.7 945.2,2838.9 946.2,2837.9 947.2,2837.9 948.2,2838.2 949.2,2838.2 950.2,2836.4 951.2,2836.7 952.2,2836.8 953.2,2836.1 954.2,2836.2 955.2,2837.8 956.2,2837.2 957.2,2836.7 958.2,2836.7 959.2,2835.7 960.2,2836.4 961.2,2836.9 962.2,2836.4 963.2,2836.7 964.2,2836.3 965.2,2836.7 966.2,2836.9 967.2,2837.4 968.2,2837.9 969.2,2837.3 970.2,2838.2 971.2,2837.9 972.2,2837.2 973.2,2837.7 974.2,2837.5 975.2,2836.7 976.2,2835.8 977.2,2836.7 978.2,2836.9 979.2,2836.5 980.2,2837.0 981.2,2836.4 982.2,2837.1 983.2,2837.4 984.2,2837.5 985.2,2836.8 986.2,2837.9 987.2,2837.1 988.2,2837.9 989.2,2837.5 990.2,2836.4 991.2,2837.8 992.2,2836.6 993.2,2837.4 994.2,2837.1 995.2,2836.9 996.2,2837.4 997.2,2836.3 998.2,2836.8 999.2,2836.7 1000.2,2837.3 1001.2,2837.6 1002.2,2838.2 1003.2,2838.6 1004.2,2838.9 1005.2,2837.7 1006.2,2838.7 1007.2,2838.8 1008.2,2839.0 1009.2,2839.0 1010.2,2838.3 1011.2,2837.9 1012.2,2839.1 1013.2,2838.3 1014.2,2838.4 1015.2,2838.3 1016.2,2838.5 1017.2,2838.0 1018.2,2838.5 1019.2,2838.7 1020.2,2838.5 1021.2,2838.6 1022.2,2838.7 1023.2,2838.6 1024.2,2837.6 1025.2,2837.9 1026.2,2838.7 1027.2,2837.9 1028.2,2838.9 1029.2,2839.6 1030.2,2839.3 1031.2,2838.8 1032.2,2838.3 1033.2,2838.4 1034.2,2838.8 1035.2,2838.2 1036.2,2838.7 1037.2,2839.4 1038.2,2839.6 1039.2,2839.3 1040.2,2839.5 1041.2,2838.4 1042.2,2839.4 1043.2,2838.2 1044.2,2838.8 1045.2,2838.0 1046.2,2838.3 1047.2,2839.4 1048.2,2838.8 1049.2,2839.0 1050.2,2838.9 1051.2,2839.2 1052.2,2840.1 1053.2,2838.7 1054.2,2839.9 1055.2,2840.4 1056.2,2840.2 1057.2,2839.0 1058.2,2840.6 1059.2,2840.3 1060.2,2839.6 1061.2,2840.8 1062.2,2840.7 1063.2,2839.0 1064.2,2839.8 1065.2,2840.3 1066.2,2838.8 1067.2,2839.2 1068.2,2840.4 1069.2,2841.4 1070.2,2841.7 1071.2,2839.9 1072.2,2840.3 1073.2,2839.5 1074.2,2839.4 1075.2,2839.0 1076.2,2838.7 1077.2,2839.0 1078.2,2837.2 1079.2,2837.4 1080.2,2838.9 1081.2,2839.0 1082.2,2838.8 1083.2,2838.4 1084.2,2838.3 1085.2,2837.2 1086.2,2838.3 1087.2,2838.5 1088.2,2837.4 1089.2,2836.8 1090.2,2836.3 1091.2,2836.1 1092.2,2835.2 1093.2,2834.8 1094.2,2835.4 1095.2,2834.6 1096.2,2833.8 1097.2,2836.6 1098.2,2834.9 1099.2,2834.5 1100.2,2834.8 1101.2,2834.5 1102.2,2834.7 1103.2,2834.2 1104.2,2833.4 1105.2,2834.3 1106.2,2833.6 1107.2,2833.0 1108.2,2833.6 1109.2,2832.9 1110.2,2833.1 1111.2,2832.9 1112.2,2832.4 1113.2,2833.3 1114.2,2833.8 1115.2,2833.7 1116.2,2832.4 1117.2,2833.5 1118.2,2832.7 1119.2,2834.3 1120.2,2834.8 1121.2,2833.2 1122.2,2833.9 1123.2,2832.9 1124.2,2833.6 1125.2,2834.2 1126.2,2834.2 1127.2,2833.9 1128.2,2834.6 1129.2,2833.6 1130.2,2834.4 1131.2,2833.2 1132.2,2833.3 1133.2,2833.4 1134.2,2833.8 1135.2,2833.1 1136.2,2831.1 1137.2,2833.0 1138.2,2833.7 1139.2,2831.7 1140.2,2832.2 1141.2,2833.7 1142.2,2833.2 1143.2,2832.6 1144.2,2833.3 1145.2,2832.5 1146.2,2830.5 1147.2,2830.3 1148.2,2830.1 1149.2,2830.7 1150.2,2831.4 1151.2,2831.0 1152.2,2829.7 1153.2,2829.3 1154.2,2828.7 1155.2,2828.4 1156.2,2829.3 1157.2,2827.3 1158.2,2826.3 1159.2,2827.8 1160.2,2825.2 1161.2,2824.3 1162.2,2823.9 1163.2,2822.2 1164.2,2821.3 1165.2,2818.6 1166.2,2816.1 1167.2,2813.8 1168.2,2809.0 1169.2,2804.9 1170.2,2800.8 1171.2,2791.6 1172.2,2781.3 1173.2,2769.8 1174.2,2754.8 1175.2,2739.4 1176.2,2724.5 1177.2,2707.2 1178.2,2691.8 1179.2,2679.4 1180.2,2670.8 1181.2,2670.5 1182.2,2675.1 1183.2,2685.1 1184.2,2700.4 1185.2,2718.1 1186.2,2735.4 1187.2,2749.7 1188.2,2764.8 1189.2,2778.4 1190.2,2789.3 1191.2,2799.5 1192.2,2803.8 1193.2,2809.6 1194.2,2814.3 1195.2,2818.7 1196.2,2820.6 1197.2,2823.6 1198.2,2824.6 1199.2,2825.5 1200.2,2827.4 1201.2,2828.9 1202.2,2830.2 1203.2,2831.9 1204.2,2830.8 1205.2,2832.3 1206.2,2832.8 1207.2,2833.7 1208.2,2834.6 1209.2,2834.5 1210.2,2834.0 1211.2,2835.6 1212.2,2836.2 1213.2,2835.1 1214.2,2836.6 1215.2,2835.7 1216.2,2837.1 1217.2,2837.0 1218.2,2836.9 1219.2,2838.1 1220.2,2839.2 1221.2,2838.5 1222.2,2839.1 1223.2,2839.3 1224.2,2839.6 1225.2,2840.9 1226.2,2839.6 1227.2,2839.4 1228.2,2839.3 1229.2,2839.7 1230.2,2839.5 1231.2,2839.2 1232.2,2839.5 1233.2,2839.1 1234.2,2839.1 1235.2,2839.1 1236.2,2839.2 1237.2,2839.5 1238.2,2839.7 1239.2,2839.3 1240.2,2838.8 1241.2,2839.2 1242.2,2840.0 1243.2,2839.5 1244.2,2841.1 1245.2,2839.7 1246.2,2840.8 1247.2,2840.7 1248.2,2840.4 1249.2,2841.1 1250.2,2841.3 1251.2,2841.1 1252.2,2840.6 1253.2,2840.5 1254.2,2841.0 1255.2,2840.9 1256.2,2840.0 1257.2,2841.9 1258.2,2841.1 1259.2,2841.7 1260.2,2843.1 1261.2,2841.8 1262.2,2843.0 1263.2,2843.0 1264.2,2842.8 1265.2,2842.8 1266.2,2841.5 1267.2,2842.1 1268.2,2841.7 1269.2,2842.1 1270.2,2842.1 1271.2,2841.5 1272.2,2841.7 1273.2,2842.2 1274.2,2842.8 1275.2,2842.4 1276.2,2843.1 1277.2,2842.2 1278.2,2842.1 1279.2,2843.0 1280.2,2842.6 1281.2,2843.1 1282.2,2843.0 1283.2,2843.3 1284.2,2843.0 1285.2,2842.7 1286.2,2844.3 1287.2,2843.9 1288.2,2843.6 1289.2,2843.2 1290.2,2842.5 1291.2,2842.3 1292.2,2842.2 1293.2,2842.0 1294.2,2842.5 1295.2,2841.6 1296.2,2843.0 1297.2,2842.5 1298.2,2842.3 1299.2,2842.1 1300.2,2842.6 1301.2,2841.4 1302.2,2842.0 1303.2,2841.8 1304.2,2842.3 1305.2,2841.6 1306.2,2841.7 1307.2,2841.8 1308.2,2841.9 1309.2,2841.1 1310.2,2842.6 1311.2,2842.6 1312.2,2841.5 1313.2,2841.2 1314.2,2842.0 1315.2,2842.5 1316.2,2841.8 1317.2,2841.7 1318.2,2841.2 1319.2,2842.5 1320.2,2842.0 1321.2,2841.8 1322.2,2842.2 1323.2,2842.7 1324.2,2843.3 1325.2,2843.6 1326.2,2843.9 1327.2,2843.5 1328.2,2844.0 1329.2,2843.7 1330.2,2843.4 1331.2,2842.7 1332.2,2842.8 1333.2,2843.6 1334.2,2843.7 1335.2,2843.6 1336.2,2843.9 1337.2,2842.4 1338.2,2843.3 1339.2,2842.9 1340.2,2842.9 1341.2,2842.8 1342.2,2844.0 1343.2,2843.1 1344.2,2843.0 1345.2,2843.6 1346.2,2843.2 1347.2,2842.0 1348.2,2842.5 1349.2,2843.1 1350.2,2842.8 1351.2,2842.9 1352.2,2843.0 1353.2,2843.6 1354.2,2843.2 1355.2,2843.3 1356.2,2843.6 1357.2,2843.9 1358.2,2843.0 1359.2,2843.0 1360.2,2842.8 1361.2,2842.9 1362.2,2842.6 1363.2,2842.8 1364.2,2843.2 1365.2,2843.9 1366.2,2844.1 1367.2,2843.8 1368.2,2842.9 1369.2,2843.2 1370.2,2843.6 1371.2,2843.0 1372.2,2843.5 1373.2,2842.5 1374.2,2842.9 1375.2,2843.8 1376.2,2843.5 1377.2,2843.8 1378.2,2844.1 1379.2,2843.4 1380.2,2843.9 1381.2,2843.2 1382.2,2843.5 1383.2,2842.7 1384.2,2843.7 1385.2,2843.6 1386.2,2843.2 1387.2,2843.5 1388.2,2843.8 1389.2,2843.4 1390.2,2844.0 1391.2,2842.7 1392.2,2842.5 1393.2,2842.9 1394.2,2843.5 1395.2,2843.2 1396.2,2843.6 1397.2,2842.9 1398.2,2842.0 1399.2,2842.1 1400.2,2842.3 1401.2,2842.1 1402.2,2842.2 1403.2,2842.8 1404.2,2842.2 1405.2,2842.3 1406.2,2843.7 1407.2,2843.7 1408.2,2843.1 1409.2,2844.2 1410.2,2844.5 1411.2,2843.9 1412.2,2844.2 1413.2,2844.2 1414.2,2844.9 1415.2,2844.1 1416.2,2843.9 1417.2,2842.1 1418.2,2844.7 1419.2,2842.9 1420.2,2843.9 1421.2,2843.6 1422.2,2844.1 1423.2,2843.9 1424.2,2843.3 1425.2,2843.1 1426.2,2843.9 1427.2,2844.4 1428.2,2844.4 1429.2,2844.6 1430.2,2843.6 1431.2,2844.0 1432.2,2843.2 1433.2,2844.4 1434.2,2842.7 1435.2,2843.4 1436.2,2842.4 1437.2,2844.4 1438.2,2844.3 1439.2,2844.5 1440.2,2844.2 1441.2,2844.9 1442.2,2844.4 1443.2,2844.7 1444.2,2843.7 1445.2,2844.1 1446.2,2844.3 1447.2,2843.0 1448.2,2843.8 1449.2,2843.7 1450.2,2843.3 1451.2,2843.9 1452.2,2844.0 1453.2,2844.3 1454.2,2844.4 1455.2,2844.3 1456.2,2845.2 1457.2,2845.2 1458.2,2844.7 1459.2,2846.4 1460.2,2843.4 1461.2,2845.1 1462.2,2844.4 1463.2,2843.7 1464.2,2844.8 1465.2,2842.9 1466.2,2844.0 1467.2,2844.1 1468.2,2843.9 1469.2,2843.7 1470.2,2844.0 1471.2,2843.0 1472.2,2843.5 1473.2,2843.5 1474.2,2843.0 1475.2,2844.0 1476.2,2843.8 1477.2,2844.6 1478.2,2845.5 1479.2,2844.6 1480.2,2845.3 1481.2,2844.3 1482.2,2845.2 1483.2,2844.8 1484.2,2844.8 1485.2,2845.2 1486.2,2844.6 1487.2,2844.5 1488.2,2845.4 1489.2,2845.6 1490.2,2845.4 1491.2,2844.9 1492.2,2845.2 1493.2,2844.6 1494.2,2844.8 1495.2,2844.7 1496.2,2845.0 1497.2,2844.2 1498.2,2845.0 1499.2,2845.0 1500.2,2846.6 1501.2,2844.9 1502.2,2843.7 1503.2,2845.2 1504.2,2845.1 1505.2,2844.1 1506.2,2843.3 1507.2,2843.9 1508.2,2843.8 1509.2,2844.3 1510.2,2844.7 1511.2,2845.0 1512.2,2845.7 1513.2,2845.4 1514.2,2845.0 1515.2,2845.8 1516.2,2844.5 1517.2,2845.4 1518.2,2845.9 1519.2,2845.3 1520.2,2845.5 1521.2,2844.4 1522.2,2845.2 1523.2,2844.6 1524.2,2844.4 1525.2,2844.7 1526.2,2844.5 1527.2,2843.3 1528.2,2843.9 1529.2,2843.1 1530.2,2843.5 1531.2,2844.3 1532.2,2843.8 1533.2,2843.6 1534.2,2843.6 1535.2,2844.9 1536.2,2845.3 1537.2,2845.3 1538.2,2844.5 1539.2,2844.7 1540.2,2846.4 1541.2,2845.5 1542.2,2846.3 1543.2,2846.2 1544.2,2845.7 1545.2,2845.1 1546.2,2846.0 1547.2,2845.8 1548.2,2845.2 1549.2,2844.8 1550.2,2844.7 1551.2,2844.5 1552.2,2845.0 1553.2,2844.0 1554.2,2844.8 1555.2,2844.7 1556.2,2845.1 1557.2,2843.0 1558.2,2845.1 1559.2,2844.5 1560.2,2844.5 1561.2,2845.1 1562.2,2845.5 1563.2,2845.2 1564.2,2845.7 1565.2,2845.1 1566.2,2845.1 1567.2,2844.0 1568.2,2844.6 1569.2,2845.7 1570.2,2844.4 1571.2,2845.3 1572.2,2844.7 1573.2,2843.7 1574.2,2844.6 1575.2,2844.9 1576.2,2844.5 1577.2,2845.2 1578.2,2845.9 1579.2,2844.7 1580.2,2844.4 1581.2,2845.0 1582.2,2844.7 1583.2,2845.3 1584.2,2844.8 1585.2,2844.7 1586.2,2845.5 1587.2,2844.0 1588.2,2845.4 1589.2,2846.1 1590.2,2844.7 1591.2,2846.0 1592.2,2846.8 1593.2,2846.3 1594.2,2846.6 1595.2,2847.2 1596.2,2846.7 1597.2,2847.3 1598.2,2846.7 1599.2,2845.4 1600.2,2845.2 1601.2,2843.8 1602.2,2844.9 1603.2,2843.9 1604.2,2844.1 1605.2,2843.9 1606.2,2844.0 1607.2,2844.3 1608.2,2845.1 1609.2,2845.6 1610.2,2844.7 1611.2,2845.6 1612.2,2844.9 1613.2,2845.2 1614.2,2844.9 1615.2,2844.7 1616.2,2844.4 1617.2,2844.3 1618.2,2843.6 1619.2,2844.2 1620.2,2845.0 1621.2,2844.2 1622.2,2845.0 1623.2,2845.6 1624.2,2846.2 1625.2,2846.4 1626.2,2846.6 1627.2,2845.5 1628.2,2846.9 1629.2,2845.3 1630.2,2845.7 1631.2,2845.7 1632.2,2845.6 1633.2,2845.8 1634.2,2845.3 1635.2,2845.1 1636.2,2844.5 1637.2,2845.4 1638.2,2844.7 1639.2,2844.1 1640.2,2844.6 1641.2,2844.7 1642.2,2845.2 1643.2,2845.2 1644.2,2845.1 1645.2,2845.5 1646.2,2846.2 1647.2,2845.5 1648.2,2844.8 1649.2,2845.7 1650.2,2845.8 1651.2,2846.4 1652.2,2846.7 1653.2,2846.4 1654.2,2846.0 1655.2,2845.1 1656.2,2846.3 1657.2,2846.5 1658.2,2845.5 1659.2,2845.3 1660.2,2844.6 1661.2,2845.4 1662.2,2844.9 1663.2,2845.7 1664.2,2846.5 1665.2,2845.8 1666.2,2845.8 1667.2,2846.1 1668.2,2845.9 1669.2,2846.5 1670.2,2845.9 1671.2,2845.9 1672.2,2845.3 1673.2,2844.5 1674.2,2846.6 1675.2,2845.7 1676.2,2845.4 1677.2,2846.2 1678.2,2847.0 1679.2,2847.2 1680.2,2846.4 1681.2,2846.5 1682.2,2847.3 1683.2,2845.8 1684.2,2846.0 1685.2,2846.3 1686.2,2845.6 1687.2,2845.5 1688.2,2844.9 1689.2,2845.7 1690.2,2845.4 1691.2,2844.3 1692.2,2844.2 1693.2,2844.9 1694.2,2845.3 1695.2,2845.7 1696.2,2845.5 1697.2,2845.7 1698.2,2845.1 1699.2,2846.4 1700.2,2846.3 1701.2,2845.2 1702.2,2845.2 1703.2,2845.4 1704.2,2846.0 1705.2,2846.1 1706.2,2844.5 1707.2,2844.9 1708.2,2845.3 1709.2,2845.6 1710.2,2845.0 1711.2,2845.7 1712.2,2845.3 1713.2,2844.7 1714.2,2844.7 1715.2,2845.7 1716.2,2845.0 1717.2,2845.2 1718.2,2845.6 1719.2,2844.4 1720.2,2844.6 1721.2,2846.2 1722.2,2845.9 1723.2,2845.3 1724.2,2844.6 1725.2,2845.5 1726.2,2844.9 1727.2,2845.7 1728.2,2845.5 1729.2,2846.4 1730.2,2846.6 1731.2,2846.9 1732.2,2845.9 1733.2,2845.7 1734.2,2846.7 1735.2,2847.7 1736.2,2846.1 1737.2,2846.0 1738.2,2846.9 1739.2,2847.0 1740.2,2847.4 1741.2,2847.0 1742.2,2846.6 1743.2,2847.2 1744.2,2846.7 1745.2,2846.8 1746.2,2845.5 1747.2,2847.0 1748.2,2847.7 1749.2,2847.5 1750.2,2847.0 1751.2,2846.9 1752.2,2845.5 1753.2,2845.9 1754.2,2845.9 1755.2,2846.3 1756.2,2846.7 1757.2,2847.0 1758.2,2846.9 1759.2,2846.7 1760.2,2847.1 1761.2,2847.4 1762.2,2845.9 1763.2,2846.6 1764.2,2845.9 1765.2,2846.0 1766.2,2844.9 1767.2,2845.8 1768.2,2845.4 1769.2,2845.3 1770.2,2844.6 1771.2,2846.2 1772.2,2846.1 1773.2,2845.1 1774.2,2844.6 1775.2,2844.3 1776.2,2844.0 1777.2,2844.2 1778.2,2843.7 1779.2,2843.4 1780.2,2842.6 1781.2,2842.7 1782.2,2842.1 1783.2,2842.1 1784.2,2843.3 1785.2,2841.0 1786.2,2842.4 1787.2,2842.0 1788.2,2843.2 1789.2,2842.3 1790.2,2843.7 1791.2,2843.6 1792.2,2844.2 1793.2,2843.7 1794.2,2844.4 1795.2,2844.2 1796.2,2844.7 1797.2,2844.6 1798.2,2846.1 1799.2,2845.7 1800.2,2846.4 1801.2,2847.2 1802.2,2847.0 1803.2,2847.2 1804.2,2848.2 1805.2,2848.1 1806.2,2847.9 1807.2,2847.9 1808.2,2847.8 1809.2,2848.0 1810.2,2848.0 1811.2,2848.4 1812.2,2847.0 1813.2,2847.7 1814.2,2848.0 1815.2,2847.5 1816.2,2847.5 1817.2,2847.6 1818.2,2848.1 1819.2,2846.9 1820.2,2848.4 1821.2,2847.7 1822.2,2848.1 1823.2,2848.5 1824.2,2848.1 1825.2,2849.2 1826.2,2848.0 1827.2,2847.6 1828.2,2848.2 1829.2,2848.9 1830.2,2849.6 1831.2,2848.9 1832.2,2848.3 1833.2,2848.4 1834.2,2847.9 1835.2,2849.7 1836.2,2848.7 1837.2,2849.0 1838.2,2848.3 1839.2,2849.4 1840.2,2848.8 1841.2,2848.9 1842.2,2849.4 1843.2,2849.5 1844.2,2849.6 1845.2,2848.4 1846.2,2848.6 1847.2,2849.2 1848.2,2848.2 1849.2,2849.3 1850.2,2848.7 1851.2,2847.9 1852.2,2848.1 1853.2,2848.8 1854.2,2847.9 1855.2,2847.2 1856.2,2848.0 1857.2,2846.8 1858.2,2847.0 1859.2,2847.4 1860.2,2848.1 1861.2,2847.5 1862.2,2848.6 1863.2,2847.5 1864.2,2848.7 1865.2,2849.0 1866.2,2847.7 1867.2,2848.7 1868.2,2847.9 1869.2,2847.8 1870.2,2847.9 1871.2,2848.9 1872.2,2849.2 1873.2,2848.6 1874.2,2848.1 1875.2,2847.8 1876.2,2847.6 1877.2,2848.3 1878.2,2849.5 1879.2,2848.4 1880.2,2849.3 1881.2,2848.8 1882.2,2849.4 1883.2,2849.6 1884.2,2848.6 1885.2,2849.7 1886.2,2849.4 1887.2,2849.4 1888.2,2849.3 1889.2,2849.7 1890.2,2849.7 1891.2,2849.1 1892.2,2848.4 1893.2,2849.1 1894.2,2848.3 1895.2,2848.6 1896.2,2847.8 1897.2,2847.8 1898.2,2848.1 1899.2,2848.1 1900.2,2848.2 1901.2,2848.8 1902.2,2848.9 1903.2,2848.7 1904.2,2848.1 1905.2,2847.1 1906.2,2847.5 1907.2,2848.2 1908.2,2848.3 1909.2,2848.7 1910.2,2848.8 1911.2,2849.1 1912.2,2848.4 1913.2,2849.0 1914.2,2848.5 1915.2,2848.8 1916.2,2848.0 1917.2,2849.0 1918.2,2848.7 1919.2,2848.3 1920.2,2849.9 1921.2,2848.7 1922.2,2849.9 1923.2,2848.5 1924.2,2848.5 1925.2,2849.6 1926.2,2849.3 1927.2,2850.6 1927.8,2850.5" stroke="#006EE6"/>
<polyline points="143.2,2939.0 144.2,2940.1 145.2,2943.4 146.2,2940.3 147.2,2942.4 148.2,2944.0 149.2,2945.1 150.2,2943.8 151.2,2941.3 152.2,2942.6 153.2,2943.8 154.2,2942.1 155.2,2940.9 156.2,2945.2 157.2,2947.0 158.2,2943.1 159.2,2938.7 160.2,2948.8 161.2,2942.7 162.2,2943.4 163.2,2944.2 164.2,2942.2 165.2,2946.2 166.2,2945.0 167.2,2945.7 168.2,2944.6 169.2,2944.0 170.2,2947.1 171.2,2942.7 172.2,2943.3 173.2,2946.2 174.2,2946.1 175.2,2943.2 176.2,2943.9 177.2,2944.2 178.2,2949.2 179.2,2945.0 180.2,2944.3 181.2,2944.0 182.2,2948.1 183.2,2945.9 184.2,2947.9 185.2,2952.6 186.2,2950.0 187.2,2945.4 188.2,2951.8 189.2,2947.4 190.2,2950.1 191.2,2953.5 192.2,2950.9 193.2,2950.3 194.2,2955.5 195.2,2948.5 196.2,2953.3 197.2,2956.0 198.2,2955.9 199.2,2952.2 200.2,2956.9 201.2,2959.3 202.2,2953.5 203.2,2958.4 204.2,2959.5 205.2,2962.9 206.2,2963.0 207.2,2961.0 208.2,2961.9 209.2,2965.3 210.2,2961.9 211.2,2968.9 212.2,2970.5 213.2,2971.0 214.2,2969.7 215.2,2970.1 216.2,2970.2 217.2,2973.0 218.2,2976.5 219.2,2975.6 220.2,2976.2 221.2,2980.2 222.2,2979.8 223.2,2981.9 224.2,2981.5 225.2,2985.9 226.2,2986.5 227.2,2985.2 228.2,2990.7 229.2,2989.8 230.2,2992.6 231.2,2993.2 232.2,2990.8 233.2,2994.2 234.2,3000.3 235.2,2998.1 236.2,2999.1 237.2,3000.8 238.2,3002.0 239.2,3004.9 240.2,3008.9 241.2,3007.0 242.2,3007.1 243.2,3010.2 244.2,3009.0 245.2,3011.4 246.2,3015.1 247.2,3014.5 248.2,3013.1 249.2,3018.6 250.2,3015.7 251.2,3019.3 252.2,3018.3 253.2,3018.6 254.2,3020.3 255.2,3021.6 256.2,3024.1 257.2,3023.9 258.2,3025.8 259.2,3024.9 260.2,3029.3 261.2,3030.2 262.2,3028.9 263.2,3030.3 264.2,3031.4 265.2,3030.9 266.2,3031.0 267.2,3035.3 268.2,3036.2 269.2,3039.8 270.2,3039.3 271.2,3042.1 272.2,3042.2 273.2,3041.4 274.2,3045.5 275.2,3045.2 276.2,3045.0 277.2,3047.7 278.2,3044.8 279.2,3047.7 280.2,3048.8 281.2,3048.8 282.2,3050.3 283.2,3048.8 284.2,3050.5 285.2,3051.2 286.2,3051.0 287.2,3053.2 288.2,3050.6 289.2,3052.6 290.2,3051.7 291.2,3052.6 292.2,3052.6 293.2,3052.4 294.2,3054.7 295.2,3053.0 296.2,3055.3 297.2,3057.1 298.2,3056.2 299.2,3057.8 300.2,3057.7 301.2,3056.7 302.2,3058.9 303.2,3060.2 304.2,3059.8 305.2,3061.8 306.2,3059.6 307.2,3061.1 308.2,3062.1 309.2,3061.4 310.2,3062.1 311.2,3061.9 312.2,3061.9 313.2,3063.5 314.2,3065.5 315.2,3063.0 316.2,3063.7 317.2,3064.6 318.2,3064.1 319.2,3066.2 320.2,3065.6 321.2,3067.3 322.2,3066.1 323.2,3065.2 324.2,3066.8 325.2,3064.9 326.2,3067.2 327.2,3065.7 328.2,3066.0 329.2,3066.3 330.2,3068.0 331.2,3067.0 332.2,3068.6 333.2,3068.2 334.2,3067.8 335.2,3068.0 336.2,3067.5 337.2,3068.0 338.2,3067.5 339.2,3068.4 340.2,3067.8 341.2,3069.1 342.2,3068.9 343.2,3069.0 344.2,3070.0 345.2,3068.7 346.2,3070.1 347.2,3069.7 348.2,3067.8 349.2,3069.6 350.2,3070.3 351.2,3070.0 352.2,3071.8 353.2,3070.3 354.2,3071.4 355.2,3071.6 356.2,3073.6 357.2,3073.1 358.2,3071.9 359.2,3074.2 360.2,3074.4 361.2,3074.0 362.2,3071.8 363.2,3072.7 364.2,3073.2 365.2,3073.6 366.2,3074.1 367.2,3073.7 368.2,3074.4 369.2,3073.9 370.2,3073.0 371.2,3073.8 372.2,3073.3 373.2,3073.8 374.2,3075.0 375.2,3075.4 376.2,3075.2 377.2,3073.8 378.2,3074.2 379.2,3075.4 380.2,3075.8 381.2,3073.9 382.2,3073.9 383.2,3074.6 384.2,3074.6 385.2,3074.4 386.2,3073.5 387.2,3075.1 388.2,3073.2 389.2,3075.1 390.2,3075.8 391.2,3076.6 392.2,3076.5 393.2,3077.5 394.2,3077.0 395.2,3075.9 396.2,3076.8 397.2,3077.2 398.2,3076.1 399.2,3078.4 400.2,3075.7 401.2,3077.0 402.2,3077.6 403.2,3076.2 404.2,3077.5 405.2,3075.4 406.2,3075.2 407.2,3076.4 408.2,3076.6 409.2,3077.0 410.2,3076.9 411.2,3077.0 412.2,3077.2 413.2,3076.8 414.2,3076.8 415.2,3076.0 416.2,3075.4 417.2,3077.3 418.2,3077.7 419.2,3076.1 420.2,3076.2 421.2,3076.5 422.2,3075.5 423.2,3076.2 424.2,3076.6 425.2,3076.0 426.2,3078.3 427.2,3077.5 428.2,3078.1 429.2,3076.8 430.2,3076.2 431.2,3077.1 432.2,3076.9 433.2,3076.5 434.2,3076.5 435.2,3076.5 436.2,3076.0 437.2,3076.4 438.2,3077.1 439.2,3077.5 440.2,3077.7 441.2,3075.9 442.2,3076.8 443.2,3076.7 444.2,3076.9 445.2,3078.5 446.2,3077.2 447.2,3077.2 448.2,3077.0 449.2,3077.4 450.2,3077.2 451.2,3077.9 452.2,3077.7 453.2,3079.2 454.2,3078.5 455.2,3077.0 456.2,3077.6 457.2,3077.8 458.2,3078.0 459.2,3076.5 460.2,3076.5 461.2,3077.0 462.2,3077.8 463.2,3077.5 464.2,3077.4 465.2,3075.6 466.2,3075.1 467.2,3076.6 468.2,3076.9 469.2,3076.7 470.2,3076.8 471.2,3075.7 472.2,3077.8 473.2,3075.3 474.2,3076.7 475.2,3077.0 476.2,3075.3 477.2,3076.4 478.2,3077.0 479.2,3077.0 480.2,3076.7 481.2,3077.9 482.2,3077.7 483.2,3077.5 484.2,3078.0 485.2,3077.9 486.2,3077.2 487.2,3076.8 488.2,3076.9 489.2,3075.6 490.2,3075.8 491.2,3076.7 492.2,3076.5 493.2,3076.7 494.2,3075.8 495.2,3076.8 496.2,3076.2 497.2,3077.1 498.2,3077.6 499.2,3076.5 500.2,3077.6 501.2,3077.4 502.2,3077.9 503.2,3079.1 504.2,3077.8 505.2,3078.3 506.2,3078.6 507.2,3077.0 508.2,3077.0 509.2,3077.2 510.2,3076.6 511.2,3076.8 512.2,3076.8 513.2,3076.5 514.2,3076.0 515.2,3076.2 516.2,3077.0 517.2,3078.0 518.2,3078.5 519.2,3077.5 520.2,3077.0 521.2,3076.9 522.2,3077.5 523.2,3076.9 524.2,3077.2 525.2,3077.3 526.2,3078.1 527.2,3077.8 528.2,3075.9 529.2,3076.8 530.2,3075.9 531.2,3077.3 532.2,3077.1 533.2,3075.5 534.2,3077.0 535.2,3076.7 536.2,3076.9 537.2,3077.8 538.2,3077.2 539.2,3077.0 540.2,3076.3 541.2,3076.6 542.2,3077.0 543.2,3077.5 544.2,3076.1 545.2,3075.5 546.2,3077.5 547.2,3077.4 548.2,3075.6 549.2,3077.3 550.2,3075.9 551.2,3075.8 552.2,3074.5 553.2,3075.8 554.2,3074.5 555.2,3073.9 556.2,3074.5 557.2,3075.6 558.2,3075.7 559.2,3075.7 560.2,3074.7 561.2,3075.5 562.2,3074.5 563.2,3075.2 564.2,3074.2 565.2,3073.9 566.2,3074.0 567.2,3074.1 568.2,3073.6 569.2,3074.0 570.2,3073.5 571.2,3073.1 572.2,3074.2 573.2,3073.6 574.2,3073.5 575.2,3073.1 576.2,3074.5 577.2,3073.6 578.2,3072.4 579.2,3073.3 580.2,3073.3 581.2,3071.9 582.2,3071.9 583.2,3071.7 584.2,3072.5 585.2,3071.7 586.2,3072.0 587.2,3071.6 588.2,3070.8 589.2,3070.6 590.2,3071.1 591.2,3070.2 592.2,3071.2 593.2,3070.5 594.2,3070.8 595.2,3069.4 596.2,3068.1 597.2,3068.7 598.2,3067.4 599.2,3066.6 600.2,3066.5 601.2,3065.0 602.2,3063.5 603.2,3064.3 604.2,3062.0 605.2,3061.0 606.2,3059.3 607.2,3058.6 608.2,3057.2 609.2,3055.9 610.2,3053.2 611.2,3051.7 612.2,3049.6 613.2,3048.3 614.2,3047.9 615.2,3045.5 616.2,3044.9 617.2,3043.8 618.2,3042.2 619.2,3042.3 620.2,3041.1 621.2,3040.8 622.2,3040.7 623.2,3040.0 624.2,3041.4 625.2,3041.2 626.2,3041.7 627.2,3042.6 628.2,3043.7 629.2,3045.4 630.2,3045.9 631.2,3049.0 632.2,3049.7 633.2,3052.7 634.2,3054.7 635.2,3056.4 636.2,3059.1 637.2,3058.9 638.2,3061.5 639.2,3061.6 640.2,3061.9 641.2,3063.0 642.2,3065.2 643.2,3065.9 644.2,3068.3 645.2,3068.9 646.2,3068.3 647.2,3070.3 648.2,3070.6 649.2,3072.0 650.2,3073.9 651.2,3073.3 652.2,3073.5 653.2,3074.3 654.2,3075.2 655.2,3075.4 656.2,3076.6 657.2,3076.8 658.2,3078.5 659.2,3076.5 660.2,3077.5 661.2,3077.9 662.2,3078.5 663.2,3078.6 664.2,3078.6 665.2,3079.2 666.2,3080.0 667.2,3079.4 668.2,3079.8 669.2,3078.8 670.2,3079.1 671.2,3079.0 672.2,3079.9 673.2,3078.6 674.2,3079.6 675.2,3079.6 676.2,3080.5 677.2,3079.3 678.2,3080.5 679.2,3080.8 680.2,3079.1 681.2,3080.3 682.2,3080.9 683.2,3080.2 684.2,3081.2 685.2,3080.8 686.2,3082.3 687.2,3079.8 688.2,3080.8 689.2,3080.9 690.2,3080.2 691.2,3081.2 692.2,3082.4 693.2,3080.7 694.2,3082.5 695.2,3081.3 696.2,3081.1 697.2,3081.2 698.2,3081.3 699.2,3081.6 700.2,3081.2 701.2,3081.8 702.2,3081.6 703.2,3081.9 704.2,3081.7 705.2,3082.0 706.2,3081.4 707.2,3080.6 708.2,3081.5 709.2,3082.3 710.2,3083.2 711.2,3080.9 712.2,3082.4 713.2,3083.0 714.2,3082.6 715.2,3081.6 716.2,3082.2 717.2,3081.5 718.2,3081.7 719.2,3082.5 720.2,3082.5 721.2,3082.4 722.2,3082.2 723.2,3082.3 724.2,3082.0 725.2,3082.0 726.2,3082.6 727.2,3083.7 728.2,3084.0 729.2,3083.4 730.2,3083.0 731.2,3083.5 732.2,3083.1 733.2,3083.3 734.2,3082.3 735.2,3083.5 736.2,3083.8 737.2,3082.4 738.2,3082.5 739.2,3084.1 740.2,3083.7 741.2,3083.2 742.2,3083.7 743.2,3082.7 744.2,3083.2 745.2,3082.0 746.2,3083.4 747.2,3081.6 748.2,3081.7 749.2,3081.9 750.2,3081.8 751.2,3083.0 752.2,3082.3 753.2,3084.7 754.2,3082.8 755.2,3082.7 756.2,3083.7 757.2,3084.1 758.2,3083.1 759.2,3082.1 760.2,3082.8 761.2,3083.7 762.2,3082.8 763.2,3082.7 764.2,3083.1 765.2,3082.6 766.2,3083.4 767.2,3082.6 768.2,3082.2 769.2,3083.2 770.2,3082.6 771.2,3082.9 772.2,3083.6 773.2,3084.0 774.2,3083.2 775.2,3084.0 776.2,3083.5 777.2,3083.9 778.2,3084.1 779.2,3083.4 780.2,3084.4 781.2,3083.3 782.2,3083.0 783.2,3084.0 784.2,3083.8 785.2,3083.5 786.2,3082.3 787.2,3083.8 788.2,3082.8 789.2,3083.7 790.2,3082.6 791.2,3084.2 792.2,3084.3 793.2,3084.9 794.2,3084.6 795.2,3083.5 796.2,3083.4 797.2,3083.6 798.2,3083.3 799.2,3084.3 800.2,3082.2 801.2,3082.2 802.2,3081.7 803.2,3082.0 804.2,3082.9 805.2,3083.0 806.2,3084.5 807.2,3084.6 808.2,3084.4 809.2,3084.3 810.2,3085.4 811.2,3085.2 812.2,3086.2 813.2,3085.8 814.2,3084.6 815.2,3084.9 816.2,3085.2 817.2,3082.7 818.2,3083.5 819.2,3083.7 820.2,3084.2 821.2,3083.9 822.2,3084.1 823.2,3084.9 824.2,3084.8 825.2,3085.1 826.2,3084.3 827.2,3085.0 828.2,3083.8 829.2,3083.7 830.2,3083.8 831.2,3083.7 832.2,3083.6 833.2,3083.4 834.2,3085.5 835.2,3084.4 836.2,3085.2 837.2,3085.6 838.2,3086.0 839.2,3085.7 840.2,3084.9 841.2,3084.7 842.2,3085.2 843.2,3086.0 844.2,3084.5 845.2,3085.0 846.2,3085.0 847.2,3085.0 848.2,3084.3 849.2,3085.0 850.2,3086.3 851.2,3086.9 852.2,3087.8 853.2,3086.7 854.2,3085.7 855.2,3086.9 856.2,3086.1 857.2,3086.0 858.2,3084.5 859.2,3085.5 860.2,3085.5 861.2,3084.7 862.2,3085.8 863.2,3086.9 864.2,3085.9 865.2,3086.0 866.2,3085.8 867.2,3086.0 868.2,3086.4 869.2,3086.1 870.2,3086.0 871.2,3084.9 872.2,3086.4 873.2,3086.1 874.2,3085.5 875.2,3085.5 876.2,3085.7 877.2,3086.0 878.2,3084.2 879.2,3084.9 880.2,3084.4 881.2,3085.0 882.2,3084.0 883.2,3083.9 884.2,3083.3 885.2,3082.8 886.2,3083.9 887.2,3084.4 888.2,3085.0 889.2,3084.7 890.2,3084.2 891.2,3083.4 892.2,3083.3 893.2,3083.2 894.2,3082.3 895.2,3082.3 896.2,3081.2 897.2,3079.6 898.2,3079.2 899.2,3080.0 900.2,3078.8 901.2,3079.1 902.2,3079.5 903.2,3080.7 904.2,3081.8 905.2,3081.6 906.2,3083.2 907.2,3082.6 908.2,3084.0 909.2,3084.8 910.2,3085.0 911.2,3086.3 912.2,3085.4 913.2,3085.8 914.2,3084.9 915.2,3086.4 916.2,3086.0 917.2,3085.9 918.2,3085.6 919.2,3085.9 920.2,3085.3 921.2,3085.4 922.2,3086.2 923.2,3085.6 924.2,3086.1 925.2,3086.1 926.2,3087.9 927.2,3087.1 928.2,3087.0 929.2,3087.8 930.2,3086.1 931.2,3086.0 932.2,3086.5 933.2,3086.4 934.2,3086.0 935.2,3086.3 936.2,3086.9 937.2,3086.7 938.2,3086.6 939.2,3086.5 940.2,3086.9 941.2,3087.3 942.2,3086.4 943.2,3085.9 944.2,3086.6 945.2,3086.7 946.2,3086.2 947.2,3086.8 948.2,3086.2 949.2,3086.4 950.2,3086.0 951.2,3086.6 952.2,3086.6 953.2,3087.3 954.2,3086.9 955.2,3087.8 956.2,3087.8 957.2,3087.1 958.2,3088.1 959.2,3087.3 960.2,3087.1 961.2,3087.7 962.2,3087.6 963.2,3088.3 964.2,3087.6 965.2,3088.8 966.2,3088.4 967.2,3087.9 968.2,3088.1 969.2,3088.1 970.2,3088.2 971.2,3087.3 972.2,3086.8 973.2,3087.7 974.2,3087.9 975.2,3087.6 976.2,3087.8 977.2,3087.9 978.2,3087.1 979.2,3088.9 980.2,3089.4 981.2,3088.1 982.2,3089.0 983.2,3088.7 984.2,3088.3 985.2,3088.8 986.2,3088.2 987.2,3090.1 988.2,3087.8 989.2,3087.3 990.2,3087.3 991.2,3087.0 992.2,3087.1 993.2,3087.4 994.2,3087.0 995.2,3087.1 996.2,3086.9 997.2,3088.4 998.2,3087.5 999.2,3088.1 1000.2,3088.8 1001.2,3090.0 1002.2,3088.8 1003.2,3089.3 1004.2,3088.6 1005.2,3088.6 1006.2,3089.5 1007.2,3087.7 1008.2,3088.0 1009.2,3089.4 1010.2,3089.2 1011.2,3089.9 1012.2,3090.3 1013.2,3088.8 1014.2,3089.3 1015.2,3088.8 1016.2,3088.3 1017.2,3087.6 1018.2,3089.1 1019.2,3089.1 1020.2,3089.0 1021.2,3089.5 1022.2,3089.3 1023.2,3089.6 1024.2,3089.9 1025.2,3089.6 1026.2,3090.1 1027.2,3089.8 1028.2,3090.2 1029.2,3089.8 1030.2,3089.7 1031.2,3090.3 1032.2,3090.9 1033.2,3089.1 1034.2,3089.3 1035.2,3088.9 1036.2,3089.4 1037.2,3090.6 1038.2,3090.5 1039.2,3090.5 1040.2,3090.1 1041.2,3090.5 1042.2,3090.4 1043.2,3090.1 1044.2,3090.6 1045.2,3089.0 1046.2,3089.4 1047.2,3089.5 1048.2,3088.6 1049.2,3089.4 1050.2,3089.1 1051.2,3090.3 1052.2,3089.5 1053.2,3089.3 1054.2,3089.7 1055.2,3090.1 1056.2,3089.7 1057.2,3090.5 1058.2,3089.5 1059.2,3088.8 1060.2,3090.0 1061.2,3089.7 1062.2,3089.9 1063.2,3090.2 1064.2,3089.6 1065.2,3089.3 1066.2,3089.0 1067.2,3088.7 1068.2,3089.0 1069.2,3089.4 1070.2,3089.7 1071.2,3088.7 1072.2,3088.8 1073.2,3088.4 1074.2,3088.2 1075.2,3086.9 1076.2,3088.0 1077.2,3088.2 1078.2,3088.2 1079.2,3088.2 1080.2,3088.0 1081.2,3088.5 1082.2,3088.5 1083.2,3088.2 1084.2,3088.6 1085.2,3089.4 1086.2,3088.3 1087.2,3088.0 1088.2,3087.3 1089.2,3087.2 1090.2,3088.0 1091.2,3087.3 1092.2,3086.1 1093.2,3086.8 1094.2,3085.7 1095.2,3085.7 1096.2,3086.8 1097.2,3086.5 1098.2,3086.5 1099.2,3085.1 1100.2,3086.8 1101.2,3087.2 1102.2,3086.2 1103.2,3086.9 1104.2,3085.9 1105.2,3086.0 1106.2,3085.8 1107.2,3084.8 1108.2,3084.6 1109.2,3085.6 1110.2,3084.3 1111.2,3084.9 1112.2,3084.8 1113.2,3085.0 1114.2,3084.4 1115.2,3083.2 1116.2,3084.1 1117.2,3082.9 1118.2,3084.3 1119.2,3083.0 1120.2,3084.1 1121.2,3084.0 1122.2,3083.7 1123.2,3084.0 1124.2,3083.7 1125.2,3083.9 1126.2,3083.8 1127.2,3085.0 1128.2,3084.0 1129.2,3084.3 1130.2,3086.0 1131.2,3085.4 1132.2,3084.3 1133.2,3084.1 1134.2,3085.0 1135.2,3083.5 1136.2,3083.5 1137.2,3084.1 1138.2,3082.3 1139.2,3083.8 1140.2,3082.3 1141.2,3082.2 1142.2,3082.6 1143.2,3082.7 1144.2,3082.5 1145.2,3080.2 1146.2,3081.4 1147.2,3081.6 1148.2,3081.4 1149.2,3081.3 1150.2,3080.9 1151.2,3081.6 1152.2,3080.3 1153.2,3079.5 1154.2,3080.0 1155.2,3078.3 1156.2,3078.1 1157.2,3076.8 1158.2,3076.1 1159.2,3075.7 1160.2,3072.6 1161.2,3073.9 1162.2,3072.2 1163.2,3071.6 1164.2,3067.3 1165.2,3065.6 1166.2,3061.8 1167.2,3059.0 1168.2,3053.2 1169.2,3043.2 1170.2,3035.3 1171.2,3024.0 1172.2,3009.3 1173.2,2990.8 1174.2,2972.0 1175.2,2948.7 1176.2,2927.8 1177.2,2906.6 1178.2,2888.3 1179.2,2879.4 1180.2,2881.7 1181.2,2891.5 1182.2,2908.3 1183.2,2930.4 1184.2,2951.5 1185.2,2974.9 1186.2,2994.1 1187.2,3011.9 1188.2,3026.8 1189.2,3037.7 1190.2,3047.6 1191.2,3053.8 1192.2,3060.1 1193.2,3065.1 1194.2,3068.4 1195.2,3071.0 1196.2,3073.6 1197.2,3074.9 1198.2,3077.0 1199.2,3077.8 1200.2,3080.0 1201.2,3080.5 1202.2,3081.8 1203.2,3081.9 1204.2,3083.7 1205.2,3084.0 1206.2,3084.9 1207.2,3084.2 1208.2,3083.9 1209.2,3084.9 1210.2,3084.7 1211.2,3085.5 1212.2,3086.5 1213.2,3086.3 1214.2,3087.0 1215.2,3087.1 1216.2,3087.4 1217.2,3088.2 1218.2,3087.9 1219.2,3089.1 1220.2,3088.2 1221.2,3088.3 1222.2,3087.2 1223.2,3087.6 1224.2,3088.7 1225.2,3088.6 1226.2,3088.8 1227.2,3089.5 1228.2,3088.0 1229.2,3089.6 1230.2,3088.7 1231.2,3089.8 1232.2,3090.5 1233.2,3091.4 1234.2,3090.3 1235.2,3091.3 1236.2,3090.5 1237.2,3090.7 1238.2,3090.8 1239.2,3090.3 1240.2,3088.9 1241.2,3091.0 1242.2,3090.5 1243.2,3091.3 1244.2,3090.4 1245.2,3090.4 1246.2,3090.8 1247.2,3090.9 1248.2,3090.6 1249.2,3090.2 1250.2,3090.2 1251.2,3089.3 1252.2,3089.0 1253.2,3088.9 1254.2,3088.9 1255.2,3090.5 1256.2,3090.7 1257.2,3091.4 1258.2,3091.6 1259.2,3092.9 1260.2,3091.5 1261.2,3091.7 1262.2,3091.1 1263.2,3093.1 1264.2,3092.5 1265.2,3091.4 1266.2,3090.9 1267.2,3090.7 1268.2,3091.5 1269.2,3092.7 1270.2,3092.3 1271.2,3091.4 1272.2,3090.8 1273.2,3091.9 1274.2,3091.1 1275.2,3091.6 1276.2,3091.1 1277.2,3091.0 1278.2,3091.0 1279.2,3090.4 1280.2,3091.3 1281.2,3091.2 1282.2,3091.0 1283.2,3093.0 1284.2,3092.7 1285.2,3092.1 1286.2,3093.3 1287.2,3092.4 1288.2,3092.5 1289.2,3092.5 1290.2,3092.3 1291.2,3091.9 1292.2,3091.0 1293.2,3091.7 1294.2,3092.0 1295.2,3092.6 1296.2,3091.9 1297.2,3092.5 1298.2,3093.7 1299.2,3092.5 1300.2,3093.2 1301.2,3092.8 1302.2,3092.9 1303.2,3093.2 1304.2,3094.2 1305.2,3094.0 1306.2,3093.6 1307.2,3093.7 1308.2,3093.7 1309.2,3093.0 1310.2,3093.2 1311.2,3093.0 1312.2,3093.2 1313.2,3092.6 1314.2,3092.1 1315.2,3091.5 1316.2,3093.1 1317.2,3090.9 1318.2,3090.9 1319.2,3090.9 1320.2,3090.5 1321.2,3091.7 1322.2,3092.0 1323.2,3092.0 1324.2,3093.3 1325.2,3094.0 1326.2,3093.4 1327.2,3093.8 1328.2,3092.7 1329.2,3092.7 1330.2,3093.4 1331.2,3092.2 1332.2,3092.4 1333.2,3092.2 1334.2,3092.2 1335.2,3092.5 1336.2,3092.6 1337.2,3092.7 1338.2,3092.5 1339.2,3092.3 1340.2,3091.6 1341.2,3091.4 1342.2,3092.7 1343.2,3093.4 1344.2,3092.1 1345.2,3093.1 1346.2,3093.2 1347.2,3093.0 1348.2,3093.7 1349.2,3093.7 1350.2,3093.9 1351.2,3092.3 1352.2,3092.7 1353.2,3091.9 1354.2,3091.8 1355.2,3091.8 1356.2,3091.9 1357.2,3092.6 1358.2,3092.1 1359.2,3092.6 1360.2,3091.1 1361.2,3092.4 1362.2,3093.4 1363.2,3092.8 1364.2,3093.4 1365.2,3094.5 1366.2,3094.6 1367.2,3094.8 1368.2,3093.8 1369.2,3093.3 1370.2,3092.3 1371.2,3093.8 1372.2,3092.3 1373.2,3092.3 1374.2,3093.1 1375.2,3094.0 1376.2,3093.2 1377.2,3093.6 1378.2,3092.6 1379.2,3093.8 1380.2,3093.9 1381.2,3094.2 1382.2,3093.7 1383.2,3093.1 1384.2,3094.2 1385.2,3092.5 1386.2,3093.9 1387.2,3094.1 1388.2,3094.5 1389.2,3094.1 1390.2,3094.0 1391.2,3093.2 1392.2,3093.4 1393.2,3093.8 1394.2,3092.7 1395.2,3092.9 1396.2,3092.6 1397.2,3092.9 1398.2,3093.3 1399.2,3093.2 1400.2,3094.1 1401.2,3093.2 1402.2,3093.7 1403.2,3094.1 1404.2,3094.5 1405.2,3094.0 1406.2,3093.5 1407.2,3093.4 1408.2,3093.3 1409.2,3093.1 1410.2,3093.3 1411.2,3092.8 1412.2,3092.4 1413.2,3092.5 1414.2,3093.4 1415.2,3093.0 1416.2,3093.9 1417.2,3093.3 1418.2,3094.2 1419.2,3094.2 1420.2,3094.2 1421.2,3094.3 1422.2,3094.4 1423.2,3095.6 1424.2,3095.5 1425.2,3095.6 1426.2,3095.8 1427.2,3094.9 1428.2,3095.7 1429.2,3095.6 1430.2,3094.7 1431.2,3094.9 1432.2,3093.6 1433.2,3093.9 1434.2,3093.5 1435.2,3093.5 1436.2,3094.5 1437.2,3094.2 1438.2,3094.9 1439.2,3094.7 1440.2,3094.9 1441.2,3095.1 1442.2,3095.3 1443.2,3094.0 1444.2,3094.5 1445.2,3093.9 1446.2,3094.4 1447.2,3095.4 1448.2,3094.2 1449.2,3093.1 1450.2,3094.1 1451.2,3093.3 1452.2,3092.9 1453.2,3093.7 1454.2,3093.0 1455.2,3092.7 1456.2,3093.7 1457.2,3094.2 1458.2,3093.5 1459.2,3094.0 1460.2,3093.1 1461.2,3093.3 1462.2,3092.6 1463.2,3093.1 1464.2,3093.5 1465.2,3093.1 1466.2,3093.7 1467.2,3094.2 1468.2,3094.3 1469.2,3095.9 1470.2,3096.0 1471.2,3095.0 1472.2,3095.2 1473.2,3095.7 1474.2,3095.1 1475.2,3095.5 1476.2,3093.4 1477.2,3093.6 1478.2,3094.0 1479.2,3094.0 1480.2,3093.8 1481.2,3093.8 1482.2,3093.2 1483.2,3093.5 1484.2,3093.4 1485.2,3093.6 1486.2,3093.0 1487.2,3093.5 1488.2,3093.5 1489.2,3093.6 1490.2,3092.9 1491.2,3094.0 1492.2,3093.4 1493.2,3092.6 1494.2,3093.3 1495.2,3093.2 1496.2,3093.2 1497.2,3093.8 1498.2,3093.6 1499.2,3094.9 1500.2,3094.8 1501.2,3094.3 1502.2,3093.6 1503.2,3094.1 1504.2,3093.3 1505.2,3093.8 1506.2,3093.9 1507.2,3094.4 1508.2,3094.0 1509.2,3095.3 1510.2,3094.6 1511.2,3094.0 1512.2,3093.6 1513.2,3092.9 1514.2,3093.2 1515.2,3093.6 1516.2,3093.0 1517.2,3094.0 1518.2,3094.2 1519.2,3094.7 1520.2,3094.6 1521.2,3095.0 1522.2,3094.8 1523.2,3093.6 1524.2,3094.0 1525.2,3094.3 1526.2,3092.3 1527.2,3092.2 1528.2,3092.4 1529.2,3092.3 1530.2,3092.8 1531.2,3092.3 1532.2,3093.7 1533.2,3092.9 1534.2,3093.9 1535.2,3093.4 1536.2,3093.6 1537.2,3093.9 1538.2,3093.4 1539.2,3095.0 1540.2,3093.9 1541.2,3095.7 1542.2,3096.4 1543.2,3095.3 1544.2,3094.7 1545.2,3094.2 1546.2,3094.8 1547.2,3093.8 1548.2,3093.4 1549.2,3093.9 1550.2,3095.3 1551.2,3095.2 1552.2,3095.3 1553.2,3095.9 1554.2,3095.1 1555.2,3094.7 1556.2,3095.1 1557.2,3094.4 1558.2,3093.3 1559.2,3093.4 1560.2,3094.0 1561.2,3094.4 1562.2,3094.5 1563.2,3093.1 1564.2,3093.9 1565.2,3094.3 1566.2,3094.3 1567.2,3094.1 1568.2,3094.4 1569.2,3094.4 1570.2,3093.9 1571.2,3094.1 1572.2,3094.9 1573.2,3094.8 1574.2,3094.4 1575.2,3093.4 1576.2,3092.8 1577.2,3094.2 1578.2,3092.9 1579.2,3093.4 1580.2,3093.9 1581.2,3093.9 1582.2,3094.2 1583.2,3094.9 1584.2,3095.9 1585.2,3095.5 1586.2,3095.4 1587.2,3094.7 1588.2,3094.2 1589.2,3094.6 1590.2,3095.6 1591.2,3095.9 1592.2,3096.5 1593.2,3095.4 1594.2,3096.0 1595.2,3095.2 1596.2,3095.7 1597.2,3094.6 1598.2,3094.6 1599.2,3094.7 1600.2,3094.8 1601.2,3093.5 1602.2,3093.8 1603.2,3094.5 1604.2,3093.7 1605.2,3094.0 1606.2,3094.6 1607.2,3093.7 1608.2,3093.9 1609.2,3094.5 1610.2,3093.7 1611.2,3095.7 1612.2,3094.7 1613.2,3095.1 1614.2,3094.8 1615.2,3094.9 1616.2,3094.2 1617.2,3094.1 1618.2,3094.4 1619.2,3094.7 1620.2,3094.7 1621.2,3094.6 1622.2,3094.7 1623.2,3095.2 1624.2,3095.9 1625.2,3094.4 1626.2,3095.3 1627.2,3095.2 1628.2,3093.6 1629.2,3095.2 1630.2,3095.7 1631.2,3095.4 1632.2,3095.2 1633.2,3094.9 1634.2,3095.1 1635.2,3095.0 1636.2,3094.3 1637.2,3094.9 1638.2,3095.3 1639.2,3095.7 1640.2,3095.7 1641.2,3095.3 1642.2,3095.5 1643.2,3095.2 1644.2,3095.3 1645.2,3095.6 1646.2,3094.0 1647.2,3093.9 1648.2,3095.2 1649.2,3096.3 1650.2,3096.5 1651.2,3096.4 1652.2,3096.7 1653.2,3095.6 1654.2,3095.7 1655.2,3095.4 1656.2,3095.0 1657.2,3094.6 1658.2,3095.7 1659.2,3095.4 1660.2,3094.5 1661.2,3096.0 1662.2,3095.6 1663.2,3096.3 1664.2,3095.4 1665.2,3095.6 1666.2,3095.0 1667.2,3095.6 1668.2,3094.4 1669.2,3094.3 1670.2,3094.6 1671.2,3094.8 1672.2,3095.7 1673.2,3095.5 1674.2,3094.8 1675.2,3094.1 1676.2,3093.8 1677.2,3094.3 1678.2,3094.5 1679.2,3094.8 1680.2,3095.0 1681.2,3095.0 1682.2,3095.2 1683.2,3095.7 1684.2,3096.9 1685.2,3096.1 1686.2,3096.5 1687.2,3096.3 1688.2,3096.8 1689.2,3096.7 1690.2,3096.0 1691.2,3095.4 1692.2,3094.3 1693.2,3095.5 1694.2,3094.8 1695.2,3094.3 1696.2,3095.7 1697.2,3094.9 1698.2,3096.6 1699.2,3095.7 1700.2,3095.9 1701.2,3096.1 1702.2,3096.8 1703.2,3096.3 1704.2,3096.9 1705.2,3096.0 1706.2,3095.9 1707.2,3096.0 1708.2,3095.8 1709.2,3095.4 1710.2,3095.7 1711.2,3096.3 1712.2,3095.9 1713.2,3095.9 1714.2,3096.6 1715.2,3095.6 1716.2,3097.1 1717.2,3097.2 1718.2,3096.3 1719.2,3096.7 1720.2,3096.3 1721.2,3095.9 1722.2,3095.1 1723.2,3095.5 1724.2,3094.8 1725.2,3095.7 1726.2,3096.1 1727.2,3095.4 1728.2,3095.4 1729.2,3096.6 1730.2,3095.5 1731.2,3095.2 1732.2,3095.7 1733.2,3094.8 1734.2,3094.8 1735.2,3096.0 1736.2,3094.5 1737.2,3094.5 1738.2,3095.7 1739.2,3095.4 1740.2,3095.9 1741.2,3094.7 1742.2,3095.6 1743.2,3096.3 1744.2,3096.5 1745.2,3097.2 1746.2,3096.6 1747.2,3094.3 1748.2,3095.4 1749.2,3096.1 1750.2,3095.2 1751.2,3096.1 1752.2,3096.1 1753.2,3094.8 1754.2,3094.1 1755.2,3095.3 1756.2,3094.8 1757.2,3095.7 1758.2,3096.0 1759.2,3095.8 1760.2,3096.8 1761.2,3096.5 1762.2,3096.4 1763.2,3096.3 1764.2,3097.2 1765.2,3096.2 1766.2,3095.9 1767.2,3096.3 1768.2,3096.9 1769.2,3096.8 1770.2,3096.0 1771.2,3096.4 1772.2,3095.7 1773.2,3096.1 1774.2,3095.9 1775.2,3095.4 1776.2,3094.8 1777.2,3094.1 1778.2,3093.7 1779.2,3094.1 1780.2,3094.0 1781.2,3093.0 1782.2,3093.0 1783.2,3092.7 1784.2,3092.6 1785.2,3091.1 1786.2,3090.5 1787.2,3091.1 1788.2,3090.7 1789.2,3090.6 1790.2,3090.5 1791.2,3090.7 1792.2,3090.7 1793.2,3091.8 1794.2,3091.3 1795.2,3091.7 1796.2,3092.5 1797.2,3093.2 1798.2,3094.2 1799.2,3094.7 1800.2,3093.7 1801.2,3095.2 1802.2,3094.7 1803.2,3095.5 1804.2,3096.0 1805.2,3096.7 1806.2,3095.4 1807.2,3095.4 1808.2,3096.7 1809.2,3096.0 1810.2,3095.9 1811.2,3097.2 1812.2,3097.3 1813.2,3097.6 1814.2,3096.7 1815.2,3097.0 1816.2,3097.4 1817.2,3096.9 1818.2,3098.5 1819.2,3096.9 1820.2,3096.4 1821.2,3097.6 1822.2,3096.2 1823.2,3096.4 1824.2,3097.1 1825.2,3097.5 1826.2,3098.6 1827.2,3098.0 1828.2,3097.7 1829.2,3097.1 1830.2,3097.7 1831.2,3096.7 1832.2,3097.4 1833.2,3096.7 1834.2,3096.0 1835.2,3097.3 1836.2,3096.4 1837.2,3097.3 1838.2,3098.9 1839.2,3099.1 1840.2,3099.1 1841.2,3098.5 1842.2,3098.1 1843.2,3097.9 1844.2,3098.5 1845.2,3098.2 1846.2,3099.0 1847.2,3097.9 1848.2,3099.1 1849.2,3098.7 1850.2,3097.6 1851.2,3098.4 1852.2,3097.4 1853.2,3097.9 1854.2,3097.8 1855.2,3097.4 1856.2,3098.8 1857.2,3098.1 1858.2,3096.5 1859.2,3098.1 1860.2,3098.6 1861.2,3098.0 1862.2,3097.9 1863.2,3098.0 1864.2,3098.7 1865.2,3098.5 1866.2,3098.1 1867.2,3098.7 1868.2,3098.1 1869.2,3100.0 1870.2,3098.8 1871.2,3098.2 1872.2,3099.8 1873.2,3098.5 1874.2,3098.0 1875.2,3099.6 1876.2,3100.3 1877.2,3098.6 1878.2,3098.6 1879.2,3098.8 1880.2,3096.9 1881.2,3097.4 1882.2,3097.4 1883.2,3097.9 1884.2,3098.9 1885.2,3098.8 1886.2,3099.3 1887.2,3100.3 1888.2,3099.3 1889.2,3100.1 1890.2,3100.3 1891.2,3101.1 1892.2,3100.4 1893.2,3099.4 1894.2,3099.4 1895.2,3099.0 1896.2,3099.0 1897.2,3099.1 1898.2,3099.1 1899.2,3098.3 1900.2,3098.3 1901.2,3098.0 1902.2,3098.7 1903.2,3097.8 1904.2,3098.8 1905.2,3098.3 1906.2,3098.2 1907.2,3098.6 1908.2,3099.1 1909.2,3098.3 1910.2,3099.0 1911.2,3098.7 1912.2,3099.2 1913.2,3099.8 1914.2,3097.5 1915.2,3097.9 1916.2,3097.8 1917.2,3098.2 1918.2,3097.9 1919.2,3099.2 1920.2,3099.9 1921.2,3101.5 1922.2,3099.7 1923.2,3100.2 1924.2,3099.8 1925.2,3099.2 1926.2,3098.8 1927.2,3099.2 1927.8,3100.4" stroke="#F93E3E"/>
<polyline points="143.2,3136.1 144.2,3135.7 145.2,3138.8 146.2,3137.6 147.2,3137.4 148.2,3137.5 149.2,3139.3 150.2,3138.4 151.2,3138.8 152.2,3141.5 153.2,3140.5 154.2,3139.0 155.2,3141.1 156.2,3139.9 157.2,3143.4 158.2,3138.9 159.2,3142.8 160.2,3140.2 161.2,3141.2 162.2,3145.5 163.2,3144.9 164.2,3147.1 165.2,3146.7 166.2,3145.4 167.2,3146.5 168.2,3146.9 169.2,3149.2 170.2,3148.8 171.2,3149.1 172.2,3148.8 173.2,3147.2 174.2,3148.8 175.2,3152.4 176.2,3151.8 177.2,3150.9 178.2,3152.2 179.2,3150.8 180.2,3151.7 181.2,3151.0 182.2,3152.8 183.2,3151.1 184.2,3153.6 185.2,3151.7 186.2,3154.5 187.2,3154.2 188.2,3155.5 189.2,3154.5 190.2,3155.6 191.2,3155.3 192.2,3156.4 193.2,3154.8 194.2,3153.8 195.2,3155.8 196.2,3155.1 197.2,3155.8 198.2,3156.3 199.2,3155.8 200.2,3158.8 201.2,3158.4 202.2,3158.6 203.2,3159.8 204.2,3158.6 205.2,3160.2 206.2,3160.2 207.2,3159.7 208.2,3161.5 209.2,3161.5 210.2,3158.2 211.2,3159.8 212.2,3162.5 213.2,3161.9 214.2,3161.4 215.2,3162.8 216.2,3162.9 217.2,3162.4 218.2,3162.7 219.2,3165.3 220.2,3167.1 221.2,3168.1 222.2,3165.3 223.2,3166.8 224.2,3166.2 225.2,3167.1 226.2,3168.5 227.2,3168.0 228.2,3167.3 229.2,3168.7 230.2,3169.6 231.2,3169.3 232.2,3170.1 233.2,3169.0 234.2,3171.4 235.2,3171.7 236.2,3172.2 237.2,3172.8 238.2,3173.5 239.2,3174.8 240.2,3174.6 241.2,3174.0 242.2,3174.0 243.2,3173.5 244.2,3174.6 245.2,3175.1 246.2,3177.3 247.2,3176.8 248.2,3176.8 249.2,3178.6 250.2,3177.8 251.2,3178.1 252.2,3179.7 253.2,3178.5 254.2,3179.3 255.2,3176.8 256.2,3181.1 257.2,3179.4 258.2,3179.7 259.2,3180.7 260.2,3180.3 261.2,3181.1 262.2,3181.1 263.2,3180.6 264.2,3183.6 265.2,3183.6 266.2,3184.5 267.2,3182.8 268.2,3184.0 269.2,3184.3 270.2,3184.7 271.2,3183.6 272.2,3185.4 273.2,3185.9 274.2,3185.6 275.2,3187.9 276.2,3186.4 277.2,3186.9 278.2,3187.8 279.2,3188.4 280.2,3188.6 281.2,3187.5 282.2,3188.9 283.2,3189.0 284.2,3188.9 285.2,3189.8 286.2,3190.0 287.2,3190.0 288.2,3189.6 289.2,3191.9 290.2,3192.6 291.2,3193.0 292.2,3192.3 293.2,3192.4 294.2,3192.7 295.2,3192.7 296.2,3192.5 297.2,3193.6 298.2,3194.3 299.2,3193.5 300.2,3194.7 301.2,3193.8 302.2,3193.7 303.2,3193.0 304.2,3194.5 305.2,3194.0 306.2,3194.2 307.2,3194.2 308.2,3194.4 309.2,3194.6 310.2,3195.8 311.2,3195.4 312.2,3193.5 313.2,3194.6 314.2,3195.2 315.2,3195.1 316.2,3194.5 317.2,3195.7 318.2,3194.9 319.2,3196.7 320.2,3196.2 321.2,3197.0 322.2,3196.4 323.2,3197.4 324.2,3197.6 325.2,3197.7 326.2,3196.8 327.2,3198.2 328.2,3198.8 329.2,3198.4 330.2,3197.3 331.2,3197.1 332.2,3197.9 333.2,3198.1 334.2,3197.7 335.2,3198.5 336.2,3197.9 337.2,3199.3 338.2,3198.5 339.2,3198.5 340.2,3199.3 341.2,3198.4 342.2,3198.4 343.2,3198.8 344.2,3197.7 345.2,3198.6 346.2,3198.3 347.2,3199.1 348.2,3198.9 349.2,3200.1 350.2,3201.7 351.2,3200.6 352.2,3200.6 353.2,3199.4 354.2,3202.0 355.2,3201.8 356.2,3201.8 357.2,3201.4 358.2,3200.7 359.2,3200.8 360.2,3201.7 361.2,3202.1 362.2,3202.0 363.2,3201.4 364.2,3201.6 365.2,3202.6 366.2,3200.8 367.2,3200.2 368.2,3200.7 369.2,3200.4 370.2,3200.2 371.2,3200.1 372.2,3201.5 373.2,3201.2 374.2,3202.1 375.2,3201.5 376.2,3201.4 377.2,3201.2 378.2,3201.4 379.2,3201.2 380.2,3201.1 381.2,3202.9 382.2,3201.1 383.2,3201.7 384.2,3201.6 385.2,3201.3 386.2,3202.2 387.2,3201.9 388.2,3202.5 389.2,3202.3 390.2,3202.6 391.2,3203.0 392.2,3202.5 393.2,3202.1 394.2,3201.0 395.2,3201.8 396.2,3202.0 397.2,3201.9 398.2,3202.5 399.2,3201.4 400.2,3202.4 401.2,3202.5 402.2,3202.8 403.2,3202.4 404.2,3201.4 405.2,3201.7 406.2,3200.8 407.2,3200.9 408.2,3201.6 409.2,3201.6 410.2,3201.0 411.2,3202.2 412.2,3202.7 413.2,3202.7 414.2,3202.4 415.2,3203.4 416.2,3202.2 417.2,3203.5 418.2,3203.4 419.2,3203.1 420.2,3204.1 421.2,3204.9 422.2,3202.8 423.2,3205.2 424.2,3202.8 425.2,3203.2 426.2,3202.4 427.2,3203.6 428.2,3203.4 429.2,3203.0 430.2,3202.4 431.2,3201.5 432.2,3202.1 433.2,3202.8 434.2,3202.1 435.2,3202.2 436.2,3203.1 437.2,3202.8 438.2,3204.0 439.2,3202.1 440.2,3202.2 441.2,3203.1 442.2,3203.2 443.2,3203.4 444.2,3203.7 445.2,3202.7 446.2,3203.5 447.2,3203.6 448.2,3202.5 449.2,3204.5 450.2,3203.6 451.2,3203.2 452.2,3204.3 453.2,3204.7 454.2,3203.5 455.2,3202.2 456.2,3203.0 457.2,3203.0 458.2,3202.7 459.2,3201.8 460.2,3203.0 461.2,3201.7 462.2,3200.5 463.2,3202.6 464.2,3201.3 465.2,3201.7 466.2,3201.7 467.2,3201.5 468.2,3202.6 469.2,3202.7 470.2,3200.6 471.2,3201.1 472.2,3201.4 473.2,3201.1 474.2,3201.2 475.2,3200.6 476.2,3201.8 477.2,3202.4 478.2,3202.6 479.2,3202.9 480.2,3202.9 481.2,3203.1 482.2,3202.4 483.2,3202.6 484.2,3202.8 485.2,3202.4 486.2,3202.3 487.2,3202.1 488.2,3202.5 489.2,3200.5 490.2,3201.1 491.2,3200.9 492.2,3200.4 493.2,3199.7 494.2,3200.2 495.2,3200.4 496.2,3201.1 497.2,3201.0 498.2,3200.2 499.2,3200.9 500.2,3200.3 501.2,3199.9 502.2,3198.3 503.2,3199.7 504.2,3198.2 505.2,3199.9 506.2,3198.7 507.2,3198.7 508.2,3199.7 509.2,3198.8 510.2,3199.8 511.2,3200.2 512.2,3199.1 513.2,3199.6 514.2,3200.6 515.2,3200.0 516.2,3200.2 517.2,3199.1 518.2,3198.6 519.2,3199.4 520.2,3198.4 521.2,3198.8 522.2,3197.1 523.2,3197.8 524.2,3197.8 525.2,3196.4 526.2,3197.8 527.2,3197.5 528.2,3196.6 529.2,3199.6 530.2,3196.9 531.2,3197.7 532.2,3198.1 533.2,3197.2 534.2,3197.9 535.2,3198.4 536.2,3198.0 537.2,3196.8 538.2,3197.0 539.2,3196.7 540.2,3197.8 541.2,3196.4 542.2,3197.6 543.2,3196.1 544.2,3197.3 545.2,3197.6 546.2,3196.0 547.2,3197.1 548.2,3196.6 549.2,3196.3 550.2,3197.0 551.2,3197.7 552.2,3196.8 553.2,3197.8 554.2,3196.6 555.2,3197.4 556.2,3195.3 557.2,3195.3 558.2,3194.9 559.2,3195.4 560.2,3194.7 561.2,3194.4 562.2,3194.0 563.2,3193.4 564.2,3193.9 565.2,3193.0 566.2,3193.3 567.2,3194.3 568.2,3193.8 569.2,3193.9 570.2,3193.4 571.2,3193.9 572.2,3193.6 573.2,3193.8 574.2,3193.7 575.2,3192.8 576.2,3192.3 577.2,3193.3 578.2,3193.7 579.2,3191.5 580.2,3191.8 581.2,3191.9 582.2,3191.9 583.2,3191.2 584.2,3190.6 585.2,3192.0 586.2,3190.5 587.2,3190.0 588.2,3191.2 589.2,3191.2 590.2,3191.7 591.2,3192.0 592.2,3191.7 593.2,3190.2 594.2,3191.7 595.2,3191.5 596.2,3191.2 597.2,3191.1 598.2,3190.8 599.2,3189.9 600.2,3190.0 601.2,3190.5 602.2,3190.5 603.2,3191.2 604.2,3189.6 605.2,3189.9 606.2,3189.6 607.2,3188.8 608.2,3188.7 609.2,3188.0 610.2,3188.9 611.2,3189.0 612.2,3191.2 613.2,3191.5 614.2,3190.2 615.2,3189.8 616.2,3189.5 617.2,3189.1 618.2,3188.6 619.2,3188.8 620.2,3187.9 621.2,3189.4 622.2,3189.5 623.2,3188.1 624.2,3188.7 625.2,3186.0 626.2,3188.2 627.2,3185.7 628.2,3187.2 629.2,3186.1 630.2,3186.0 631.2,3185.5 632.2,3186.2 633.2,3185.4 634.2,3188.7 635.2,3187.1 636.2,3184.5 637.2,3186.4 638.2,3185.1 639.2,3186.4 640.2,3186.1 641.2,3186.7 642.2,3185.5 643.2,3187.0 644.2,3186.4 645.2,3186.2 646.2,3187.4 647.2,3185.8 648.2,3185.8 649.2,3185.7 650.2,3186.3 651.2,3184.2 652.2,3184.4 653.2,3183.5 654.2,3185.0 655.2,3184.9 656.2,3185.9 657.2,3185.4 658.2,3187.1 659.2,3184.7 660.2,3183.6 661.2,3183.2 662.2,3184.6 663.2,3183.4 664.2,3182.9 665.2,3182.5 666.2,3182.9 667.2,3180.5 668.2,3181.6 669.2,3181.8 670.2,3180.8 671.2,3181.9 672.2,3180.2 673.2,3181.5 674.2,3181.8 675.2,3179.8 676.2,3180.8 677.2,3180.4 678.2,3181.3 679.2,3180.3 680.2,3180.3 681.2,3180.4 682.2,3179.8 683.2,3177.9 684.2,3179.4 685.2,3180.6 686.2,3181.5 687.2,3181.1 688.2,3180.5 689.2,3179.3 690.2,3179.5 691.2,3179.6 692.2,3178.3 693.2,3178.5 694.2,3178.7 695.2,3178.2 696.2,3178.1 697.2,3177.6 698.2,3178.8 699.2,3178.8 700.2,3178.1 701.2,3178.2 702.2,3176.8 703.2,3175.2 704.2,3177.5 705.2,3177.1 706.2,3175.2 707.2,3177.4 708.2,3177.0 709.2,3177.5 710.2,3177.9 711.2,3177.8 712.2,3178.3 713.2,3177.8 714.2,3178.0 715.2,3175.8 716.2,3175.8 717.2,3176.3 718.2,3177.3 719.2,3176.3 720.2,3177.9 721.2,3175.7 722.2,3176.7 723.2,3176.2 724.2,3175.4 725.2,3175.1 726.2,3176.3 727.2,3175.6 728.2,3173.4 729.2,3175.1 730.2,3174.4 731.2,3174.4 732.2,3173.3 733.2,3173.5 734.2,3172.9 735.2,3173.2 736.2,3173.2 737.2,3171.4 738.2,3172.5 739.2,3170.7 740.2,3169.4 741.2,3170.3 742.2,3169.5 743.2,3169.3 744.2,3167.9 745.2,3169.2 746.2,3168.4 747.2,3167.0 748.2,3170.4 749.2,3170.4 750.2,3170.8 751.2,3171.8 752.2,3171.3 753.2,3173.8 754.2,3174.2 755.2,3173.7 756.2,3174.7 757.2,3174.7 758.2,3174.5 759.2,3176.3 760.2,3176.0 761.2,3175.6 762.2,3174.8 763.2,3175.4 764.2,3174.6 765.2,3174.4 766.2,3174.0 767.2,3173.5 768.2,3173.9 769.2,3174.2 770.2,3174.2 771.2,3175.0 772.2,3174.0 773.2,3175.1 774.2,3177.1 775.2,3177.6 776.2,3176.3 777.2,3174.2 778.2,3175.9 779.2,3175.1 780.2,3175.9 781.2,3175.2 782.2,3175.3 783.2,3176.0 784.2,3178.1 785.2,3177.5 786.2,3177.9 787.2,3176.0 788.2,3178.0 789.2,3176.8 790.2,3177.3 791.2,3177.7 792.2,3177.4 793.2,3178.6 794.2,3178.5 795.2,3177.8 796.2,3177.7 797.2,3179.6 798.2,3179.0 799.2,3179.2 800.2,3180.2 801.2,3180.9 802.2,3179.6 803.2,3181.0 804.2,3180.7 805.2,3181.3 806.2,3181.9 807.2,3182.1 808.2,3181.6 809.2,3181.6 810.2,3181.0 811.2,3180.1 812.2,3180.2 813.2,3180.8 814.2,3180.1 815.2,3180.0 816.2,3179.9 817.2,3179.5 818.2,3180.8 819.2,3183.1 820.2,3180.8 821.2,3181.2 822.2,3181.4 823.2,3179.6 824.2,3182.0 825.2,3182.5 826.2,3180.0 827.2,3181.4 828.2,3182.2 829.2,3182.5 830.2,3182.5 831.2,3181.8 832.2,3183.8 833.2,3183.9 834.2,3183.5 835.2,3182.5 836.2,3182.5 837.2,3181.7 838.2,3184.9 839.2,3182.4 840.2,3184.9 841.2,3183.9 842.2,3183.4 843.2,3182.6 844.2,3185.1 845.2,3183.3 846.2,3185.2 847.2,3184.7 848.2,3185.1 849.2,3184.7 850.2,3185.2 851.2,3184.2 852.2,3183.7 853.2,3184.4 854.2,3183.5 855.2,3184.3 856.2,3184.2 857.2,3184.0 858.2,3184.2 859.2,3185.1 860.2,3186.1 861.2,3185.7 862.2,3185.0 863.2,3186.4 864.2,3187.0 865.2,3185.4 866.2,3186.3 867.2,3185.4 868.2,3185.6 869.2,3186.1 870.2,3184.5 871.2,3186.2 872.2,3186.2 873.2,3186.0 874.2,3185.5 875.2,3187.3 876.2,3187.9 877.2,3187.4 878.2,3187.7 879.2,3188.8 880.2,3188.9 881.2,3186.9 882.2,3186.4 883.2,3187.1 884.2,3185.8 885.2,3188.2 886.2,3186.8 887.2,3187.6 888.2,3187.8 889.2,3186.9 890.2,3187.7 891.2,3187.6 892.2,3187.4 893.2,3185.6 894.2,3185.7 895.2,3184.9 896.2,3183.8 897.2,3182.2 898.2,3181.4 899.2,3177.2 900.2,3175.3 901.2,3170.3 902.2,3167.4 903.2,3167.8 904.2,3163.9 905.2,3162.3 906.2,3161.5 907.2,3164.3 908.2,3166.3 909.2,3172.3 910.2,3174.5 911.2,3177.4 912.2,3180.1 913.2,3182.4 914.2,3184.5 915.2,3185.5 916.2,3188.3 917.2,3188.4 918.2,3189.9 919.2,3188.7 920.2,3190.2 921.2,3191.1 922.2,3190.0 923.2,3191.0 924.2,3190.7 925.2,3190.4 926.2,3190.8 927.2,3192.2 928.2,3192.3 929.2,3192.8 930.2,3193.2 931.2,3193.3 932.2,3193.3 933.2,3193.1 934.2,3193.6 935.2,3193.9 936.2,3192.9 937.2,3194.0 938.2,3193.8 939.2,3193.1 940.2,3192.5 941.2,3192.2 942.2,3193.1 943.2,3193.7 944.2,3192.5 945.2,3192.3 946.2,3191.6 947.2,3192.7 948.2,3192.0 949.2,3193.1 950.2,3191.2 951.2,3191.6 952.2,3191.6 953.2,3193.5 954.2,3190.9 955.2,3189.6 956.2,3190.1 957.2,3190.7 958.2,3190.3 959.2,3191.5 960.2,3191.6 961.2,3191.6 962.2,3191.3 963.2,3193.3 964.2,3194.4 965.2,3193.9 966.2,3194.2 967.2,3193.3 968.2,3194.7 969.2,3194.0 970.2,3195.3 971.2,3196.9 972.2,3196.6 973.2,3195.8 974.2,3196.9 975.2,3196.8 976.2,3196.5 977.2,3196.3 978.2,3195.8 979.2,3193.3 980.2,3194.3 981.2,3193.6 982.2,3194.4 983.2,3195.9 984.2,3195.7 985.2,3196.4 986.2,3197.2 987.2,3196.1 988.2,3196.4 989.2,3196.1 990.2,3196.9 991.2,3196.7 992.2,3196.8 993.2,3196.9 994.2,3196.8 995.2,3196.8 996.2,3197.5 997.2,3196.8 998.2,3196.8 999.2,3197.1 1000.2,3196.7 1001.2,3197.6 1002.2,3195.8 1003.2,3197.0 1004.2,3197.3 1005.2,3197.3 1006.2,3196.3 1007.2,3196.7 1008.2,3196.6 1009.2,3195.4 1010.2,3196.8 1011.2,3195.7 1012.2,3196.2 1013.2,3196.0 1014.2,3196.0 1015.2,3195.6 1016.2,3196.4 1017.2,3196.5 1018.2,3196.3 1019.2,3198.1 1020.2,3196.5 1021.2,3198.7 1022.2,3197.6 1023.2,3198.6 1024.2,3196.0 1025.2,3197.4 1026.2,3197.4 1027.2,3198.2 1028.2,3198.1 1029.2,3197.3 1030.2,3197.0 1031.2,3197.2 1032.2,3198.1 1033.2,3197.2 1034.2,3196.0 1035.2,3197.4 1036.2,3197.3 1037.2,3196.0 1038.2,3195.2 1039.2,3196.8 1040.2,3197.0 1041.2,3196.5 1042.2,3197.4 1043.2,3197.2 1044.2,3197.4 1045.2,3197.9 1046.2,3197.3 1047.2,3198.1 1048.2,3197.1 1049.2,3197.9 1050.2,3198.1 1051.2,3197.4 1052.2,3197.7 1053.2,3196.7 1054.2,3197.5 1055.2,3198.4 1056.2,3197.4 1057.2,3196.0 1058.2,3198.3 1059.2,3198.4 1060.2,3199.1 1061.2,3200.2 1062.2,3199.7 1063.2,3199.4 1064.2,3197.8 1065.2,3198.7 1066.2,3198.5 1067.2,3198.1 1068.2,3197.9 1069.2,3197.8 1070.2,3197.6 1071.2,3197.3 1072.2,3198.6 1073.2,3197.3 1074.2,3198.4 1075.2,3196.6 1076.2,3197.2 1077.2,3197.9 1078.2,3197.6 1079.2,3197.9 1080.2,3198.1 1081.2,3199.3 1082.2,3197.4 1083.2,3198.5 1084.2,3198.3 1085.2,3198.1 1086.2,3199.5 1087.2,3198.8 1088.2,3198.7 1089.2,3199.7 1090.2,3199.2 1091.2,3198.2 1092.2,3198.2 1093.2,3197.6 1094.2,3198.7 1095.2,3197.9 1096.2,3199.8 1097.2,3199.0 1098.2,3199.7 1099.2,3198.3 1100.2,3198.6 1101.2,3198.9 1102.2,3197.6 1103.2,3198.6 1104.2,3197.6 1105.2,3198.4 1106.2,3199.4 1107.2,3197.9 1108.2,3199.6 1109.2,3198.3 1110.2,3198.2 1111.2,3198.0 1112.2,3198.4 1113.2,3196.3 1114.2,3198.4 1115.2,3198.8 1116.2,3198.0 1117.2,3197.2 1118.2,3197.1 1119.2,3197.5 1120.2,3198.5 1121.2,3197.3 1122.2,3196.7 1123.2,3196.1 1124.2,3196.7 1125.2,3195.6 1126.2,3194.3 1127.2,3193.7 1128.2,3194.8 1129.2,3192.5 1130.2,3193.2 1131.2,3192.6 1132.2,3193.4 1133.2,3194.3 1134.2,3194.5 1135.2,3194.2 1136.2,3195.0 1137.2,3196.1 1138.2,3195.0 1139.2,3197.9 1140.2,3197.9 1141.2,3199.6 1142.2,3198.7 1143.2,3198.7 1144.2,3198.4 1145.2,3199.9 1146.2,3199.6 1147.2,3199.7 1148.2,3200.0 1149.2,3199.4 1150.2,3198.6 1151.2,3200.2 1152.2,3200.4 1153.2,3200.4 1154.2,3199.6 1155.2,3200.7 1156.2,3200.2 1157.2,3198.9 1158.2,3200.0 1159.2,3198.5 1160.2,3199.2 1161.2,3200.1 1162.2,3199.5 1163.2,3199.0 1164.2,3199.9 1165.2,3198.4 1166.2,3198.4 1167.2,3197.5 1168.2,3195.1 1169.2,3194.5 1170.2,3193.1 1171.2,3189.9 1172.2,3188.6 1173.2,3185.6 1174.2,3183.9 1175.2,3181.7 1176.2,3180.9 1177.2,3179.9 1178.2,3181.0 1179.2,3183.1 1180.2,3184.8 1181.2,3185.6 1182.2,3187.9 1183.2,3188.5 1184.2,3189.9 1185.2,3192.2 1186.2,3194.8 1187.2,3195.9 1188.2,3198.0 1189.2,3198.7 1190.2,3199.0 1191.2,3199.4 1192.2,3201.0 1193.2,3199.7 1194.2,3200.6 1195.2,3199.9 1196.2,3200.4 1197.2,3199.5 1198.2,3200.8 1199.2,3201.3 1200.2,3200.8 1201.2,3202.2 1202.2,3201.7 1203.2,3201.1 1204.2,3200.8 1205.2,3202.1 1206.2,3201.5 1207.2,3202.3 1208.2,3201.6 1209.2,3202.8 1210.2,3202.6 1211.2,3203.4 1212.2,3202.8 1213.2,3202.4 1214.2,3202.9 1215.2,3203.9 1216.2,3203.0 1217.2,3202.6 1218.2,3202.4 1219.2,3203.7 1220.2,3202.5 1221.2,3202.7 1222.2,3202.6 1223.2,3202.4 1224.2,3202.9 1225.2,3203.1 1226.2,3202.7 1227.2,3202.9 1228.2,3202.9 1229.2,3202.6 1230.2,3201.6 1231.2,3204.1 1232.2,3202.3 1233.2,3202.8 1234.2,3203.0 1235.2,3203.5 1236.2,3204.0 1237.2,3203.8 1238.2,3203.6 1239.2,3203.7 1240.2,3203.9 1241.2,3204.5 1242.2,3204.7 1243.2,3204.0 1244.2,3204.7 1245.2,3204.7 1246.2,3204.6 1247.2,3204.9 1248.2,3205.7 1249.2,3204.6 1250.2,3204.0 1251.2,3206.0 1252.2,3204.3 1253.2,3204.4 1254.2,3204.6 1255.2,3205.6 1256.2,3204.1 1257.2,3204.9 1258.2,3205.2 1259.2,3205.4 1260.2,3204.2 1261.2,3204.2 1262.2,3204.4 1263.2,3203.8 1264.2,3204.6 1265.2,3204.6 1266.2,3204.9 1267.2,3204.9 1268.2,3205.1 1269.2,3205.6 1270.2,3205.7 1271.2,3205.8 1272.2,3204.9 1273.2,3205.7 1274.2,3205.6 1275.2,3205.7 1276.2,3206.2 1277.2,3206.7 1278.2,3205.4 1279.2,3205.6 1280.2,3204.5 1281.2,3206.0 1282.2,3206.0 1283.2,3205.9 1284.2,3206.3 1285.2,3205.8 1286.2,3205.7 1287.2,3206.2 1288.2,3206.6 1289.2,3206.7 1290.2,3205.7 1291.2,3205.6 1292.2,3205.9 1293.2,3205.8 1294.2,3205.1 1295.2,3205.6 1296.2,3205.6 1297.2,3206.7 1298.2,3206.6 1299.2,3207.6 1300.2,3207.2 1301.2,3206.7 1302.2,3206.3 1303.2,3205.7 1304.2,3206.1 1305.2,3205.0 1306.2,3205.2 1307.2,3206.7 1308.2,3206.3 1309.2,3207.3 1310.2,3206.0 1311.2,3207.0 1312.2,3205.9 1313.2,3206.4 1314.2,3206.0 1315.2,3206.6 1316.2,3206.0 1317.2,3206.5 1318.2,3206.1 1319.2,3206.2 1320.2,3206.7 1321.2,3205.5 1322.2,3205.2 1323.2,3205.9 1324.2,3205.9 1325.2,3206.4 1326.2,3206.4 1327.2,3206.5 1328.2,3206.8 1329.2,3207.8 1330.2,3207.9 1331.2,3208.5 1332.2,3207.0 1333.2,3207.4 1334.2,3207.2 1335.2,3207.9 1336.2,3208.0 1337.2,3207.6 1338.2,3208.0 1339.2,3208.0 1340.2,3208.3 1341.2,3207.2 1342.2,3207.2 1343.2,3208.1 1344.2,3206.3 1345.2,3207.4 1346.2,3207.4 1347.2,3207.1 1348.2,3207.9 1349.2,3207.9 1350.2,3207.0 1351.2,3207.5 1352.2,3207.3 1353.2,3207.3 1354.2,3206.6 1355.2,3206.3 1356.2,3206.5 1357.2,3206.9 1358.2,3206.8 1359.2,3206.0 1360.2,3206.5 1361.2,3207.1 1362.2,3207.0 1363.2,3208.1 1364.2,3207.1 1365.2,3208.0 1366.2,3208.2 1367.2,3208.1 1368.2,3208.0 1369.2,3206.4 1370.2,3208.7 1371.2,3207.2 1372.2,3208.5 1373.2,3208.1 1374.2,3207.3 1375.2,3207.3 1376.2,3207.4 1377.2,3206.5 1378.2,3206.7 1379.2,3207.1 1380.2,3207.9 1381.2,3206.2 1382.2,3206.7 1383.2,3207.1 1384.2,3206.2 1385.2,3208.0 1386.2,3206.8 1387.2,3207.5 1388.2,3207.7 1389.2,3208.2 1390.2,3208.8 1391.2,3209.5 1392.2,3208.7 1393.2,3208.9 1394.2,3207.8 1395.2,3208.4 1396.2,3207.6 1397.2,3207.8 1398.2,3206.9 1399.2,3208.6 1400.2,3207.8 1401.2,3207.9 1402.2,3209.0 1403.2,3208.6 1404.2,3208.8 1405.2,3209.9 1406.2,3207.8 1407.2,3208.8 1408.2,3209.4 1409.2,3208.4 1410.2,3207.7 1411.2,3209.2 1412.2,3208.9 1413.2,3208.5 1414.2,3208.9 1415.2,3208.8 1416.2,3208.6 1417.2,3208.7 1418.2,3208.4 1419.2,3207.7 1420.2,3208.7 1421.2,3207.4 1422.2,3207.5 1423.2,3208.3 1424.2,3207.2 1425.2,3208.5 1426.2,3208.6 1427.2,3208.9 1428.2,3208.1 1429.2,3209.0 1430.2,3208.1 1431.2,3208.4 1432.2,3208.1 1433.2,3208.3 1434.2,3207.5 1435.2,3207.8 1436.2,3206.4 1437.2,3207.2 1438.2,3206.1 1439.2,3206.3 1440.2,3206.0 1441.2,3207.4 1442.2,3206.4 1443.2,3205.1 1444.2,3205.3 1445.2,3204.9 1446.2,3204.9 1447.2,3203.9 1448.2,3203.6 1449.2,3203.5 1450.2,3203.8 1451.2,3204.8 1452.2,3204.8 1453.2,3205.3 1454.2,3206.3 1455.2,3205.9 1456.2,3207.3 1457.2,3207.7 1458.2,3206.8 1459.2,3208.0 1460.2,3207.4 1461.2,3207.4 1462.2,3208.2 1463.2,3206.9 1464.2,3207.5 1465.2,3207.2 1466.2,3207.9 1467.2,3207.1 1468.2,3208.8 1469.2,3208.3 1470.2,3208.8 1471.2,3208.2 1472.2,3207.9 1473.2,3208.1 1474.2,3207.9 1475.2,3208.9 1476.2,3208.8 1477.2,3207.9 1478.2,3208.3 1479.2,3207.3 1480.2,3207.9 1481.2,3207.6 1482.2,3207.5 1483.2,3208.0 1484.2,3208.1 1485.2,3207.5 1486.2,3206.8 1487.2,3207.5 1488.2,3207.6 1489.2,3208.2 1490.2,3208.8 1491.2,3208.9 1492.2,3208.3 1493.2,3208.6 1494.2,3208.5 1495.2,3207.6 1496.2,3208.6 1497.2,3207.8 1498.2,3208.1 1499.2,3207.4 1500.2,3207.9 1501.2,3208.6 1502.2,3208.0 1503.2,3208.8 1504.2,3209.1 1505.2,3208.4 1506.2,3209.6 1507.2,3209.1 1508.2,3209.6 1509.2,3207.4 1510.2,3208.9 1511.2,3208.1 1512.2,3208.8 1513.2,3209.2 1514.2,3209.4 1515.2,3208.8 1516.2,3209.2 1517.2,3210.0 1518.2,3209.4 1519.2,3207.8 1520.2,3209.1 1521.2,3208.7 1522.2,3208.9 1523.2,3209.1 1524.2,3209.6 1525.2,3208.6 1526.2,3209.9 1527.2,3210.4 1528.2,3210.1 1529.2,3209.2 1530.2,3208.1 1531.2,3207.9 1532.2,3208.4 1533.2,3207.2 1534.2,3207.3 1535.2,3206.2 1536.2,3206.7 1537.2,3206.2 1538.2,3206.3 1539.2,3206.7 1540.2,3206.3 1541.2,3206.0 1542.2,3204.9 1543.2,3205.5 1544.2,3206.4 1545.2,3204.5 1546.2,3203.6 1547.2,3203.7 1548.2,3205.4 1549.2,3204.4 1550.2,3203.6 1551.2,3204.6 1552.2,3205.0 1553.2,3206.0 1554.2,3205.5 1555.2,3205.8 1556.2,3206.9 1557.2,3206.2 1558.2,3207.5 1559.2,3207.6 1560.2,3208.5 1561.2,3208.2 1562.2,3208.5 1563.2,3209.2 1564.2,3209.0 1565.2,3208.5 1566.2,3208.6 1567.2,3209.1 1568.2,3210.0 1569.2,3209.6 1570.2,3209.0 1571.2,3209.7 1572.2,3209.3 1573.2,3210.7 1574.2,3209.8 1575.2,3209.3 1576.2,3209.8 1577.2,3208.9 1578.2,3209.7 1579.2,3209.0 1580.2,3208.6 1581.2,3209.1 1582.2,3209.1 1583.2,3209.4 1584.2,3209.8 1585.2,3210.4 1586.2,3210.1 1587.2,3209.5 1588.2,3209.3 1589.2,3209.9 1590.2,3209.6 1591.2,3209.5 1592.2,3210.4 1593.2,3210.5 1594.2,3211.4 1595.2,3210.7 1596.2,3211.2 1597.2,3211.6 1598.2,3211.0 1599.2,3210.3 1600.2,3210.3 1601.2,3209.2 1602.2,3209.4 1603.2,3209.4 1604.2,3209.6 1605.2,3209.5 1606.2,3209.9 1607.2,3210.9 1608.2,3209.9 1609.2,3210.5 1610.2,3210.8 1611.2,3210.9 1612.2,3210.1 1613.2,3209.9 1614.2,3210.2 1615.2,3210.0 1616.2,3208.8 1617.2,3210.6 1618.2,3209.5 1619.2,3210.0 1620.2,3209.9 1621.2,3208.3 1622.2,3209.4 1623.2,3209.0 1624.2,3210.0 1625.2,3209.8 1626.2,3210.2 1627.2,3209.6 1628.2,3209.1 1629.2,3209.6 1630.2,3209.6 1631.2,3209.9 1632.2,3209.8 1633.2,3209.7 1634.2,3209.2 1635.2,3208.6 1636.2,3209.0 1637.2,3208.3 1638.2,3208.7 1639.2,3208.9 1640.2,3209.9 1641.2,3209.6 1642.2,3210.4 1643.2,3210.3 1644.2,3210.3 1645.2,3210.6 1646.2,3209.7 1647.2,3209.8 1648.2,3209.7 1649.2,3209.5 1650.2,3209.7 1651.2,3209.5 1652.2,3209.8 1653.2,3211.4 1654.2,3210.2 1655.2,3210.2 1656.2,3211.3 1657.2,3210.9 1658.2,3211.8 1659.2,3212.0 1660.2,3212.2 1661.2,3211.8 1662.2,3211.2 1663.2,3210.9 1664.2,3211.4 1665.2,3210.5 1666.2,3211.2 1667.2,3210.4 1668.2,3210.4 1669.2,3210.4 1670.2,3210.2 1671.2,3210.1 1672.2,3209.5 1673.2,3210.3 1674.2,3209.7 1675.2,3211.0 1676.2,3210.0 1677.2,3210.8 1678.2,3211.0 1679.2,3210.6 1680.2,3211.0 1681.2,3210.3 1682.2,3211.7 1683.2,3210.9 1684.2,3209.8 1685.2,3211.1 1686.2,3209.5 1687.2,3209.6 1688.2,3209.3 1689.2,3210.5 1690.2,3209.2 1691.2,3210.0 1692.2,3209.5 1693.2,3210.9 1694.2,3209.8 1695.2,3210.3 1696.2,3209.6 1697.2,3210.3 1698.2,3210.3 1699.2,3209.1 1700.2,3209.5 1701.2,3210.3 1702.2,3209.2 1703.2,3209.4 1704.2,3209.8 1705.2,3208.7 1706.2,3208.8 1707.2,3209.3 1708.2,3208.9 1709.2,3208.4 1710.2,3208.8 1711.2,3207.5 1712.2,3208.8 1713.2,3207.8 1714.2,3207.3 1715.2,3206.1 1716.2,3206.4 1717.2,3205.1 1718.2,3206.6 1719.2,3206.3 1720.2,3205.9 1721.2,3206.9 1722.2,3207.0 1723.2,3207.5 1724.2,3208.1 1725.2,3207.8 1726.2,3208.7 1727.2,3208.5 1728.2,3209.6 1729.2,3208.2 1730.2,3208.4 1731.2,3208.7 1732.2,3209.3 1733.2,3208.7 1734.2,3208.8 1735.2,3208.6 1736.2,3208.7 1737.2,3208.9 1738.2,3209.2 1739.2,3207.7 1740.2,3208.7 1741.2,3209.0 1742.2,3209.1 1743.2,3208.4 1744.2,3209.0 1745.2,3209.3 1746.2,3210.6 1747.2,3210.7 1748.2,3210.3 1749.2,3210.5 1750.2,3210.2 1751.2,3210.8 1752.2,3211.0 1753.2,3211.2 1754.2,3211.1 1755.2,3211.6 1756.2,3210.5 1757.2,3212.0 1758.2,3210.7 1759.2,3211.1 1760.2,3210.9 1761.2,3211.0 1762.2,3211.3 1763.2,3211.6 1764.2,3210.3 1765.2,3211.4 1766.2,3211.6 1767.2,3210.1 1768.2,3211.1 1769.2,3210.1 1770.2,3210.1 1771.2,3210.4 1772.2,3209.4 1773.2,3209.8 1774.2,3210.7 1775.2,3210.7 1776.2,3210.8 1777.2,3211.2 1778.2,3210.2 1779.2,3211.2 1780.2,3211.4 1781.2,3210.8 1782.2,3211.9 1783.2,3211.2 1784.2,3211.3 1785.2,3210.9 1786.2,3210.8 1787.2,3211.6 1788.2,3212.6 1789.2,3211.8 1790.2,3212.4 1791.2,3211.6 1792.2,3211.4 1793.2,3212.2 1794.2,3212.9 1795.2,3212.5 1796.2,3212.3 1797.2,3212.2 1798.2,3211.7 1799.2,3211.1 1800.2,3211.6 1801.2,3210.3 1802.2,3210.6 1803.2,3211.4 1804.2,3211.0 1805.2,3210.4 1806.2,3211.4 1807.2,3211.6 1808.2,3211.4 1809.2,3211.1 1810.2,3212.5 1811.2,3212.2 1812.2,3212.1 1813.2,3212.1 1814.2,3212.5 1815.2,3211.6 1816.2,3211.8 1817.2,3211.9 1818.2,3212.2 1819.2,3211.7 1820.2,3211.8 1821.2,3211.3 1822.2,3211.7 1823.2,3212.3 1824.2,3212.3 1825.2,3212.6 1826.2,3211.2 1827.2,3211.4 1828.2,3212.0 1829.2,3212.1 1830.2,3212.3 1831.2,3212.1 1832.2,3211.7 1833.2,3211.3 1834.2,3211.1 1835.2,3211.2 1836.2,3210.9 1837.2,3211.3 1838.2,3211.4 1839.2,3211.1 1840.2,3211.7 1841.2,3211.4 1842.2,3211.6 1843.2,3210.9 1844.2,3210.8 1845.2,3211.0 1846.2,3211.4 1847.2,3211.9 1848.2,3212.1 1849.2,3212.1 1850.2,3211.3 1851.2,3211.7 1852.2,3211.9 1853.2,3212.8 1854.2,3212.9 1855.2,3213.7 1856.2,3213.1 1857.2,3213.0 1858.2,3213.2 1859.2,3213.6 1860.2,3213.1 1861.2,3213.1 1862.2,3212.7 1863.2,3211.8 1864.2,3212.5 1865.2,3212.8 1866.2,3213.3 1867.2,3212.2 1868.2,3211.9 1869.2,3212.0 1870.2,3211.5 1871.2,3212.5 1872.2,3212.2 1873.2,3211.1 1874.2,3212.0 1875.2,3212.3 1876.2,3213.3 1877.2,3213.3 1878.2,3213.2 1879.2,3213.4 1880.2,3212.6 1881.2,3214.0 1882.2,3212.5 1883.2,3213.3 1884.2,3213.6 1885.2,3213.2 1886.2,3212.5 1887.2,3212.7 1888.2,3212.9 1889.2,3213.1 1890.2,3213.2 1891.2,3212.3 1892.2,3212.1 1893.2,3213.3 1894.2,3212.9 1895.2,3213.8 1896.2,3212.7 1897.2,3212.8 1898.2,3211.9 1899.2,3211.9 1900.2,3213.1 1901.2,3213.7 1902.2,3212.8 1903.2,3213.4 1904.2,3212.9 1905.2,3213.9 1906.2,3213.6 1907.2,3214.1 1908.2,3213.8 1909.2,3214.0 1910.2,3213.4 1911.2,3213.5 1912.2,3213.1 1913.2,3213.5 1914.2,3213.2 1915.2,3213.2 1916.2,3213.2 1917.2,3213.1 1918.2,3213.6 1919.2,3213.2 1920.2,3212.9 1921.2,3213.4 1922.2,3213.2 1923.2,3213.1 1924.2,3213.6 1925.2,3213.9 1926.2,3212.8 1927.2,3212.0 1927.8,3213.1" stroke="#4D4D4D"/>
</g>
<rect x="142.75" y="31.25" width="1785.5" height="1405" fill="none" stroke="#000" stroke-width="5.5"/>
<rect x="142.75" y="1907" width="1785.5" height="1404" fill="none" stroke="#000" stroke-width="5.5"/>
<path d="M142.75 3311V3337.5M217.15 3311V3324M291.54 3311V3337.5M365.94 3311V3324M440.33 3311V3337.5M514.73 3311V3324M589.12 3311V3337.5M663.52 3311V3324M737.92 3311V3337.5M812.31 3311V3324M886.71 3311V3337.5M961.10 3311V3324M1035.50 3311V3337.5M1109.90 3311V3324M1184.29 3311V3337.5M1258.69 3311V3324M1333.08 3311V3337.5M1407.48 3311V3324M1481.88 3311V3337.5M1556.27 3311V3324M1630.67 3311V3337.5M1705.06 3311V3324M1779.46 3311V3337.5M1853.85 3311V3324M1928.25 3311V3337.5" stroke="#000" stroke-width="5.5" fill="none"/>
<g class="tl">
<text x="142.8" y="1512">10</text>
<text x="291.5" y="1512">15</text>
<text x="440.3" y="1512">20</text>
<text x="589.1" y="1512">25</text>
<text x="737.9" y="1512">30</text>
<text x="886.7" y="1512">35</text>
<text x="1035.5" y="1512">40</text>
<text x="1184.3" y="1512">45</text>
<text x="1333.1" y="1512">50</text>
<text x="1481.9" y="1512">55</text>
<text x="1630.7" y="1512">60</text>
<text x="1779.5" y="1512">65</text>
<text x="1928.2" y="1512">70</text>
</g>
<g class="tl">
<text x="142.8" y="3403.5">10</text>
<text x="291.5" y="3403.5">15</text>
<text x="440.3" y="3403.5">20</text>
<text x="589.1" y="3403.5">25</text>
<text x="737.9" y="3403.5">30</text>
<text x="886.7" y="3403.5">35</text>
<text x="1035.5" y="3403.5">40</text>
<text x="1184.3" y="3403.5">45</text>
<text x="1333.1" y="3403.5">50</text>
<text x="1481.9" y="3403.5">55</text>
<text x="1630.7" y="3403.5">60</text>
<text x="1779.5" y="3403.5">65</text>
<text x="1928.2" y="3403.5">70</text>
</g>
<text class="at" x="837.4" y="1621">2-theta (degree)</text>
<text class="at" x="874.7" y="3514.6">2-theta (degree)</text>
<text class="at" transform="translate(96.1 978.4) rotate(-90)">Intensity (a.u.)</text>
<text class="at" transform="translate(102.7 2842.3) rotate(-90)">Intensity (a.u.)</text>
<g class="lb">
<text x="1913.7" y="248">Zn</text>
<text x="1911.9" y="406.2">Mn</text>
<text x="1911.3" y="525.8">Ce</text>
<text x="1898.7" y="813.6">K</text>
<text x="1891.8" y="1085.6">Na</text>
<text x="1922" y="1330.5">unpromoted</text>
</g>
<g class="lb">
<text x="1908.1" y="2099.9">Zn</text>
<text x="1915.4" y="2307.3">Mn</text>
<text x="1916.1" y="2623.3">Ce</text>
<text x="1903.2" y="2842.7">K</text>
<text x="1898.6" y="3098.9">Na</text>
<text x="1923.4" y="3195.5">unpromoted</text>
</g>
<text class="cap" x="953" y="1821.5">(</text><text class="cap" x="980.9" y="1821.5" font-weight="bold">a</text><text class="cap" x="1022" y="1821.5">)</text>
<text class="cap" x="948" y="3696.5">(</text><text class="cap" x="978" y="3696.5" font-weight="bold">b</text><text class="cap" x="1026" y="3696.5">)</text>
</svg>
</body></html>
